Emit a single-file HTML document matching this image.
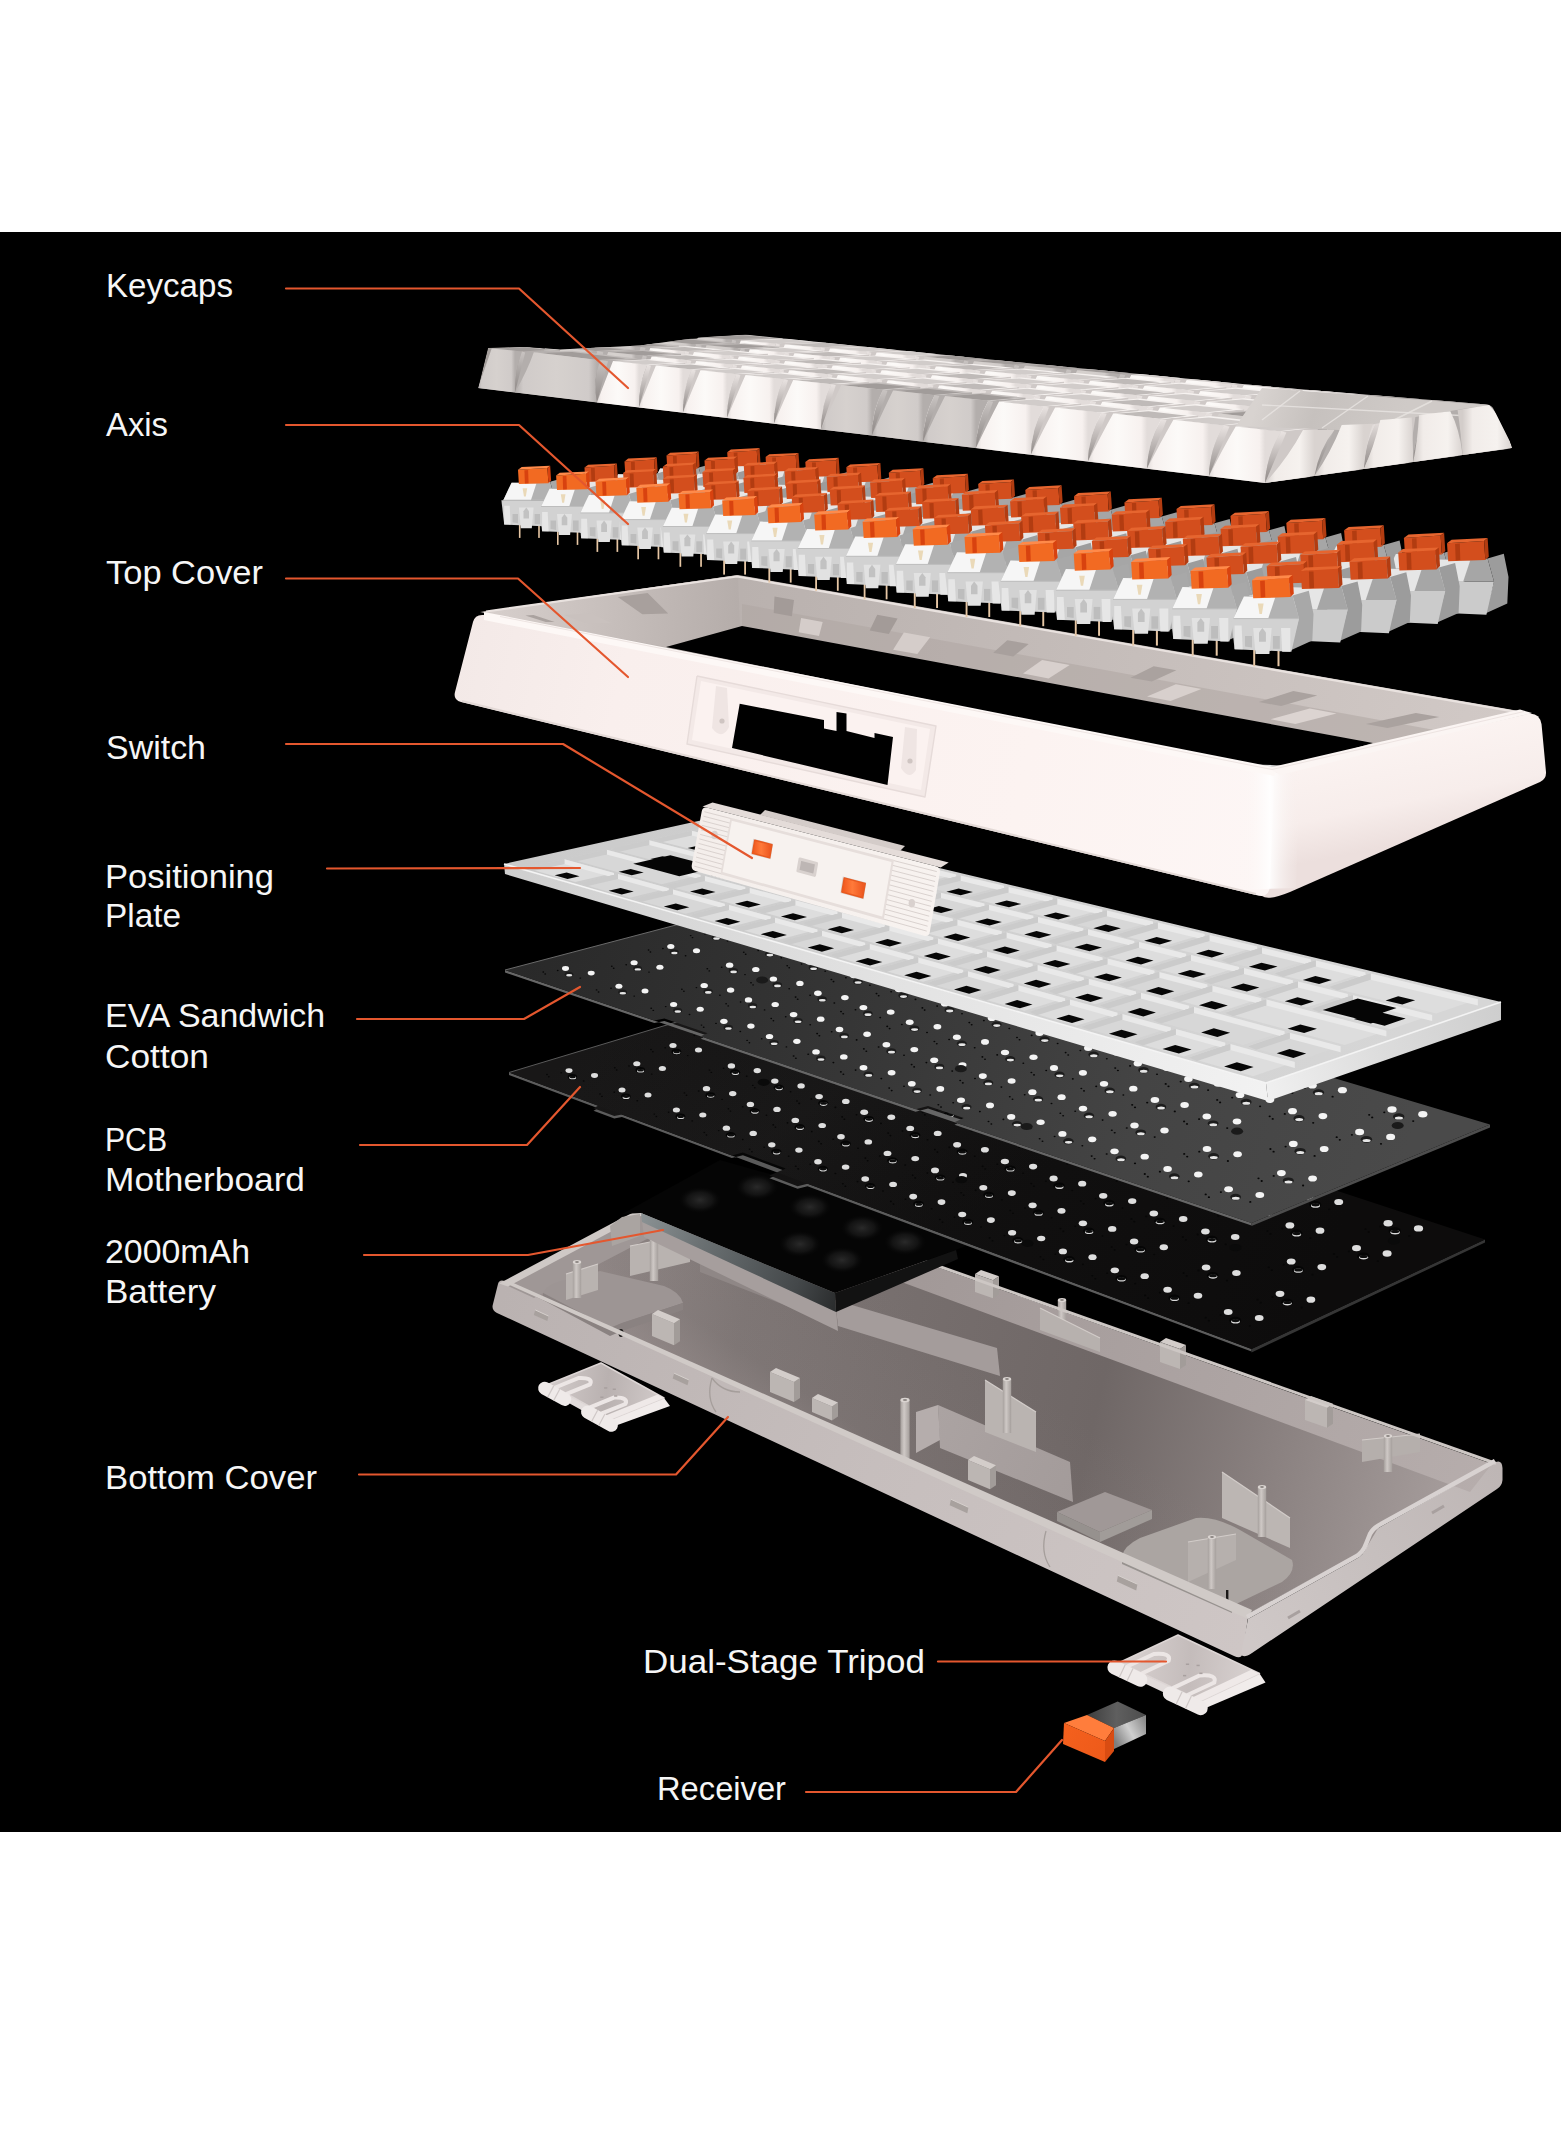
<!DOCTYPE html>
<html><head><meta charset="utf-8"><title>Keyboard exploded view</title>
<style>
html,body{margin:0;padding:0;background:#fff;}
body{width:1561px;height:2129px;overflow:hidden;font-family:"Liberation Sans",sans-serif;}
#stage{position:absolute;left:0;top:232px;width:1561px;height:1600px;background:#000;}
svg{position:absolute;left:0;top:0;display:block;}
</style></head><body>
<div id="stage"></div>
<svg width="1561" height="2129" viewBox="0 0 1561 2129">
<defs>
<linearGradient id="bcFront" gradientUnits="userSpaceOnUse" x1="500" y1="1300" x2="1245" y2="1640"><stop offset="0" stop-color="#bab2b1"/><stop offset="0.5" stop-color="#c6bebd"/><stop offset="1" stop-color="#cec6c5"/></linearGradient>
<linearGradient id="bcRight" gradientUnits="userSpaceOnUse" x1="1250" y1="1640" x2="1500" y2="1470"><stop offset="0" stop-color="#cfc8c7"/><stop offset="0.5" stop-color="#c6bfbe"/><stop offset="1" stop-color="#beb6b5"/></linearGradient>
<linearGradient id="bcFloor" gradientUnits="userSpaceOnUse" x1="560" y1="1300" x2="1450" y2="1500"><stop offset="0" stop-color="#908786"/><stop offset="0.2" stop-color="#7c7473"/><stop offset="0.6" stop-color="#6f6766"/><stop offset="0.8" stop-color="#8a8180"/><stop offset="1" stop-color="#a59c9b"/></linearGradient>
<linearGradient id="bcFloor2" gradientUnits="userSpaceOnUse" x1="1020" y1="1380" x2="900" y2="1560"><stop offset="0" stop-color="#988e8d" stop-opacity="0"/><stop offset="0.6" stop-color="#988e8d" stop-opacity="0.1"/><stop offset="1" stop-color="#9d9392" stop-opacity="0.8"/></linearGradient>
<linearGradient id="bcBack" gradientUnits="userSpaceOnUse" x1="700" y1="1184" x2="1491" y2="1465"><stop offset="0" stop-color="#9a9190"/><stop offset="1" stop-color="#b6adac"/></linearGradient>
<linearGradient id="pg1062_1300" gradientUnits="userSpaceOnUse" x1="1057.8" y1="0" x2="1066.2" y2="0"><stop offset="0" stop-color="#a59f9c"/><stop offset="0.4" stop-color="#cfc9c6"/><stop offset="1" stop-color="#a59f9c"/></linearGradient>
<linearGradient id="pg1388_1436" gradientUnits="userSpaceOnUse" x1="1383.8" y1="0" x2="1392.2" y2="0"><stop offset="0" stop-color="#a59f9c"/><stop offset="0.4" stop-color="#cfc9c6"/><stop offset="1" stop-color="#a59f9c"/></linearGradient>
<linearGradient id="bcMid" gradientUnits="userSpaceOnUse" x1="910" y1="1420" x2="1075" y2="1500"><stop offset="0" stop-color="#aca4a3"/><stop offset="1" stop-color="#a39b9a"/></linearGradient>
<linearGradient id="pg1007_1379" gradientUnits="userSpaceOnUse" x1="1002.8" y1="0" x2="1011.2" y2="0"><stop offset="0" stop-color="#a59f9c"/><stop offset="0.4" stop-color="#cfc9c6"/><stop offset="1" stop-color="#a59f9c"/></linearGradient>
<linearGradient id="pg905_1400" gradientUnits="userSpaceOnUse" x1="900.4" y1="0" x2="909.6" y2="0"><stop offset="0" stop-color="#a59f9c"/><stop offset="0.4" stop-color="#cfc9c6"/><stop offset="1" stop-color="#a59f9c"/></linearGradient>
<linearGradient id="pg577_1262" gradientUnits="userSpaceOnUse" x1="572.8" y1="0" x2="581.2" y2="0"><stop offset="0" stop-color="#a59f9c"/><stop offset="0.4" stop-color="#cfc9c6"/><stop offset="1" stop-color="#a59f9c"/></linearGradient>
<linearGradient id="pg654_1239" gradientUnits="userSpaceOnUse" x1="649.8" y1="0" x2="658.2" y2="0"><stop offset="0" stop-color="#a59f9c"/><stop offset="0.4" stop-color="#cfc9c6"/><stop offset="1" stop-color="#a59f9c"/></linearGradient>
<linearGradient id="pg1262_1487" gradientUnits="userSpaceOnUse" x1="1257.8" y1="0" x2="1266.2" y2="0"><stop offset="0" stop-color="#a59f9c"/><stop offset="0.4" stop-color="#cfc9c6"/><stop offset="1" stop-color="#a59f9c"/></linearGradient>
<linearGradient id="pg1212_1537" gradientUnits="userSpaceOnUse" x1="1207.8" y1="0" x2="1216.2" y2="0"><stop offset="0" stop-color="#a59f9c"/><stop offset="0.4" stop-color="#cfc9c6"/><stop offset="1" stop-color="#a59f9c"/></linearGradient>
<radialGradient id="bump"><stop offset="0" stop-color="#2a2a2a"/><stop offset="0.6" stop-color="#1a1a1a" stop-opacity="0.7"/><stop offset="1" stop-color="#0a0a0a" stop-opacity="0"/></radialGradient>
<linearGradient id="batF" gradientUnits="userSpaceOnUse" x1="641" y1="1220" x2="836" y2="1300"><stop offset="0" stop-color="#8a9193"/><stop offset="0.3" stop-color="#6b7173"/><stop offset="0.8" stop-color="#44484a"/><stop offset="1" stop-color="#2c2e2f"/></linearGradient>
<linearGradient id="pcbTop" gradientUnits="userSpaceOnUse" x1="600" y1="1040" x2="1300" y2="1330"><stop offset="0" stop-color="#181717"/><stop offset="0.5" stop-color="#111010"/><stop offset="1" stop-color="#0d0c0c"/></linearGradient>
<linearGradient id="pcbSheen" gradientUnits="userSpaceOnUse" x1="650" y1="1000" x2="850" y2="1300"><stop offset="0" stop-color="#3a3a3a" stop-opacity="0"/><stop offset="0.5" stop-color="#444" stop-opacity="0.1"/><stop offset="1" stop-color="#3a3a3a" stop-opacity="0"/></linearGradient>
<linearGradient id="evaTop" gradientUnits="userSpaceOnUse" x1="520" y1="960" x2="1400" y2="1180"><stop offset="0" stop-color="#292929"/><stop offset="0.3" stop-color="#333333"/><stop offset="0.7" stop-color="#444444"/><stop offset="1" stop-color="#4a4a4a"/></linearGradient>
<linearGradient id="plF" gradientUnits="userSpaceOnUse" x1="504" y1="870" x2="1266" y2="1095"><stop offset="0" stop-color="#cfcfcf"/><stop offset="0.5" stop-color="#e2e2e2"/><stop offset="1" stop-color="#f2f2f2"/></linearGradient>
<linearGradient id="plR" gradientUnits="userSpaceOnUse" x1="1266" y1="1090" x2="1501" y2="1010"><stop offset="0" stop-color="#f0f0f0"/><stop offset="0.5" stop-color="#dcdcdc"/><stop offset="1" stop-color="#cecece"/></linearGradient>
<linearGradient id="plT" gradientUnits="userSpaceOnUse" x1="520" y1="850" x2="1400" y2="1050"><stop offset="0" stop-color="#cbcbcb"/><stop offset="0.5" stop-color="#d0d0d0"/><stop offset="1" stop-color="#d6d6d6"/></linearGradient>
<linearGradient id="portF" gradientUnits="userSpaceOnUse" x1="700" y1="820" x2="935" y2="930"><stop offset="0" stop-color="#f4eeeb"/><stop offset="1" stop-color="#f8f3f0"/></linearGradient>
<linearGradient id="sw25" gradientUnits="userSpaceOnUse" x1="752.5" y1="0" x2="769.7" y2="0"><stop offset="0" stop-color="#f0551b"/><stop offset="0.5" stop-color="#ff7a3a"/><stop offset="1" stop-color="#ee5a22"/></linearGradient>
<linearGradient id="sw64" gradientUnits="userSpaceOnUse" x1="841.9" y1="0" x2="862.7" y2="0"><stop offset="0" stop-color="#f0551b"/><stop offset="0.5" stop-color="#ff7a3a"/><stop offset="1" stop-color="#ee5a22"/></linearGradient>
<linearGradient id="tcBack" gradientUnits="userSpaceOnUse" x1="738" y1="600" x2="1530" y2="740"><stop offset="0" stop-color="#b9b1ae"/><stop offset="0.5" stop-color="#c6bebb"/><stop offset="1" stop-color="#d2cac7"/></linearGradient>
<linearGradient id="tcLeft" gradientUnits="userSpaceOnUse" x1="480" y1="612" x2="738" y2="626"><stop offset="0" stop-color="#d8d0cd"/><stop offset="1" stop-color="#b5adaa"/></linearGradient>
<linearGradient id="tcRight" gradientUnits="userSpaceOnUse" x1="1400" y1="740" x2="1420" y2="840"><stop offset="0" stop-color="#fbf3f1"/><stop offset="0.6" stop-color="#f7edeb"/><stop offset="1" stop-color="#ecdfdd"/></linearGradient>
<linearGradient id="tcFront" gradientUnits="userSpaceOnUse" x1="455" y1="660" x2="1268" y2="830"><stop offset="0" stop-color="#f3e9e7"/><stop offset="0.2" stop-color="#f9efed"/><stop offset="0.7" stop-color="#fcf3f1"/><stop offset="1" stop-color="#fdf6f5"/></linearGradient>
<linearGradient id="tcCorner" gradientUnits="userSpaceOnUse" x1="1240" y1="0" x2="1300" y2="0"><stop offset="0" stop-color="#fbf4f2" stop-opacity="0"/><stop offset="0.5" stop-color="#ffffff" stop-opacity="0.9"/><stop offset="1" stop-color="#f6eeec" stop-opacity="0"/></linearGradient>
<clipPath id="kcClip"><path d="M478,389 L488,347.5 L520,346.5 L560,349.5 L640,345.5 L700,337.5 L745,334.5 L1000,360.5 L1268,386.5 L1487,404.5 Q1492,405 1494,410 L1512,446 Q1513,449 1509,449.5 L1265,484 Z"/></clipPath>
<linearGradient id="kc4_0" gradientUnits="userSpaceOnUse" x1="684.4" y1="0" x2="726.3" y2="0"><stop offset="0" stop-color="#b3aeac"/><stop offset="0.1" stop-color="#d0cbc9"/><stop offset="0.5" stop-color="#d6d1ce"/><stop offset="0.9" stop-color="#d0cbc9"/><stop offset="1" stop-color="#b3aeac"/></linearGradient>
<linearGradient id="kc4_0v" gradientUnits="userSpaceOnUse" x1="0" y1="378.7" x2="0" y2="339.7"><stop offset="0" stop-color="#8f8987"/><stop offset="0.5" stop-color="#a9a4a2"/><stop offset="1" stop-color="#c9c4c2"/></linearGradient>
<linearGradient id="kc4_1" gradientUnits="userSpaceOnUse" x1="726.3" y1="0" x2="769.5" y2="0"><stop offset="0" stop-color="#e2dcda"/><stop offset="0.1" stop-color="#f7f1ef"/><stop offset="0.5" stop-color="#fcfaf8"/><stop offset="0.9" stop-color="#f7f1ef"/><stop offset="1" stop-color="#e2dcda"/></linearGradient>
<linearGradient id="kc4_1v" gradientUnits="userSpaceOnUse" x1="0" y1="383.2" x2="0" y2="343.6"><stop offset="0" stop-color="#8f8987"/><stop offset="0.5" stop-color="#bdb7b5"/><stop offset="1" stop-color="#e9e3e1"/></linearGradient>
<linearGradient id="kc4_2" gradientUnits="userSpaceOnUse" x1="769.5" y1="0" x2="814" y2="0"><stop offset="0" stop-color="#e2dcda"/><stop offset="0.1" stop-color="#f7f1ef"/><stop offset="0.5" stop-color="#fcfaf8"/><stop offset="0.9" stop-color="#f7f1ef"/><stop offset="1" stop-color="#e2dcda"/></linearGradient>
<linearGradient id="kc4_2v" gradientUnits="userSpaceOnUse" x1="0" y1="387.8" x2="0" y2="347.6"><stop offset="0" stop-color="#8f8987"/><stop offset="0.5" stop-color="#bdb7b5"/><stop offset="1" stop-color="#e9e3e1"/></linearGradient>
<linearGradient id="kc4_3" gradientUnits="userSpaceOnUse" x1="814" y1="0" x2="859.8" y2="0"><stop offset="0" stop-color="#e2dcda"/><stop offset="0.1" stop-color="#f7f1ef"/><stop offset="0.5" stop-color="#fcfaf8"/><stop offset="0.9" stop-color="#f7f1ef"/><stop offset="1" stop-color="#e2dcda"/></linearGradient>
<linearGradient id="kc4_3v" gradientUnits="userSpaceOnUse" x1="0" y1="392.6" x2="0" y2="351.7"><stop offset="0" stop-color="#8f8987"/><stop offset="0.5" stop-color="#bdb7b5"/><stop offset="1" stop-color="#e9e3e1"/></linearGradient>
<linearGradient id="kc4_4" gradientUnits="userSpaceOnUse" x1="859.8" y1="0" x2="907" y2="0"><stop offset="0" stop-color="#e2dcda"/><stop offset="0.1" stop-color="#f7f1ef"/><stop offset="0.5" stop-color="#fcfaf8"/><stop offset="0.9" stop-color="#f7f1ef"/><stop offset="1" stop-color="#e2dcda"/></linearGradient>
<linearGradient id="kc4_4v" gradientUnits="userSpaceOnUse" x1="0" y1="397.5" x2="0" y2="356"><stop offset="0" stop-color="#8f8987"/><stop offset="0.5" stop-color="#bdb7b5"/><stop offset="1" stop-color="#e9e3e1"/></linearGradient>
<linearGradient id="kc4_5" gradientUnits="userSpaceOnUse" x1="907" y1="0" x2="955.5" y2="0"><stop offset="0" stop-color="#b3aeac"/><stop offset="0.1" stop-color="#d0cbc9"/><stop offset="0.5" stop-color="#d6d1ce"/><stop offset="0.9" stop-color="#d0cbc9"/><stop offset="1" stop-color="#b3aeac"/></linearGradient>
<linearGradient id="kc4_5v" gradientUnits="userSpaceOnUse" x1="0" y1="402.5" x2="0" y2="360.4"><stop offset="0" stop-color="#8f8987"/><stop offset="0.5" stop-color="#a9a4a2"/><stop offset="1" stop-color="#c9c4c2"/></linearGradient>
<linearGradient id="kc4_6" gradientUnits="userSpaceOnUse" x1="955.5" y1="0" x2="1005.5" y2="0"><stop offset="0" stop-color="#b3aeac"/><stop offset="0.1" stop-color="#d0cbc9"/><stop offset="0.5" stop-color="#d6d1ce"/><stop offset="0.9" stop-color="#d0cbc9"/><stop offset="1" stop-color="#b3aeac"/></linearGradient>
<linearGradient id="kc4_6v" gradientUnits="userSpaceOnUse" x1="0" y1="407.7" x2="0" y2="364.9"><stop offset="0" stop-color="#8f8987"/><stop offset="0.5" stop-color="#a9a4a2"/><stop offset="1" stop-color="#c9c4c2"/></linearGradient>
<linearGradient id="kc4_7" gradientUnits="userSpaceOnUse" x1="1005.5" y1="0" x2="1057" y2="0"><stop offset="0" stop-color="#b3aeac"/><stop offset="0.1" stop-color="#d0cbc9"/><stop offset="0.5" stop-color="#d6d1ce"/><stop offset="0.9" stop-color="#d0cbc9"/><stop offset="1" stop-color="#b3aeac"/></linearGradient>
<linearGradient id="kc4_7v" gradientUnits="userSpaceOnUse" x1="0" y1="413" x2="0" y2="369.5"><stop offset="0" stop-color="#8f8987"/><stop offset="0.5" stop-color="#a9a4a2"/><stop offset="1" stop-color="#c9c4c2"/></linearGradient>
<linearGradient id="kc4_8" gradientUnits="userSpaceOnUse" x1="1057" y1="0" x2="1110" y2="0"><stop offset="0" stop-color="#b3aeac"/><stop offset="0.1" stop-color="#d0cbc9"/><stop offset="0.5" stop-color="#d6d1ce"/><stop offset="0.9" stop-color="#d0cbc9"/><stop offset="1" stop-color="#b3aeac"/></linearGradient>
<linearGradient id="kc4_8v" gradientUnits="userSpaceOnUse" x1="0" y1="418.5" x2="0" y2="374.3"><stop offset="0" stop-color="#8f8987"/><stop offset="0.5" stop-color="#a9a4a2"/><stop offset="1" stop-color="#c9c4c2"/></linearGradient>
<linearGradient id="kc4_9" gradientUnits="userSpaceOnUse" x1="1110" y1="0" x2="1164.5" y2="0"><stop offset="0" stop-color="#e2dcda"/><stop offset="0.1" stop-color="#f7f1ef"/><stop offset="0.5" stop-color="#fcfaf8"/><stop offset="0.9" stop-color="#f7f1ef"/><stop offset="1" stop-color="#e2dcda"/></linearGradient>
<linearGradient id="kc4_9v" gradientUnits="userSpaceOnUse" x1="0" y1="424.1" x2="0" y2="379.2"><stop offset="0" stop-color="#8f8987"/><stop offset="0.5" stop-color="#bdb7b5"/><stop offset="1" stop-color="#e9e3e1"/></linearGradient>
<linearGradient id="kc4_10" gradientUnits="userSpaceOnUse" x1="1164.5" y1="0" x2="1220.7" y2="0"><stop offset="0" stop-color="#e2dcda"/><stop offset="0.1" stop-color="#f7f1ef"/><stop offset="0.5" stop-color="#fcfaf8"/><stop offset="0.9" stop-color="#f7f1ef"/><stop offset="1" stop-color="#e2dcda"/></linearGradient>
<linearGradient id="kc4_10v" gradientUnits="userSpaceOnUse" x1="0" y1="429.9" x2="0" y2="384.2"><stop offset="0" stop-color="#8f8987"/><stop offset="0.5" stop-color="#bdb7b5"/><stop offset="1" stop-color="#e9e3e1"/></linearGradient>
<linearGradient id="kc4_11" gradientUnits="userSpaceOnUse" x1="1220.7" y1="0" x2="1278.6" y2="0"><stop offset="0" stop-color="#e2dcda"/><stop offset="0.1" stop-color="#f7f1ef"/><stop offset="0.5" stop-color="#fcfaf8"/><stop offset="0.9" stop-color="#f7f1ef"/><stop offset="1" stop-color="#e2dcda"/></linearGradient>
<linearGradient id="kc4_11v" gradientUnits="userSpaceOnUse" x1="0" y1="435.9" x2="0" y2="389.5"><stop offset="0" stop-color="#8f8987"/><stop offset="0.5" stop-color="#bdb7b5"/><stop offset="1" stop-color="#e9e3e1"/></linearGradient>
<linearGradient id="kc4_12" gradientUnits="userSpaceOnUse" x1="1278.6" y1="0" x2="1338.1" y2="0"><stop offset="0" stop-color="#e2dcda"/><stop offset="0.1" stop-color="#f7f1ef"/><stop offset="0.5" stop-color="#fcfaf8"/><stop offset="0.9" stop-color="#f7f1ef"/><stop offset="1" stop-color="#e2dcda"/></linearGradient>
<linearGradient id="kc4_12v" gradientUnits="userSpaceOnUse" x1="0" y1="442.1" x2="0" y2="394.8"><stop offset="0" stop-color="#8f8987"/><stop offset="0.5" stop-color="#bdb7b5"/><stop offset="1" stop-color="#e9e3e1"/></linearGradient>
<linearGradient id="kc4_13" gradientUnits="userSpaceOnUse" x1="1338.1" y1="0" x2="1399.5" y2="0"><stop offset="0" stop-color="#b3aeac"/><stop offset="0.1" stop-color="#d0cbc9"/><stop offset="0.5" stop-color="#d6d1ce"/><stop offset="0.9" stop-color="#d0cbc9"/><stop offset="1" stop-color="#b3aeac"/></linearGradient>
<linearGradient id="kc4_13v" gradientUnits="userSpaceOnUse" x1="0" y1="448.5" x2="0" y2="400.4"><stop offset="0" stop-color="#8f8987"/><stop offset="0.5" stop-color="#a9a4a2"/><stop offset="1" stop-color="#c9c4c2"/></linearGradient>
<linearGradient id="kc4_14" gradientUnits="userSpaceOnUse" x1="1399.5" y1="0" x2="1462.6" y2="0"><stop offset="0" stop-color="#b3aeac"/><stop offset="0.1" stop-color="#d0cbc9"/><stop offset="0.5" stop-color="#d6d1ce"/><stop offset="0.9" stop-color="#d0cbc9"/><stop offset="1" stop-color="#b3aeac"/></linearGradient>
<linearGradient id="kc4_14v" gradientUnits="userSpaceOnUse" x1="0" y1="455" x2="0" y2="406"><stop offset="0" stop-color="#8f8987"/><stop offset="0.5" stop-color="#a9a4a2"/><stop offset="1" stop-color="#c9c4c2"/></linearGradient>
<linearGradient id="kc3_0" gradientUnits="userSpaceOnUse" x1="632.8" y1="0" x2="691.7" y2="0"><stop offset="0" stop-color="#b3aeac"/><stop offset="0.1" stop-color="#d0cbc9"/><stop offset="0.5" stop-color="#d6d1ce"/><stop offset="0.9" stop-color="#d0cbc9"/><stop offset="1" stop-color="#b3aeac"/></linearGradient>
<linearGradient id="kc3_0v" gradientUnits="userSpaceOnUse" x1="0" y1="384.2" x2="0" y2="344.4"><stop offset="0" stop-color="#8f8987"/><stop offset="0.5" stop-color="#a9a4a2"/><stop offset="1" stop-color="#c9c4c2"/></linearGradient>
<linearGradient id="kc3_1" gradientUnits="userSpaceOnUse" x1="691.7" y1="0" x2="734.3" y2="0"><stop offset="0" stop-color="#b3aeac"/><stop offset="0.1" stop-color="#d0cbc9"/><stop offset="0.5" stop-color="#d6d1ce"/><stop offset="0.9" stop-color="#d0cbc9"/><stop offset="1" stop-color="#b3aeac"/></linearGradient>
<linearGradient id="kc3_1v" gradientUnits="userSpaceOnUse" x1="0" y1="388.7" x2="0" y2="348.4"><stop offset="0" stop-color="#8f8987"/><stop offset="0.5" stop-color="#a9a4a2"/><stop offset="1" stop-color="#c9c4c2"/></linearGradient>
<linearGradient id="kc3_2" gradientUnits="userSpaceOnUse" x1="734.3" y1="0" x2="778.1" y2="0"><stop offset="0" stop-color="#e2dcda"/><stop offset="0.1" stop-color="#f7f1ef"/><stop offset="0.5" stop-color="#fcfaf8"/><stop offset="0.9" stop-color="#f7f1ef"/><stop offset="1" stop-color="#e2dcda"/></linearGradient>
<linearGradient id="kc3_2v" gradientUnits="userSpaceOnUse" x1="0" y1="393.5" x2="0" y2="352.5"><stop offset="0" stop-color="#8f8987"/><stop offset="0.5" stop-color="#bdb7b5"/><stop offset="1" stop-color="#e9e3e1"/></linearGradient>
<linearGradient id="kc3_3" gradientUnits="userSpaceOnUse" x1="778.1" y1="0" x2="823.1" y2="0"><stop offset="0" stop-color="#e2dcda"/><stop offset="0.1" stop-color="#f7f1ef"/><stop offset="0.5" stop-color="#fcfaf8"/><stop offset="0.9" stop-color="#f7f1ef"/><stop offset="1" stop-color="#e2dcda"/></linearGradient>
<linearGradient id="kc3_3v" gradientUnits="userSpaceOnUse" x1="0" y1="398.3" x2="0" y2="356.8"><stop offset="0" stop-color="#8f8987"/><stop offset="0.5" stop-color="#bdb7b5"/><stop offset="1" stop-color="#e9e3e1"/></linearGradient>
<linearGradient id="kc3_4" gradientUnits="userSpaceOnUse" x1="823.1" y1="0" x2="869.5" y2="0"><stop offset="0" stop-color="#e2dcda"/><stop offset="0.1" stop-color="#f7f1ef"/><stop offset="0.5" stop-color="#fcfaf8"/><stop offset="0.9" stop-color="#f7f1ef"/><stop offset="1" stop-color="#e2dcda"/></linearGradient>
<linearGradient id="kc3_4v" gradientUnits="userSpaceOnUse" x1="0" y1="403.3" x2="0" y2="361.2"><stop offset="0" stop-color="#8f8987"/><stop offset="0.5" stop-color="#bdb7b5"/><stop offset="1" stop-color="#e9e3e1"/></linearGradient>
<linearGradient id="kc3_5" gradientUnits="userSpaceOnUse" x1="869.5" y1="0" x2="917.2" y2="0"><stop offset="0" stop-color="#e2dcda"/><stop offset="0.1" stop-color="#f7f1ef"/><stop offset="0.5" stop-color="#fcfaf8"/><stop offset="0.9" stop-color="#f7f1ef"/><stop offset="1" stop-color="#e2dcda"/></linearGradient>
<linearGradient id="kc3_5v" gradientUnits="userSpaceOnUse" x1="0" y1="408.5" x2="0" y2="365.7"><stop offset="0" stop-color="#8f8987"/><stop offset="0.5" stop-color="#bdb7b5"/><stop offset="1" stop-color="#e9e3e1"/></linearGradient>
<linearGradient id="kc3_6" gradientUnits="userSpaceOnUse" x1="917.2" y1="0" x2="966.2" y2="0"><stop offset="0" stop-color="#e2dcda"/><stop offset="0.1" stop-color="#f7f1ef"/><stop offset="0.5" stop-color="#fcfaf8"/><stop offset="0.9" stop-color="#f7f1ef"/><stop offset="1" stop-color="#e2dcda"/></linearGradient>
<linearGradient id="kc3_6v" gradientUnits="userSpaceOnUse" x1="0" y1="413.8" x2="0" y2="370.3"><stop offset="0" stop-color="#8f8987"/><stop offset="0.5" stop-color="#bdb7b5"/><stop offset="1" stop-color="#e9e3e1"/></linearGradient>
<linearGradient id="kc3_7" gradientUnits="userSpaceOnUse" x1="966.2" y1="0" x2="1016.7" y2="0"><stop offset="0" stop-color="#e2dcda"/><stop offset="0.1" stop-color="#f7f1ef"/><stop offset="0.5" stop-color="#fcfaf8"/><stop offset="0.9" stop-color="#f7f1ef"/><stop offset="1" stop-color="#e2dcda"/></linearGradient>
<linearGradient id="kc3_7v" gradientUnits="userSpaceOnUse" x1="0" y1="419.2" x2="0" y2="375"><stop offset="0" stop-color="#8f8987"/><stop offset="0.5" stop-color="#bdb7b5"/><stop offset="1" stop-color="#e9e3e1"/></linearGradient>
<linearGradient id="kc3_8" gradientUnits="userSpaceOnUse" x1="1016.7" y1="0" x2="1068.6" y2="0"><stop offset="0" stop-color="#e2dcda"/><stop offset="0.1" stop-color="#f7f1ef"/><stop offset="0.5" stop-color="#fcfaf8"/><stop offset="0.9" stop-color="#f7f1ef"/><stop offset="1" stop-color="#e2dcda"/></linearGradient>
<linearGradient id="kc3_8v" gradientUnits="userSpaceOnUse" x1="0" y1="424.8" x2="0" y2="379.9"><stop offset="0" stop-color="#8f8987"/><stop offset="0.5" stop-color="#bdb7b5"/><stop offset="1" stop-color="#e9e3e1"/></linearGradient>
<linearGradient id="kc3_9" gradientUnits="userSpaceOnUse" x1="1068.6" y1="0" x2="1122.1" y2="0"><stop offset="0" stop-color="#e2dcda"/><stop offset="0.1" stop-color="#f7f1ef"/><stop offset="0.5" stop-color="#fcfaf8"/><stop offset="0.9" stop-color="#f7f1ef"/><stop offset="1" stop-color="#e2dcda"/></linearGradient>
<linearGradient id="kc3_9v" gradientUnits="userSpaceOnUse" x1="0" y1="430.6" x2="0" y2="385"><stop offset="0" stop-color="#8f8987"/><stop offset="0.5" stop-color="#bdb7b5"/><stop offset="1" stop-color="#e9e3e1"/></linearGradient>
<linearGradient id="kc3_10" gradientUnits="userSpaceOnUse" x1="1122.1" y1="0" x2="1177" y2="0"><stop offset="0" stop-color="#e2dcda"/><stop offset="0.1" stop-color="#f7f1ef"/><stop offset="0.5" stop-color="#fcfaf8"/><stop offset="0.9" stop-color="#f7f1ef"/><stop offset="1" stop-color="#e2dcda"/></linearGradient>
<linearGradient id="kc3_10v" gradientUnits="userSpaceOnUse" x1="0" y1="436.5" x2="0" y2="390.2"><stop offset="0" stop-color="#8f8987"/><stop offset="0.5" stop-color="#bdb7b5"/><stop offset="1" stop-color="#e9e3e1"/></linearGradient>
<linearGradient id="kc3_11" gradientUnits="userSpaceOnUse" x1="1177" y1="0" x2="1233.6" y2="0"><stop offset="0" stop-color="#e2dcda"/><stop offset="0.1" stop-color="#f7f1ef"/><stop offset="0.5" stop-color="#fcfaf8"/><stop offset="0.9" stop-color="#f7f1ef"/><stop offset="1" stop-color="#e2dcda"/></linearGradient>
<linearGradient id="kc3_11v" gradientUnits="userSpaceOnUse" x1="0" y1="442.6" x2="0" y2="395.5"><stop offset="0" stop-color="#8f8987"/><stop offset="0.5" stop-color="#bdb7b5"/><stop offset="1" stop-color="#e9e3e1"/></linearGradient>
<linearGradient id="kc3_12" gradientUnits="userSpaceOnUse" x1="1233.6" y1="0" x2="1291.8" y2="0"><stop offset="0" stop-color="#e2dcda"/><stop offset="0.1" stop-color="#f7f1ef"/><stop offset="0.5" stop-color="#fcfaf8"/><stop offset="0.9" stop-color="#f7f1ef"/><stop offset="1" stop-color="#e2dcda"/></linearGradient>
<linearGradient id="kc3_12v" gradientUnits="userSpaceOnUse" x1="0" y1="448.9" x2="0" y2="401"><stop offset="0" stop-color="#8f8987"/><stop offset="0.5" stop-color="#bdb7b5"/><stop offset="1" stop-color="#e9e3e1"/></linearGradient>
<linearGradient id="kc3_13" gradientUnits="userSpaceOnUse" x1="1291.8" y1="0" x2="1351.6" y2="0"><stop offset="0" stop-color="#b3aeac"/><stop offset="0.1" stop-color="#d0cbc9"/><stop offset="0.5" stop-color="#d6d1ce"/><stop offset="0.9" stop-color="#d0cbc9"/><stop offset="1" stop-color="#b3aeac"/></linearGradient>
<linearGradient id="kc3_13v" gradientUnits="userSpaceOnUse" x1="0" y1="455.4" x2="0" y2="406.6"><stop offset="0" stop-color="#8f8987"/><stop offset="0.5" stop-color="#a9a4a2"/><stop offset="1" stop-color="#c9c4c2"/></linearGradient>
<linearGradient id="kc3_14" gradientUnits="userSpaceOnUse" x1="1351.6" y1="0" x2="1413.2" y2="0"><stop offset="0" stop-color="#b3aeac"/><stop offset="0.1" stop-color="#d0cbc9"/><stop offset="0.5" stop-color="#d6d1ce"/><stop offset="0.9" stop-color="#d0cbc9"/><stop offset="1" stop-color="#b3aeac"/></linearGradient>
<linearGradient id="kc3_14v" gradientUnits="userSpaceOnUse" x1="0" y1="462" x2="0" y2="412.4"><stop offset="0" stop-color="#8f8987"/><stop offset="0.5" stop-color="#a9a4a2"/><stop offset="1" stop-color="#c9c4c2"/></linearGradient>
<linearGradient id="kc2_0" gradientUnits="userSpaceOnUse" x1="581.2" y1="0" x2="635.4" y2="0"><stop offset="0" stop-color="#b3aeac"/><stop offset="0.1" stop-color="#d0cbc9"/><stop offset="0.5" stop-color="#d6d1ce"/><stop offset="0.9" stop-color="#d0cbc9"/><stop offset="1" stop-color="#b3aeac"/></linearGradient>
<linearGradient id="kc2_0v" gradientUnits="userSpaceOnUse" x1="0" y1="387.3" x2="0" y2="347.1"><stop offset="0" stop-color="#8f8987"/><stop offset="0.5" stop-color="#a9a4a2"/><stop offset="1" stop-color="#c9c4c2"/></linearGradient>
<linearGradient id="kc2_1" gradientUnits="userSpaceOnUse" x1="635.4" y1="0" x2="678.3" y2="0"><stop offset="0" stop-color="#e2dcda"/><stop offset="0.1" stop-color="#f7f1ef"/><stop offset="0.5" stop-color="#fcfaf8"/><stop offset="0.9" stop-color="#f7f1ef"/><stop offset="1" stop-color="#e2dcda"/></linearGradient>
<linearGradient id="kc2_1v" gradientUnits="userSpaceOnUse" x1="0" y1="392.1" x2="0" y2="351.3"><stop offset="0" stop-color="#8f8987"/><stop offset="0.5" stop-color="#bdb7b5"/><stop offset="1" stop-color="#e9e3e1"/></linearGradient>
<linearGradient id="kc2_2" gradientUnits="userSpaceOnUse" x1="678.3" y1="0" x2="722.5" y2="0"><stop offset="0" stop-color="#e2dcda"/><stop offset="0.1" stop-color="#f7f1ef"/><stop offset="0.5" stop-color="#fcfaf8"/><stop offset="0.9" stop-color="#f7f1ef"/><stop offset="1" stop-color="#e2dcda"/></linearGradient>
<linearGradient id="kc2_2v" gradientUnits="userSpaceOnUse" x1="0" y1="397.1" x2="0" y2="355.7"><stop offset="0" stop-color="#8f8987"/><stop offset="0.5" stop-color="#bdb7b5"/><stop offset="1" stop-color="#e9e3e1"/></linearGradient>
<linearGradient id="kc2_3" gradientUnits="userSpaceOnUse" x1="722.5" y1="0" x2="767.9" y2="0"><stop offset="0" stop-color="#e2dcda"/><stop offset="0.1" stop-color="#f7f1ef"/><stop offset="0.5" stop-color="#fcfaf8"/><stop offset="0.9" stop-color="#f7f1ef"/><stop offset="1" stop-color="#e2dcda"/></linearGradient>
<linearGradient id="kc2_3v" gradientUnits="userSpaceOnUse" x1="0" y1="402.1" x2="0" y2="360.1"><stop offset="0" stop-color="#8f8987"/><stop offset="0.5" stop-color="#bdb7b5"/><stop offset="1" stop-color="#e9e3e1"/></linearGradient>
<linearGradient id="kc2_4" gradientUnits="userSpaceOnUse" x1="767.9" y1="0" x2="814.7" y2="0"><stop offset="0" stop-color="#e2dcda"/><stop offset="0.1" stop-color="#f7f1ef"/><stop offset="0.5" stop-color="#fcfaf8"/><stop offset="0.9" stop-color="#f7f1ef"/><stop offset="1" stop-color="#e2dcda"/></linearGradient>
<linearGradient id="kc2_4v" gradientUnits="userSpaceOnUse" x1="0" y1="407.4" x2="0" y2="364.7"><stop offset="0" stop-color="#8f8987"/><stop offset="0.5" stop-color="#bdb7b5"/><stop offset="1" stop-color="#e9e3e1"/></linearGradient>
<linearGradient id="kc2_5" gradientUnits="userSpaceOnUse" x1="814.7" y1="0" x2="862.8" y2="0"><stop offset="0" stop-color="#e2dcda"/><stop offset="0.1" stop-color="#f7f1ef"/><stop offset="0.5" stop-color="#fcfaf8"/><stop offset="0.9" stop-color="#f7f1ef"/><stop offset="1" stop-color="#e2dcda"/></linearGradient>
<linearGradient id="kc2_5v" gradientUnits="userSpaceOnUse" x1="0" y1="412.8" x2="0" y2="369.5"><stop offset="0" stop-color="#8f8987"/><stop offset="0.5" stop-color="#bdb7b5"/><stop offset="1" stop-color="#e9e3e1"/></linearGradient>
<linearGradient id="kc2_6" gradientUnits="userSpaceOnUse" x1="862.8" y1="0" x2="912.3" y2="0"><stop offset="0" stop-color="#e2dcda"/><stop offset="0.1" stop-color="#f7f1ef"/><stop offset="0.5" stop-color="#fcfaf8"/><stop offset="0.9" stop-color="#f7f1ef"/><stop offset="1" stop-color="#e2dcda"/></linearGradient>
<linearGradient id="kc2_6v" gradientUnits="userSpaceOnUse" x1="0" y1="418.3" x2="0" y2="374.4"><stop offset="0" stop-color="#8f8987"/><stop offset="0.5" stop-color="#bdb7b5"/><stop offset="1" stop-color="#e9e3e1"/></linearGradient>
<linearGradient id="kc2_7" gradientUnits="userSpaceOnUse" x1="912.3" y1="0" x2="963.2" y2="0"><stop offset="0" stop-color="#e2dcda"/><stop offset="0.1" stop-color="#f7f1ef"/><stop offset="0.5" stop-color="#fcfaf8"/><stop offset="0.9" stop-color="#f7f1ef"/><stop offset="1" stop-color="#e2dcda"/></linearGradient>
<linearGradient id="kc2_7v" gradientUnits="userSpaceOnUse" x1="0" y1="424.1" x2="0" y2="379.4"><stop offset="0" stop-color="#8f8987"/><stop offset="0.5" stop-color="#bdb7b5"/><stop offset="1" stop-color="#e9e3e1"/></linearGradient>
<linearGradient id="kc2_8" gradientUnits="userSpaceOnUse" x1="963.2" y1="0" x2="1015.7" y2="0"><stop offset="0" stop-color="#e2dcda"/><stop offset="0.1" stop-color="#f7f1ef"/><stop offset="0.5" stop-color="#fcfaf8"/><stop offset="0.9" stop-color="#f7f1ef"/><stop offset="1" stop-color="#e2dcda"/></linearGradient>
<linearGradient id="kc2_8v" gradientUnits="userSpaceOnUse" x1="0" y1="429.9" x2="0" y2="384.5"><stop offset="0" stop-color="#8f8987"/><stop offset="0.5" stop-color="#bdb7b5"/><stop offset="1" stop-color="#e9e3e1"/></linearGradient>
<linearGradient id="kc2_9" gradientUnits="userSpaceOnUse" x1="1015.7" y1="0" x2="1069.6" y2="0"><stop offset="0" stop-color="#e2dcda"/><stop offset="0.1" stop-color="#f7f1ef"/><stop offset="0.5" stop-color="#fcfaf8"/><stop offset="0.9" stop-color="#f7f1ef"/><stop offset="1" stop-color="#e2dcda"/></linearGradient>
<linearGradient id="kc2_9v" gradientUnits="userSpaceOnUse" x1="0" y1="436" x2="0" y2="389.9"><stop offset="0" stop-color="#8f8987"/><stop offset="0.5" stop-color="#bdb7b5"/><stop offset="1" stop-color="#e9e3e1"/></linearGradient>
<linearGradient id="kc2_10" gradientUnits="userSpaceOnUse" x1="1069.6" y1="0" x2="1125.1" y2="0"><stop offset="0" stop-color="#e2dcda"/><stop offset="0.1" stop-color="#f7f1ef"/><stop offset="0.5" stop-color="#fcfaf8"/><stop offset="0.9" stop-color="#f7f1ef"/><stop offset="1" stop-color="#e2dcda"/></linearGradient>
<linearGradient id="kc2_10v" gradientUnits="userSpaceOnUse" x1="0" y1="442.2" x2="0" y2="395.3"><stop offset="0" stop-color="#8f8987"/><stop offset="0.5" stop-color="#bdb7b5"/><stop offset="1" stop-color="#e9e3e1"/></linearGradient>
<linearGradient id="kc2_11" gradientUnits="userSpaceOnUse" x1="1125.1" y1="0" x2="1182.3" y2="0"><stop offset="0" stop-color="#e2dcda"/><stop offset="0.1" stop-color="#f7f1ef"/><stop offset="0.5" stop-color="#fcfaf8"/><stop offset="0.9" stop-color="#f7f1ef"/><stop offset="1" stop-color="#e2dcda"/></linearGradient>
<linearGradient id="kc2_11v" gradientUnits="userSpaceOnUse" x1="0" y1="448.6" x2="0" y2="400.9"><stop offset="0" stop-color="#8f8987"/><stop offset="0.5" stop-color="#bdb7b5"/><stop offset="1" stop-color="#e9e3e1"/></linearGradient>
<linearGradient id="kc2_12" gradientUnits="userSpaceOnUse" x1="1182.3" y1="0" x2="1241" y2="0"><stop offset="0" stop-color="#e2dcda"/><stop offset="0.1" stop-color="#f7f1ef"/><stop offset="0.5" stop-color="#fcfaf8"/><stop offset="0.9" stop-color="#f7f1ef"/><stop offset="1" stop-color="#e2dcda"/></linearGradient>
<linearGradient id="kc2_12v" gradientUnits="userSpaceOnUse" x1="0" y1="455.2" x2="0" y2="406.7"><stop offset="0" stop-color="#8f8987"/><stop offset="0.5" stop-color="#bdb7b5"/><stop offset="1" stop-color="#e9e3e1"/></linearGradient>
<linearGradient id="kc2_13" gradientUnits="userSpaceOnUse" x1="1241" y1="0" x2="1301.5" y2="0"><stop offset="0" stop-color="#e2dcda"/><stop offset="0.1" stop-color="#f7f1ef"/><stop offset="0.5" stop-color="#fcfaf8"/><stop offset="0.9" stop-color="#f7f1ef"/><stop offset="1" stop-color="#e2dcda"/></linearGradient>
<linearGradient id="kc2_13v" gradientUnits="userSpaceOnUse" x1="0" y1="462" x2="0" y2="412.7"><stop offset="0" stop-color="#8f8987"/><stop offset="0.5" stop-color="#bdb7b5"/><stop offset="1" stop-color="#e9e3e1"/></linearGradient>
<linearGradient id="kc2_14" gradientUnits="userSpaceOnUse" x1="1301.5" y1="0" x2="1363.8" y2="0"><stop offset="0" stop-color="#e2dcda"/><stop offset="0.1" stop-color="#f7f1ef"/><stop offset="0.5" stop-color="#fcfaf8"/><stop offset="0.9" stop-color="#f7f1ef"/><stop offset="1" stop-color="#e2dcda"/></linearGradient>
<linearGradient id="kc2_14v" gradientUnits="userSpaceOnUse" x1="0" y1="469" x2="0" y2="418.8"><stop offset="0" stop-color="#8f8987"/><stop offset="0.5" stop-color="#bdb7b5"/><stop offset="1" stop-color="#e9e3e1"/></linearGradient>
<linearGradient id="kc1_0" gradientUnits="userSpaceOnUse" x1="529.6" y1="0" x2="593.1" y2="0"><stop offset="0" stop-color="#b3aeac"/><stop offset="0.1" stop-color="#d0cbc9"/><stop offset="0.5" stop-color="#d6d1ce"/><stop offset="0.9" stop-color="#d0cbc9"/><stop offset="1" stop-color="#b3aeac"/></linearGradient>
<linearGradient id="kc1_0v" gradientUnits="userSpaceOnUse" x1="0" y1="392" x2="0" y2="351.2"><stop offset="0" stop-color="#8f8987"/><stop offset="0.5" stop-color="#a9a4a2"/><stop offset="1" stop-color="#c9c4c2"/></linearGradient>
<linearGradient id="kc1_1" gradientUnits="userSpaceOnUse" x1="593.1" y1="0" x2="635.7" y2="0"><stop offset="0" stop-color="#b3aeac"/><stop offset="0.1" stop-color="#d0cbc9"/><stop offset="0.5" stop-color="#d6d1ce"/><stop offset="0.9" stop-color="#d0cbc9"/><stop offset="1" stop-color="#b3aeac"/></linearGradient>
<linearGradient id="kc1_1v" gradientUnits="userSpaceOnUse" x1="0" y1="397" x2="0" y2="355.6"><stop offset="0" stop-color="#8f8987"/><stop offset="0.5" stop-color="#a9a4a2"/><stop offset="1" stop-color="#c9c4c2"/></linearGradient>
<linearGradient id="kc1_2" gradientUnits="userSpaceOnUse" x1="635.7" y1="0" x2="679.5" y2="0"><stop offset="0" stop-color="#e2dcda"/><stop offset="0.1" stop-color="#f7f1ef"/><stop offset="0.5" stop-color="#fcfaf8"/><stop offset="0.9" stop-color="#f7f1ef"/><stop offset="1" stop-color="#e2dcda"/></linearGradient>
<linearGradient id="kc1_2v" gradientUnits="userSpaceOnUse" x1="0" y1="402.1" x2="0" y2="360.1"><stop offset="0" stop-color="#8f8987"/><stop offset="0.5" stop-color="#bdb7b5"/><stop offset="1" stop-color="#e9e3e1"/></linearGradient>
<linearGradient id="kc1_3" gradientUnits="userSpaceOnUse" x1="679.5" y1="0" x2="724.6" y2="0"><stop offset="0" stop-color="#e2dcda"/><stop offset="0.1" stop-color="#f7f1ef"/><stop offset="0.5" stop-color="#fcfaf8"/><stop offset="0.9" stop-color="#f7f1ef"/><stop offset="1" stop-color="#e2dcda"/></linearGradient>
<linearGradient id="kc1_3v" gradientUnits="userSpaceOnUse" x1="0" y1="407.3" x2="0" y2="364.7"><stop offset="0" stop-color="#8f8987"/><stop offset="0.5" stop-color="#bdb7b5"/><stop offset="1" stop-color="#e9e3e1"/></linearGradient>
<linearGradient id="kc1_4" gradientUnits="userSpaceOnUse" x1="724.6" y1="0" x2="771" y2="0"><stop offset="0" stop-color="#e2dcda"/><stop offset="0.1" stop-color="#f7f1ef"/><stop offset="0.5" stop-color="#fcfaf8"/><stop offset="0.9" stop-color="#f7f1ef"/><stop offset="1" stop-color="#e2dcda"/></linearGradient>
<linearGradient id="kc1_4v" gradientUnits="userSpaceOnUse" x1="0" y1="412.7" x2="0" y2="369.5"><stop offset="0" stop-color="#8f8987"/><stop offset="0.5" stop-color="#bdb7b5"/><stop offset="1" stop-color="#e9e3e1"/></linearGradient>
<linearGradient id="kc1_5" gradientUnits="userSpaceOnUse" x1="771" y1="0" x2="818.7" y2="0"><stop offset="0" stop-color="#e2dcda"/><stop offset="0.1" stop-color="#f7f1ef"/><stop offset="0.5" stop-color="#fcfaf8"/><stop offset="0.9" stop-color="#f7f1ef"/><stop offset="1" stop-color="#e2dcda"/></linearGradient>
<linearGradient id="kc1_5v" gradientUnits="userSpaceOnUse" x1="0" y1="418.3" x2="0" y2="374.3"><stop offset="0" stop-color="#8f8987"/><stop offset="0.5" stop-color="#bdb7b5"/><stop offset="1" stop-color="#e9e3e1"/></linearGradient>
<linearGradient id="kc1_6" gradientUnits="userSpaceOnUse" x1="818.7" y1="0" x2="867.8" y2="0"><stop offset="0" stop-color="#e2dcda"/><stop offset="0.1" stop-color="#f7f1ef"/><stop offset="0.5" stop-color="#fcfaf8"/><stop offset="0.9" stop-color="#f7f1ef"/><stop offset="1" stop-color="#e2dcda"/></linearGradient>
<linearGradient id="kc1_6v" gradientUnits="userSpaceOnUse" x1="0" y1="424" x2="0" y2="379.4"><stop offset="0" stop-color="#8f8987"/><stop offset="0.5" stop-color="#bdb7b5"/><stop offset="1" stop-color="#e9e3e1"/></linearGradient>
<linearGradient id="kc1_7" gradientUnits="userSpaceOnUse" x1="867.8" y1="0" x2="918.3" y2="0"><stop offset="0" stop-color="#e2dcda"/><stop offset="0.1" stop-color="#f7f1ef"/><stop offset="0.5" stop-color="#fcfaf8"/><stop offset="0.9" stop-color="#f7f1ef"/><stop offset="1" stop-color="#e2dcda"/></linearGradient>
<linearGradient id="kc1_7v" gradientUnits="userSpaceOnUse" x1="0" y1="429.9" x2="0" y2="384.6"><stop offset="0" stop-color="#8f8987"/><stop offset="0.5" stop-color="#bdb7b5"/><stop offset="1" stop-color="#e9e3e1"/></linearGradient>
<linearGradient id="kc1_8" gradientUnits="userSpaceOnUse" x1="918.3" y1="0" x2="970.2" y2="0"><stop offset="0" stop-color="#e2dcda"/><stop offset="0.1" stop-color="#f7f1ef"/><stop offset="0.5" stop-color="#fcfaf8"/><stop offset="0.9" stop-color="#f7f1ef"/><stop offset="1" stop-color="#e2dcda"/></linearGradient>
<linearGradient id="kc1_8v" gradientUnits="userSpaceOnUse" x1="0" y1="435.9" x2="0" y2="389.9"><stop offset="0" stop-color="#8f8987"/><stop offset="0.5" stop-color="#bdb7b5"/><stop offset="1" stop-color="#e9e3e1"/></linearGradient>
<linearGradient id="kc1_9" gradientUnits="userSpaceOnUse" x1="970.2" y1="0" x2="1023.6" y2="0"><stop offset="0" stop-color="#e2dcda"/><stop offset="0.1" stop-color="#f7f1ef"/><stop offset="0.5" stop-color="#fcfaf8"/><stop offset="0.9" stop-color="#f7f1ef"/><stop offset="1" stop-color="#e2dcda"/></linearGradient>
<linearGradient id="kc1_9v" gradientUnits="userSpaceOnUse" x1="0" y1="442.1" x2="0" y2="395.4"><stop offset="0" stop-color="#8f8987"/><stop offset="0.5" stop-color="#bdb7b5"/><stop offset="1" stop-color="#e9e3e1"/></linearGradient>
<linearGradient id="kc1_10" gradientUnits="userSpaceOnUse" x1="1023.6" y1="0" x2="1078.5" y2="0"><stop offset="0" stop-color="#e2dcda"/><stop offset="0.1" stop-color="#f7f1ef"/><stop offset="0.5" stop-color="#fcfaf8"/><stop offset="0.9" stop-color="#f7f1ef"/><stop offset="1" stop-color="#e2dcda"/></linearGradient>
<linearGradient id="kc1_10v" gradientUnits="userSpaceOnUse" x1="0" y1="448.5" x2="0" y2="401"><stop offset="0" stop-color="#8f8987"/><stop offset="0.5" stop-color="#bdb7b5"/><stop offset="1" stop-color="#e9e3e1"/></linearGradient>
<linearGradient id="kc1_11" gradientUnits="userSpaceOnUse" x1="1078.5" y1="0" x2="1135" y2="0"><stop offset="0" stop-color="#e2dcda"/><stop offset="0.1" stop-color="#f7f1ef"/><stop offset="0.5" stop-color="#fcfaf8"/><stop offset="0.9" stop-color="#f7f1ef"/><stop offset="1" stop-color="#e2dcda"/></linearGradient>
<linearGradient id="kc1_11v" gradientUnits="userSpaceOnUse" x1="0" y1="455.1" x2="0" y2="406.8"><stop offset="0" stop-color="#8f8987"/><stop offset="0.5" stop-color="#bdb7b5"/><stop offset="1" stop-color="#e9e3e1"/></linearGradient>
<linearGradient id="kc1_12" gradientUnits="userSpaceOnUse" x1="1135" y1="0" x2="1193.1" y2="0"><stop offset="0" stop-color="#e2dcda"/><stop offset="0.1" stop-color="#f7f1ef"/><stop offset="0.5" stop-color="#fcfaf8"/><stop offset="0.9" stop-color="#f7f1ef"/><stop offset="1" stop-color="#e2dcda"/></linearGradient>
<linearGradient id="kc1_12v" gradientUnits="userSpaceOnUse" x1="0" y1="461.9" x2="0" y2="412.8"><stop offset="0" stop-color="#8f8987"/><stop offset="0.5" stop-color="#bdb7b5"/><stop offset="1" stop-color="#e9e3e1"/></linearGradient>
<linearGradient id="kc1_13" gradientUnits="userSpaceOnUse" x1="1193.1" y1="0" x2="1252.9" y2="0"><stop offset="0" stop-color="#b3aeac"/><stop offset="0.1" stop-color="#d0cbc9"/><stop offset="0.5" stop-color="#d6d1ce"/><stop offset="0.9" stop-color="#d0cbc9"/><stop offset="1" stop-color="#b3aeac"/></linearGradient>
<linearGradient id="kc1_13v" gradientUnits="userSpaceOnUse" x1="0" y1="468.8" x2="0" y2="418.9"><stop offset="0" stop-color="#8f8987"/><stop offset="0.5" stop-color="#a9a4a2"/><stop offset="1" stop-color="#c9c4c2"/></linearGradient>
<linearGradient id="kc1_14" gradientUnits="userSpaceOnUse" x1="1252.9" y1="0" x2="1314.4" y2="0"><stop offset="0" stop-color="#b3aeac"/><stop offset="0.1" stop-color="#d0cbc9"/><stop offset="0.5" stop-color="#d6d1ce"/><stop offset="0.9" stop-color="#d0cbc9"/><stop offset="1" stop-color="#b3aeac"/></linearGradient>
<linearGradient id="kc1_14v" gradientUnits="userSpaceOnUse" x1="0" y1="476" x2="0" y2="425.2"><stop offset="0" stop-color="#8f8987"/><stop offset="0.5" stop-color="#a9a4a2"/><stop offset="1" stop-color="#c9c4c2"/></linearGradient>
<linearGradient id="kc0_0" gradientUnits="userSpaceOnUse" x1="478" y1="0" x2="515" y2="0"><stop offset="0" stop-color="#b3aeac"/><stop offset="0.1" stop-color="#d0cbc9"/><stop offset="0.5" stop-color="#d6d1ce"/><stop offset="0.9" stop-color="#d0cbc9"/><stop offset="1" stop-color="#b3aeac"/></linearGradient>
<linearGradient id="kc0_0v" gradientUnits="userSpaceOnUse" x1="0" y1="392.5" x2="0" y2="351.5"><stop offset="0" stop-color="#8f8987"/><stop offset="0.5" stop-color="#a9a4a2"/><stop offset="1" stop-color="#c9c4c2"/></linearGradient>
<linearGradient id="kc0_1" gradientUnits="userSpaceOnUse" x1="515" y1="0" x2="597" y2="0"><stop offset="0" stop-color="#b3aeac"/><stop offset="0.1" stop-color="#d0cbc9"/><stop offset="0.5" stop-color="#d6d1ce"/><stop offset="0.9" stop-color="#d0cbc9"/><stop offset="1" stop-color="#b3aeac"/></linearGradient>
<linearGradient id="kc0_1v" gradientUnits="userSpaceOnUse" x1="0" y1="402.4" x2="0" y2="360.3"><stop offset="0" stop-color="#8f8987"/><stop offset="0.5" stop-color="#a9a4a2"/><stop offset="1" stop-color="#c9c4c2"/></linearGradient>
<linearGradient id="kc0_2" gradientUnits="userSpaceOnUse" x1="597" y1="0" x2="639" y2="0"><stop offset="0" stop-color="#e2dcda"/><stop offset="0.1" stop-color="#f7f1ef"/><stop offset="0.5" stop-color="#fcfaf8"/><stop offset="0.9" stop-color="#f7f1ef"/><stop offset="1" stop-color="#e2dcda"/></linearGradient>
<linearGradient id="kc0_2v" gradientUnits="userSpaceOnUse" x1="0" y1="407.4" x2="0" y2="364.8"><stop offset="0" stop-color="#8f8987"/><stop offset="0.5" stop-color="#bdb7b5"/><stop offset="1" stop-color="#e9e3e1"/></linearGradient>
<linearGradient id="kc0_3" gradientUnits="userSpaceOnUse" x1="639" y1="0" x2="683" y2="0"><stop offset="0" stop-color="#e2dcda"/><stop offset="0.1" stop-color="#f7f1ef"/><stop offset="0.5" stop-color="#fcfaf8"/><stop offset="0.9" stop-color="#f7f1ef"/><stop offset="1" stop-color="#e2dcda"/></linearGradient>
<linearGradient id="kc0_3v" gradientUnits="userSpaceOnUse" x1="0" y1="412.7" x2="0" y2="369.5"><stop offset="0" stop-color="#8f8987"/><stop offset="0.5" stop-color="#bdb7b5"/><stop offset="1" stop-color="#e9e3e1"/></linearGradient>
<linearGradient id="kc0_4" gradientUnits="userSpaceOnUse" x1="683" y1="0" x2="727" y2="0"><stop offset="0" stop-color="#e2dcda"/><stop offset="0.1" stop-color="#f7f1ef"/><stop offset="0.5" stop-color="#fcfaf8"/><stop offset="0.9" stop-color="#f7f1ef"/><stop offset="1" stop-color="#e2dcda"/></linearGradient>
<linearGradient id="kc0_4v" gradientUnits="userSpaceOnUse" x1="0" y1="418.1" x2="0" y2="374.2"><stop offset="0" stop-color="#8f8987"/><stop offset="0.5" stop-color="#bdb7b5"/><stop offset="1" stop-color="#e9e3e1"/></linearGradient>
<linearGradient id="kc0_5" gradientUnits="userSpaceOnUse" x1="727" y1="0" x2="774" y2="0"><stop offset="0" stop-color="#e2dcda"/><stop offset="0.1" stop-color="#f7f1ef"/><stop offset="0.5" stop-color="#fcfaf8"/><stop offset="0.9" stop-color="#f7f1ef"/><stop offset="1" stop-color="#e2dcda"/></linearGradient>
<linearGradient id="kc0_5v" gradientUnits="userSpaceOnUse" x1="0" y1="423.7" x2="0" y2="379.2"><stop offset="0" stop-color="#8f8987"/><stop offset="0.5" stop-color="#bdb7b5"/><stop offset="1" stop-color="#e9e3e1"/></linearGradient>
<linearGradient id="kc0_6" gradientUnits="userSpaceOnUse" x1="774" y1="0" x2="821" y2="0"><stop offset="0" stop-color="#e2dcda"/><stop offset="0.1" stop-color="#f7f1ef"/><stop offset="0.5" stop-color="#fcfaf8"/><stop offset="0.9" stop-color="#f7f1ef"/><stop offset="1" stop-color="#e2dcda"/></linearGradient>
<linearGradient id="kc0_6v" gradientUnits="userSpaceOnUse" x1="0" y1="429.4" x2="0" y2="384.2"><stop offset="0" stop-color="#8f8987"/><stop offset="0.5" stop-color="#bdb7b5"/><stop offset="1" stop-color="#e9e3e1"/></linearGradient>
<linearGradient id="kc0_7" gradientUnits="userSpaceOnUse" x1="821" y1="0" x2="872" y2="0"><stop offset="0" stop-color="#b3aeac"/><stop offset="0.1" stop-color="#d0cbc9"/><stop offset="0.5" stop-color="#d6d1ce"/><stop offset="0.9" stop-color="#d0cbc9"/><stop offset="1" stop-color="#b3aeac"/></linearGradient>
<linearGradient id="kc0_7v" gradientUnits="userSpaceOnUse" x1="0" y1="435.6" x2="0" y2="389.7"><stop offset="0" stop-color="#8f8987"/><stop offset="0.5" stop-color="#a9a4a2"/><stop offset="1" stop-color="#c9c4c2"/></linearGradient>
<linearGradient id="kc0_8" gradientUnits="userSpaceOnUse" x1="872" y1="0" x2="923" y2="0"><stop offset="0" stop-color="#b3aeac"/><stop offset="0.1" stop-color="#d0cbc9"/><stop offset="0.5" stop-color="#d6d1ce"/><stop offset="0.9" stop-color="#d0cbc9"/><stop offset="1" stop-color="#b3aeac"/></linearGradient>
<linearGradient id="kc0_8v" gradientUnits="userSpaceOnUse" x1="0" y1="441.7" x2="0" y2="395.1"><stop offset="0" stop-color="#8f8987"/><stop offset="0.5" stop-color="#a9a4a2"/><stop offset="1" stop-color="#c9c4c2"/></linearGradient>
<linearGradient id="kc0_9" gradientUnits="userSpaceOnUse" x1="923" y1="0" x2="976" y2="0"><stop offset="0" stop-color="#b3aeac"/><stop offset="0.1" stop-color="#d0cbc9"/><stop offset="0.5" stop-color="#d6d1ce"/><stop offset="0.9" stop-color="#d0cbc9"/><stop offset="1" stop-color="#b3aeac"/></linearGradient>
<linearGradient id="kc0_9v" gradientUnits="userSpaceOnUse" x1="0" y1="448.1" x2="0" y2="400.8"><stop offset="0" stop-color="#8f8987"/><stop offset="0.5" stop-color="#a9a4a2"/><stop offset="1" stop-color="#c9c4c2"/></linearGradient>
<linearGradient id="kc0_10" gradientUnits="userSpaceOnUse" x1="976" y1="0" x2="1031" y2="0"><stop offset="0" stop-color="#e2dcda"/><stop offset="0.1" stop-color="#f7f1ef"/><stop offset="0.5" stop-color="#fcfaf8"/><stop offset="0.9" stop-color="#f7f1ef"/><stop offset="1" stop-color="#e2dcda"/></linearGradient>
<linearGradient id="kc0_10v" gradientUnits="userSpaceOnUse" x1="0" y1="454.8" x2="0" y2="406.6"><stop offset="0" stop-color="#8f8987"/><stop offset="0.5" stop-color="#bdb7b5"/><stop offset="1" stop-color="#e9e3e1"/></linearGradient>
<linearGradient id="kc0_11" gradientUnits="userSpaceOnUse" x1="1031" y1="0" x2="1088" y2="0"><stop offset="0" stop-color="#e2dcda"/><stop offset="0.1" stop-color="#f7f1ef"/><stop offset="0.5" stop-color="#fcfaf8"/><stop offset="0.9" stop-color="#f7f1ef"/><stop offset="1" stop-color="#e2dcda"/></linearGradient>
<linearGradient id="kc0_11v" gradientUnits="userSpaceOnUse" x1="0" y1="461.6" x2="0" y2="412.7"><stop offset="0" stop-color="#8f8987"/><stop offset="0.5" stop-color="#bdb7b5"/><stop offset="1" stop-color="#e9e3e1"/></linearGradient>
<linearGradient id="kc0_12" gradientUnits="userSpaceOnUse" x1="1088" y1="0" x2="1147" y2="0"><stop offset="0" stop-color="#e2dcda"/><stop offset="0.1" stop-color="#f7f1ef"/><stop offset="0.5" stop-color="#fcfaf8"/><stop offset="0.9" stop-color="#f7f1ef"/><stop offset="1" stop-color="#e2dcda"/></linearGradient>
<linearGradient id="kc0_12v" gradientUnits="userSpaceOnUse" x1="0" y1="468.8" x2="0" y2="419"><stop offset="0" stop-color="#8f8987"/><stop offset="0.5" stop-color="#bdb7b5"/><stop offset="1" stop-color="#e9e3e1"/></linearGradient>
<linearGradient id="kc0_13" gradientUnits="userSpaceOnUse" x1="1147" y1="0" x2="1209" y2="0"><stop offset="0" stop-color="#e2dcda"/><stop offset="0.1" stop-color="#f7f1ef"/><stop offset="0.5" stop-color="#fcfaf8"/><stop offset="0.9" stop-color="#f7f1ef"/><stop offset="1" stop-color="#e2dcda"/></linearGradient>
<linearGradient id="kc0_13v" gradientUnits="userSpaceOnUse" x1="0" y1="476.2" x2="0" y2="425.6"><stop offset="0" stop-color="#8f8987"/><stop offset="0.5" stop-color="#bdb7b5"/><stop offset="1" stop-color="#e9e3e1"/></linearGradient>
<linearGradient id="kc0_14" gradientUnits="userSpaceOnUse" x1="1209" y1="0" x2="1265" y2="0"><stop offset="0" stop-color="#e2dcda"/><stop offset="0.1" stop-color="#f7f1ef"/><stop offset="0.5" stop-color="#fcfaf8"/><stop offset="0.9" stop-color="#f7f1ef"/><stop offset="1" stop-color="#e2dcda"/></linearGradient>
<linearGradient id="kc0_14v" gradientUnits="userSpaceOnUse" x1="0" y1="483" x2="0" y2="431.6"><stop offset="0" stop-color="#8f8987"/><stop offset="0.5" stop-color="#bdb7b5"/><stop offset="1" stop-color="#e9e3e1"/></linearGradient>
<linearGradient id="kcTopR" gradientUnits="userSpaceOnUse" x1="1260" y1="390" x2="1400" y2="430"><stop offset="0" stop-color="#d8d3d0"/><stop offset="0.4" stop-color="#c6c1be"/><stop offset="1" stop-color="#cfcac7"/></linearGradient>
<linearGradient id="kcs4" gradientUnits="userSpaceOnUse" x1="1462.6" y1="0" x2="1512" y2="0"><stop offset="0" stop-color="#d3cdca"/><stop offset="0.2" stop-color="#f1ece9"/><stop offset="0.7" stop-color="#f6f2ef"/><stop offset="1" stop-color="#d9d3d0"/></linearGradient>
<linearGradient id="kcs3" gradientUnits="userSpaceOnUse" x1="1413.2" y1="0" x2="1462.6" y2="0"><stop offset="0" stop-color="#d3cdca"/><stop offset="0.2" stop-color="#f1ece9"/><stop offset="0.7" stop-color="#f6f2ef"/><stop offset="1" stop-color="#d9d3d0"/></linearGradient>
<linearGradient id="kcs2" gradientUnits="userSpaceOnUse" x1="1363.8" y1="0" x2="1413.2" y2="0"><stop offset="0" stop-color="#d3cdca"/><stop offset="0.2" stop-color="#f1ece9"/><stop offset="0.7" stop-color="#f6f2ef"/><stop offset="1" stop-color="#d9d3d0"/></linearGradient>
<linearGradient id="kcs1" gradientUnits="userSpaceOnUse" x1="1314.4" y1="0" x2="1363.8" y2="0"><stop offset="0" stop-color="#d3cdca"/><stop offset="0.2" stop-color="#f1ece9"/><stop offset="0.7" stop-color="#f6f2ef"/><stop offset="1" stop-color="#d9d3d0"/></linearGradient>
<linearGradient id="kcs0" gradientUnits="userSpaceOnUse" x1="1265" y1="0" x2="1314.4" y2="0"><stop offset="0" stop-color="#d3cdca"/><stop offset="0.2" stop-color="#f1ece9"/><stop offset="0.7" stop-color="#f6f2ef"/><stop offset="1" stop-color="#d9d3d0"/></linearGradient>
<linearGradient id="tpa" gradientUnits="userSpaceOnUse" x1="549" y1="1384" x2="664" y2="1398"><stop offset="0" stop-color="#d2cbca"/><stop offset="0.5" stop-color="#b9b1b0"/><stop offset="1" stop-color="#d2cbca"/></linearGradient>
<linearGradient id="tpb" gradientUnits="userSpaceOnUse" x1="1119.5" y1="1662.5" x2="1259.5" y2="1673.5"><stop offset="0" stop-color="#dad3d2"/><stop offset="0.5" stop-color="#c4bcbb"/><stop offset="1" stop-color="#dad3d2"/></linearGradient>
<linearGradient id="rcT" gradientUnits="userSpaceOnUse" x1="1087" y1="1715" x2="1146" y2="1715"><stop offset="0" stop-color="#3d3d3d"/><stop offset="0.5" stop-color="#5f5f5f"/><stop offset="1" stop-color="#4c4c4c"/></linearGradient>
<linearGradient id="rcS" gradientUnits="userSpaceOnUse" x1="1114" y1="1740" x2="1146" y2="1722"><stop offset="0" stop-color="#7e7e7e"/><stop offset="0.5" stop-color="#cfcfcf"/><stop offset="1" stop-color="#8c8c8c"/></linearGradient>
<linearGradient id="rcO" gradientUnits="userSpaceOnUse" x1="1064" y1="1730" x2="1105" y2="1755"><stop offset="0" stop-color="#f4601d"/><stop offset="1" stop-color="#ee5a1a"/></linearGradient>
</defs>
<!-- p_bottom -->
<path d="M498,1284 Q499,1279 505,1281 L1248,1617 L1243,1652 Q1242,1660 1234,1656 L497,1313 Q491,1310 493,1304 Z" fill="url(#bcFront)" />
<path d="M1248,1619 L1356,1559 Q1364,1555 1367,1546 L1371,1536 Q1374,1530 1382,1526 L1496,1462 Q1502,1460 1502.5,1468 L1502.5,1480 Q1502,1486 1497,1489 L1252,1653 Q1243,1659 1241,1654 Z" fill="url(#bcRight)" />
<polygon points="509,1285 700,1184 1491,1464 1380,1525 1368,1545 1354,1556 1250,1613" fill="url(#bcFloor)" />
<polygon points="509,1285 700,1184 1491,1464 1380,1525 1368,1545 1354,1556 1250,1613" fill="url(#bcFloor2)" />
<polygon points="700,1183 1492,1464 1470,1492 712,1212" fill="url(#bcBack)" />
<polygon points="506,1285 700,1182 710,1206 534,1298" fill="#9f9796" />
<polygon points="499,1283.5 623,1217.5 700,1180 703,1184 631,1221 508,1286.5" fill="#cfc9c6" />
<polygon points="610,1226 622,1217 640,1214 640,1236 612,1246" fill="#aaa4a1" />
<polygon points="835,1300 997,1348 1000,1376 838,1326" fill="#a49c9b" />
<polygon points="700,1250 835,1300 838,1326 700,1272" fill="#8f8786" />
<polygon points="975,1292 993,1298.3 993,1280.3 975,1274" fill="#bcb6b3" />
<polygon points="993,1298.3 999,1294.3 999,1276.3 993,1280.3" fill="#a29c99" />
<polygon points="975,1274 993,1280.3 999,1276.3 981,1270" fill="#d3cdca" />
<rect x="1057.8" y="1300" width="8.4" height="36" fill="url(#pg1062_1300)"/>
<ellipse cx="1062" cy="1300" rx="4.2" ry="2.1" fill="#dad4d1"/>
<ellipse cx="1062" cy="1300" rx="1.9" ry="0.9" fill="#8c8683"/>
<polygon points="1040,1330 1100,1352 1100,1338 1040,1308" fill="#b7b1ae" />
<polyline points="1040,1308 1100,1338" fill="none" stroke="#d2ccc9" stroke-width="1.2" />
<polygon points="1160,1362 1180,1369 1180,1349 1160,1342" fill="#bcb6b3" />
<polygon points="1180,1369 1186,1365 1186,1345 1180,1349" fill="#a29c99" />
<polygon points="1160,1342 1180,1349 1186,1345 1166,1338" fill="#d3cdca" />
<polygon points="1305,1420 1327,1427.7 1327,1407.7 1305,1400" fill="#bcb6b3" />
<polygon points="1327,1427.7 1333,1423.7 1333,1403.7 1327,1407.7" fill="#a29c99" />
<polygon points="1305,1400 1327,1407.7 1333,1403.7 1311,1396" fill="#d3cdca" />
<polygon points="1362,1462 1420,1452 1420,1434 1362,1440" fill="#b5afac" />
<polyline points="1362,1440 1420,1434" fill="none" stroke="#d2ccc9" stroke-width="1.2" />
<rect x="1383.8" y="1436" width="8.4" height="36" fill="url(#pg1388_1436)"/>
<ellipse cx="1388" cy="1436" rx="4.2" ry="2.1" fill="#dad4d1"/>
<ellipse cx="1388" cy="1436" rx="1.9" ry="0.9" fill="#8c8683"/>
<polygon points="938,1405 1070,1462 1073,1502 940,1448" fill="url(#bcMid)" />
<polygon points="916,1412 938,1405 940,1440 916,1453" fill="#b5adac" />
<polygon points="985,1432 1036,1452 1036,1412 985,1380" fill="#bab4b1" />
<polyline points="985,1380 1036,1412" fill="none" stroke="#d2ccc9" stroke-width="1.2" />
<rect x="1002.8" y="1379" width="8.4" height="54" fill="url(#pg1007_1379)"/>
<ellipse cx="1007" cy="1379" rx="4.2" ry="2.1" fill="#dad4d1"/>
<ellipse cx="1007" cy="1379" rx="1.9" ry="0.9" fill="#8c8683"/>
<rect x="900.4" y="1400" width="9.2" height="58" fill="url(#pg905_1400)"/>
<ellipse cx="905" cy="1400" rx="4.6" ry="2.3" fill="#dad4d1"/>
<ellipse cx="905" cy="1400" rx="2.1" ry="1" fill="#8c8683"/>
<path d="M543,1293 Q548,1283 566,1280 L600,1271 L664,1286 Q680,1292 683,1303 L622,1323 L610,1328 Z" fill="#9d9594" />
<path d="M543,1293 L610,1328 L622,1323 L683,1303 L683,1310 L622,1331 L610,1336 L543,1300 Z" fill="#8a8281" />
<polygon points="566,1300 598,1290 598,1264 566,1274" fill="#b9b3b0" />
<polyline points="566,1274 598,1264" fill="none" stroke="#d2ccc9" stroke-width="1.2" />
<rect x="572.8" y="1262" width="8.4" height="36" fill="url(#pg577_1262)"/>
<ellipse cx="577" cy="1262" rx="4.2" ry="2.1" fill="#dad4d1"/>
<ellipse cx="577" cy="1262" rx="1.9" ry="0.9" fill="#8c8683"/>
<polygon points="630,1276 690,1262 690,1234 630,1246" fill="#b9b3b0" />
<polyline points="630,1246 690,1234" fill="none" stroke="#d2ccc9" stroke-width="1.2" />
<rect x="649.8" y="1239" width="8.4" height="42" fill="url(#pg654_1239)"/>
<ellipse cx="654" cy="1239" rx="4.2" ry="2.1" fill="#dad4d1"/>
<ellipse cx="654" cy="1239" rx="1.9" ry="0.9" fill="#8c8683"/>
<ellipse cx="621" cy="1333" rx="2.5" ry="4" fill="#1a1817"/>
<polygon points="652,1336 674,1345.2 674,1323.2 652,1314" fill="#bcb6b3" />
<polygon points="674,1345.2 680,1341.2 680,1319.2 674,1323.2" fill="#a29c99" />
<polygon points="652,1314 674,1323.2 680,1319.2 658,1310" fill="#d3cdca" />
<polygon points="770,1392 794,1402.1 794,1382.1 770,1372" fill="#bcb6b3" />
<polygon points="794,1402.1 800,1398.1 800,1378.1 794,1382.1" fill="#a29c99" />
<polygon points="770,1372 794,1382.1 800,1378.1 776,1368" fill="#d3cdca" />
<polygon points="812,1412 832,1420.4 832,1406.4 812,1398" fill="#bcb6b3" />
<polygon points="832,1420.4 838,1416.4 838,1402.4 832,1406.4" fill="#a29c99" />
<polygon points="812,1398 832,1406.4 838,1402.4 818,1394" fill="#d3cdca" />
<polygon points="968,1480 990,1489.2 990,1469.2 968,1460" fill="#bcb6b3" />
<polygon points="990,1489.2 996,1485.2 996,1465.2 990,1469.2" fill="#a29c99" />
<polygon points="968,1460 990,1469.2 996,1465.2 974,1456" fill="#d3cdca" />
<polygon points="1057,1512 1105,1492 1152,1510 1100,1532" fill="#a09897" />
<polygon points="1057,1512 1100,1532 1100,1542 1057,1521" fill="#96918e" />
<polygon points="1100,1532 1152,1510 1152,1519 1100,1542" fill="#a19c99" />
<path d="M1122,1556 Q1124,1546 1140,1538 L1196,1518 Q1215,1516 1240,1530 L1292,1560 Q1296,1572 1282,1582 L1232,1606 Z" fill="#aba5a2" />
<path d="M1122,1556 L1232,1606 L1232,1613 L1122,1564 Z" fill="#97928f" />
<polygon points="1222,1518 1290,1548 1290,1518 1222,1472" fill="#bcb6b3" />
<polyline points="1222,1472 1290,1518" fill="none" stroke="#d2ccc9" stroke-width="1.2" />
<rect x="1257.8" y="1487" width="8.4" height="50" fill="url(#pg1262_1487)"/>
<ellipse cx="1262" cy="1487" rx="4.2" ry="2.1" fill="#dad4d1"/>
<ellipse cx="1262" cy="1487" rx="1.9" ry="0.9" fill="#8c8683"/>
<polygon points="1188,1582 1236,1560 1236,1534 1188,1542" fill="#b6b0ad" />
<polyline points="1188,1542 1236,1534" fill="none" stroke="#d2ccc9" stroke-width="1.2" />
<rect x="1207.8" y="1537" width="8.4" height="52" fill="url(#pg1212_1537)"/>
<ellipse cx="1212" cy="1537" rx="4.2" ry="2.1" fill="#dad4d1"/>
<ellipse cx="1212" cy="1537" rx="1.9" ry="0.9" fill="#8c8683"/>
<rect x="1226" y="1590" width="2.4" height="16" fill="#1a1817"/>
<polyline points="698,1181 1496,1463.5" fill="none" stroke="#cdc7c4" stroke-width="3" stroke-linejoin="round"/>
<polygon points="501,1281 509,1281 1252,1610 1248,1619" fill="#d0cac7" />
<path d="M1247,1617 L1355,1557 Q1363,1553 1366,1544 L1370,1534 Q1373,1528 1381,1524 L1495,1461" fill="none" stroke="#d8d2d1" stroke-width="4.5" stroke-linejoin="round"/>
<polygon points="533.8,1314.9 547.3,1321.1 548.6,1316.1 535.2,1309.9" fill="#a8a19e" />
<polyline points="535.2,1309.9 548.6,1316.1" fill="none" stroke="#d6d0cd" stroke-width="1" />
<polygon points="672.7,1378.5 687.5,1385.2 688.8,1379.9 674.1,1373.2" fill="#a8a19e" />
<polyline points="674.1,1373.2 688.8,1379.9" fill="none" stroke="#d6d0cd" stroke-width="1" />
<polygon points="949.7,1505.2 967.3,1513.2 968.5,1507.3 951,1499.3" fill="#a8a19e" />
<polyline points="951,1499.3 968.5,1507.3" fill="none" stroke="#d6d0cd" stroke-width="1" />
<polygon points="1116.8,1581.6 1136.2,1590.5 1137.4,1584.2 1118,1575.4" fill="#a8a19e" />
<polyline points="1118,1575.4 1137.4,1584.2" fill="none" stroke="#d6d0cd" stroke-width="1" />
<path d="M712,1378 Q706,1398 716,1412" fill="none" stroke="#a59e9b" stroke-width="1.3"/>
<path d="M712,1378 Q722,1392 740,1392" fill="none" stroke="#a59e9b" stroke-width="1.3"/>
<path d="M1046,1531 Q1040,1552 1050,1567" fill="none" stroke="#a59e9b" stroke-width="1.3"/>
<polyline points="1288,1618 1300,1611" fill="none" stroke="#a8a09f" stroke-width="3" />
<polyline points="1432,1513 1444,1506" fill="none" stroke="#a8a09f" stroke-width="3" />
<!-- p_battery -->
<polygon points="642,1221 836,1311 838,1331 644,1237" fill="#a69e9d" />
<polygon points="641,1213 622,1214 720,1160 990,1236 956,1250 835,1293" fill="#050505" />
<ellipse cx="757" cy="1187" rx="21" ry="13" fill="url(#bump)"/>
<ellipse cx="810" cy="1207" rx="21" ry="13" fill="url(#bump)"/>
<ellipse cx="862" cy="1228" rx="21" ry="13" fill="url(#bump)"/>
<ellipse cx="800" cy="1244" rx="21" ry="13" fill="url(#bump)"/>
<ellipse cx="842" cy="1260" rx="21" ry="13" fill="url(#bump)"/>
<ellipse cx="905" cy="1242" rx="21" ry="13" fill="url(#bump)"/>
<ellipse cx="700" cy="1200" rx="21" ry="13" fill="url(#bump)"/>
<polygon points="641,1213 835,1293 836,1312 642,1222" fill="url(#batF)" />
<polygon points="835,1293 956,1250 958,1259 836,1312" fill="#121212" />
<!-- p_pcb -->
<polygon points="509,1075.1 598.1,1108.3 593.5,1110.8 614.3,1118.5 621.9,1117.1 731.8,1158 742.9,1155.2 785.9,1171.2 769.4,1178.2 797.6,1188.8 807.5,1186.3 1251.5,1351.6 1251.5,1349 509,1072.5" fill="#5c5c5c" />
<polygon points="1251.5,1349 1485,1239.5 1485,1242.5 1251.5,1352.5" fill="#353535" />
<polygon points="509,1072.5 598.1,1105.7 593.5,1108.2 614.3,1115.9 621.9,1114.5 731.8,1155.5 742.9,1152.6 785.9,1168.6 769.4,1175.6 797.6,1186.2 807.5,1183.7 1251.5,1349 1485,1239.5 753,999" fill="url(#pcbTop)" />
<polygon points="509,1072.5 1251.5,1349 1485,1239.5 753,999" fill="url(#pcbSheen)" />
<polyline points="509,1072.5 753,999" fill="none" stroke="#5a5a5a" stroke-width="1" />
<ellipse cx="572.4" cy="1076.9" rx="4.7" ry="2.9" fill="#050505" />
<ellipse cx="572.7" cy="1077.7" rx="3.5" ry="1.6" fill="#d9d9d9" />
<ellipse cx="572.7" cy="1077" rx="3.1" ry="1.3" fill="#0c0c0c" />
<ellipse cx="569" cy="1070.6" rx="3.5" ry="2.4" fill="#dedede" />
<ellipse cx="594.5" cy="1075.5" rx="3.5" ry="2.4" fill="#dedede" />
<ellipse cx="561.2" cy="1072.7" rx="0.9" ry="0.7" fill="#070707" />
<ellipse cx="583.7" cy="1081" rx="0.9" ry="0.7" fill="#070707" />
<ellipse cx="547" cy="1074.5" rx="0.9" ry="0.7" fill="#070707" />
<ellipse cx="548.8" cy="1076.7" rx="0.9" ry="0.7" fill="#070707" />
<ellipse cx="625.8" cy="1096.5" rx="4.8" ry="2.9" fill="#050505" />
<ellipse cx="626.1" cy="1097.4" rx="3.5" ry="1.7" fill="#d9d9d9" />
<ellipse cx="626.1" cy="1096.6" rx="3.2" ry="1.3" fill="#0c0c0c" />
<ellipse cx="622" cy="1090" rx="3.5" ry="2.5" fill="#dedede" />
<ellipse cx="648" cy="1095" rx="3.5" ry="2.5" fill="#dedede" />
<ellipse cx="614.3" cy="1092.2" rx="0.9" ry="0.7" fill="#070707" />
<ellipse cx="637.3" cy="1100.7" rx="0.9" ry="0.7" fill="#070707" />
<ellipse cx="600" cy="1094" rx="0.9" ry="0.7" fill="#070707" />
<ellipse cx="602" cy="1096.4" rx="0.9" ry="0.7" fill="#070707" />
<ellipse cx="680.4" cy="1116.5" rx="4.9" ry="3" fill="#050505" />
<ellipse cx="680.7" cy="1117.4" rx="3.6" ry="1.7" fill="#d9d9d9" />
<ellipse cx="680.7" cy="1116.7" rx="3.3" ry="1.4" fill="#0c0c0c" />
<ellipse cx="676.4" cy="1109.9" rx="3.6" ry="2.5" fill="#dedede" />
<ellipse cx="702.8" cy="1115" rx="3.6" ry="2.5" fill="#dedede" />
<ellipse cx="668.6" cy="1112.2" rx="0.9" ry="0.7" fill="#070707" />
<ellipse cx="692.2" cy="1120.9" rx="0.9" ry="0.7" fill="#070707" />
<ellipse cx="654.3" cy="1114.1" rx="0.9" ry="0.7" fill="#070707" />
<ellipse cx="656.4" cy="1116.5" rx="0.9" ry="0.7" fill="#070707" />
<ellipse cx="730.7" cy="1135" rx="5" ry="3" fill="#050505" />
<ellipse cx="731" cy="1135.9" rx="3.7" ry="1.7" fill="#d9d9d9" />
<ellipse cx="731" cy="1135.2" rx="3.3" ry="1.4" fill="#0c0c0c" />
<ellipse cx="726.4" cy="1128.2" rx="3.7" ry="2.6" fill="#dedede" />
<ellipse cx="753.2" cy="1133.4" rx="3.7" ry="2.6" fill="#dedede" />
<ellipse cx="718.7" cy="1130.6" rx="0.9" ry="0.7" fill="#070707" />
<ellipse cx="742.8" cy="1139.5" rx="0.9" ry="0.7" fill="#070707" />
<ellipse cx="704.3" cy="1132.5" rx="0.9" ry="0.7" fill="#070707" />
<ellipse cx="706.5" cy="1135" rx="0.9" ry="0.7" fill="#070707" />
<ellipse cx="776.3" cy="1151.8" rx="5.1" ry="3.1" fill="#050505" />
<ellipse cx="776.6" cy="1152.7" rx="3.7" ry="1.8" fill="#d9d9d9" />
<ellipse cx="776.6" cy="1152" rx="3.4" ry="1.4" fill="#0c0c0c" />
<ellipse cx="771.8" cy="1144.8" rx="3.7" ry="2.6" fill="#dedede" />
<ellipse cx="798.9" cy="1150.1" rx="3.7" ry="2.6" fill="#dedede" />
<ellipse cx="764.1" cy="1147.3" rx="0.9" ry="0.7" fill="#070707" />
<ellipse cx="788.7" cy="1156.3" rx="0.9" ry="0.7" fill="#070707" />
<ellipse cx="749.6" cy="1149.3" rx="0.9" ry="0.7" fill="#070707" />
<ellipse cx="751.9" cy="1151.8" rx="0.9" ry="0.7" fill="#070707" />
<ellipse cx="822.8" cy="1168.9" rx="5.1" ry="3.1" fill="#050505" />
<ellipse cx="823.1" cy="1169.8" rx="3.8" ry="1.8" fill="#d9d9d9" />
<ellipse cx="823.1" cy="1169.1" rx="3.4" ry="1.4" fill="#0c0c0c" />
<ellipse cx="818" cy="1161.7" rx="3.8" ry="2.7" fill="#dedede" />
<ellipse cx="845.6" cy="1167.1" rx="3.8" ry="2.7" fill="#dedede" />
<ellipse cx="810.3" cy="1164.3" rx="1" ry="0.8" fill="#070707" />
<ellipse cx="835.4" cy="1173.5" rx="1" ry="0.8" fill="#070707" />
<ellipse cx="795.8" cy="1166.3" rx="1" ry="0.8" fill="#070707" />
<ellipse cx="798.2" cy="1168.9" rx="1" ry="0.8" fill="#070707" />
<ellipse cx="870.2" cy="1186.3" rx="5.2" ry="3.2" fill="#050505" />
<ellipse cx="870.5" cy="1187.2" rx="3.9" ry="1.8" fill="#d9d9d9" />
<ellipse cx="870.5" cy="1186.5" rx="3.5" ry="1.5" fill="#0c0c0c" />
<ellipse cx="865.2" cy="1179" rx="3.9" ry="2.7" fill="#dedede" />
<ellipse cx="893.1" cy="1184.4" rx="3.9" ry="2.7" fill="#dedede" />
<ellipse cx="857.5" cy="1181.6" rx="1" ry="0.8" fill="#070707" />
<ellipse cx="883" cy="1191" rx="1" ry="0.8" fill="#070707" />
<ellipse cx="842.9" cy="1183.7" rx="1" ry="0.8" fill="#070707" />
<ellipse cx="845.4" cy="1186.3" rx="1" ry="0.8" fill="#070707" />
<ellipse cx="918.5" cy="1204" rx="5.3" ry="3.2" fill="#050505" />
<ellipse cx="918.8" cy="1205" rx="3.9" ry="1.9" fill="#d9d9d9" />
<ellipse cx="918.8" cy="1204.2" rx="3.5" ry="1.5" fill="#0c0c0c" />
<ellipse cx="913.2" cy="1196.6" rx="3.9" ry="2.8" fill="#dedede" />
<ellipse cx="941.5" cy="1202.1" rx="3.9" ry="2.8" fill="#dedede" />
<ellipse cx="905.5" cy="1199.2" rx="1" ry="0.8" fill="#070707" />
<ellipse cx="931.6" cy="1208.8" rx="1" ry="0.8" fill="#070707" />
<ellipse cx="890.9" cy="1201.4" rx="1" ry="0.8" fill="#070707" />
<ellipse cx="893.5" cy="1204.1" rx="1" ry="0.8" fill="#070707" />
<ellipse cx="967.7" cy="1222.1" rx="5.4" ry="3.3" fill="#050505" />
<ellipse cx="968" cy="1223.1" rx="4" ry="1.9" fill="#d9d9d9" />
<ellipse cx="968" cy="1222.3" rx="3.6" ry="1.5" fill="#0c0c0c" />
<ellipse cx="962.2" cy="1214.5" rx="4" ry="2.8" fill="#dedede" />
<ellipse cx="990.9" cy="1220.1" rx="4" ry="2.8" fill="#dedede" />
<ellipse cx="954.5" cy="1217.2" rx="1" ry="0.8" fill="#070707" />
<ellipse cx="981" cy="1227" rx="1" ry="0.8" fill="#070707" />
<ellipse cx="939.8" cy="1219.5" rx="1" ry="0.8" fill="#070707" />
<ellipse cx="942.5" cy="1222.2" rx="1" ry="0.8" fill="#070707" />
<ellipse cx="1017.9" cy="1240.5" rx="5.5" ry="3.4" fill="#050505" />
<ellipse cx="1018.2" cy="1241.5" rx="4.1" ry="1.9" fill="#d9d9d9" />
<ellipse cx="1018.2" cy="1240.7" rx="3.7" ry="1.5" fill="#0c0c0c" />
<ellipse cx="1012.1" cy="1232.8" rx="4.1" ry="2.8" fill="#dedede" />
<ellipse cx="1041.2" cy="1238.5" rx="4.1" ry="2.8" fill="#dedede" />
<ellipse cx="1004.4" cy="1235.6" rx="1" ry="0.8" fill="#070707" />
<ellipse cx="1031.5" cy="1245.5" rx="1" ry="0.8" fill="#070707" />
<ellipse cx="989.7" cy="1237.9" rx="1" ry="0.8" fill="#070707" />
<ellipse cx="992.5" cy="1240.7" rx="1" ry="0.8" fill="#070707" />
<ellipse cx="1069" cy="1259.3" rx="5.6" ry="3.4" fill="#050505" />
<ellipse cx="1069.3" cy="1260.4" rx="4.1" ry="2" fill="#d9d9d9" />
<ellipse cx="1069.3" cy="1259.5" rx="3.7" ry="1.5" fill="#0c0c0c" />
<ellipse cx="1062.9" cy="1251.4" rx="4.1" ry="2.9" fill="#dedede" />
<ellipse cx="1092.5" cy="1257.2" rx="4.1" ry="2.9" fill="#dedede" />
<ellipse cx="1055.3" cy="1254.3" rx="1" ry="0.8" fill="#070707" />
<ellipse cx="1082.9" cy="1264.4" rx="1" ry="0.8" fill="#070707" />
<ellipse cx="1040.5" cy="1256.7" rx="1" ry="0.8" fill="#070707" />
<ellipse cx="1043.4" cy="1259.5" rx="1" ry="0.8" fill="#070707" />
<ellipse cx="1121.2" cy="1278.5" rx="5.7" ry="3.5" fill="#050505" />
<ellipse cx="1121.5" cy="1279.5" rx="4.2" ry="2" fill="#d9d9d9" />
<ellipse cx="1121.5" cy="1278.7" rx="3.8" ry="1.6" fill="#0c0c0c" />
<ellipse cx="1114.8" cy="1270.3" rx="4.2" ry="2.9" fill="#dedede" />
<ellipse cx="1144.7" cy="1276.2" rx="4.2" ry="2.9" fill="#dedede" />
<ellipse cx="1107.1" cy="1273.3" rx="1.1" ry="0.8" fill="#070707" />
<ellipse cx="1135.2" cy="1283.6" rx="1.1" ry="0.8" fill="#070707" />
<ellipse cx="1092.3" cy="1275.8" rx="1.1" ry="0.8" fill="#070707" />
<ellipse cx="1095.3" cy="1278.7" rx="1.1" ry="0.8" fill="#070707" />
<ellipse cx="1174.3" cy="1298" rx="5.8" ry="3.5" fill="#050505" />
<ellipse cx="1174.6" cy="1299" rx="4.3" ry="2" fill="#d9d9d9" />
<ellipse cx="1174.6" cy="1298.2" rx="3.8" ry="1.6" fill="#0c0c0c" />
<ellipse cx="1167.6" cy="1289.7" rx="4.3" ry="3" fill="#dedede" />
<ellipse cx="1198" cy="1295.7" rx="4.3" ry="3" fill="#dedede" />
<ellipse cx="1160" cy="1292.7" rx="1.1" ry="0.9" fill="#070707" />
<ellipse cx="1188.6" cy="1303.2" rx="1.1" ry="0.9" fill="#070707" />
<ellipse cx="1145.1" cy="1295.3" rx="1.1" ry="0.9" fill="#070707" />
<ellipse cx="1148.2" cy="1298.2" rx="1.1" ry="0.9" fill="#070707" />
<ellipse cx="1235.2" cy="1320.4" rx="5.9" ry="3.6" fill="#050505" />
<ellipse cx="1235.5" cy="1321.5" rx="4.4" ry="2.1" fill="#d9d9d9" />
<ellipse cx="1235.5" cy="1320.6" rx="3.9" ry="1.6" fill="#0c0c0c" />
<ellipse cx="1228.2" cy="1311.9" rx="4.4" ry="3" fill="#dedede" />
<ellipse cx="1259.2" cy="1318" rx="4.4" ry="3" fill="#dedede" />
<ellipse cx="1220.7" cy="1315" rx="1.1" ry="0.9" fill="#070707" />
<ellipse cx="1249.9" cy="1325.8" rx="1.1" ry="0.9" fill="#070707" />
<ellipse cx="1205.7" cy="1317.7" rx="1.1" ry="0.9" fill="#070707" />
<ellipse cx="1208.9" cy="1320.7" rx="1.1" ry="0.9" fill="#070707" />
<ellipse cx="640.3" cy="1070" rx="4.8" ry="2.9" fill="#050505" />
<ellipse cx="640.6" cy="1070.9" rx="3.6" ry="1.7" fill="#d9d9d9" />
<ellipse cx="640.6" cy="1070.2" rx="3.2" ry="1.3" fill="#0c0c0c" />
<ellipse cx="636.8" cy="1063.7" rx="3.6" ry="2.5" fill="#dedede" />
<ellipse cx="662.4" cy="1068.5" rx="3.6" ry="2.5" fill="#dedede" />
<ellipse cx="629" cy="1066" rx="0.9" ry="0.7" fill="#070707" />
<ellipse cx="651.7" cy="1074.1" rx="0.9" ry="0.7" fill="#070707" />
<ellipse cx="614.8" cy="1067.7" rx="0.9" ry="0.7" fill="#070707" />
<ellipse cx="616.7" cy="1070" rx="0.9" ry="0.7" fill="#070707" />
<ellipse cx="710.4" cy="1095.2" rx="4.9" ry="3" fill="#050505" />
<ellipse cx="710.7" cy="1096.1" rx="3.7" ry="1.7" fill="#d9d9d9" />
<ellipse cx="710.7" cy="1095.4" rx="3.3" ry="1.4" fill="#0c0c0c" />
<ellipse cx="706.5" cy="1088.7" rx="3.7" ry="2.6" fill="#dedede" />
<ellipse cx="732.7" cy="1093.6" rx="3.7" ry="2.6" fill="#dedede" />
<ellipse cx="698.7" cy="1091" rx="0.9" ry="0.7" fill="#070707" />
<ellipse cx="722.1" cy="1099.4" rx="0.9" ry="0.7" fill="#070707" />
<ellipse cx="684.4" cy="1092.9" rx="0.9" ry="0.7" fill="#070707" />
<ellipse cx="686.5" cy="1095.2" rx="0.9" ry="0.7" fill="#070707" />
<ellipse cx="754.6" cy="1111.1" rx="5" ry="3.1" fill="#050505" />
<ellipse cx="754.9" cy="1112" rx="3.7" ry="1.8" fill="#d9d9d9" />
<ellipse cx="754.9" cy="1111.2" rx="3.3" ry="1.4" fill="#0c0c0c" />
<ellipse cx="750.4" cy="1104.4" rx="3.7" ry="2.6" fill="#dedede" />
<ellipse cx="777" cy="1109.4" rx="3.7" ry="2.6" fill="#dedede" />
<ellipse cx="742.7" cy="1106.8" rx="0.9" ry="0.7" fill="#070707" />
<ellipse cx="766.5" cy="1115.3" rx="0.9" ry="0.7" fill="#070707" />
<ellipse cx="728.4" cy="1108.7" rx="0.9" ry="0.7" fill="#070707" />
<ellipse cx="730.5" cy="1111.1" rx="0.9" ry="0.7" fill="#070707" />
<ellipse cx="799.7" cy="1127.2" rx="5.1" ry="3.1" fill="#050505" />
<ellipse cx="800" cy="1128.2" rx="3.8" ry="1.8" fill="#d9d9d9" />
<ellipse cx="800" cy="1127.4" rx="3.4" ry="1.4" fill="#0c0c0c" />
<ellipse cx="795.3" cy="1120.4" rx="3.8" ry="2.6" fill="#dedede" />
<ellipse cx="822.2" cy="1125.5" rx="3.8" ry="2.6" fill="#dedede" />
<ellipse cx="787.5" cy="1122.9" rx="0.9" ry="0.8" fill="#070707" />
<ellipse cx="811.8" cy="1131.6" rx="0.9" ry="0.8" fill="#070707" />
<ellipse cx="773.2" cy="1124.9" rx="0.9" ry="0.8" fill="#070707" />
<ellipse cx="775.4" cy="1127.3" rx="0.9" ry="0.8" fill="#070707" />
<ellipse cx="845.6" cy="1143.7" rx="5.2" ry="3.2" fill="#050505" />
<ellipse cx="845.9" cy="1144.7" rx="3.8" ry="1.8" fill="#d9d9d9" />
<ellipse cx="845.9" cy="1143.9" rx="3.5" ry="1.4" fill="#0c0c0c" />
<ellipse cx="841" cy="1136.8" rx="3.8" ry="2.7" fill="#dedede" />
<ellipse cx="868.3" cy="1141.9" rx="3.8" ry="2.7" fill="#dedede" />
<ellipse cx="833.2" cy="1139.3" rx="1" ry="0.8" fill="#070707" />
<ellipse cx="858" cy="1148.2" rx="1" ry="0.8" fill="#070707" />
<ellipse cx="818.8" cy="1141.4" rx="1" ry="0.8" fill="#070707" />
<ellipse cx="821.1" cy="1143.8" rx="1" ry="0.8" fill="#070707" />
<ellipse cx="892.4" cy="1160.5" rx="5.3" ry="3.2" fill="#050505" />
<ellipse cx="892.7" cy="1161.5" rx="3.9" ry="1.9" fill="#d9d9d9" />
<ellipse cx="892.7" cy="1160.7" rx="3.5" ry="1.5" fill="#0c0c0c" />
<ellipse cx="887.5" cy="1153.4" rx="3.9" ry="2.7" fill="#dedede" />
<ellipse cx="915.2" cy="1158.6" rx="3.9" ry="2.7" fill="#dedede" />
<ellipse cx="879.8" cy="1156" rx="1" ry="0.8" fill="#070707" />
<ellipse cx="905.1" cy="1165.1" rx="1" ry="0.8" fill="#070707" />
<ellipse cx="865.3" cy="1158.1" rx="1" ry="0.8" fill="#070707" />
<ellipse cx="867.7" cy="1160.7" rx="1" ry="0.8" fill="#070707" />
<ellipse cx="940.1" cy="1177.7" rx="5.3" ry="3.3" fill="#050505" />
<ellipse cx="940.4" cy="1178.7" rx="4" ry="1.9" fill="#d9d9d9" />
<ellipse cx="940.4" cy="1177.9" rx="3.6" ry="1.5" fill="#0c0c0c" />
<ellipse cx="935" cy="1170.4" rx="4" ry="2.8" fill="#dedede" />
<ellipse cx="963" cy="1175.7" rx="4" ry="2.8" fill="#dedede" />
<ellipse cx="927.3" cy="1173.1" rx="1" ry="0.8" fill="#070707" />
<ellipse cx="953" cy="1182.3" rx="1" ry="0.8" fill="#070707" />
<ellipse cx="912.7" cy="1175.3" rx="1" ry="0.8" fill="#070707" />
<ellipse cx="915.2" cy="1177.9" rx="1" ry="0.8" fill="#070707" />
<ellipse cx="988.7" cy="1195.1" rx="5.4" ry="3.3" fill="#050505" />
<ellipse cx="989" cy="1196.1" rx="4" ry="1.9" fill="#d9d9d9" />
<ellipse cx="989" cy="1195.3" rx="3.6" ry="1.5" fill="#0c0c0c" />
<ellipse cx="983.3" cy="1187.7" rx="4" ry="2.8" fill="#dedede" />
<ellipse cx="1011.8" cy="1193.1" rx="4" ry="2.8" fill="#dedede" />
<ellipse cx="975.7" cy="1190.4" rx="1" ry="0.8" fill="#070707" />
<ellipse cx="1001.9" cy="1199.8" rx="1" ry="0.8" fill="#070707" />
<ellipse cx="961.1" cy="1192.7" rx="1" ry="0.8" fill="#070707" />
<ellipse cx="963.7" cy="1195.3" rx="1" ry="0.8" fill="#070707" />
<ellipse cx="1038.3" cy="1212.9" rx="5.5" ry="3.4" fill="#050505" />
<ellipse cx="1038.6" cy="1213.9" rx="4.1" ry="1.9" fill="#d9d9d9" />
<ellipse cx="1038.6" cy="1213.1" rx="3.7" ry="1.5" fill="#0c0c0c" />
<ellipse cx="1032.6" cy="1205.3" rx="4.1" ry="2.9" fill="#dedede" />
<ellipse cx="1061.5" cy="1210.8" rx="4.1" ry="2.9" fill="#dedede" />
<ellipse cx="1025" cy="1208.1" rx="1" ry="0.8" fill="#070707" />
<ellipse cx="1051.7" cy="1217.7" rx="1" ry="0.8" fill="#070707" />
<ellipse cx="1010.3" cy="1210.5" rx="1" ry="0.8" fill="#070707" />
<ellipse cx="1013" cy="1213.2" rx="1" ry="0.8" fill="#070707" />
<ellipse cx="1088.8" cy="1231" rx="5.6" ry="3.4" fill="#050505" />
<ellipse cx="1089.1" cy="1232.1" rx="4.2" ry="2" fill="#d9d9d9" />
<ellipse cx="1089.1" cy="1231.3" rx="3.7" ry="1.6" fill="#0c0c0c" />
<ellipse cx="1082.9" cy="1223.3" rx="4.2" ry="2.9" fill="#dedede" />
<ellipse cx="1112.2" cy="1228.9" rx="4.2" ry="2.9" fill="#dedede" />
<ellipse cx="1075.2" cy="1226.2" rx="1" ry="0.8" fill="#070707" />
<ellipse cx="1102.5" cy="1236" rx="1" ry="0.8" fill="#070707" />
<ellipse cx="1060.5" cy="1228.6" rx="1" ry="0.8" fill="#070707" />
<ellipse cx="1063.3" cy="1231.4" rx="1" ry="0.8" fill="#070707" />
<ellipse cx="1140.3" cy="1249.5" rx="5.7" ry="3.5" fill="#050505" />
<ellipse cx="1140.6" cy="1250.6" rx="4.2" ry="2" fill="#d9d9d9" />
<ellipse cx="1140.6" cy="1249.7" rx="3.8" ry="1.6" fill="#0c0c0c" />
<ellipse cx="1134.1" cy="1241.6" rx="4.2" ry="3" fill="#dedede" />
<ellipse cx="1163.8" cy="1247.3" rx="4.2" ry="3" fill="#dedede" />
<ellipse cx="1126.5" cy="1244.6" rx="1.1" ry="0.8" fill="#070707" />
<ellipse cx="1154.2" cy="1254.5" rx="1.1" ry="0.8" fill="#070707" />
<ellipse cx="1111.7" cy="1247" rx="1.1" ry="0.8" fill="#070707" />
<ellipse cx="1114.6" cy="1249.9" rx="1.1" ry="0.8" fill="#070707" />
<ellipse cx="1212.7" cy="1275.5" rx="5.8" ry="3.6" fill="#050505" />
<ellipse cx="1213" cy="1276.6" rx="4.3" ry="2.1" fill="#d9d9d9" />
<ellipse cx="1213" cy="1275.7" rx="3.9" ry="1.6" fill="#0c0c0c" />
<ellipse cx="1206.1" cy="1267.4" rx="4.3" ry="3" fill="#dedede" />
<ellipse cx="1236.4" cy="1273.1" rx="4.3" ry="3" fill="#dedede" />
<ellipse cx="1198.5" cy="1270.4" rx="1.1" ry="0.9" fill="#070707" />
<ellipse cx="1227" cy="1280.7" rx="1.1" ry="0.9" fill="#070707" />
<ellipse cx="1183.6" cy="1273" rx="1.1" ry="0.9" fill="#070707" />
<ellipse cx="1186.7" cy="1275.9" rx="1.1" ry="0.9" fill="#070707" />
<ellipse cx="1287" cy="1302.2" rx="6" ry="3.6" fill="#050505" />
<ellipse cx="1287.3" cy="1303.3" rx="4.4" ry="2.1" fill="#d9d9d9" />
<ellipse cx="1287.3" cy="1302.4" rx="4" ry="1.7" fill="#0c0c0c" />
<ellipse cx="1280" cy="1293.8" rx="4.4" ry="3.1" fill="#dedede" />
<ellipse cx="1310.9" cy="1299.7" rx="4.4" ry="3.1" fill="#dedede" />
<ellipse cx="1272.5" cy="1297" rx="1.1" ry="0.9" fill="#070707" />
<ellipse cx="1301.7" cy="1307.5" rx="1.1" ry="0.9" fill="#070707" />
<ellipse cx="1257.5" cy="1299.7" rx="1.1" ry="0.9" fill="#070707" />
<ellipse cx="1260.7" cy="1302.7" rx="1.1" ry="0.9" fill="#070707" />
<ellipse cx="676.4" cy="1051.7" rx="4.9" ry="3" fill="#050505" />
<ellipse cx="676.7" cy="1052.6" rx="3.6" ry="1.7" fill="#d9d9d9" />
<ellipse cx="676.7" cy="1051.9" rx="3.2" ry="1.4" fill="#0c0c0c" />
<ellipse cx="673" cy="1045.5" rx="3.6" ry="2.5" fill="#dedede" />
<ellipse cx="698.5" cy="1050.1" rx="3.6" ry="2.5" fill="#dedede" />
<ellipse cx="665.2" cy="1047.7" rx="0.9" ry="0.7" fill="#070707" />
<ellipse cx="687.7" cy="1055.6" rx="0.9" ry="0.7" fill="#070707" />
<ellipse cx="651" cy="1049.5" rx="0.9" ry="0.7" fill="#070707" />
<ellipse cx="652.9" cy="1051.7" rx="0.9" ry="0.7" fill="#070707" />
<ellipse cx="735.1" cy="1072.3" rx="5" ry="3" fill="#050505" />
<ellipse cx="735.4" cy="1073.2" rx="3.7" ry="1.8" fill="#d9d9d9" />
<ellipse cx="735.4" cy="1072.5" rx="3.3" ry="1.4" fill="#0c0c0c" />
<ellipse cx="731.4" cy="1065.9" rx="3.7" ry="2.6" fill="#dedede" />
<ellipse cx="757.3" cy="1070.6" rx="3.7" ry="2.6" fill="#dedede" />
<ellipse cx="723.6" cy="1068.2" rx="0.9" ry="0.7" fill="#070707" />
<ellipse cx="746.7" cy="1076.3" rx="0.9" ry="0.7" fill="#070707" />
<ellipse cx="709.4" cy="1070.1" rx="0.9" ry="0.7" fill="#070707" />
<ellipse cx="711.3" cy="1072.4" rx="0.9" ry="0.7" fill="#070707" />
<ellipse cx="778.8" cy="1087.6" rx="5.1" ry="3.1" fill="#050505" />
<ellipse cx="779.1" cy="1088.5" rx="3.7" ry="1.8" fill="#d9d9d9" />
<ellipse cx="779.1" cy="1087.8" rx="3.4" ry="1.4" fill="#0c0c0c" />
<ellipse cx="774.8" cy="1081.1" rx="3.7" ry="2.6" fill="#dedede" />
<ellipse cx="801.1" cy="1085.9" rx="3.7" ry="2.6" fill="#dedede" />
<ellipse cx="767.1" cy="1083.5" rx="0.9" ry="0.7" fill="#070707" />
<ellipse cx="790.6" cy="1091.7" rx="0.9" ry="0.7" fill="#070707" />
<ellipse cx="752.8" cy="1085.4" rx="0.9" ry="0.7" fill="#070707" />
<ellipse cx="754.8" cy="1087.7" rx="0.9" ry="0.7" fill="#070707" />
<ellipse cx="823.3" cy="1103.2" rx="5.1" ry="3.1" fill="#050505" />
<ellipse cx="823.6" cy="1104.1" rx="3.8" ry="1.8" fill="#d9d9d9" />
<ellipse cx="823.6" cy="1103.4" rx="3.4" ry="1.4" fill="#0c0c0c" />
<ellipse cx="819.1" cy="1096.6" rx="3.8" ry="2.7" fill="#dedede" />
<ellipse cx="845.8" cy="1101.4" rx="3.8" ry="2.7" fill="#dedede" />
<ellipse cx="811.4" cy="1099" rx="1" ry="0.8" fill="#070707" />
<ellipse cx="835.4" cy="1107.4" rx="1" ry="0.8" fill="#070707" />
<ellipse cx="797" cy="1101" rx="1" ry="0.8" fill="#070707" />
<ellipse cx="799.2" cy="1103.4" rx="1" ry="0.8" fill="#070707" />
<ellipse cx="868.7" cy="1119.1" rx="5.2" ry="3.2" fill="#050505" />
<ellipse cx="869" cy="1120.1" rx="3.9" ry="1.8" fill="#d9d9d9" />
<ellipse cx="869" cy="1119.3" rx="3.5" ry="1.4" fill="#0c0c0c" />
<ellipse cx="864.2" cy="1112.3" rx="3.9" ry="2.7" fill="#dedede" />
<ellipse cx="891.3" cy="1117.2" rx="3.9" ry="2.7" fill="#dedede" />
<ellipse cx="856.5" cy="1114.8" rx="1" ry="0.8" fill="#070707" />
<ellipse cx="881" cy="1123.4" rx="1" ry="0.8" fill="#070707" />
<ellipse cx="842.1" cy="1116.9" rx="1" ry="0.8" fill="#070707" />
<ellipse cx="844.4" cy="1119.3" rx="1" ry="0.8" fill="#070707" />
<ellipse cx="915" cy="1135.3" rx="5.3" ry="3.2" fill="#050505" />
<ellipse cx="915.3" cy="1136.3" rx="3.9" ry="1.9" fill="#d9d9d9" />
<ellipse cx="915.3" cy="1135.5" rx="3.5" ry="1.5" fill="#0c0c0c" />
<ellipse cx="910.2" cy="1128.4" rx="3.9" ry="2.7" fill="#dedede" />
<ellipse cx="937.7" cy="1133.4" rx="3.9" ry="2.7" fill="#dedede" />
<ellipse cx="902.5" cy="1131" rx="1" ry="0.8" fill="#070707" />
<ellipse cx="927.5" cy="1139.7" rx="1" ry="0.8" fill="#070707" />
<ellipse cx="888.1" cy="1133.1" rx="1" ry="0.8" fill="#070707" />
<ellipse cx="890.4" cy="1135.6" rx="1" ry="0.8" fill="#070707" />
<ellipse cx="962.1" cy="1151.8" rx="5.4" ry="3.3" fill="#050505" />
<ellipse cx="962.4" cy="1152.8" rx="4" ry="1.9" fill="#d9d9d9" />
<ellipse cx="962.4" cy="1152" rx="3.6" ry="1.5" fill="#0c0c0c" />
<ellipse cx="957.1" cy="1144.8" rx="4" ry="2.8" fill="#dedede" />
<ellipse cx="984.9" cy="1149.8" rx="4" ry="2.8" fill="#dedede" />
<ellipse cx="949.4" cy="1147.4" rx="1" ry="0.8" fill="#070707" />
<ellipse cx="974.8" cy="1156.3" rx="1" ry="0.8" fill="#070707" />
<ellipse cx="934.9" cy="1149.6" rx="1" ry="0.8" fill="#070707" />
<ellipse cx="937.3" cy="1152.1" rx="1" ry="0.8" fill="#070707" />
<ellipse cx="1010.1" cy="1168.7" rx="5.5" ry="3.3" fill="#050505" />
<ellipse cx="1010.4" cy="1169.7" rx="4.1" ry="1.9" fill="#d9d9d9" />
<ellipse cx="1010.4" cy="1168.9" rx="3.6" ry="1.5" fill="#0c0c0c" />
<ellipse cx="1004.9" cy="1161.5" rx="4.1" ry="2.8" fill="#dedede" />
<ellipse cx="1033.1" cy="1166.6" rx="4.1" ry="2.8" fill="#dedede" />
<ellipse cx="997.2" cy="1164.2" rx="1" ry="0.8" fill="#070707" />
<ellipse cx="1023.1" cy="1173.2" rx="1" ry="0.8" fill="#070707" />
<ellipse cx="982.6" cy="1166.4" rx="1" ry="0.8" fill="#070707" />
<ellipse cx="985.2" cy="1169" rx="1" ry="0.8" fill="#070707" />
<ellipse cx="1059.1" cy="1185.9" rx="5.6" ry="3.4" fill="#050505" />
<ellipse cx="1059.4" cy="1186.9" rx="4.1" ry="2" fill="#d9d9d9" />
<ellipse cx="1059.4" cy="1186.1" rx="3.7" ry="1.5" fill="#0c0c0c" />
<ellipse cx="1053.6" cy="1178.5" rx="4.1" ry="2.9" fill="#dedede" />
<ellipse cx="1082.2" cy="1183.7" rx="4.1" ry="2.9" fill="#dedede" />
<ellipse cx="1045.9" cy="1181.2" rx="1" ry="0.8" fill="#070707" />
<ellipse cx="1072.3" cy="1190.5" rx="1" ry="0.8" fill="#070707" />
<ellipse cx="1031.3" cy="1183.6" rx="1" ry="0.8" fill="#070707" />
<ellipse cx="1033.9" cy="1186.2" rx="1" ry="0.8" fill="#070707" />
<ellipse cx="1109" cy="1203.3" rx="5.7" ry="3.5" fill="#050505" />
<ellipse cx="1109.3" cy="1204.4" rx="4.2" ry="2" fill="#d9d9d9" />
<ellipse cx="1109.3" cy="1203.6" rx="3.8" ry="1.6" fill="#0c0c0c" />
<ellipse cx="1103.2" cy="1195.8" rx="4.2" ry="2.9" fill="#dedede" />
<ellipse cx="1132.2" cy="1201.1" rx="4.2" ry="2.9" fill="#dedede" />
<ellipse cx="1095.6" cy="1198.6" rx="1" ry="0.8" fill="#070707" />
<ellipse cx="1122.5" cy="1208.1" rx="1" ry="0.8" fill="#070707" />
<ellipse cx="1080.9" cy="1201.1" rx="1" ry="0.8" fill="#070707" />
<ellipse cx="1083.6" cy="1203.8" rx="1" ry="0.8" fill="#070707" />
<ellipse cx="1159.8" cy="1221.2" rx="5.7" ry="3.5" fill="#050505" />
<ellipse cx="1160.1" cy="1222.2" rx="4.3" ry="2" fill="#d9d9d9" />
<ellipse cx="1160.1" cy="1221.4" rx="3.8" ry="1.6" fill="#0c0c0c" />
<ellipse cx="1153.8" cy="1213.5" rx="4.3" ry="3" fill="#dedede" />
<ellipse cx="1183.2" cy="1218.9" rx="4.3" ry="3" fill="#dedede" />
<ellipse cx="1146.2" cy="1216.4" rx="1.1" ry="0.9" fill="#070707" />
<ellipse cx="1173.6" cy="1226" rx="1.1" ry="0.9" fill="#070707" />
<ellipse cx="1131.4" cy="1218.9" rx="1.1" ry="0.9" fill="#070707" />
<ellipse cx="1134.3" cy="1221.6" rx="1.1" ry="0.9" fill="#070707" />
<ellipse cx="1211.7" cy="1239.4" rx="5.8" ry="3.6" fill="#050505" />
<ellipse cx="1212" cy="1240.4" rx="4.3" ry="2.1" fill="#d9d9d9" />
<ellipse cx="1212" cy="1239.6" rx="3.9" ry="1.6" fill="#0c0c0c" />
<ellipse cx="1205.4" cy="1231.5" rx="4.3" ry="3" fill="#dedede" />
<ellipse cx="1235.2" cy="1236.9" rx="4.3" ry="3" fill="#dedede" />
<ellipse cx="1197.7" cy="1234.5" rx="1.1" ry="0.9" fill="#070707" />
<ellipse cx="1225.7" cy="1244.3" rx="1.1" ry="0.9" fill="#070707" />
<ellipse cx="1182.9" cy="1237" rx="1.1" ry="0.9" fill="#070707" />
<ellipse cx="1185.9" cy="1239.8" rx="1.1" ry="0.9" fill="#070707" />
<ellipse cx="1298" cy="1269.6" rx="6" ry="3.7" fill="#050505" />
<ellipse cx="1298.3" cy="1270.7" rx="4.4" ry="2.1" fill="#d9d9d9" />
<ellipse cx="1298.3" cy="1269.9" rx="4" ry="1.7" fill="#0c0c0c" />
<ellipse cx="1291.2" cy="1261.5" rx="4.4" ry="3.1" fill="#dedede" />
<ellipse cx="1321.8" cy="1267.1" rx="4.4" ry="3.1" fill="#dedede" />
<ellipse cx="1283.7" cy="1264.6" rx="1.1" ry="0.9" fill="#070707" />
<ellipse cx="1312.5" cy="1274.7" rx="1.1" ry="0.9" fill="#070707" />
<ellipse cx="1268.8" cy="1267.3" rx="1.1" ry="0.9" fill="#070707" />
<ellipse cx="1271.9" cy="1270.2" rx="1.1" ry="0.9" fill="#070707" />
<ellipse cx="717.9" cy="1035.3" rx="4.9" ry="3" fill="#050505" />
<ellipse cx="718.2" cy="1036.3" rx="3.7" ry="1.7" fill="#d9d9d9" />
<ellipse cx="718.2" cy="1035.5" rx="3.3" ry="1.4" fill="#0c0c0c" />
<ellipse cx="714.5" cy="1029.3" rx="3.7" ry="2.6" fill="#dedede" />
<ellipse cx="739.9" cy="1033.7" rx="3.7" ry="2.6" fill="#dedede" />
<ellipse cx="706.7" cy="1031.5" rx="0.9" ry="0.7" fill="#070707" />
<ellipse cx="729.1" cy="1039.2" rx="0.9" ry="0.7" fill="#070707" />
<ellipse cx="692.6" cy="1033.4" rx="0.9" ry="0.7" fill="#070707" />
<ellipse cx="694.4" cy="1035.5" rx="0.9" ry="0.7" fill="#070707" />
<ellipse cx="770.9" cy="1053.5" rx="5" ry="3.1" fill="#050505" />
<ellipse cx="771.2" cy="1054.4" rx="3.7" ry="1.8" fill="#d9d9d9" />
<ellipse cx="771.2" cy="1053.7" rx="3.4" ry="1.4" fill="#0c0c0c" />
<ellipse cx="767.3" cy="1047.3" rx="3.7" ry="2.6" fill="#dedede" />
<ellipse cx="793.1" cy="1051.8" rx="3.7" ry="2.6" fill="#dedede" />
<ellipse cx="759.5" cy="1049.6" rx="0.9" ry="0.7" fill="#070707" />
<ellipse cx="782.4" cy="1057.4" rx="0.9" ry="0.7" fill="#070707" />
<ellipse cx="745.3" cy="1051.5" rx="0.9" ry="0.7" fill="#070707" />
<ellipse cx="747.2" cy="1053.7" rx="0.9" ry="0.7" fill="#070707" />
<ellipse cx="814.3" cy="1068.3" rx="5.1" ry="3.1" fill="#050505" />
<ellipse cx="814.6" cy="1069.3" rx="3.8" ry="1.8" fill="#d9d9d9" />
<ellipse cx="814.6" cy="1068.5" rx="3.4" ry="1.4" fill="#0c0c0c" />
<ellipse cx="810.4" cy="1062" rx="3.8" ry="2.7" fill="#dedede" />
<ellipse cx="836.6" cy="1066.5" rx="3.8" ry="2.7" fill="#dedede" />
<ellipse cx="802.6" cy="1064.3" rx="0.9" ry="0.8" fill="#070707" />
<ellipse cx="826" cy="1072.3" rx="0.9" ry="0.8" fill="#070707" />
<ellipse cx="788.4" cy="1066.3" rx="0.9" ry="0.8" fill="#070707" />
<ellipse cx="790.4" cy="1068.6" rx="0.9" ry="0.8" fill="#070707" />
<ellipse cx="858.5" cy="1083.5" rx="5.2" ry="3.2" fill="#050505" />
<ellipse cx="858.8" cy="1084.4" rx="3.9" ry="1.8" fill="#d9d9d9" />
<ellipse cx="858.8" cy="1083.6" rx="3.5" ry="1.4" fill="#0c0c0c" />
<ellipse cx="854.3" cy="1077" rx="3.9" ry="2.7" fill="#dedede" />
<ellipse cx="880.9" cy="1081.6" rx="3.9" ry="2.7" fill="#dedede" />
<ellipse cx="846.6" cy="1079.4" rx="1" ry="0.8" fill="#070707" />
<ellipse cx="870.4" cy="1087.5" rx="1" ry="0.8" fill="#070707" />
<ellipse cx="832.3" cy="1081.4" rx="1" ry="0.8" fill="#070707" />
<ellipse cx="834.4" cy="1083.7" rx="1" ry="0.8" fill="#070707" />
<ellipse cx="903.5" cy="1098.9" rx="5.3" ry="3.2" fill="#050505" />
<ellipse cx="903.8" cy="1099.8" rx="3.9" ry="1.9" fill="#d9d9d9" />
<ellipse cx="903.8" cy="1099.1" rx="3.5" ry="1.5" fill="#0c0c0c" />
<ellipse cx="899.1" cy="1092.2" rx="3.9" ry="2.7" fill="#dedede" />
<ellipse cx="926" cy="1096.9" rx="3.9" ry="2.7" fill="#dedede" />
<ellipse cx="891.4" cy="1094.7" rx="1" ry="0.8" fill="#070707" />
<ellipse cx="915.7" cy="1103" rx="1" ry="0.8" fill="#070707" />
<ellipse cx="877" cy="1096.8" rx="1" ry="0.8" fill="#070707" />
<ellipse cx="879.2" cy="1099.2" rx="1" ry="0.8" fill="#070707" />
<ellipse cx="949.4" cy="1114.6" rx="5.4" ry="3.3" fill="#050505" />
<ellipse cx="949.7" cy="1115.6" rx="4" ry="1.9" fill="#d9d9d9" />
<ellipse cx="949.7" cy="1114.8" rx="3.6" ry="1.5" fill="#0c0c0c" />
<ellipse cx="944.8" cy="1107.8" rx="4" ry="2.8" fill="#dedede" />
<ellipse cx="972.1" cy="1112.6" rx="4" ry="2.8" fill="#dedede" />
<ellipse cx="937.1" cy="1110.3" rx="1" ry="0.8" fill="#070707" />
<ellipse cx="961.8" cy="1118.8" rx="1" ry="0.8" fill="#070707" />
<ellipse cx="922.6" cy="1112.5" rx="1" ry="0.8" fill="#070707" />
<ellipse cx="924.9" cy="1114.9" rx="1" ry="0.8" fill="#070707" />
<ellipse cx="996.2" cy="1130.6" rx="5.4" ry="3.3" fill="#050505" />
<ellipse cx="996.5" cy="1131.6" rx="4" ry="1.9" fill="#d9d9d9" />
<ellipse cx="996.5" cy="1130.8" rx="3.6" ry="1.5" fill="#0c0c0c" />
<ellipse cx="991.3" cy="1123.7" rx="4" ry="2.8" fill="#dedede" />
<ellipse cx="1019" cy="1128.5" rx="4" ry="2.8" fill="#dedede" />
<ellipse cx="983.6" cy="1126.3" rx="1" ry="0.8" fill="#070707" />
<ellipse cx="1008.8" cy="1134.9" rx="1" ry="0.8" fill="#070707" />
<ellipse cx="969.1" cy="1128.5" rx="1" ry="0.8" fill="#070707" />
<ellipse cx="971.5" cy="1131" rx="1" ry="0.8" fill="#070707" />
<ellipse cx="1043.9" cy="1146.9" rx="5.5" ry="3.4" fill="#050505" />
<ellipse cx="1044.2" cy="1147.9" rx="4.1" ry="1.9" fill="#d9d9d9" />
<ellipse cx="1044.2" cy="1147.1" rx="3.7" ry="1.5" fill="#0c0c0c" />
<ellipse cx="1038.7" cy="1139.8" rx="4.1" ry="2.9" fill="#dedede" />
<ellipse cx="1066.8" cy="1144.7" rx="4.1" ry="2.9" fill="#dedede" />
<ellipse cx="1031.1" cy="1142.5" rx="1" ry="0.8" fill="#070707" />
<ellipse cx="1056.8" cy="1151.3" rx="1" ry="0.8" fill="#070707" />
<ellipse cx="1016.5" cy="1144.8" rx="1" ry="0.8" fill="#070707" />
<ellipse cx="1019" cy="1147.3" rx="1" ry="0.8" fill="#070707" />
<ellipse cx="1092.5" cy="1163.5" rx="5.6" ry="3.4" fill="#050505" />
<ellipse cx="1092.8" cy="1164.6" rx="4.2" ry="2" fill="#d9d9d9" />
<ellipse cx="1092.8" cy="1163.7" rx="3.7" ry="1.6" fill="#0c0c0c" />
<ellipse cx="1087.1" cy="1156.3" rx="4.2" ry="2.9" fill="#dedede" />
<ellipse cx="1115.5" cy="1161.3" rx="4.2" ry="2.9" fill="#dedede" />
<ellipse cx="1079.4" cy="1159" rx="1" ry="0.8" fill="#070707" />
<ellipse cx="1105.6" cy="1168" rx="1" ry="0.8" fill="#070707" />
<ellipse cx="1064.8" cy="1161.4" rx="1" ry="0.8" fill="#070707" />
<ellipse cx="1067.4" cy="1164" rx="1" ry="0.8" fill="#070707" />
<ellipse cx="1142" cy="1180.5" rx="5.7" ry="3.5" fill="#050505" />
<ellipse cx="1142.3" cy="1181.5" rx="4.2" ry="2" fill="#d9d9d9" />
<ellipse cx="1142.3" cy="1180.7" rx="3.8" ry="1.6" fill="#0c0c0c" />
<ellipse cx="1136.3" cy="1173.1" rx="4.2" ry="3" fill="#dedede" />
<ellipse cx="1165.2" cy="1178.2" rx="4.2" ry="3" fill="#dedede" />
<ellipse cx="1128.7" cy="1175.9" rx="1.1" ry="0.8" fill="#070707" />
<ellipse cx="1155.4" cy="1185" rx="1.1" ry="0.8" fill="#070707" />
<ellipse cx="1114" cy="1178.4" rx="1.1" ry="0.8" fill="#070707" />
<ellipse cx="1116.7" cy="1181" rx="1.1" ry="0.8" fill="#070707" />
<ellipse cx="1192.5" cy="1197.7" rx="5.8" ry="3.5" fill="#050505" />
<ellipse cx="1192.8" cy="1198.8" rx="4.3" ry="2" fill="#d9d9d9" />
<ellipse cx="1192.8" cy="1198" rx="3.9" ry="1.6" fill="#0c0c0c" />
<ellipse cx="1186.5" cy="1190.2" rx="4.3" ry="3" fill="#dedede" />
<ellipse cx="1215.8" cy="1195.3" rx="4.3" ry="3" fill="#dedede" />
<ellipse cx="1178.9" cy="1193.1" rx="1.1" ry="0.9" fill="#070707" />
<ellipse cx="1206.1" cy="1202.4" rx="1.1" ry="0.9" fill="#070707" />
<ellipse cx="1164.2" cy="1195.6" rx="1.1" ry="0.9" fill="#070707" />
<ellipse cx="1167" cy="1198.3" rx="1.1" ry="0.9" fill="#070707" />
<ellipse cx="1243.9" cy="1215.3" rx="5.9" ry="3.6" fill="#050505" />
<ellipse cx="1244.2" cy="1216.4" rx="4.4" ry="2.1" fill="#d9d9d9" />
<ellipse cx="1244.2" cy="1215.6" rx="3.9" ry="1.6" fill="#0c0c0c" />
<ellipse cx="1237.7" cy="1207.6" rx="4.4" ry="3.1" fill="#dedede" />
<ellipse cx="1267.4" cy="1212.9" rx="4.4" ry="3.1" fill="#dedede" />
<ellipse cx="1230.1" cy="1210.6" rx="1.1" ry="0.9" fill="#070707" />
<ellipse cx="1257.8" cy="1220.1" rx="1.1" ry="0.9" fill="#070707" />
<ellipse cx="1215.3" cy="1213.2" rx="1.1" ry="0.9" fill="#070707" />
<ellipse cx="1218.2" cy="1215.9" rx="1.1" ry="0.9" fill="#070707" />
<ellipse cx="1296.4" cy="1233.3" rx="6" ry="3.7" fill="#050505" />
<ellipse cx="1296.7" cy="1234.4" rx="4.4" ry="2.1" fill="#d9d9d9" />
<ellipse cx="1296.7" cy="1233.5" rx="4" ry="1.7" fill="#0c0c0c" />
<ellipse cx="1289.9" cy="1225.4" rx="4.4" ry="3.1" fill="#dedede" />
<ellipse cx="1320" cy="1230.7" rx="4.4" ry="3.1" fill="#dedede" />
<ellipse cx="1282.3" cy="1228.5" rx="1.1" ry="0.9" fill="#070707" />
<ellipse cx="1310.5" cy="1238.1" rx="1.1" ry="0.9" fill="#070707" />
<ellipse cx="1267.4" cy="1231.1" rx="1.1" ry="0.9" fill="#070707" />
<ellipse cx="1270.4" cy="1233.9" rx="1.1" ry="0.9" fill="#070707" />
<ellipse cx="1363.3" cy="1256.2" rx="6.1" ry="3.7" fill="#050505" />
<ellipse cx="1363.6" cy="1257.3" rx="4.5" ry="2.1" fill="#d9d9d9" />
<ellipse cx="1363.6" cy="1256.4" rx="4.1" ry="1.7" fill="#0c0c0c" />
<ellipse cx="1356.5" cy="1248.1" rx="4.5" ry="3.2" fill="#dedede" />
<ellipse cx="1387.1" cy="1253.5" rx="4.5" ry="3.2" fill="#dedede" />
<ellipse cx="1348.9" cy="1251.3" rx="1.1" ry="0.9" fill="#070707" />
<ellipse cx="1377.8" cy="1261.2" rx="1.1" ry="0.9" fill="#070707" />
<ellipse cx="1334" cy="1254" rx="1.1" ry="0.9" fill="#070707" />
<ellipse cx="1337.1" cy="1256.9" rx="1.1" ry="0.9" fill="#070707" />
<ellipse cx="754.2" cy="1017.4" rx="5" ry="3.1" fill="#050505" />
<ellipse cx="754.5" cy="1018.3" rx="3.7" ry="1.8" fill="#d9d9d9" />
<ellipse cx="754.5" cy="1017.6" rx="3.3" ry="1.4" fill="#0c0c0c" />
<ellipse cx="750.9" cy="1011.5" rx="3.7" ry="2.6" fill="#dedede" />
<ellipse cx="776.2" cy="1015.7" rx="3.7" ry="2.6" fill="#dedede" />
<ellipse cx="743.1" cy="1013.7" rx="0.9" ry="0.7" fill="#070707" />
<ellipse cx="765.3" cy="1021.1" rx="0.9" ry="0.7" fill="#070707" />
<ellipse cx="729" cy="1015.5" rx="0.9" ry="0.7" fill="#070707" />
<ellipse cx="730.8" cy="1017.6" rx="0.9" ry="0.7" fill="#070707" />
<ellipse cx="796.2" cy="1031.4" rx="5.1" ry="3.1" fill="#050505" />
<ellipse cx="796.5" cy="1032.3" rx="3.8" ry="1.8" fill="#d9d9d9" />
<ellipse cx="796.5" cy="1031.6" rx="3.4" ry="1.4" fill="#0c0c0c" />
<ellipse cx="792.7" cy="1025.4" rx="3.8" ry="2.6" fill="#dedede" />
<ellipse cx="818.3" cy="1029.6" rx="3.8" ry="2.6" fill="#dedede" />
<ellipse cx="784.9" cy="1027.6" rx="0.9" ry="0.8" fill="#070707" />
<ellipse cx="807.6" cy="1035.2" rx="0.9" ry="0.8" fill="#070707" />
<ellipse cx="770.7" cy="1029.5" rx="0.9" ry="0.8" fill="#070707" />
<ellipse cx="772.6" cy="1031.7" rx="0.9" ry="0.8" fill="#070707" />
<ellipse cx="839.1" cy="1045.7" rx="5.2" ry="3.2" fill="#050505" />
<ellipse cx="839.4" cy="1046.6" rx="3.8" ry="1.8" fill="#d9d9d9" />
<ellipse cx="839.4" cy="1045.9" rx="3.4" ry="1.4" fill="#0c0c0c" />
<ellipse cx="835.3" cy="1039.5" rx="3.8" ry="2.7" fill="#dedede" />
<ellipse cx="861.2" cy="1043.9" rx="3.8" ry="2.7" fill="#dedede" />
<ellipse cx="827.5" cy="1041.8" rx="1" ry="0.8" fill="#070707" />
<ellipse cx="850.6" cy="1049.5" rx="1" ry="0.8" fill="#070707" />
<ellipse cx="813.3" cy="1043.8" rx="1" ry="0.8" fill="#070707" />
<ellipse cx="815.3" cy="1046" rx="1" ry="0.8" fill="#070707" />
<ellipse cx="882.7" cy="1060.3" rx="5.2" ry="3.2" fill="#050505" />
<ellipse cx="883" cy="1061.2" rx="3.9" ry="1.8" fill="#d9d9d9" />
<ellipse cx="883" cy="1060.4" rx="3.5" ry="1.5" fill="#0c0c0c" />
<ellipse cx="878.7" cy="1054" rx="3.9" ry="2.7" fill="#dedede" />
<ellipse cx="905" cy="1058.3" rx="3.9" ry="2.7" fill="#dedede" />
<ellipse cx="871" cy="1056.3" rx="1" ry="0.8" fill="#070707" />
<ellipse cx="894.5" cy="1064.2" rx="1" ry="0.8" fill="#070707" />
<ellipse cx="856.7" cy="1058.4" rx="1" ry="0.8" fill="#070707" />
<ellipse cx="858.7" cy="1060.6" rx="1" ry="0.8" fill="#070707" />
<ellipse cx="927.2" cy="1075.1" rx="5.3" ry="3.3" fill="#050505" />
<ellipse cx="927.5" cy="1076.1" rx="3.9" ry="1.9" fill="#d9d9d9" />
<ellipse cx="927.5" cy="1075.3" rx="3.5" ry="1.5" fill="#0c0c0c" />
<ellipse cx="923" cy="1068.7" rx="3.9" ry="2.8" fill="#dedede" />
<ellipse cx="949.6" cy="1073.1" rx="3.9" ry="2.8" fill="#dedede" />
<ellipse cx="915.2" cy="1071.1" rx="1" ry="0.8" fill="#070707" />
<ellipse cx="939.2" cy="1079.1" rx="1" ry="0.8" fill="#070707" />
<ellipse cx="900.9" cy="1073.2" rx="1" ry="0.8" fill="#070707" />
<ellipse cx="903" cy="1075.5" rx="1" ry="0.8" fill="#070707" />
<ellipse cx="972.5" cy="1090.2" rx="5.4" ry="3.3" fill="#050505" />
<ellipse cx="972.8" cy="1091.2" rx="4" ry="1.9" fill="#d9d9d9" />
<ellipse cx="972.8" cy="1090.4" rx="3.6" ry="1.5" fill="#0c0c0c" />
<ellipse cx="968.1" cy="1083.7" rx="4" ry="2.8" fill="#dedede" />
<ellipse cx="995.1" cy="1088.2" rx="4" ry="2.8" fill="#dedede" />
<ellipse cx="960.3" cy="1086.2" rx="1" ry="0.8" fill="#070707" />
<ellipse cx="984.8" cy="1094.3" rx="1" ry="0.8" fill="#070707" />
<ellipse cx="945.9" cy="1088.3" rx="1" ry="0.8" fill="#070707" />
<ellipse cx="948.2" cy="1090.7" rx="1" ry="0.8" fill="#070707" />
<ellipse cx="1018.7" cy="1105.6" rx="5.5" ry="3.4" fill="#050505" />
<ellipse cx="1019" cy="1106.7" rx="4.1" ry="1.9" fill="#d9d9d9" />
<ellipse cx="1019" cy="1105.9" rx="3.7" ry="1.5" fill="#0c0c0c" />
<ellipse cx="1014" cy="1098.9" rx="4.1" ry="2.8" fill="#dedede" />
<ellipse cx="1041.4" cy="1103.5" rx="4.1" ry="2.8" fill="#dedede" />
<ellipse cx="1006.3" cy="1101.5" rx="1" ry="0.8" fill="#070707" />
<ellipse cx="1031.2" cy="1109.8" rx="1" ry="0.8" fill="#070707" />
<ellipse cx="991.9" cy="1103.7" rx="1" ry="0.8" fill="#070707" />
<ellipse cx="994.2" cy="1106.1" rx="1" ry="0.8" fill="#070707" />
<ellipse cx="1065.8" cy="1121.4" rx="5.6" ry="3.4" fill="#050505" />
<ellipse cx="1066.1" cy="1122.4" rx="4.1" ry="2" fill="#d9d9d9" />
<ellipse cx="1066.1" cy="1121.6" rx="3.7" ry="1.5" fill="#0c0c0c" />
<ellipse cx="1060.9" cy="1114.5" rx="4.1" ry="2.9" fill="#dedede" />
<ellipse cx="1088.7" cy="1119.2" rx="4.1" ry="2.9" fill="#dedede" />
<ellipse cx="1053.2" cy="1117.1" rx="1" ry="0.8" fill="#070707" />
<ellipse cx="1078.6" cy="1125.6" rx="1" ry="0.8" fill="#070707" />
<ellipse cx="1038.7" cy="1119.5" rx="1" ry="0.8" fill="#070707" />
<ellipse cx="1041.1" cy="1121.9" rx="1" ry="0.8" fill="#070707" />
<ellipse cx="1113.8" cy="1137.4" rx="5.7" ry="3.5" fill="#050505" />
<ellipse cx="1114.1" cy="1138.4" rx="4.2" ry="2" fill="#d9d9d9" />
<ellipse cx="1114.1" cy="1137.6" rx="3.8" ry="1.6" fill="#0c0c0c" />
<ellipse cx="1108.6" cy="1130.4" rx="4.2" ry="2.9" fill="#dedede" />
<ellipse cx="1136.8" cy="1135.1" rx="4.2" ry="2.9" fill="#dedede" />
<ellipse cx="1100.9" cy="1133.1" rx="1" ry="0.8" fill="#070707" />
<ellipse cx="1126.8" cy="1141.7" rx="1" ry="0.8" fill="#070707" />
<ellipse cx="1086.4" cy="1135.5" rx="1" ry="0.8" fill="#070707" />
<ellipse cx="1088.9" cy="1138" rx="1" ry="0.8" fill="#070707" />
<ellipse cx="1162.8" cy="1153.7" rx="5.7" ry="3.5" fill="#050505" />
<ellipse cx="1163.1" cy="1154.8" rx="4.3" ry="2" fill="#d9d9d9" />
<ellipse cx="1163.1" cy="1153.9" rx="3.8" ry="1.6" fill="#0c0c0c" />
<ellipse cx="1157.3" cy="1146.5" rx="4.3" ry="3" fill="#dedede" />
<ellipse cx="1185.8" cy="1151.3" rx="4.3" ry="3" fill="#dedede" />
<ellipse cx="1149.6" cy="1149.3" rx="1.1" ry="0.9" fill="#070707" />
<ellipse cx="1176" cy="1158.1" rx="1.1" ry="0.9" fill="#070707" />
<ellipse cx="1135" cy="1151.8" rx="1.1" ry="0.9" fill="#070707" />
<ellipse cx="1137.6" cy="1154.3" rx="1.1" ry="0.9" fill="#070707" />
<ellipse cx="1212.6" cy="1170.3" rx="5.8" ry="3.6" fill="#050505" />
<ellipse cx="1212.9" cy="1171.4" rx="4.3" ry="2.1" fill="#d9d9d9" />
<ellipse cx="1212.9" cy="1170.6" rx="3.9" ry="1.6" fill="#0c0c0c" />
<ellipse cx="1206.9" cy="1163" rx="4.3" ry="3" fill="#dedede" />
<ellipse cx="1235.9" cy="1167.9" rx="4.3" ry="3" fill="#dedede" />
<ellipse cx="1199.2" cy="1165.9" rx="1.1" ry="0.9" fill="#070707" />
<ellipse cx="1226.1" cy="1174.8" rx="1.1" ry="0.9" fill="#070707" />
<ellipse cx="1184.5" cy="1168.4" rx="1.1" ry="0.9" fill="#070707" />
<ellipse cx="1187.3" cy="1171" rx="1.1" ry="0.9" fill="#070707" />
<ellipse cx="1263.4" cy="1187.3" rx="5.9" ry="3.6" fill="#050505" />
<ellipse cx="1263.7" cy="1188.4" rx="4.4" ry="2.1" fill="#d9d9d9" />
<ellipse cx="1263.7" cy="1187.5" rx="4" ry="1.6" fill="#0c0c0c" />
<ellipse cx="1257.4" cy="1179.8" rx="4.4" ry="3.1" fill="#dedede" />
<ellipse cx="1286.8" cy="1184.8" rx="4.4" ry="3.1" fill="#dedede" />
<ellipse cx="1249.8" cy="1182.7" rx="1.1" ry="0.9" fill="#070707" />
<ellipse cx="1277.2" cy="1191.9" rx="1.1" ry="0.9" fill="#070707" />
<ellipse cx="1235" cy="1185.3" rx="1.1" ry="0.9" fill="#070707" />
<ellipse cx="1237.9" cy="1188" rx="1.1" ry="0.9" fill="#070707" />
<ellipse cx="1315.2" cy="1204.6" rx="6" ry="3.7" fill="#050505" />
<ellipse cx="1315.5" cy="1205.7" rx="4.5" ry="2.1" fill="#d9d9d9" />
<ellipse cx="1315.5" cy="1204.8" rx="4" ry="1.7" fill="#0c0c0c" />
<ellipse cx="1308.9" cy="1196.9" rx="4.5" ry="3.1" fill="#dedede" />
<ellipse cx="1338.7" cy="1202" rx="4.5" ry="3.1" fill="#dedede" />
<ellipse cx="1301.3" cy="1199.9" rx="1.1" ry="0.9" fill="#070707" />
<ellipse cx="1329.2" cy="1209.3" rx="1.1" ry="0.9" fill="#070707" />
<ellipse cx="1286.5" cy="1202.6" rx="1.1" ry="0.9" fill="#070707" />
<ellipse cx="1289.5" cy="1205.3" rx="1.1" ry="0.9" fill="#070707" />
<ellipse cx="1394.8" cy="1231.1" rx="6.2" ry="3.8" fill="#050505" />
<ellipse cx="1395.1" cy="1232.3" rx="4.6" ry="2.2" fill="#d9d9d9" />
<ellipse cx="1395.1" cy="1231.4" rx="4.1" ry="1.7" fill="#0c0c0c" />
<ellipse cx="1388.1" cy="1223.2" rx="4.6" ry="3.2" fill="#dedede" />
<ellipse cx="1418.5" cy="1228.4" rx="4.6" ry="3.2" fill="#dedede" />
<ellipse cx="1380.5" cy="1226.4" rx="1.1" ry="0.9" fill="#070707" />
<ellipse cx="1409.2" cy="1235.9" rx="1.1" ry="0.9" fill="#070707" />
<ellipse cx="1365.6" cy="1229.2" rx="1.1" ry="0.9" fill="#070707" />
<ellipse cx="1368.7" cy="1232" rx="1.1" ry="0.9" fill="#070707" />
<ellipse cx="763.7" cy="1082.3" rx="6" ry="3.6" fill="#0a0a0a" />
<ellipse cx="961.4" cy="1179.6" rx="6" ry="3.6" fill="#0a0a0a" />
<ellipse cx="1235.5" cy="1247.7" rx="6" ry="3.6" fill="#0a0a0a" />
<ellipse cx="1393.9" cy="1240.9" rx="6" ry="3.6" fill="#0a0a0a" />
<ellipse cx="1027.5" cy="1243.3" rx="6" ry="3.6" fill="#0a0a0a" />
<ellipse cx="961.1" cy="1100.4" rx="6" ry="3.6" fill="#0a0a0a" />
<!-- p_eva -->
<polygon points="505,972.5 654.3,1023.1 664.4,1021.1 707.7,1035.7 700.6,1038.8 915.6,1111.7 928,1108.4 963.8,1120.5 954.4,1124.8 1251.5,1225.5 1251.5,1223 505,970" fill="#666666" />
<polygon points="1251.5,1223 1490,1124.5 1490,1127.5 1251.5,1226" fill="#4d4d4d" />
<polygon points="505,970 654.3,1020.6 664.4,1018.6 707.7,1033.2 700.6,1036.3 915.6,1109.2 928,1105.9 963.8,1118 954.4,1122.3 1251.5,1223 1490,1124.5 752,905" fill="url(#evaTop)" />
<polyline points="505,970 752,905" fill="none" stroke="#6a6a6a" stroke-width="1" />
<ellipse cx="569" cy="974.3" rx="4.3" ry="2.6" fill="#1c1c1c" />
<ellipse cx="569.2" cy="975.2" rx="3.1" ry="1.2" fill="#e6e6e6" />
<ellipse cx="565.5" cy="968.5" rx="3.5" ry="2.4" fill="#f4f4f4" />
<ellipse cx="591.2" cy="973.1" rx="3.5" ry="2.4" fill="#f4f4f4" />
<ellipse cx="557.7" cy="970.5" rx="0.9" ry="0.7" fill="#070707" />
<ellipse cx="580.3" cy="978.1" rx="0.9" ry="0.7" fill="#070707" />
<ellipse cx="543.3" cy="972" rx="0.9" ry="0.7" fill="#070707" />
<ellipse cx="545.2" cy="974" rx="0.9" ry="0.7" fill="#070707" />
<ellipse cx="622.6" cy="992.2" rx="4.4" ry="2.7" fill="#1c1c1c" />
<ellipse cx="622.8" cy="993.2" rx="3.2" ry="1.2" fill="#e6e6e6" />
<ellipse cx="618.9" cy="986.3" rx="3.5" ry="2.5" fill="#f4f4f4" />
<ellipse cx="645" cy="991" rx="3.5" ry="2.5" fill="#f4f4f4" />
<ellipse cx="611" cy="988.3" rx="0.9" ry="0.7" fill="#070707" />
<ellipse cx="634.2" cy="996.1" rx="0.9" ry="0.7" fill="#070707" />
<ellipse cx="596.6" cy="989.9" rx="0.9" ry="0.7" fill="#070707" />
<ellipse cx="598.6" cy="992" rx="0.9" ry="0.7" fill="#070707" />
<ellipse cx="677.6" cy="1010.5" rx="4.5" ry="2.7" fill="#1c1c1c" />
<ellipse cx="677.8" cy="1011.5" rx="3.2" ry="1.3" fill="#e6e6e6" />
<ellipse cx="673.6" cy="1004.5" rx="3.6" ry="2.5" fill="#f4f4f4" />
<ellipse cx="700.2" cy="1009.2" rx="3.6" ry="2.5" fill="#f4f4f4" />
<ellipse cx="665.7" cy="1006.6" rx="0.9" ry="0.7" fill="#070707" />
<ellipse cx="689.5" cy="1014.5" rx="0.9" ry="0.7" fill="#070707" />
<ellipse cx="651.2" cy="1008.2" rx="0.9" ry="0.7" fill="#070707" />
<ellipse cx="653.3" cy="1010.4" rx="0.9" ry="0.7" fill="#070707" />
<ellipse cx="728.2" cy="1027.5" rx="4.6" ry="2.8" fill="#1c1c1c" />
<ellipse cx="728.4" cy="1028.5" rx="3.3" ry="1.3" fill="#e6e6e6" />
<ellipse cx="723.9" cy="1021.3" rx="3.7" ry="2.6" fill="#f4f4f4" />
<ellipse cx="750.9" cy="1026.1" rx="3.7" ry="2.6" fill="#f4f4f4" />
<ellipse cx="716" cy="1023.4" rx="0.9" ry="0.7" fill="#070707" />
<ellipse cx="740.3" cy="1031.5" rx="0.9" ry="0.7" fill="#070707" />
<ellipse cx="701.5" cy="1025.1" rx="0.9" ry="0.7" fill="#070707" />
<ellipse cx="703.7" cy="1027.3" rx="0.9" ry="0.7" fill="#070707" />
<ellipse cx="774" cy="1042.8" rx="4.7" ry="2.8" fill="#1c1c1c" />
<ellipse cx="774.2" cy="1043.8" rx="3.4" ry="1.3" fill="#e6e6e6" />
<ellipse cx="769.5" cy="1036.5" rx="3.7" ry="2.6" fill="#f4f4f4" />
<ellipse cx="796.9" cy="1041.3" rx="3.7" ry="2.6" fill="#f4f4f4" />
<ellipse cx="761.7" cy="1038.7" rx="0.9" ry="0.7" fill="#070707" />
<ellipse cx="786.4" cy="1046.9" rx="0.9" ry="0.7" fill="#070707" />
<ellipse cx="747.1" cy="1040.4" rx="0.9" ry="0.7" fill="#070707" />
<ellipse cx="749.4" cy="1042.7" rx="0.9" ry="0.7" fill="#070707" />
<ellipse cx="820.8" cy="1058.4" rx="4.8" ry="2.9" fill="#1c1c1c" />
<ellipse cx="821" cy="1059.5" rx="3.4" ry="1.3" fill="#e6e6e6" />
<ellipse cx="816" cy="1051.9" rx="3.8" ry="2.7" fill="#f4f4f4" />
<ellipse cx="843.8" cy="1056.9" rx="3.8" ry="2.7" fill="#f4f4f4" />
<ellipse cx="808.2" cy="1054.2" rx="1" ry="0.8" fill="#070707" />
<ellipse cx="833.4" cy="1062.6" rx="1" ry="0.8" fill="#070707" />
<ellipse cx="793.6" cy="1056" rx="1" ry="0.8" fill="#070707" />
<ellipse cx="795.9" cy="1058.3" rx="1" ry="0.8" fill="#070707" />
<ellipse cx="868.5" cy="1074.3" rx="4.8" ry="2.9" fill="#1c1c1c" />
<ellipse cx="868.7" cy="1075.4" rx="3.5" ry="1.4" fill="#e6e6e6" />
<ellipse cx="863.5" cy="1067.7" rx="3.9" ry="2.7" fill="#f4f4f4" />
<ellipse cx="891.6" cy="1072.8" rx="3.9" ry="2.7" fill="#f4f4f4" />
<ellipse cx="855.6" cy="1070.1" rx="1" ry="0.8" fill="#070707" />
<ellipse cx="881.3" cy="1078.6" rx="1" ry="0.8" fill="#070707" />
<ellipse cx="840.9" cy="1071.9" rx="1" ry="0.8" fill="#070707" />
<ellipse cx="843.4" cy="1074.3" rx="1" ry="0.8" fill="#070707" />
<ellipse cx="917" cy="1090.6" rx="4.9" ry="2.9" fill="#1c1c1c" />
<ellipse cx="917.2" cy="1091.6" rx="3.5" ry="1.4" fill="#e6e6e6" />
<ellipse cx="911.8" cy="1083.8" rx="3.9" ry="2.8" fill="#f4f4f4" />
<ellipse cx="940.3" cy="1088.9" rx="3.9" ry="2.8" fill="#f4f4f4" />
<ellipse cx="904" cy="1086.2" rx="1" ry="0.8" fill="#070707" />
<ellipse cx="930.2" cy="1095" rx="1" ry="0.8" fill="#070707" />
<ellipse cx="889.2" cy="1088.1" rx="1" ry="0.8" fill="#070707" />
<ellipse cx="891.7" cy="1090.6" rx="1" ry="0.8" fill="#070707" />
<ellipse cx="966.5" cy="1107.1" rx="5" ry="3" fill="#1c1c1c" />
<ellipse cx="966.7" cy="1108.2" rx="3.6" ry="1.4" fill="#e6e6e6" />
<ellipse cx="961" cy="1100.2" rx="4" ry="2.8" fill="#f4f4f4" />
<ellipse cx="990" cy="1105.4" rx="4" ry="2.8" fill="#f4f4f4" />
<ellipse cx="953.2" cy="1102.7" rx="1" ry="0.8" fill="#070707" />
<ellipse cx="979.9" cy="1111.6" rx="1" ry="0.8" fill="#070707" />
<ellipse cx="938.4" cy="1104.7" rx="1" ry="0.8" fill="#070707" />
<ellipse cx="941" cy="1107.1" rx="1" ry="0.8" fill="#070707" />
<ellipse cx="1017" cy="1124" rx="5.1" ry="3" fill="#1c1c1c" />
<ellipse cx="1017.2" cy="1125.1" rx="3.7" ry="1.4" fill="#e6e6e6" />
<ellipse cx="1011.2" cy="1116.9" rx="4.1" ry="2.8" fill="#f4f4f4" />
<ellipse cx="1040.6" cy="1122.2" rx="4.1" ry="2.8" fill="#f4f4f4" />
<ellipse cx="1003.4" cy="1119.4" rx="1" ry="0.8" fill="#070707" />
<ellipse cx="1030.6" cy="1128.5" rx="1" ry="0.8" fill="#070707" />
<ellipse cx="988.5" cy="1121.5" rx="1" ry="0.8" fill="#070707" />
<ellipse cx="991.3" cy="1124" rx="1" ry="0.8" fill="#070707" />
<ellipse cx="1068.4" cy="1141.2" rx="5.2" ry="3.1" fill="#1c1c1c" />
<ellipse cx="1068.6" cy="1142.3" rx="3.7" ry="1.4" fill="#e6e6e6" />
<ellipse cx="1062.4" cy="1133.9" rx="4.1" ry="2.9" fill="#f4f4f4" />
<ellipse cx="1092.2" cy="1139.3" rx="4.1" ry="2.9" fill="#f4f4f4" />
<ellipse cx="1054.6" cy="1136.5" rx="1" ry="0.8" fill="#070707" />
<ellipse cx="1082.3" cy="1145.8" rx="1" ry="0.8" fill="#070707" />
<ellipse cx="1039.6" cy="1138.7" rx="1" ry="0.8" fill="#070707" />
<ellipse cx="1042.5" cy="1141.2" rx="1" ry="0.8" fill="#070707" />
<ellipse cx="1120.8" cy="1158.7" rx="5.3" ry="3.2" fill="#1c1c1c" />
<ellipse cx="1121" cy="1159.8" rx="3.8" ry="1.5" fill="#e6e6e6" />
<ellipse cx="1114.5" cy="1151.3" rx="4.2" ry="2.9" fill="#f4f4f4" />
<ellipse cx="1144.7" cy="1156.7" rx="4.2" ry="2.9" fill="#f4f4f4" />
<ellipse cx="1106.7" cy="1154" rx="1.1" ry="0.8" fill="#070707" />
<ellipse cx="1135" cy="1163.4" rx="1.1" ry="0.8" fill="#070707" />
<ellipse cx="1091.7" cy="1156.1" rx="1.1" ry="0.8" fill="#070707" />
<ellipse cx="1094.6" cy="1158.8" rx="1.1" ry="0.8" fill="#070707" />
<ellipse cx="1174.3" cy="1176.5" rx="5.3" ry="3.2" fill="#1c1c1c" />
<ellipse cx="1174.5" cy="1177.7" rx="3.8" ry="1.5" fill="#e6e6e6" />
<ellipse cx="1167.6" cy="1169" rx="4.3" ry="3" fill="#f4f4f4" />
<ellipse cx="1198.3" cy="1174.5" rx="4.3" ry="3" fill="#f4f4f4" />
<ellipse cx="1159.9" cy="1171.7" rx="1.1" ry="0.9" fill="#070707" />
<ellipse cx="1188.7" cy="1181.3" rx="1.1" ry="0.9" fill="#070707" />
<ellipse cx="1144.8" cy="1174" rx="1.1" ry="0.9" fill="#070707" />
<ellipse cx="1147.8" cy="1176.7" rx="1.1" ry="0.9" fill="#070707" />
<ellipse cx="1235.6" cy="1197" rx="5.4" ry="3.3" fill="#1c1c1c" />
<ellipse cx="1235.8" cy="1198.2" rx="3.9" ry="1.5" fill="#e6e6e6" />
<ellipse cx="1228.6" cy="1189.3" rx="4.4" ry="3" fill="#f4f4f4" />
<ellipse cx="1259.8" cy="1194.9" rx="4.4" ry="3" fill="#f4f4f4" />
<ellipse cx="1220.9" cy="1192.1" rx="1.1" ry="0.9" fill="#070707" />
<ellipse cx="1250.3" cy="1201.9" rx="1.1" ry="0.9" fill="#070707" />
<ellipse cx="1205.7" cy="1194.4" rx="1.1" ry="0.9" fill="#070707" />
<ellipse cx="1208.9" cy="1197.2" rx="1.1" ry="0.9" fill="#070707" />
<ellipse cx="637.6" cy="968.4" rx="4.4" ry="2.7" fill="#1c1c1c" />
<ellipse cx="637.8" cy="969.4" rx="3.2" ry="1.2" fill="#e6e6e6" />
<ellipse cx="634.1" cy="962.7" rx="3.6" ry="2.5" fill="#f4f4f4" />
<ellipse cx="659.9" cy="967.2" rx="3.6" ry="2.5" fill="#f4f4f4" />
<ellipse cx="626.2" cy="964.7" rx="0.9" ry="0.7" fill="#070707" />
<ellipse cx="649" cy="972.1" rx="0.9" ry="0.7" fill="#070707" />
<ellipse cx="611.8" cy="966.2" rx="0.9" ry="0.7" fill="#070707" />
<ellipse cx="613.7" cy="968.3" rx="0.9" ry="0.7" fill="#070707" />
<ellipse cx="708.1" cy="991.4" rx="4.6" ry="2.7" fill="#1c1c1c" />
<ellipse cx="708.3" cy="992.4" rx="3.3" ry="1.3" fill="#e6e6e6" />
<ellipse cx="704.2" cy="985.5" rx="3.7" ry="2.6" fill="#f4f4f4" />
<ellipse cx="730.6" cy="990.1" rx="3.7" ry="2.6" fill="#f4f4f4" />
<ellipse cx="696.4" cy="987.6" rx="0.9" ry="0.7" fill="#070707" />
<ellipse cx="719.9" cy="995.3" rx="0.9" ry="0.7" fill="#070707" />
<ellipse cx="681.9" cy="989.2" rx="0.9" ry="0.7" fill="#070707" />
<ellipse cx="683.9" cy="991.3" rx="0.9" ry="0.7" fill="#070707" />
<ellipse cx="752.6" cy="1005.9" rx="4.6" ry="2.8" fill="#1c1c1c" />
<ellipse cx="752.8" cy="1007" rx="3.3" ry="1.3" fill="#e6e6e6" />
<ellipse cx="748.5" cy="999.9" rx="3.7" ry="2.6" fill="#f4f4f4" />
<ellipse cx="775.2" cy="1004.5" rx="3.7" ry="2.6" fill="#f4f4f4" />
<ellipse cx="740.6" cy="1002" rx="0.9" ry="0.7" fill="#070707" />
<ellipse cx="764.6" cy="1009.9" rx="0.9" ry="0.7" fill="#070707" />
<ellipse cx="726.1" cy="1003.7" rx="0.9" ry="0.7" fill="#070707" />
<ellipse cx="728.2" cy="1005.9" rx="0.9" ry="0.7" fill="#070707" />
<ellipse cx="797.9" cy="1020.7" rx="4.7" ry="2.8" fill="#1c1c1c" />
<ellipse cx="798.1" cy="1021.8" rx="3.4" ry="1.3" fill="#e6e6e6" />
<ellipse cx="793.6" cy="1014.6" rx="3.8" ry="2.6" fill="#f4f4f4" />
<ellipse cx="820.7" cy="1019.2" rx="3.8" ry="2.6" fill="#f4f4f4" />
<ellipse cx="785.7" cy="1016.7" rx="0.9" ry="0.8" fill="#070707" />
<ellipse cx="810.2" cy="1024.7" rx="0.9" ry="0.8" fill="#070707" />
<ellipse cx="771.2" cy="1018.5" rx="0.9" ry="0.8" fill="#070707" />
<ellipse cx="773.4" cy="1020.7" rx="0.9" ry="0.8" fill="#070707" />
<ellipse cx="844.2" cy="1035.8" rx="4.8" ry="2.9" fill="#1c1c1c" />
<ellipse cx="844.4" cy="1036.9" rx="3.4" ry="1.3" fill="#e6e6e6" />
<ellipse cx="839.5" cy="1029.5" rx="3.8" ry="2.7" fill="#f4f4f4" />
<ellipse cx="867.1" cy="1034.3" rx="3.8" ry="2.7" fill="#f4f4f4" />
<ellipse cx="831.7" cy="1031.8" rx="1" ry="0.8" fill="#070707" />
<ellipse cx="856.6" cy="1039.9" rx="1" ry="0.8" fill="#070707" />
<ellipse cx="817.1" cy="1033.6" rx="1" ry="0.8" fill="#070707" />
<ellipse cx="819.4" cy="1035.8" rx="1" ry="0.8" fill="#070707" />
<ellipse cx="891.3" cy="1051.2" rx="4.9" ry="2.9" fill="#1c1c1c" />
<ellipse cx="891.5" cy="1052.2" rx="3.5" ry="1.4" fill="#e6e6e6" />
<ellipse cx="886.4" cy="1044.7" rx="3.9" ry="2.7" fill="#f4f4f4" />
<ellipse cx="914.3" cy="1049.6" rx="3.9" ry="2.7" fill="#f4f4f4" />
<ellipse cx="878.6" cy="1047" rx="1" ry="0.8" fill="#070707" />
<ellipse cx="904" cy="1055.3" rx="1" ry="0.8" fill="#070707" />
<ellipse cx="863.9" cy="1048.9" rx="1" ry="0.8" fill="#070707" />
<ellipse cx="866.3" cy="1051.2" rx="1" ry="0.8" fill="#070707" />
<ellipse cx="939.3" cy="1066.8" rx="4.9" ry="3" fill="#1c1c1c" />
<ellipse cx="939.5" cy="1067.9" rx="3.6" ry="1.4" fill="#e6e6e6" />
<ellipse cx="934.2" cy="1060.3" rx="4" ry="2.8" fill="#f4f4f4" />
<ellipse cx="962.5" cy="1065.1" rx="4" ry="2.8" fill="#f4f4f4" />
<ellipse cx="926.4" cy="1062.6" rx="1" ry="0.8" fill="#070707" />
<ellipse cx="952.2" cy="1071.1" rx="1" ry="0.8" fill="#070707" />
<ellipse cx="911.6" cy="1064.6" rx="1" ry="0.8" fill="#070707" />
<ellipse cx="914.1" cy="1066.9" rx="1" ry="0.8" fill="#070707" />
<ellipse cx="988.2" cy="1082.8" rx="5" ry="3" fill="#1c1c1c" />
<ellipse cx="988.4" cy="1083.9" rx="3.6" ry="1.4" fill="#e6e6e6" />
<ellipse cx="982.8" cy="1076.1" rx="4" ry="2.8" fill="#f4f4f4" />
<ellipse cx="1011.6" cy="1081" rx="4" ry="2.8" fill="#f4f4f4" />
<ellipse cx="975" cy="1078.5" rx="1" ry="0.8" fill="#070707" />
<ellipse cx="1001.4" cy="1087.1" rx="1" ry="0.8" fill="#070707" />
<ellipse cx="960.2" cy="1080.5" rx="1" ry="0.8" fill="#070707" />
<ellipse cx="962.8" cy="1082.9" rx="1" ry="0.8" fill="#070707" />
<ellipse cx="1038.1" cy="1099.1" rx="5.1" ry="3.1" fill="#1c1c1c" />
<ellipse cx="1038.3" cy="1100.2" rx="3.7" ry="1.4" fill="#e6e6e6" />
<ellipse cx="1032.4" cy="1092.2" rx="4.1" ry="2.9" fill="#f4f4f4" />
<ellipse cx="1061.6" cy="1097.2" rx="4.1" ry="2.9" fill="#f4f4f4" />
<ellipse cx="1024.7" cy="1094.7" rx="1" ry="0.8" fill="#070707" />
<ellipse cx="1051.5" cy="1103.5" rx="1" ry="0.8" fill="#070707" />
<ellipse cx="1009.8" cy="1096.8" rx="1" ry="0.8" fill="#070707" />
<ellipse cx="1012.5" cy="1099.2" rx="1" ry="0.8" fill="#070707" />
<ellipse cx="1088.9" cy="1115.7" rx="5.2" ry="3.1" fill="#1c1c1c" />
<ellipse cx="1089.1" cy="1116.8" rx="3.7" ry="1.5" fill="#e6e6e6" />
<ellipse cx="1083" cy="1108.6" rx="4.2" ry="2.9" fill="#f4f4f4" />
<ellipse cx="1112.6" cy="1113.8" rx="4.2" ry="2.9" fill="#f4f4f4" />
<ellipse cx="1075.2" cy="1111.2" rx="1" ry="0.8" fill="#070707" />
<ellipse cx="1102.6" cy="1120.1" rx="1" ry="0.8" fill="#070707" />
<ellipse cx="1060.3" cy="1113.3" rx="1" ry="0.8" fill="#070707" />
<ellipse cx="1063.1" cy="1115.8" rx="1" ry="0.8" fill="#070707" />
<ellipse cx="1140.7" cy="1132.6" rx="5.3" ry="3.2" fill="#1c1c1c" />
<ellipse cx="1140.9" cy="1133.7" rx="3.8" ry="1.5" fill="#e6e6e6" />
<ellipse cx="1134.5" cy="1125.4" rx="4.2" ry="3" fill="#f4f4f4" />
<ellipse cx="1164.5" cy="1130.6" rx="4.2" ry="3" fill="#f4f4f4" />
<ellipse cx="1126.8" cy="1128" rx="1.1" ry="0.8" fill="#070707" />
<ellipse cx="1154.7" cy="1137.1" rx="1.1" ry="0.8" fill="#070707" />
<ellipse cx="1111.8" cy="1130.2" rx="1.1" ry="0.8" fill="#070707" />
<ellipse cx="1114.7" cy="1132.8" rx="1.1" ry="0.8" fill="#070707" />
<ellipse cx="1213.6" cy="1156.3" rx="5.4" ry="3.2" fill="#1c1c1c" />
<ellipse cx="1213.8" cy="1157.5" rx="3.9" ry="1.5" fill="#e6e6e6" />
<ellipse cx="1207" cy="1148.9" rx="4.3" ry="3" fill="#f4f4f4" />
<ellipse cx="1237.6" cy="1154.2" rx="4.3" ry="3" fill="#f4f4f4" />
<ellipse cx="1199.3" cy="1151.7" rx="1.1" ry="0.9" fill="#070707" />
<ellipse cx="1227.9" cy="1161" rx="1.1" ry="0.9" fill="#070707" />
<ellipse cx="1184.2" cy="1153.9" rx="1.1" ry="0.9" fill="#070707" />
<ellipse cx="1187.2" cy="1156.6" rx="1.1" ry="0.9" fill="#070707" />
<ellipse cx="1288.3" cy="1180.7" rx="5.5" ry="3.3" fill="#1c1c1c" />
<ellipse cx="1288.5" cy="1181.9" rx="4" ry="1.5" fill="#e6e6e6" />
<ellipse cx="1281.4" cy="1173.1" rx="4.4" ry="3.1" fill="#f4f4f4" />
<ellipse cx="1312.6" cy="1178.5" rx="4.4" ry="3.1" fill="#f4f4f4" />
<ellipse cx="1273.7" cy="1175.9" rx="1.1" ry="0.9" fill="#070707" />
<ellipse cx="1303.1" cy="1185.5" rx="1.1" ry="0.9" fill="#070707" />
<ellipse cx="1258.5" cy="1178.3" rx="1.1" ry="0.9" fill="#070707" />
<ellipse cx="1261.7" cy="1181" rx="1.1" ry="0.9" fill="#070707" />
<ellipse cx="674.2" cy="952.1" rx="4.5" ry="2.7" fill="#1c1c1c" />
<ellipse cx="674.4" cy="953" rx="3.2" ry="1.3" fill="#e6e6e6" />
<ellipse cx="670.8" cy="946.5" rx="3.6" ry="2.5" fill="#f4f4f4" />
<ellipse cx="696.5" cy="950.7" rx="3.6" ry="2.5" fill="#f4f4f4" />
<ellipse cx="662.9" cy="948.5" rx="0.9" ry="0.7" fill="#070707" />
<ellipse cx="685.6" cy="955.7" rx="0.9" ry="0.7" fill="#070707" />
<ellipse cx="648.6" cy="950" rx="0.9" ry="0.7" fill="#070707" />
<ellipse cx="650.4" cy="952" rx="0.9" ry="0.7" fill="#070707" />
<ellipse cx="733.4" cy="970.9" rx="4.6" ry="2.8" fill="#1c1c1c" />
<ellipse cx="733.6" cy="971.9" rx="3.3" ry="1.3" fill="#e6e6e6" />
<ellipse cx="729.6" cy="965.2" rx="3.7" ry="2.6" fill="#f4f4f4" />
<ellipse cx="755.8" cy="969.5" rx="3.7" ry="2.6" fill="#f4f4f4" />
<ellipse cx="721.7" cy="967.2" rx="0.9" ry="0.7" fill="#070707" />
<ellipse cx="745" cy="974.6" rx="0.9" ry="0.7" fill="#070707" />
<ellipse cx="707.3" cy="968.8" rx="0.9" ry="0.7" fill="#070707" />
<ellipse cx="709.3" cy="970.9" rx="0.9" ry="0.7" fill="#070707" />
<ellipse cx="777.3" cy="984.9" rx="4.7" ry="2.8" fill="#1c1c1c" />
<ellipse cx="777.5" cy="985.9" rx="3.4" ry="1.3" fill="#e6e6e6" />
<ellipse cx="773.4" cy="979" rx="3.7" ry="2.6" fill="#f4f4f4" />
<ellipse cx="799.9" cy="983.4" rx="3.7" ry="2.6" fill="#f4f4f4" />
<ellipse cx="765.5" cy="981.1" rx="0.9" ry="0.7" fill="#070707" />
<ellipse cx="789.2" cy="988.7" rx="0.9" ry="0.7" fill="#070707" />
<ellipse cx="751" cy="982.8" rx="0.9" ry="0.7" fill="#070707" />
<ellipse cx="753.1" cy="984.9" rx="0.9" ry="0.7" fill="#070707" />
<ellipse cx="822.1" cy="999.1" rx="4.8" ry="2.9" fill="#1c1c1c" />
<ellipse cx="822.3" cy="1000.2" rx="3.4" ry="1.3" fill="#e6e6e6" />
<ellipse cx="817.9" cy="993.2" rx="3.8" ry="2.7" fill="#f4f4f4" />
<ellipse cx="844.9" cy="997.6" rx="3.8" ry="2.7" fill="#f4f4f4" />
<ellipse cx="810.1" cy="995.3" rx="1" ry="0.8" fill="#070707" />
<ellipse cx="834.3" cy="1003" rx="1" ry="0.8" fill="#070707" />
<ellipse cx="795.6" cy="997.1" rx="1" ry="0.8" fill="#070707" />
<ellipse cx="797.7" cy="999.2" rx="1" ry="0.8" fill="#070707" />
<ellipse cx="867.8" cy="1013.7" rx="4.8" ry="2.9" fill="#1c1c1c" />
<ellipse cx="868" cy="1014.7" rx="3.5" ry="1.4" fill="#e6e6e6" />
<ellipse cx="863.4" cy="1007.6" rx="3.9" ry="2.7" fill="#f4f4f4" />
<ellipse cx="890.7" cy="1012.1" rx="3.9" ry="2.7" fill="#f4f4f4" />
<ellipse cx="855.5" cy="1009.8" rx="1" ry="0.8" fill="#070707" />
<ellipse cx="880.2" cy="1017.6" rx="1" ry="0.8" fill="#070707" />
<ellipse cx="841" cy="1011.6" rx="1" ry="0.8" fill="#070707" />
<ellipse cx="843.2" cy="1013.8" rx="1" ry="0.8" fill="#070707" />
<ellipse cx="914.4" cy="1028.5" rx="4.9" ry="2.9" fill="#1c1c1c" />
<ellipse cx="914.6" cy="1029.6" rx="3.5" ry="1.4" fill="#e6e6e6" />
<ellipse cx="909.7" cy="1022.2" rx="3.9" ry="2.7" fill="#f4f4f4" />
<ellipse cx="937.4" cy="1026.8" rx="3.9" ry="2.7" fill="#f4f4f4" />
<ellipse cx="901.9" cy="1024.5" rx="1" ry="0.8" fill="#070707" />
<ellipse cx="927" cy="1032.5" rx="1" ry="0.8" fill="#070707" />
<ellipse cx="887.2" cy="1026.4" rx="1" ry="0.8" fill="#070707" />
<ellipse cx="889.6" cy="1028.6" rx="1" ry="0.8" fill="#070707" />
<ellipse cx="961.8" cy="1043.6" rx="5" ry="3" fill="#1c1c1c" />
<ellipse cx="962" cy="1044.7" rx="3.6" ry="1.4" fill="#e6e6e6" />
<ellipse cx="956.9" cy="1037.2" rx="4" ry="2.8" fill="#f4f4f4" />
<ellipse cx="985" cy="1041.9" rx="4" ry="2.8" fill="#f4f4f4" />
<ellipse cx="949.1" cy="1039.5" rx="1" ry="0.8" fill="#070707" />
<ellipse cx="974.7" cy="1047.7" rx="1" ry="0.8" fill="#070707" />
<ellipse cx="934.4" cy="1041.5" rx="1" ry="0.8" fill="#070707" />
<ellipse cx="936.8" cy="1043.8" rx="1" ry="0.8" fill="#070707" />
<ellipse cx="1010.2" cy="1059" rx="5.1" ry="3" fill="#1c1c1c" />
<ellipse cx="1010.4" cy="1060.1" rx="3.6" ry="1.4" fill="#e6e6e6" />
<ellipse cx="1005" cy="1052.5" rx="4.1" ry="2.8" fill="#f4f4f4" />
<ellipse cx="1033.5" cy="1057.2" rx="4.1" ry="2.8" fill="#f4f4f4" />
<ellipse cx="997.2" cy="1054.9" rx="1" ry="0.8" fill="#070707" />
<ellipse cx="1023.3" cy="1063.2" rx="1" ry="0.8" fill="#070707" />
<ellipse cx="982.4" cy="1056.9" rx="1" ry="0.8" fill="#070707" />
<ellipse cx="985" cy="1059.2" rx="1" ry="0.8" fill="#070707" />
<ellipse cx="1059.5" cy="1074.7" rx="5.1" ry="3.1" fill="#1c1c1c" />
<ellipse cx="1059.7" cy="1075.8" rx="3.7" ry="1.4" fill="#e6e6e6" />
<ellipse cx="1054" cy="1068" rx="4.1" ry="2.9" fill="#f4f4f4" />
<ellipse cx="1082.9" cy="1072.8" rx="4.1" ry="2.9" fill="#f4f4f4" />
<ellipse cx="1046.2" cy="1070.5" rx="1" ry="0.8" fill="#070707" />
<ellipse cx="1072.8" cy="1078.9" rx="1" ry="0.8" fill="#070707" />
<ellipse cx="1031.4" cy="1072.5" rx="1" ry="0.8" fill="#070707" />
<ellipse cx="1034" cy="1074.9" rx="1" ry="0.8" fill="#070707" />
<ellipse cx="1109.7" cy="1090.7" rx="5.2" ry="3.1" fill="#1c1c1c" />
<ellipse cx="1109.9" cy="1091.8" rx="3.8" ry="1.5" fill="#e6e6e6" />
<ellipse cx="1104" cy="1083.8" rx="4.2" ry="2.9" fill="#f4f4f4" />
<ellipse cx="1133.3" cy="1088.7" rx="4.2" ry="2.9" fill="#f4f4f4" />
<ellipse cx="1096.2" cy="1086.4" rx="1" ry="0.8" fill="#070707" />
<ellipse cx="1123.3" cy="1095" rx="1" ry="0.8" fill="#070707" />
<ellipse cx="1081.3" cy="1088.5" rx="1" ry="0.8" fill="#070707" />
<ellipse cx="1084" cy="1090.9" rx="1" ry="0.8" fill="#070707" />
<ellipse cx="1160.9" cy="1107" rx="5.3" ry="3.2" fill="#1c1c1c" />
<ellipse cx="1161.1" cy="1108.1" rx="3.8" ry="1.5" fill="#e6e6e6" />
<ellipse cx="1154.9" cy="1100" rx="4.3" ry="3" fill="#f4f4f4" />
<ellipse cx="1184.6" cy="1104.9" rx="4.3" ry="3" fill="#f4f4f4" />
<ellipse cx="1147.2" cy="1102.6" rx="1.1" ry="0.9" fill="#070707" />
<ellipse cx="1174.8" cy="1111.4" rx="1.1" ry="0.9" fill="#070707" />
<ellipse cx="1132.2" cy="1104.8" rx="1.1" ry="0.9" fill="#070707" />
<ellipse cx="1135" cy="1107.3" rx="1.1" ry="0.9" fill="#070707" />
<ellipse cx="1213.1" cy="1123.6" rx="5.4" ry="3.2" fill="#1c1c1c" />
<ellipse cx="1213.3" cy="1124.8" rx="3.9" ry="1.5" fill="#e6e6e6" />
<ellipse cx="1206.8" cy="1116.4" rx="4.3" ry="3" fill="#f4f4f4" />
<ellipse cx="1237" cy="1121.5" rx="4.3" ry="3" fill="#f4f4f4" />
<ellipse cx="1199.1" cy="1119.1" rx="1.1" ry="0.9" fill="#070707" />
<ellipse cx="1227.2" cy="1128.1" rx="1.1" ry="0.9" fill="#070707" />
<ellipse cx="1184.1" cy="1121.4" rx="1.1" ry="0.9" fill="#070707" />
<ellipse cx="1187" cy="1123.9" rx="1.1" ry="0.9" fill="#070707" />
<ellipse cx="1300.1" cy="1151.2" rx="5.6" ry="3.3" fill="#1c1c1c" />
<ellipse cx="1300.3" cy="1152.5" rx="4" ry="1.6" fill="#e6e6e6" />
<ellipse cx="1293.3" cy="1143.9" rx="4.4" ry="3.1" fill="#f4f4f4" />
<ellipse cx="1324.2" cy="1149" rx="4.4" ry="3.1" fill="#f4f4f4" />
<ellipse cx="1285.6" cy="1146.6" rx="1.1" ry="0.9" fill="#070707" />
<ellipse cx="1314.6" cy="1155.9" rx="1.1" ry="0.9" fill="#070707" />
<ellipse cx="1270.4" cy="1149" rx="1.1" ry="0.9" fill="#070707" />
<ellipse cx="1273.6" cy="1151.7" rx="1.1" ry="0.9" fill="#070707" />
<ellipse cx="716.3" cy="937.5" rx="4.6" ry="2.7" fill="#1c1c1c" />
<ellipse cx="716.5" cy="938.5" rx="3.3" ry="1.3" fill="#e6e6e6" />
<ellipse cx="712.9" cy="932.1" rx="3.7" ry="2.6" fill="#f4f4f4" />
<ellipse cx="738.5" cy="936.2" rx="3.7" ry="2.6" fill="#f4f4f4" />
<ellipse cx="705" cy="934" rx="0.9" ry="0.7" fill="#070707" />
<ellipse cx="727.6" cy="941" rx="0.9" ry="0.7" fill="#070707" />
<ellipse cx="690.7" cy="935.6" rx="0.9" ry="0.7" fill="#070707" />
<ellipse cx="692.5" cy="937.6" rx="0.9" ry="0.7" fill="#070707" />
<ellipse cx="769.7" cy="954.1" rx="4.7" ry="2.8" fill="#1c1c1c" />
<ellipse cx="769.9" cy="955.1" rx="3.4" ry="1.3" fill="#e6e6e6" />
<ellipse cx="766" cy="948.5" rx="3.7" ry="2.6" fill="#f4f4f4" />
<ellipse cx="792.1" cy="952.7" rx="3.7" ry="2.6" fill="#f4f4f4" />
<ellipse cx="758.2" cy="950.5" rx="0.9" ry="0.7" fill="#070707" />
<ellipse cx="781.3" cy="957.7" rx="0.9" ry="0.7" fill="#070707" />
<ellipse cx="743.8" cy="952.2" rx="0.9" ry="0.7" fill="#070707" />
<ellipse cx="745.7" cy="954.2" rx="0.9" ry="0.7" fill="#070707" />
<ellipse cx="813.4" cy="967.7" rx="4.7" ry="2.8" fill="#1c1c1c" />
<ellipse cx="813.6" cy="968.7" rx="3.4" ry="1.3" fill="#e6e6e6" />
<ellipse cx="809.5" cy="962" rx="3.8" ry="2.7" fill="#f4f4f4" />
<ellipse cx="835.9" cy="966.2" rx="3.8" ry="2.7" fill="#f4f4f4" />
<ellipse cx="801.6" cy="964" rx="0.9" ry="0.8" fill="#070707" />
<ellipse cx="825.2" cy="971.3" rx="0.9" ry="0.8" fill="#070707" />
<ellipse cx="787.2" cy="965.7" rx="0.9" ry="0.8" fill="#070707" />
<ellipse cx="789.2" cy="967.8" rx="0.9" ry="0.8" fill="#070707" />
<ellipse cx="857.9" cy="981.5" rx="4.8" ry="2.9" fill="#1c1c1c" />
<ellipse cx="858.1" cy="982.5" rx="3.5" ry="1.3" fill="#e6e6e6" />
<ellipse cx="853.8" cy="975.6" rx="3.9" ry="2.7" fill="#f4f4f4" />
<ellipse cx="880.5" cy="979.9" rx="3.9" ry="2.7" fill="#f4f4f4" />
<ellipse cx="845.9" cy="977.8" rx="1" ry="0.8" fill="#070707" />
<ellipse cx="869.9" cy="985.2" rx="1" ry="0.8" fill="#070707" />
<ellipse cx="831.4" cy="979.5" rx="1" ry="0.8" fill="#070707" />
<ellipse cx="833.5" cy="981.6" rx="1" ry="0.8" fill="#070707" />
<ellipse cx="903.3" cy="995.6" rx="4.9" ry="2.9" fill="#1c1c1c" />
<ellipse cx="903.5" cy="996.6" rx="3.5" ry="1.4" fill="#e6e6e6" />
<ellipse cx="898.9" cy="989.6" rx="3.9" ry="2.7" fill="#f4f4f4" />
<ellipse cx="926" cy="993.9" rx="3.9" ry="2.7" fill="#f4f4f4" />
<ellipse cx="891.1" cy="991.8" rx="1" ry="0.8" fill="#070707" />
<ellipse cx="915.5" cy="999.4" rx="1" ry="0.8" fill="#070707" />
<ellipse cx="876.5" cy="993.6" rx="1" ry="0.8" fill="#070707" />
<ellipse cx="878.7" cy="995.7" rx="1" ry="0.8" fill="#070707" />
<ellipse cx="949.5" cy="1009.9" rx="5" ry="3" fill="#1c1c1c" />
<ellipse cx="949.7" cy="1011" rx="3.6" ry="1.4" fill="#e6e6e6" />
<ellipse cx="944.9" cy="1003.8" rx="4" ry="2.8" fill="#f4f4f4" />
<ellipse cx="972.4" cy="1008.2" rx="4" ry="2.8" fill="#f4f4f4" />
<ellipse cx="937.1" cy="1006.1" rx="1" ry="0.8" fill="#070707" />
<ellipse cx="962" cy="1013.8" rx="1" ry="0.8" fill="#070707" />
<ellipse cx="922.4" cy="1007.9" rx="1" ry="0.8" fill="#070707" />
<ellipse cx="924.7" cy="1010.1" rx="1" ry="0.8" fill="#070707" />
<ellipse cx="996.6" cy="1024.5" rx="5" ry="3" fill="#1c1c1c" />
<ellipse cx="996.8" cy="1025.6" rx="3.6" ry="1.4" fill="#e6e6e6" />
<ellipse cx="991.8" cy="1018.3" rx="4" ry="2.8" fill="#f4f4f4" />
<ellipse cx="1019.7" cy="1022.7" rx="4" ry="2.8" fill="#f4f4f4" />
<ellipse cx="983.9" cy="1020.6" rx="1" ry="0.8" fill="#070707" />
<ellipse cx="1009.3" cy="1028.5" rx="1" ry="0.8" fill="#070707" />
<ellipse cx="969.3" cy="1022.6" rx="1" ry="0.8" fill="#070707" />
<ellipse cx="971.7" cy="1024.8" rx="1" ry="0.8" fill="#070707" />
<ellipse cx="1044.6" cy="1039.4" rx="5.1" ry="3.1" fill="#1c1c1c" />
<ellipse cx="1044.8" cy="1040.6" rx="3.7" ry="1.4" fill="#e6e6e6" />
<ellipse cx="1039.5" cy="1033" rx="4.1" ry="2.9" fill="#f4f4f4" />
<ellipse cx="1067.8" cy="1037.6" rx="4.1" ry="2.9" fill="#f4f4f4" />
<ellipse cx="1031.7" cy="1035.4" rx="1" ry="0.8" fill="#070707" />
<ellipse cx="1057.6" cy="1043.5" rx="1" ry="0.8" fill="#070707" />
<ellipse cx="1017" cy="1037.5" rx="1" ry="0.8" fill="#070707" />
<ellipse cx="1019.5" cy="1039.7" rx="1" ry="0.8" fill="#070707" />
<ellipse cx="1093.6" cy="1054.6" rx="5.2" ry="3.1" fill="#1c1c1c" />
<ellipse cx="1093.8" cy="1055.8" rx="3.7" ry="1.5" fill="#e6e6e6" />
<ellipse cx="1088.2" cy="1048.1" rx="4.2" ry="2.9" fill="#f4f4f4" />
<ellipse cx="1116.9" cy="1052.7" rx="4.2" ry="2.9" fill="#f4f4f4" />
<ellipse cx="1080.4" cy="1050.5" rx="1" ry="0.8" fill="#070707" />
<ellipse cx="1106.8" cy="1058.7" rx="1" ry="0.8" fill="#070707" />
<ellipse cx="1065.6" cy="1052.6" rx="1" ry="0.8" fill="#070707" />
<ellipse cx="1068.2" cy="1055" rx="1" ry="0.8" fill="#070707" />
<ellipse cx="1143.5" cy="1070.1" rx="5.3" ry="3.2" fill="#1c1c1c" />
<ellipse cx="1143.7" cy="1071.3" rx="3.8" ry="1.5" fill="#e6e6e6" />
<ellipse cx="1137.8" cy="1063.4" rx="4.2" ry="3" fill="#f4f4f4" />
<ellipse cx="1167" cy="1068.1" rx="4.2" ry="3" fill="#f4f4f4" />
<ellipse cx="1130.1" cy="1065.9" rx="1.1" ry="0.8" fill="#070707" />
<ellipse cx="1157" cy="1074.3" rx="1.1" ry="0.8" fill="#070707" />
<ellipse cx="1115.2" cy="1068.1" rx="1.1" ry="0.8" fill="#070707" />
<ellipse cx="1117.9" cy="1070.5" rx="1.1" ry="0.8" fill="#070707" />
<ellipse cx="1194.3" cy="1085.9" rx="5.4" ry="3.2" fill="#1c1c1c" />
<ellipse cx="1194.5" cy="1087.1" rx="3.9" ry="1.5" fill="#e6e6e6" />
<ellipse cx="1188.4" cy="1079.1" rx="4.3" ry="3" fill="#f4f4f4" />
<ellipse cx="1218" cy="1083.8" rx="4.3" ry="3" fill="#f4f4f4" />
<ellipse cx="1180.7" cy="1081.6" rx="1.1" ry="0.9" fill="#070707" />
<ellipse cx="1208.1" cy="1090.1" rx="1.1" ry="0.9" fill="#070707" />
<ellipse cx="1165.7" cy="1083.9" rx="1.1" ry="0.9" fill="#070707" />
<ellipse cx="1168.5" cy="1086.3" rx="1.1" ry="0.9" fill="#070707" />
<ellipse cx="1246.1" cy="1102" rx="5.5" ry="3.3" fill="#1c1c1c" />
<ellipse cx="1246.3" cy="1103.2" rx="3.9" ry="1.5" fill="#e6e6e6" />
<ellipse cx="1240" cy="1095" rx="4.4" ry="3.1" fill="#f4f4f4" />
<ellipse cx="1269.9" cy="1099.8" rx="4.4" ry="3.1" fill="#f4f4f4" />
<ellipse cx="1232.2" cy="1097.6" rx="1.1" ry="0.9" fill="#070707" />
<ellipse cx="1260.1" cy="1106.3" rx="1.1" ry="0.9" fill="#070707" />
<ellipse cx="1217.2" cy="1099.9" rx="1.1" ry="0.9" fill="#070707" />
<ellipse cx="1220.1" cy="1102.4" rx="1.1" ry="0.9" fill="#070707" />
<ellipse cx="1299" cy="1118.4" rx="5.5" ry="3.3" fill="#1c1c1c" />
<ellipse cx="1299.2" cy="1119.6" rx="4" ry="1.6" fill="#e6e6e6" />
<ellipse cx="1292.5" cy="1111.2" rx="4.4" ry="3.1" fill="#f4f4f4" />
<ellipse cx="1322.9" cy="1116.1" rx="4.4" ry="3.1" fill="#f4f4f4" />
<ellipse cx="1284.8" cy="1113.9" rx="1.1" ry="0.9" fill="#070707" />
<ellipse cx="1313.2" cy="1122.8" rx="1.1" ry="0.9" fill="#070707" />
<ellipse cx="1269.7" cy="1116.3" rx="1.1" ry="0.9" fill="#070707" />
<ellipse cx="1272.7" cy="1118.9" rx="1.1" ry="0.9" fill="#070707" />
<ellipse cx="1366.4" cy="1139.3" rx="5.7" ry="3.4" fill="#1c1c1c" />
<ellipse cx="1366.6" cy="1140.5" rx="4.1" ry="1.6" fill="#e6e6e6" />
<ellipse cx="1359.6" cy="1132" rx="4.5" ry="3.2" fill="#f4f4f4" />
<ellipse cx="1390.6" cy="1136.9" rx="4.5" ry="3.2" fill="#f4f4f4" />
<ellipse cx="1351.9" cy="1134.8" rx="1.1" ry="0.9" fill="#070707" />
<ellipse cx="1381" cy="1143.8" rx="1.1" ry="0.9" fill="#070707" />
<ellipse cx="1336.7" cy="1137.2" rx="1.1" ry="0.9" fill="#070707" />
<ellipse cx="1339.8" cy="1139.8" rx="1.1" ry="0.9" fill="#070707" />
<ellipse cx="753.1" cy="921.5" rx="4.6" ry="2.8" fill="#1c1c1c" />
<ellipse cx="753.3" cy="922.6" rx="3.3" ry="1.3" fill="#e6e6e6" />
<ellipse cx="749.8" cy="916.2" rx="3.7" ry="2.6" fill="#f4f4f4" />
<ellipse cx="775.3" cy="920.1" rx="3.7" ry="2.6" fill="#f4f4f4" />
<ellipse cx="741.9" cy="918.2" rx="0.9" ry="0.7" fill="#070707" />
<ellipse cx="764.3" cy="924.9" rx="0.9" ry="0.7" fill="#070707" />
<ellipse cx="727.6" cy="919.8" rx="0.9" ry="0.7" fill="#070707" />
<ellipse cx="729.4" cy="921.7" rx="0.9" ry="0.7" fill="#070707" />
<ellipse cx="795.4" cy="934.3" rx="4.7" ry="2.8" fill="#1c1c1c" />
<ellipse cx="795.6" cy="935.4" rx="3.4" ry="1.3" fill="#e6e6e6" />
<ellipse cx="791.9" cy="928.9" rx="3.8" ry="2.6" fill="#f4f4f4" />
<ellipse cx="817.8" cy="932.8" rx="3.8" ry="2.6" fill="#f4f4f4" />
<ellipse cx="784.1" cy="930.9" rx="0.9" ry="0.8" fill="#070707" />
<ellipse cx="806.9" cy="937.8" rx="0.9" ry="0.8" fill="#070707" />
<ellipse cx="769.7" cy="932.6" rx="0.9" ry="0.8" fill="#070707" />
<ellipse cx="771.6" cy="934.5" rx="0.9" ry="0.8" fill="#070707" />
<ellipse cx="838.6" cy="947.4" rx="4.8" ry="2.9" fill="#1c1c1c" />
<ellipse cx="838.8" cy="948.4" rx="3.4" ry="1.3" fill="#e6e6e6" />
<ellipse cx="834.9" cy="941.8" rx="3.8" ry="2.7" fill="#f4f4f4" />
<ellipse cx="861" cy="945.8" rx="3.8" ry="2.7" fill="#f4f4f4" />
<ellipse cx="827" cy="943.9" rx="1" ry="0.8" fill="#070707" />
<ellipse cx="850.3" cy="950.9" rx="1" ry="0.8" fill="#070707" />
<ellipse cx="812.6" cy="945.6" rx="1" ry="0.8" fill="#070707" />
<ellipse cx="814.6" cy="947.6" rx="1" ry="0.8" fill="#070707" />
<ellipse cx="882.6" cy="960.7" rx="4.9" ry="2.9" fill="#1c1c1c" />
<ellipse cx="882.8" cy="961.7" rx="3.5" ry="1.4" fill="#e6e6e6" />
<ellipse cx="878.6" cy="955" rx="3.9" ry="2.7" fill="#f4f4f4" />
<ellipse cx="905.2" cy="959.1" rx="3.9" ry="2.7" fill="#f4f4f4" />
<ellipse cx="870.8" cy="957.1" rx="1" ry="0.8" fill="#070707" />
<ellipse cx="894.5" cy="964.3" rx="1" ry="0.8" fill="#070707" />
<ellipse cx="856.3" cy="958.9" rx="1" ry="0.8" fill="#070707" />
<ellipse cx="858.4" cy="960.9" rx="1" ry="0.8" fill="#070707" />
<ellipse cx="927.4" cy="974.2" rx="4.9" ry="3" fill="#1c1c1c" />
<ellipse cx="927.6" cy="975.3" rx="3.5" ry="1.4" fill="#e6e6e6" />
<ellipse cx="923.2" cy="968.4" rx="3.9" ry="2.8" fill="#f4f4f4" />
<ellipse cx="950.1" cy="972.5" rx="3.9" ry="2.8" fill="#f4f4f4" />
<ellipse cx="915.4" cy="970.6" rx="1" ry="0.8" fill="#070707" />
<ellipse cx="939.6" cy="977.9" rx="1" ry="0.8" fill="#070707" />
<ellipse cx="900.9" cy="972.4" rx="1" ry="0.8" fill="#070707" />
<ellipse cx="903" cy="974.5" rx="1" ry="0.8" fill="#070707" />
<ellipse cx="973.1" cy="988" rx="5" ry="3" fill="#1c1c1c" />
<ellipse cx="973.3" cy="989.1" rx="3.6" ry="1.4" fill="#e6e6e6" />
<ellipse cx="968.7" cy="982.1" rx="4" ry="2.8" fill="#f4f4f4" />
<ellipse cx="996" cy="986.3" rx="4" ry="2.8" fill="#f4f4f4" />
<ellipse cx="960.8" cy="984.3" rx="1" ry="0.8" fill="#070707" />
<ellipse cx="985.5" cy="991.8" rx="1" ry="0.8" fill="#070707" />
<ellipse cx="946.3" cy="986.2" rx="1" ry="0.8" fill="#070707" />
<ellipse cx="948.5" cy="988.4" rx="1" ry="0.8" fill="#070707" />
<ellipse cx="1019.7" cy="1002.1" rx="5.1" ry="3" fill="#1c1c1c" />
<ellipse cx="1019.9" cy="1003.2" rx="3.7" ry="1.4" fill="#e6e6e6" />
<ellipse cx="1015" cy="996" rx="4.1" ry="2.8" fill="#f4f4f4" />
<ellipse cx="1042.7" cy="1000.3" rx="4.1" ry="2.8" fill="#f4f4f4" />
<ellipse cx="1007.2" cy="998.3" rx="1" ry="0.8" fill="#070707" />
<ellipse cx="1032.3" cy="1005.9" rx="1" ry="0.8" fill="#070707" />
<ellipse cx="992.5" cy="1000.3" rx="1" ry="0.8" fill="#070707" />
<ellipse cx="994.9" cy="1002.5" rx="1" ry="0.8" fill="#070707" />
<ellipse cx="1067.2" cy="1016.5" rx="5.2" ry="3.1" fill="#1c1c1c" />
<ellipse cx="1067.4" cy="1017.6" rx="3.7" ry="1.4" fill="#e6e6e6" />
<ellipse cx="1062.2" cy="1010.3" rx="4.1" ry="2.9" fill="#f4f4f4" />
<ellipse cx="1090.3" cy="1014.6" rx="4.1" ry="2.9" fill="#f4f4f4" />
<ellipse cx="1054.4" cy="1012.6" rx="1" ry="0.8" fill="#070707" />
<ellipse cx="1080" cy="1020.4" rx="1" ry="0.8" fill="#070707" />
<ellipse cx="1039.7" cy="1014.6" rx="1" ry="0.8" fill="#070707" />
<ellipse cx="1042.1" cy="1016.9" rx="1" ry="0.8" fill="#070707" />
<ellipse cx="1115.6" cy="1031.1" rx="5.2" ry="3.1" fill="#1c1c1c" />
<ellipse cx="1115.8" cy="1032.3" rx="3.8" ry="1.5" fill="#e6e6e6" />
<ellipse cx="1110.3" cy="1024.7" rx="4.2" ry="2.9" fill="#f4f4f4" />
<ellipse cx="1138.8" cy="1029.1" rx="4.2" ry="2.9" fill="#f4f4f4" />
<ellipse cx="1102.5" cy="1027.2" rx="1" ry="0.8" fill="#070707" />
<ellipse cx="1128.6" cy="1035.1" rx="1" ry="0.8" fill="#070707" />
<ellipse cx="1087.8" cy="1029.3" rx="1" ry="0.8" fill="#070707" />
<ellipse cx="1090.3" cy="1031.5" rx="1" ry="0.8" fill="#070707" />
<ellipse cx="1164.9" cy="1046" rx="5.3" ry="3.2" fill="#1c1c1c" />
<ellipse cx="1165.1" cy="1047.2" rx="3.8" ry="1.5" fill="#e6e6e6" />
<ellipse cx="1159.4" cy="1039.5" rx="4.3" ry="3" fill="#f4f4f4" />
<ellipse cx="1188.3" cy="1043.9" rx="4.3" ry="3" fill="#f4f4f4" />
<ellipse cx="1151.6" cy="1042" rx="1.1" ry="0.9" fill="#070707" />
<ellipse cx="1178.2" cy="1050" rx="1.1" ry="0.9" fill="#070707" />
<ellipse cx="1136.8" cy="1044.2" rx="1.1" ry="0.9" fill="#070707" />
<ellipse cx="1139.4" cy="1046.5" rx="1.1" ry="0.9" fill="#070707" />
<ellipse cx="1215.1" cy="1061.2" rx="5.4" ry="3.2" fill="#1c1c1c" />
<ellipse cx="1215.3" cy="1062.4" rx="3.9" ry="1.5" fill="#e6e6e6" />
<ellipse cx="1209.4" cy="1054.6" rx="4.3" ry="3" fill="#f4f4f4" />
<ellipse cx="1238.7" cy="1059.1" rx="4.3" ry="3" fill="#f4f4f4" />
<ellipse cx="1201.6" cy="1057.1" rx="1.1" ry="0.9" fill="#070707" />
<ellipse cx="1228.7" cy="1065.3" rx="1.1" ry="0.9" fill="#070707" />
<ellipse cx="1186.7" cy="1059.3" rx="1.1" ry="0.9" fill="#070707" />
<ellipse cx="1189.4" cy="1061.7" rx="1.1" ry="0.9" fill="#070707" />
<ellipse cx="1266.3" cy="1076.7" rx="5.5" ry="3.3" fill="#1c1c1c" />
<ellipse cx="1266.5" cy="1077.9" rx="4" ry="1.5" fill="#e6e6e6" />
<ellipse cx="1260.3" cy="1069.9" rx="4.4" ry="3.1" fill="#f4f4f4" />
<ellipse cx="1290" cy="1074.5" rx="4.4" ry="3.1" fill="#f4f4f4" />
<ellipse cx="1252.6" cy="1072.5" rx="1.1" ry="0.9" fill="#070707" />
<ellipse cx="1280.2" cy="1080.9" rx="1.1" ry="0.9" fill="#070707" />
<ellipse cx="1237.6" cy="1074.8" rx="1.1" ry="0.9" fill="#070707" />
<ellipse cx="1240.4" cy="1077.2" rx="1.1" ry="0.9" fill="#070707" />
<ellipse cx="1318.5" cy="1092.5" rx="5.6" ry="3.3" fill="#1c1c1c" />
<ellipse cx="1318.7" cy="1093.7" rx="4" ry="1.6" fill="#e6e6e6" />
<ellipse cx="1312.3" cy="1085.5" rx="4.5" ry="3.1" fill="#f4f4f4" />
<ellipse cx="1342.4" cy="1090.2" rx="4.5" ry="3.1" fill="#f4f4f4" />
<ellipse cx="1304.5" cy="1088.2" rx="1.1" ry="0.9" fill="#070707" />
<ellipse cx="1332.6" cy="1096.7" rx="1.1" ry="0.9" fill="#070707" />
<ellipse cx="1289.5" cy="1090.6" rx="1.1" ry="0.9" fill="#070707" />
<ellipse cx="1292.4" cy="1093.1" rx="1.1" ry="0.9" fill="#070707" />
<ellipse cx="1398.7" cy="1116.7" rx="5.7" ry="3.4" fill="#1c1c1c" />
<ellipse cx="1398.9" cy="1118" rx="4.1" ry="1.6" fill="#e6e6e6" />
<ellipse cx="1392" cy="1109.5" rx="4.6" ry="3.2" fill="#f4f4f4" />
<ellipse cx="1422.8" cy="1114.3" rx="4.6" ry="3.2" fill="#f4f4f4" />
<ellipse cx="1384.3" cy="1112.3" rx="1.1" ry="0.9" fill="#070707" />
<ellipse cx="1413.2" cy="1121.1" rx="1.1" ry="0.9" fill="#070707" />
<ellipse cx="1369.2" cy="1114.8" rx="1.1" ry="0.9" fill="#070707" />
<ellipse cx="1372.2" cy="1117.4" rx="1.1" ry="0.9" fill="#070707" />
<ellipse cx="762.1" cy="980" rx="6" ry="3.6" fill="#1a1a1a" />
<ellipse cx="960.8" cy="1068.7" rx="6" ry="3.6" fill="#1a1a1a" />
<ellipse cx="1237.1" cy="1131.2" rx="6" ry="3.6" fill="#1a1a1a" />
<ellipse cx="1397.7" cy="1125.5" rx="6" ry="3.6" fill="#1a1a1a" />
<ellipse cx="1026.7" cy="1126.5" rx="6" ry="3.6" fill="#1a1a1a" />
<ellipse cx="961.5" cy="997.2" rx="6" ry="3.6" fill="#1a1a1a" />
<!-- p_plate -->
<polygon points="504,864 1266,1083 1268,1101 505,874" fill="url(#plF)" />
<polygon points="1266,1083 1501,1002 1501,1020 1268,1101" fill="url(#plR)" />
<polygon points="504,864 1266,1083 1501,1002 721,816" fill="url(#plT)" />
<polyline points="504,864 1266,1083 1501,1002" fill="none" stroke="#f4f4f4" stroke-width="1.6" stroke-linejoin="round"/>
<polygon points="525.7,867.9 575.2,882.1 614,873 564.3,859.3" fill="#dddddd" />
<polygon points="564.3,859.3 614,873 614,877.7 564.3,863.9" fill="#e9e9e9" />
<polygon points="564.3,859.3 564.3,863.9 525.7,867.9 525.7,867.9" fill="#c9c9c9" />
<polygon points="564.3,859.3 564.3,863.9 533.4,870.9 525.7,867.9" fill="#cbcbcb" />
<polygon points="554.7,875.3 567.5,879 579.5,876.3 566.6,872.6" fill="#060606" />
<polygon points="579,883.2 629.7,897.7 668.8,888.3 617.9,874.1" fill="#d7d7d7" />
<polygon points="617.9,874.1 668.8,888.3 668.8,893 617.9,878.9" fill="#e9e9e9" />
<polygon points="617.9,874.1 617.9,878.9 579,883.2 579,883.2" fill="#c9c9c9" />
<polygon points="617.9,874.1 617.9,878.9 586.8,886.2 579,883.2" fill="#cbcbcb" />
<polygon points="608.6,890.7 621.7,894.5 633.7,891.6 620.6,887.9" fill="#060606" />
<polygon points="633.7,898.9 685.6,913.7 724.9,903.8 672.8,889.4" fill="#d7d7d7" />
<polygon points="672.8,889.4 724.9,903.8 724.9,908.7 672.8,894.2" fill="#e9e9e9" />
<polygon points="672.8,889.4 672.8,894.2 633.7,898.9 633.7,898.9" fill="#c9c9c9" />
<polygon points="672.8,889.4 672.8,894.2 641.5,901.8 633.7,898.9" fill="#cbcbcb" />
<polygon points="663.8,906.5 677.2,910.3 689.3,907.3 675.8,903.5" fill="#060606" />
<polygon points="689.7,914.9 731.3,926.8 770.8,916.6 729,905" fill="#dddddd" />
<polygon points="729,905 770.8,916.6 770.8,921.5 729,910" fill="#e9e9e9" />
<polygon points="729,905 729,910 689.7,914.9 689.7,914.9" fill="#c9c9c9" />
<polygon points="729,905 729,910 697.5,917.9 689.7,914.9" fill="#cbcbcb" />
<polygon points="714.6,921 728.3,924.9 740.4,921.8 726.7,917.9" fill="#060606" />
<polygon points="735.4,928 777.8,940.1 817.5,929.5 774.9,917.7" fill="#dddddd" />
<polygon points="774.9,917.7 817.5,929.5 817.5,934.6 774.9,922.8" fill="#e9e9e9" />
<polygon points="774.9,917.7 774.9,922.8 735.4,928 735.4,928" fill="#c9c9c9" />
<polygon points="774.9,917.7 774.9,922.8 743.3,931 735.4,928" fill="#cbcbcb" />
<polygon points="760.7,934.2 774.6,938.2 786.8,934.9 772.8,931" fill="#060606" />
<polygon points="782.1,941.3 825.3,953.7 865.2,942.8 821.8,930.7" fill="#d7d7d7" />
<polygon points="821.8,930.7 865.2,942.8 865.2,947.9 821.8,935.9" fill="#e9e9e9" />
<polygon points="821.8,930.7 821.8,935.9 782.1,941.3 782.1,941.3" fill="#c9c9c9" />
<polygon points="821.8,930.7 821.8,935.9 790,944.4 782.1,941.3" fill="#cbcbcb" />
<polygon points="807.6,947.6 821.9,951.7 834.1,948.3 819.8,944.3" fill="#060606" />
<polygon points="829.6,954.9 873.6,967.6 913.7,956.2 869.5,944" fill="#dddddd" />
<polygon points="869.5,944 913.7,956.2 913.7,961.5 869.5,949.2" fill="#e9e9e9" />
<polygon points="869.5,944 869.5,949.2 829.6,954.9 829.6,954.9" fill="#c9c9c9" />
<polygon points="869.5,944 869.5,949.2 837.6,958 829.6,954.9" fill="#cbcbcb" />
<polygon points="855.5,961.3 870,965.4 882.3,962 867.8,957.9" fill="#060606" />
<polygon points="878,968.8 922.9,981.7 963.2,970 918.1,957.5" fill="#dddddd" />
<polygon points="918.1,957.5 963.2,970 963.2,975.3 918.1,962.8" fill="#e9e9e9" />
<polygon points="918.1,957.5 918.1,962.8 878,968.8 878,968.8" fill="#c9c9c9" />
<polygon points="918.1,957.5 918.1,962.8 886.1,971.9 878,968.8" fill="#cbcbcb" />
<polygon points="904.2,975.2 919.1,979.4 931.4,975.9 916.6,971.7" fill="#060606" />
<polygon points="927.4,983 973.2,996.1 1013.6,984 967.7,971.2" fill="#d7d7d7" />
<polygon points="967.7,971.2 1013.6,984 1013.6,989.4 967.7,976.6" fill="#e9e9e9" />
<polygon points="967.7,971.2 967.7,976.6 927.4,983 927.4,983" fill="#c9c9c9" />
<polygon points="967.7,971.2 967.7,976.6 935.5,986 927.4,983" fill="#cbcbcb" />
<polygon points="954,989.4 969.1,993.7 981.5,990 966.4,985.8" fill="#060606" />
<polygon points="977.7,997.4 1024.3,1010.7 1065.1,998.2 1018.2,985.2" fill="#dddddd" />
<polygon points="1018.2,985.2 1065.1,998.2 1065.1,1003.7 1018.2,990.7" fill="#e9e9e9" />
<polygon points="1018.2,985.2 1018.2,990.7 977.7,997.4 977.7,997.4" fill="#c9c9c9" />
<polygon points="1018.2,985.2 1018.2,990.7 985.8,1000.5 977.7,997.4" fill="#cbcbcb" />
<polygon points="1004.6,1003.9 1020,1008.3 1032.5,1004.5 1017.1,1000.1" fill="#060606" />
<polygon points="1029,1012.1 1076.5,1025.7 1117.5,1012.8 1069.7,999.5" fill="#dddddd" />
<polygon points="1069.7,999.5 1117.5,1012.8 1117.5,1018.4 1069.7,1005.1" fill="#e9e9e9" />
<polygon points="1069.7,999.5 1069.7,1005.1 1029,1012.1 1029,1012.1" fill="#c9c9c9" />
<polygon points="1069.7,999.5 1069.7,1005.1 1037.1,1015.2 1029,1012.1" fill="#cbcbcb" />
<polygon points="1056.3,1018.6 1072,1023.1 1084.5,1019.2 1068.8,1014.8" fill="#060606" />
<polygon points="1081.3,1027 1129.7,1040.9 1170.9,1027.6 1122.2,1014.1" fill="#d7d7d7" />
<polygon points="1122.2,1014.1 1170.9,1027.6 1170.9,1033.3 1122.2,1019.8" fill="#e9e9e9" />
<polygon points="1122.2,1014.1 1122.2,1019.8 1081.3,1027 1081.3,1027" fill="#c9c9c9" />
<polygon points="1122.2,1014.1 1122.2,1019.8 1089.5,1030.1 1081.3,1027" fill="#cbcbcb" />
<polygon points="1108.9,1033.7 1124.9,1038.2 1137.5,1034.2 1121.5,1029.7" fill="#060606" />
<polygon points="1134.5,1042.3 1183.9,1056.4 1225.3,1042.7 1175.7,1028.9" fill="#dddddd" />
<polygon points="1175.7,1028.9 1225.3,1042.7 1225.3,1048.5 1175.7,1034.7" fill="#e9e9e9" />
<polygon points="1175.7,1028.9 1175.7,1034.7 1134.5,1042.3 1134.5,1042.3" fill="#c9c9c9" />
<polygon points="1175.7,1028.9 1175.7,1034.7 1142.8,1045.4 1134.5,1042.3" fill="#cbcbcb" />
<polygon points="1162.5,1049 1178.8,1053.6 1191.5,1049.5 1175.2,1044.9" fill="#060606" />
<polygon points="1188.8,1057.8 1253.1,1076.2 1294.8,1062 1230.2,1044.1" fill="#dddddd" />
<polygon points="1230.2,1044.1 1294.8,1062 1294.8,1067.9 1230.2,1050" fill="#e9e9e9" />
<polygon points="1230.2,1044.1 1230.2,1050 1188.8,1057.8 1188.8,1057.8" fill="#c9c9c9" />
<polygon points="1230.2,1044.1 1230.2,1050 1197.1,1061 1188.8,1057.8" fill="#cbcbcb" />
<polygon points="1224.1,1066.6 1240.8,1071.3 1253.6,1067 1236.9,1062.3" fill="#060606" />
<polygon points="568.1,858.4 661.6,884.3 700.6,874.9 606.7,849.7" fill="#d7d7d7" />
<polygon points="606.7,849.7 700.6,874.9 700.6,879.6 606.7,854.5" fill="#e9e9e9" />
<polygon points="606.7,849.7 606.7,854.5 568.1,858.4 568.1,858.4" fill="#c9c9c9" />
<polygon points="606.7,849.7 606.7,854.5 575.8,861.4 568.1,858.4" fill="#cbcbcb" />
<polygon points="618.7,871.7 631.7,875.2 643.7,872.4 630.7,868.9" fill="#060606" />
<polygon points="665.6,885.4 706.2,896.6 745.4,886.9 704.6,876" fill="#d7d7d7" />
<polygon points="704.6,876 745.4,886.9 745.4,891.8 704.6,880.9" fill="#e9e9e9" />
<polygon points="704.6,876 704.6,880.9 665.6,885.4 665.6,885.4" fill="#c9c9c9" />
<polygon points="704.6,876 704.6,880.9 673.4,888.4 665.6,885.4" fill="#cbcbcb" />
<polygon points="690,891.4 703.4,895.1 715.5,892.1 702.1,888.5" fill="#060606" />
<polygon points="710.2,897.7 751.6,909.2 791,899.1 749.4,888" fill="#dddddd" />
<polygon points="749.4,888 791,899.1 791,904.1 749.4,893" fill="#e9e9e9" />
<polygon points="749.4,888 749.4,893 710.2,897.7 710.2,897.7" fill="#c9c9c9" />
<polygon points="749.4,888 749.4,893 718.1,900.8 710.2,897.7" fill="#cbcbcb" />
<polygon points="735,903.8 748.7,907.5 760.8,904.5 747.1,900.8" fill="#060606" />
<polygon points="755.8,910.3 797.9,922 837.5,911.6 795.2,900.2" fill="#dddddd" />
<polygon points="795.2,900.2 837.5,911.6 837.5,916.7 795.2,905.3" fill="#e9e9e9" />
<polygon points="795.2,900.2 795.2,905.3 755.8,910.3 755.8,910.3" fill="#c9c9c9" />
<polygon points="795.2,900.2 795.2,905.3 763.6,913.4 755.8,910.3" fill="#cbcbcb" />
<polygon points="780.9,916.4 794.8,920.3 807,917.1 793,913.3" fill="#060606" />
<polygon points="802.2,923.1 845.2,935 884.9,924.3 841.8,912.7" fill="#d7d7d7" />
<polygon points="841.8,912.7 884.9,924.3 884.9,929.5 841.8,917.9" fill="#e9e9e9" />
<polygon points="841.8,912.7 841.8,917.9 802.2,923.1 802.2,923.1" fill="#c9c9c9" />
<polygon points="841.8,912.7 841.8,917.9 810.1,926.3 802.2,923.1" fill="#cbcbcb" />
<polygon points="827.6,929.3 841.8,933.2 854,930 839.8,926.1" fill="#060606" />
<polygon points="849.5,936.2 893.3,948.4 933.3,937.2 889.2,925.4" fill="#dddddd" />
<polygon points="889.2,925.4 933.3,937.2 933.3,942.5 889.2,930.7" fill="#e9e9e9" />
<polygon points="889.2,925.4 889.2,930.7 849.5,936.2 849.5,936.2" fill="#c9c9c9" />
<polygon points="889.2,925.4 889.2,930.7 857.4,939.3 849.5,936.2" fill="#cbcbcb" />
<polygon points="875.2,942.5 889.7,946.5 902,943.1 887.5,939.1" fill="#060606" />
<polygon points="897.7,949.6 942.3,961.9 982.5,950.4 937.6,938.4" fill="#dddddd" />
<polygon points="937.6,938.4 982.5,950.4 982.5,955.8 937.6,943.8" fill="#e9e9e9" />
<polygon points="937.6,938.4 937.6,943.8 897.7,949.6 897.7,949.6" fill="#c9c9c9" />
<polygon points="937.6,938.4 937.6,943.8 905.7,952.7 897.7,949.6" fill="#cbcbcb" />
<polygon points="923.8,955.9 938.5,959.9 950.8,956.4 936.1,952.4" fill="#060606" />
<polygon points="946.8,963.2 992.3,975.7 1032.7,963.8 987,951.6" fill="#d7d7d7" />
<polygon points="987,951.6 1032.7,963.8 1032.7,969.3 987,957.1" fill="#e9e9e9" />
<polygon points="987,951.6 987,957.1 946.8,963.2 946.8,963.2" fill="#c9c9c9" />
<polygon points="987,951.6 987,957.1 954.8,966.3 946.8,963.2" fill="#cbcbcb" />
<polygon points="973.2,969.5 988.3,973.7 1000.7,970 985.6,965.9" fill="#060606" />
<polygon points="996.8,977 1043.2,989.8 1083.8,977.5 1037.3,965.1" fill="#dddddd" />
<polygon points="1037.3,965.1 1083.8,977.5 1083.8,983.1 1037.3,970.6" fill="#e9e9e9" />
<polygon points="1037.3,965.1 1037.3,970.6 996.8,977 996.8,977" fill="#c9c9c9" />
<polygon points="1037.3,965.1 1037.3,970.6 1004.9,980.2 996.8,977" fill="#cbcbcb" />
<polygon points="1023.7,983.5 1039,987.7 1051.4,983.9 1036.1,979.7" fill="#060606" />
<polygon points="1047.9,991.1 1095.2,1004.2 1136,991.5 1088.5,978.8" fill="#dddddd" />
<polygon points="1088.5,978.8 1136,991.5 1136,997.2 1088.5,984.4" fill="#e9e9e9" />
<polygon points="1088.5,978.8 1088.5,984.4 1047.9,991.1 1047.9,991.1" fill="#c9c9c9" />
<polygon points="1088.5,978.8 1088.5,984.4 1056,994.3 1047.9,991.1" fill="#cbcbcb" />
<polygon points="1075,997.6 1090.6,1001.9 1103.2,998 1087.6,993.8" fill="#060606" />
<polygon points="1099.9,1005.5 1148.1,1018.8 1189.1,1005.7 1140.7,992.8" fill="#d7d7d7" />
<polygon points="1140.7,992.8 1189.1,1005.7 1189.1,1011.5 1140.7,998.5" fill="#e9e9e9" />
<polygon points="1140.7,992.8 1140.7,998.5 1099.9,1005.5 1099.9,1005.5" fill="#c9c9c9" />
<polygon points="1140.7,992.8 1140.7,998.5 1108.1,1008.7 1099.9,1005.5" fill="#cbcbcb" />
<polygon points="1127.4,1012.1 1143.3,1016.5 1155.9,1012.5 1140,1008.1" fill="#060606" />
<polygon points="1152.9,1020.2 1243.1,1045.1 1284.6,1031.3 1194,1007" fill="#d7d7d7" />
<polygon points="1194,1007 1284.6,1031.3 1284.6,1037.2 1194,1012.9" fill="#e9e9e9" />
<polygon points="1194,1007 1194,1012.9 1152.9,1020.2 1152.9,1020.2" fill="#c9c9c9" />
<polygon points="1194,1007 1194,1012.9 1161.1,1023.4 1152.9,1020.2" fill="#cbcbcb" />
<polygon points="1201.1,1032.4 1217.4,1036.9 1230.1,1032.7 1213.8,1028.3" fill="#060606" />
<polygon points="1248.1,1046.5 1298.9,1060.6 1340.6,1046.3 1289.6,1032.7" fill="#d7d7d7" />
<polygon points="1289.6,1032.7 1340.6,1046.3 1340.6,1052.3 1289.6,1038.7" fill="#e9e9e9" />
<polygon points="1289.6,1032.7 1289.6,1038.7 1248.1,1046.5 1248.1,1046.5" fill="#c9c9c9" />
<polygon points="1289.6,1032.7 1289.6,1038.7 1256.4,1049.8 1248.1,1046.5" fill="#cbcbcb" />
<polygon points="1276.7,1053.3 1293.4,1057.9 1306.2,1053.5 1289.5,1049" fill="#060606" />
<polygon points="610.5,848.9 682.4,868.1 721.3,858.9 649.1,840.2" fill="#d7d7d7" />
<polygon points="649.1,840.2 721.3,858.9 721.3,863.7 649.1,845.1" fill="#e9e9e9" />
<polygon points="649.1,840.2 649.1,845.1 610.5,848.9 610.5,848.9" fill="#c9c9c9" />
<polygon points="649.1,840.2 649.1,845.1 618.3,852 610.5,848.9" fill="#cbcbcb" />
<polygon points="650.5,859 663.5,862.5 675.5,859.7 662.5,856.3" fill="#060606" />
<polygon points="686.3,869.1 726.7,879.9 765.8,870.4 725.2,859.9" fill="#d7d7d7" />
<polygon points="725.2,859.9 765.8,870.4 765.8,875.3 725.2,864.9" fill="#e9e9e9" />
<polygon points="725.2,859.9 725.2,864.9 686.3,869.1 686.3,869.1" fill="#c9c9c9" />
<polygon points="725.2,859.9 725.2,864.9 694.1,872.3 686.3,869.1" fill="#cbcbcb" />
<polygon points="710.7,875.1 724.1,878.6 736.1,875.7 722.7,872.2" fill="#060606" />
<polygon points="730.8,881 772,892 811.3,882.1 769.9,871.4" fill="#dddddd" />
<polygon points="769.9,871.4 811.3,882.1 811.3,887.2 769.9,876.5" fill="#e9e9e9" />
<polygon points="769.9,871.4 769.9,876.5 730.8,881 730.8,881" fill="#c9c9c9" />
<polygon points="769.9,871.4 769.9,876.5 738.6,884.1 730.8,881" fill="#cbcbcb" />
<polygon points="755.5,887 769.1,890.6 781.1,887.6 767.5,884" fill="#060606" />
<polygon points="776.1,893.1 818.1,904.3 857.5,894.1 815.4,883.2" fill="#dddddd" />
<polygon points="815.4,883.2 857.5,894.1 857.5,899.2 815.4,888.3" fill="#e9e9e9" />
<polygon points="815.4,883.2 815.4,888.3 776.1,893.1 776.1,893.1" fill="#c9c9c9" />
<polygon points="815.4,883.2 815.4,888.3 783.9,896.2 776.1,893.1" fill="#cbcbcb" />
<polygon points="801.1,899.2 815,902.8 827.1,899.7 813.2,896.1" fill="#060606" />
<polygon points="822.2,905.4 865,916.8 904.7,906.2 861.7,895.1" fill="#d7d7d7" />
<polygon points="861.7,895.1 904.7,906.2 904.7,911.5 861.7,900.4" fill="#e9e9e9" />
<polygon points="861.7,895.1 861.7,900.4 822.2,905.4 822.2,905.4" fill="#c9c9c9" />
<polygon points="861.7,895.1 861.7,900.4 830.1,908.6 822.2,905.4" fill="#cbcbcb" />
<polygon points="847.6,911.5 861.7,915.3 873.9,912 859.8,908.3" fill="#060606" />
<polygon points="869.3,918 912.9,929.6 952.8,918.7 909,907.3" fill="#dddddd" />
<polygon points="909,907.3 952.8,918.7 952.8,924 909,912.7" fill="#e9e9e9" />
<polygon points="909,907.3 909,912.7 869.3,918 869.3,918" fill="#c9c9c9" />
<polygon points="909,907.3 909,912.7 877.2,921.2 869.3,918" fill="#cbcbcb" />
<polygon points="895,924.2 909.4,928 921.6,924.6 907.2,920.9" fill="#060606" />
<polygon points="917.3,930.8 961.7,942.7 1001.8,931.3 957.2,919.8" fill="#dddddd" />
<polygon points="957.2,919.8 1001.8,931.3 1001.8,936.7 957.2,925.2" fill="#e9e9e9" />
<polygon points="957.2,919.8 957.2,925.2 917.3,930.8 917.3,930.8" fill="#c9c9c9" />
<polygon points="957.2,919.8 957.2,925.2 925.3,934 917.3,930.8" fill="#cbcbcb" />
<polygon points="943.3,937 958,940.9 970.3,937.5 955.6,933.6" fill="#060606" />
<polygon points="966.2,943.8 1011.5,955.9 1051.7,944.2 1006.3,932.5" fill="#d7d7d7" />
<polygon points="1006.3,932.5 1051.7,944.2 1051.7,949.7 1006.3,938" fill="#e9e9e9" />
<polygon points="1006.3,932.5 1006.3,938 966.2,943.8 966.2,943.8" fill="#c9c9c9" />
<polygon points="1006.3,932.5 1006.3,938 974.2,947.1 966.2,943.8" fill="#cbcbcb" />
<polygon points="992.5,950.1 1007.5,954.1 1019.8,950.5 1004.9,946.6" fill="#060606" />
<polygon points="1016,957.1 1062.2,969.5 1102.6,957.4 1056.3,945.4" fill="#dddddd" />
<polygon points="1056.3,945.4 1102.6,957.4 1102.6,963 1056.3,951" fill="#e9e9e9" />
<polygon points="1056.3,945.4 1056.3,951 1016,957.1 1016,957.1" fill="#c9c9c9" />
<polygon points="1056.3,945.4 1056.3,951 1024,960.4 1016,957.1" fill="#cbcbcb" />
<polygon points="1042.7,963.5 1057.9,967.5 1070.4,963.9 1055.1,959.9" fill="#060606" />
<polygon points="1066.8,970.7 1113.8,983.3 1154.5,970.8 1107.3,958.6" fill="#dddddd" />
<polygon points="1107.3,958.6 1154.5,970.8 1154.5,976.4 1107.3,964.2" fill="#e9e9e9" />
<polygon points="1107.3,958.6 1107.3,964.2 1066.8,970.7 1066.8,970.7" fill="#c9c9c9" />
<polygon points="1107.3,958.6 1107.3,964.2 1074.9,973.9 1066.8,970.7" fill="#cbcbcb" />
<polygon points="1093.8,977.1 1109.3,981.2 1121.9,977.4 1106.3,973.4" fill="#060606" />
<polygon points="1118.5,984.5 1166.5,997.3 1207.4,984.4 1159.2,972" fill="#d7d7d7" />
<polygon points="1159.2,972 1207.4,984.4 1207.4,990.2 1159.2,977.8" fill="#e9e9e9" />
<polygon points="1159.2,972 1159.2,977.8 1118.5,984.5 1118.5,984.5" fill="#c9c9c9" />
<polygon points="1159.2,972 1159.2,977.8 1126.7,987.8 1118.5,984.5" fill="#cbcbcb" />
<polygon points="1145.9,991 1161.8,995.2 1174.3,991.3 1158.5,987.1" fill="#060606" />
<polygon points="1171.3,998.6 1220.1,1011.7 1261.3,998.3 1212.2,985.7" fill="#dddddd" />
<polygon points="1212.2,985.7 1261.3,998.3 1261.3,1004.2 1212.2,991.5" fill="#e9e9e9" />
<polygon points="1212.2,985.7 1212.2,991.5 1171.3,998.6 1171.3,998.6" fill="#c9c9c9" />
<polygon points="1212.2,985.7 1212.2,991.5 1179.5,1001.9 1171.3,998.6" fill="#cbcbcb" />
<polygon points="1199,1005.2 1215.2,1009.4 1227.8,1005.4 1211.7,1001.1" fill="#060606" />
<polygon points="1225,1013 1344.7,1044.9 1386.4,1030.7 1266.2,999.6" fill="#dddddd" />
<polygon points="1266.2,999.6 1386.4,1030.7 1386.4,1036.6 1266.2,1005.6" fill="#e9e9e9" />
<polygon points="1266.2,999.6 1266.2,1005.6 1225,1013 1225,1013" fill="#c9c9c9" />
<polygon points="1266.2,999.6 1266.2,1005.6 1233.3,1016.3 1225,1013" fill="#cbcbcb" />
<polygon points="1287.5,1028.7 1304.2,1033.1 1316.9,1028.8 1300.3,1024.4" fill="#060606" />
<polygon points="653,839.4 714.1,855.1 753,846 691.6,830.7" fill="#dddddd" />
<polygon points="691.6,830.7 753,846 753,850.9 691.6,835.6" fill="#e9e9e9" />
<polygon points="691.6,830.7 691.6,835.6 653,839.4 653,839.4" fill="#c9c9c9" />
<polygon points="691.6,830.7 691.6,835.6 660.7,842.6 653,839.4" fill="#cbcbcb" />
<polygon points="687.7,848 700.7,851.3 712.6,848.5 699.6,845.2" fill="#060606" />
<polygon points="718.1,856.1 758.5,866.5 797.5,857.1 757,847" fill="#dddddd" />
<polygon points="757,847 797.5,857.1 797.5,862.1 757,852" fill="#e9e9e9" />
<polygon points="757,847 757,852 718.1,856.1 718.1,856.1" fill="#c9c9c9" />
<polygon points="757,847 757,852 725.8,859.3 718.1,856.1" fill="#cbcbcb" />
<polygon points="742.4,862 755.8,865.4 767.8,862.6 754.4,859.2" fill="#060606" />
<polygon points="762.5,867.6 803.7,878.2 842.9,868.4 801.6,858.1" fill="#d7d7d7" />
<polygon points="801.6,858.1 842.9,868.4 842.9,873.5 801.6,863.2" fill="#e9e9e9" />
<polygon points="801.6,858.1 801.6,863.2 762.5,867.6 762.5,867.6" fill="#c9c9c9" />
<polygon points="801.6,858.1 801.6,863.2 770.3,870.8 762.5,867.6" fill="#cbcbcb" />
<polygon points="787.2,873.5 800.8,877 812.9,874 799.2,870.6" fill="#060606" />
<polygon points="807.8,879.2 849.8,890 889.2,879.9 847.1,869.4" fill="#dddddd" />
<polygon points="847.1,869.4 889.2,879.9 889.2,885.1 847.1,874.6" fill="#e9e9e9" />
<polygon points="847.1,869.4 847.1,874.6 807.8,879.2 807.8,879.2" fill="#c9c9c9" />
<polygon points="847.1,869.4 847.1,874.6 815.7,882.5 807.8,879.2" fill="#cbcbcb" />
<polygon points="832.8,885.3 846.7,888.8 858.8,885.7 844.9,882.2" fill="#060606" />
<polygon points="854,891.1 896.8,902.1 936.4,891.6 893.4,880.9" fill="#dddddd" />
<polygon points="893.4,880.9 936.4,891.6 936.4,896.9 893.4,886.2" fill="#e9e9e9" />
<polygon points="893.4,880.9 893.4,886.2 854,891.1 854,891.1" fill="#c9c9c9" />
<polygon points="893.4,880.9 893.4,886.2 861.9,894.4 854,891.1" fill="#cbcbcb" />
<polygon points="879.3,897.2 893.4,900.8 905.6,897.6 891.5,894" fill="#060606" />
<polygon points="901,903.2 944.6,914.5 984.5,903.6 940.7,892.7" fill="#d7d7d7" />
<polygon points="940.7,892.7 984.5,903.6 984.5,909 940.7,898.1" fill="#e9e9e9" />
<polygon points="940.7,892.7 940.7,898.1 901,903.2 901,903.2" fill="#c9c9c9" />
<polygon points="940.7,892.7 940.7,898.1 909,906.5 901,903.2" fill="#cbcbcb" />
<polygon points="926.7,909.4 941.1,913 953.3,909.7 938.9,906.1" fill="#060606" />
<polygon points="949,915.6 993.4,927 1033.4,915.8 988.8,904.7" fill="#dddddd" />
<polygon points="988.8,904.7 1033.4,915.8 1033.4,921.2 988.8,910.1" fill="#e9e9e9" />
<polygon points="988.8,904.7 988.8,910.1 949,915.6 949,915.6" fill="#c9c9c9" />
<polygon points="988.8,904.7 988.8,910.1 956.9,918.9 949,915.6" fill="#cbcbcb" />
<polygon points="975,921.8 989.6,925.5 1001.9,922.1 987.2,918.4" fill="#060606" />
<polygon points="997.9,928.2 1043.1,939.8 1083.4,928.2 1037.9,916.9" fill="#dddddd" />
<polygon points="1037.9,916.9 1083.4,928.2 1083.4,933.8 1037.9,922.4" fill="#e9e9e9" />
<polygon points="1037.9,916.9 1037.9,922.4 997.9,928.2 997.9,928.2" fill="#c9c9c9" />
<polygon points="1037.9,916.9 1037.9,922.4 1005.9,931.5 997.9,928.2" fill="#cbcbcb" />
<polygon points="1024.2,934.4 1039.1,938.2 1051.5,934.7 1036.5,930.9" fill="#060606" />
<polygon points="1047.7,941 1093.8,952.9 1134.3,940.9 1087.9,929.3" fill="#d7d7d7" />
<polygon points="1087.9,929.3 1134.3,940.9 1134.3,946.5 1087.9,935" fill="#e9e9e9" />
<polygon points="1087.9,929.3 1087.9,935 1047.7,941 1047.7,941" fill="#c9c9c9" />
<polygon points="1087.9,929.3 1087.9,935 1055.7,944.3 1047.7,941" fill="#cbcbcb" />
<polygon points="1074.3,947.3 1089.6,951.2 1102,947.5 1086.8,943.7" fill="#060606" />
<polygon points="1098.4,954.1 1145.5,966.2 1186.1,953.8 1138.9,942" fill="#dddddd" />
<polygon points="1138.9,942 1186.1,953.8 1186.1,959.5 1138.9,947.8" fill="#e9e9e9" />
<polygon points="1138.9,942 1138.9,947.8 1098.4,954.1 1098.4,954.1" fill="#c9c9c9" />
<polygon points="1138.9,942 1138.9,947.8 1106.5,957.4 1098.4,954.1" fill="#cbcbcb" />
<polygon points="1125.5,960.4 1141,964.4 1153.5,960.6 1137.9,956.7" fill="#060606" />
<polygon points="1150.2,967.4 1198.1,979.7 1239,966.9 1190.9,954.9" fill="#dddddd" />
<polygon points="1190.9,954.9 1239,966.9 1239,972.8 1190.9,960.8" fill="#e9e9e9" />
<polygon points="1190.9,954.9 1190.9,960.8 1150.2,967.4 1150.2,967.4" fill="#c9c9c9" />
<polygon points="1190.9,954.9 1190.9,960.8 1158.3,970.7 1150.2,967.4" fill="#cbcbcb" />
<polygon points="1177.6,973.8 1193.4,977.8 1206,973.9 1190.1,969.9" fill="#060606" />
<polygon points="1202.9,981 1251.8,993.5 1292.9,980.3 1243.8,968.1" fill="#d7d7d7" />
<polygon points="1243.8,968.1 1292.9,980.3 1292.9,986.3 1243.8,974.1" fill="#e9e9e9" />
<polygon points="1243.8,968.1 1243.8,974.1 1202.9,981 1202.9,981" fill="#c9c9c9" />
<polygon points="1243.8,968.1 1243.8,974.1 1211.1,984.3 1202.9,981" fill="#cbcbcb" />
<polygon points="1230.7,987.4 1246.8,991.6 1259.4,987.5 1243.3,983.5" fill="#060606" />
<polygon points="1256.7,994.8 1306.5,1007.6 1347.8,994 1297.8,981.6" fill="#dddddd" />
<polygon points="1297.8,981.6 1347.8,994 1347.8,1000 1297.8,987.6" fill="#e9e9e9" />
<polygon points="1297.8,981.6 1297.8,987.6 1256.7,994.8 1256.7,994.8" fill="#c9c9c9" />
<polygon points="1297.8,981.6 1297.8,987.6 1264.9,998.2 1256.7,994.8" fill="#cbcbcb" />
<polygon points="1284.8,1001.3 1301.2,1005.5 1313.9,1001.4 1297.5,997.2" fill="#060606" />
<polygon points="1311.5,1008.9 1390.5,1029.2 1432.2,1015 1352.8,995.2" fill="#dddddd" />
<polygon points="1352.8,995.2 1432.2,1015 1432.2,1021.1 1352.8,1001.4" fill="#e9e9e9" />
<polygon points="1352.8,995.2 1352.8,1001.4 1311.5,1008.9 1311.5,1008.9" fill="#c9c9c9" />
<polygon points="1352.8,995.2 1352.8,1001.4 1319.7,1012.3 1311.5,1008.9" fill="#cbcbcb" />
<polygon points="1353.9,1019.1 1370.8,1023.4 1383.5,1019.1 1366.7,1014.8" fill="#060606" />
<polygon points="695.4,829.9 734.9,839.6 773.6,830.7 734,821.2" fill="#dddddd" />
<polygon points="734,821.2 773.6,830.7 773.6,835.7 734,826.2" fill="#e9e9e9" />
<polygon points="734,821.2 734,826.2 695.4,829.9 695.4,829.9" fill="#c9c9c9" />
<polygon points="734,821.2 734,826.2 703.1,833.1 695.4,829.9" fill="#cbcbcb" />
<polygon points="719.4,835.7 732.4,838.9 744.3,836.1 731.3,833" fill="#060606" />
<polygon points="738.8,840.6 779,850.6 818,841.3 777.6,831.6" fill="#dddddd" />
<polygon points="777.6,831.6 818,841.3 818,846.4 777.6,836.7" fill="#e9e9e9" />
<polygon points="777.6,831.6 777.6,836.7 738.8,840.6 738.8,840.6" fill="#c9c9c9" />
<polygon points="777.6,831.6 777.6,836.7 746.6,843.9 738.8,840.6" fill="#cbcbcb" />
<polygon points="763.1,846.5 776.4,849.7 788.3,846.9 775,843.7" fill="#060606" />
<polygon points="783,851.6 824,861.7 863.1,852.1 822,842.3" fill="#d7d7d7" />
<polygon points="822,842.3 863.1,852.1 863.1,857.3 822,847.4" fill="#e9e9e9" />
<polygon points="822,842.3 822,847.4 783,851.6 783,851.6" fill="#c9c9c9" />
<polygon points="822,842.3 822,847.4 790.8,854.9 783,851.6" fill="#cbcbcb" />
<polygon points="807.6,857.5 821.1,860.8 833.2,857.9 819.6,854.6" fill="#060606" />
<polygon points="828.1,862.8 869.9,873.1 909.2,863.1 867.3,853.1" fill="#dddddd" />
<polygon points="867.3,853.1 909.2,863.1 909.2,868.4 867.3,858.3" fill="#e9e9e9" />
<polygon points="867.3,853.1 867.3,858.3 828.1,862.8 828.1,862.8" fill="#c9c9c9" />
<polygon points="867.3,853.1 867.3,858.3 835.9,866.1 828.1,862.8" fill="#cbcbcb" />
<polygon points="853,868.7 866.8,872.1 878.9,869.1 865.1,865.7" fill="#060606" />
<polygon points="874,874.2 916.6,884.7 956.1,874.4 913.4,864.1" fill="#dddddd" />
<polygon points="913.4,864.1 956.1,874.4 956.1,879.7 913.4,869.5" fill="#e9e9e9" />
<polygon points="913.4,864.1 913.4,869.5 874,874.2 874,874.2" fill="#c9c9c9" />
<polygon points="913.4,864.1 913.4,869.5 881.9,877.5 874,874.2" fill="#cbcbcb" />
<polygon points="899.3,880.2 913.3,883.6 925.5,880.5 911.4,877" fill="#060606" />
<polygon points="920.8,885.8 964.2,896.5 1004,885.8 960.4,875.4" fill="#d7d7d7" />
<polygon points="960.4,875.4 1004,885.8 1004,891.2 960.4,880.8" fill="#e9e9e9" />
<polygon points="960.4,875.4 960.4,880.8 920.8,885.8 920.8,885.8" fill="#c9c9c9" />
<polygon points="960.4,875.4 960.4,880.8 928.8,889.1 920.8,885.8" fill="#cbcbcb" />
<polygon points="946.4,891.8 960.7,895.3 972.9,892.1 958.6,888.6" fill="#060606" />
<polygon points="968.6,897.6 1012.8,908.6 1052.7,897.5 1008.3,886.9" fill="#dddddd" />
<polygon points="1008.3,886.9 1052.7,897.5 1052.7,903 1008.3,892.4" fill="#e9e9e9" />
<polygon points="1008.3,886.9 1008.3,892.4 968.6,897.6 968.6,897.6" fill="#c9c9c9" />
<polygon points="1008.3,886.9 1008.3,892.4 976.5,900.9 968.6,897.6" fill="#cbcbcb" />
<polygon points="994.5,903.7 1009,907.3 1021.3,903.9 1006.7,900.4" fill="#060606" />
<polygon points="1017.2,909.7 1062.3,920.8 1102.4,909.4 1057.1,898.6" fill="#dddddd" />
<polygon points="1057.1,898.6 1102.4,909.4 1102.4,915 1057.1,904.2" fill="#e9e9e9" />
<polygon points="1057.1,898.6 1057.1,904.2 1017.2,909.7 1017.2,909.7" fill="#c9c9c9" />
<polygon points="1057.1,898.6 1057.1,904.2 1025.2,913 1017.2,909.7" fill="#cbcbcb" />
<polygon points="1043.4,915.8 1058.3,919.5 1070.6,916 1055.7,912.4" fill="#060606" />
<polygon points="1066.8,921.9 1112.7,933.3 1153,921.5 1106.9,910.5" fill="#d7d7d7" />
<polygon points="1106.9,910.5 1153,921.5 1153,927.2 1106.9,916.2" fill="#e9e9e9" />
<polygon points="1106.9,910.5 1106.9,916.2 1066.8,921.9 1066.8,921.9" fill="#c9c9c9" />
<polygon points="1106.9,910.5 1106.9,916.2 1074.8,925.3 1066.8,921.9" fill="#cbcbcb" />
<polygon points="1093.3,928.2 1108.5,931.9 1120.9,928.3 1105.7,924.6" fill="#060606" />
<polygon points="1117.3,934.5 1164.1,946.1 1204.6,933.9 1157.6,922.6" fill="#dddddd" />
<polygon points="1157.6,922.6 1204.6,933.9 1204.6,939.7 1157.6,928.4" fill="#e9e9e9" />
<polygon points="1157.6,922.6 1157.6,928.4 1117.3,934.5 1117.3,934.5" fill="#c9c9c9" />
<polygon points="1157.6,922.6 1157.6,928.4 1125.4,937.9 1117.3,934.5" fill="#cbcbcb" />
<polygon points="1144.2,940.8 1159.7,944.6 1172.1,940.8 1156.6,937.1" fill="#060606" />
<polygon points="1168.8,947.2 1216.5,959.1 1257.2,946.5 1209.3,935" fill="#dddddd" />
<polygon points="1209.3,935 1257.2,946.5 1257.2,952.3 1209.3,940.9" fill="#e9e9e9" />
<polygon points="1209.3,935 1209.3,940.9 1168.8,947.2 1168.8,947.2" fill="#c9c9c9" />
<polygon points="1209.3,935 1209.3,940.9 1176.9,950.7 1168.8,947.2" fill="#cbcbcb" />
<polygon points="1196.1,953.6 1211.8,957.5 1224.3,953.6 1208.6,949.8" fill="#060606" />
<polygon points="1221.2,960.3 1269.9,972.3 1310.9,959.3 1262,947.6" fill="#d7d7d7" />
<polygon points="1262,947.6 1310.9,959.3 1310.9,965.3 1262,953.6" fill="#e9e9e9" />
<polygon points="1262,947.6 1262,953.6 1221.2,960.3 1221.2,960.3" fill="#c9c9c9" />
<polygon points="1262,947.6 1262,953.6 1229.4,963.7 1221.2,960.3" fill="#cbcbcb" />
<polygon points="1248.9,966.7 1264.9,970.6 1277.5,966.6 1261.5,962.7" fill="#060606" />
<polygon points="1274.7,973.5 1324.3,985.8 1365.5,972.4 1315.7,960.5" fill="#dddddd" />
<polygon points="1315.7,960.5 1365.5,972.4 1365.5,978.5 1315.7,966.5" fill="#e9e9e9" />
<polygon points="1315.7,960.5 1315.7,966.5 1274.7,973.5 1274.7,973.5" fill="#c9c9c9" />
<polygon points="1315.7,960.5 1315.7,966.5 1282.9,977 1274.7,973.5" fill="#cbcbcb" />
<polygon points="1302.8,980 1319.1,984 1331.8,979.9 1315.4,975.9" fill="#060606" />
<polygon points="1329.2,987 1436.3,1013.6 1477.9,999.3 1370.5,973.6" fill="#dddddd" />
<polygon points="1370.5,973.6 1477.9,999.3 1477.9,1005.5 1370.5,979.8" fill="#e9e9e9" />
<polygon points="1370.5,973.6 1370.5,979.8 1329.2,987 1329.2,987" fill="#c9c9c9" />
<polygon points="1370.5,973.6 1370.5,979.8 1337.5,990.5 1329.2,987" fill="#cbcbcb" />
<polygon points="1385.5,1000.4 1402.3,1004.5 1415.1,1000.3 1398.2,996.2" fill="#060606" />
<polygon points="633.2,863.8 679.3,876.3 716.6,867.3 670.3,855.2" fill="#050505" />
<polygon points="1322.8,1009.9 1384.6,1025.8 1405.7,1018.6 1382.5,1012.8 1396.5,1008 1357.7,998.4" fill="#050505" />
<!-- p_port -->
<polygon points="702.5,806.5 940.7,867.5 948.7,862.5 712.5,802.5" fill="#e4dcd9" />
<polygon points="760,815 900,851 905,846 765,810" fill="#d4ccc9" />
<path d="M707.5,807.7 L935.7,866.3 Q940.7,867.5 939.9,872.5 L929.8,932 Q929,937 924,935.8 L696,871.2 Q691,870 691.8,865 L701.7,811.5 Q702.5,806.5 707.5,807.7 Z" fill="url(#portF)" />
<polyline points="694.4,866.2 721.6,873.8" fill="none" stroke="#dad2cf" stroke-width="1" />
<polyline points="882.6,918.8 926.7,931.1" fill="none" stroke="#dad2cf" stroke-width="1" />
<polyline points="695.3,861.6 722.4,869.2" fill="none" stroke="#dad2cf" stroke-width="1" />
<polyline points="883.4,913.9 927.6,926.2" fill="none" stroke="#dad2cf" stroke-width="1" />
<polyline points="696.1,857.1 723.3,864.6" fill="none" stroke="#dad2cf" stroke-width="1" />
<polyline points="884.3,909 928.4,921.2" fill="none" stroke="#dad2cf" stroke-width="1" />
<polyline points="696.9,852.5 724.1,860" fill="none" stroke="#dad2cf" stroke-width="1" />
<polyline points="885.1,904.1 929.2,916.2" fill="none" stroke="#dad2cf" stroke-width="1" />
<polyline points="697.7,848 724.9,855.4" fill="none" stroke="#dad2cf" stroke-width="1" />
<polyline points="885.9,899.3 930.1,911.3" fill="none" stroke="#dad2cf" stroke-width="1" />
<polyline points="698.6,843.4 725.7,850.8" fill="none" stroke="#dad2cf" stroke-width="1" />
<polyline points="886.8,894.4 930.9,906.3" fill="none" stroke="#dad2cf" stroke-width="1" />
<polyline points="699.4,838.9 726.6,846.2" fill="none" stroke="#dad2cf" stroke-width="1" />
<polyline points="887.6,889.5 931.7,901.4" fill="none" stroke="#dad2cf" stroke-width="1" />
<polyline points="700.2,834.4 727.4,841.6" fill="none" stroke="#dad2cf" stroke-width="1" />
<polyline points="888.4,884.6 932.6,896.4" fill="none" stroke="#dad2cf" stroke-width="1" />
<polyline points="701,829.8 728.2,837" fill="none" stroke="#dad2cf" stroke-width="1" />
<polyline points="889.3,879.7 933.4,891.4" fill="none" stroke="#dad2cf" stroke-width="1" />
<polyline points="701.8,825.3 729,832.4" fill="none" stroke="#dad2cf" stroke-width="1" />
<polyline points="890.1,874.9 934.3,886.5" fill="none" stroke="#dad2cf" stroke-width="1" />
<polyline points="702.7,820.8 729.9,827.9" fill="none" stroke="#dad2cf" stroke-width="1" />
<polyline points="890.9,870 935.1,881.5" fill="none" stroke="#dad2cf" stroke-width="1" />
<polyline points="703.5,816.2 730.7,823.3" fill="none" stroke="#dad2cf" stroke-width="1" />
<polyline points="891.8,865.1 935.9,876.6" fill="none" stroke="#dad2cf" stroke-width="1" />
<polyline points="704.3,811.7 731.5,818.7" fill="none" stroke="#dad2cf" stroke-width="1" />
<polyline points="892.6,860.3 936.8,871.6" fill="none" stroke="#dad2cf" stroke-width="1" />
<polygon points="720.4,874.2 883.7,919.9 894,859.8 730.5,817.7" fill="#e6dedb" />
<polygon points="722.6,872.1 882.2,916.6 891.5,862 731.8,820.7" fill="#f7f2ef" />
<ellipse cx="714.6" cy="835" rx="3.2" ry="4.2" fill="#d9d1ce"/>
<ellipse cx="911.8" cy="903.2" rx="3.2" ry="4.2" fill="#d9d1ce"/>
<polygon points="751,854.2 770.7,859.3 773,843.7 753.3,838.7" fill="#d8d0cd" />
<path d="M752.5,853.2 L769.7,857.8 L772,844.7 L754.8,840.2 Z" fill="url(#sw25)" stroke="#e85a20" stroke-width="1.5" stroke-linejoin="round"/>
<polygon points="840.4,893 863.7,899.2 866.2,882.5 842.8,876.4" fill="#d8d0cd" />
<path d="M841.9,892 L862.7,897.7 L865.2,883.5 L844.3,877.9 Z" fill="url(#sw64)" stroke="#e85a20" stroke-width="1.5" stroke-linejoin="round"/>
<path d="M797.9,870.9 L814.5,875.4 L816.6,863.4 L800,859 Z" fill="#bdb6b4" stroke="#d9d2cf" stroke-width="3" stroke-linejoin="round"/>
<!-- p_topcover -->
<polygon points="480,612 738,575 1530,713 1536,717 1280,772 666,650" fill="url(#tcBack)" />
<polygon points="482,612 738,575 740,626 666,647 520,620" fill="url(#tcLeft)" />
<polyline points="486,611.5 737,576.5 1528,714" fill="none" stroke="#e9e2df" stroke-width="2.2" stroke-linejoin="round"/>
<polygon points="742,604 1440,731 1373,743 742,626" fill="#aea6a3" opacity="0.55"/>
<polygon points="773.7,613 791.9,616.3 794,600 774.5,596.6" fill="#a39b98" />
<polygon points="798.7,632.3 819,636 822.7,621.9 801.1,618" fill="#d5cdca" />
<polygon points="869.7,630.4 888.8,633.9 897.6,618.4 877.2,614.8" fill="#a39b98" />
<polygon points="893.1,649.7 917.3,654.1 930.2,637.3 903.9,632.5" fill="#d5cdca" />
<polygon points="993.2,652.8 1013.3,656.4 1028.7,644 1007.3,640.2" fill="#a8a09d" />
<polygon points="1023,673.6 1048.6,678.4 1069.7,665.1 1042.1,660.1" fill="#d8d0cd" />
<polygon points="1130.5,677.7 1151.8,681.5 1176.4,670.3 1153.7,666.3" fill="#aaa29f" />
<polygon points="1147,696.5 1170.6,700.9 1201.4,688.9 1175.9,684.3" fill="#d8d0cd" />
<polygon points="1258.9,702 1281.2,706.1 1317.3,695.4 1293.3,691.1" fill="#aaa29f" />
<polygon points="1270.6,719.3 1295.3,723.9 1336.6,713.4 1309.7,708.5" fill="#dcd4d1" />
<polygon points="1365.9,724.1 1387.5,728.1 1439.3,717.1 1415.8,712.9" fill="#aaa29f" />
<polygon points="545.8,622 554.7,622.1 533.5,615.1 525.3,615.6" fill="#aaa29f" />
<polygon points="584.8,623 611.7,623.3 591,613.6 563.8,614.9" fill="#c9c1be" />
<polygon points="642.3,614.2 668.2,613.4 647.6,593 617.8,596.9" fill="#a8a09d" />
<polygon points="666,647 742,626 1373,743 1278,770.5" fill="#000" />
<path d="M1270,774 L1528,714 Q1539,712 1541.5,724 L1546,772 Q1546.5,779 1540,782 L1290,892 Q1268,901 1262,896 Z" fill="url(#tcRight)" />
<path d="M473,622 Q475,614 484,615 L1262,768 Q1274,771 1274,782 L1270,886 Q1269,899 1256,895 L461,702 Q453,700 455,692 Z" fill="url(#tcFront)" />
<polygon points="1240,764 1300,766 1296,888 1236,890" fill="url(#tcCorner)" />
<polygon points="484,612 1268,766 1278,770 1274,776 484,620" fill="#fdf8f6" />
<polygon points="1268,768 1520,709.5 1532,713 1280,775" fill="#fbf5f3" />
<polyline points="500,616.5 1272,769.5 1524,711.5" fill="none" stroke="#e8dfdc" stroke-width="1" stroke-linejoin="round" opacity="0.8"/>
<polyline points="462,701 1256,894" fill="none" stroke="#e3d9d6" stroke-width="2" />
<polygon points="697,676 936,726 925,797 687,744" fill="#f3e9e7" />
<polyline points="697,676 936,726 925,797 687,744 697,676" fill="none" stroke="#e6dbd9" stroke-width="1.4" stroke-linejoin="round"/>
<polygon points="701,681 930,729 921,790 692,740" fill="#fbf2f0" />
<path d="M716,686 L727,688 L729,727 Q722,741 712,728 Z" fill="#efe5e3" />
<circle cx="722" cy="721" r="2.6" fill="#cfc5c2"/>
<path d="M905,727 L917,729 L916,770 Q909,781 901,768 Z" fill="#efe5e3" />
<circle cx="910" cy="761" r="2.6" fill="#cfc5c2"/>
<path d="M739.7,703.7 L824,720 L824,728.5 L836.5,731 L836.5,712 L846.5,713.5 L846.5,731 L874.5,738 L874.5,733 L893,737 L887.5,785 L732,748 Z" fill="#000" />
<!-- p_switches -->
<polygon points="759.6,464.3 772.6,460.6 776.3,479.1 775.3,500.4 757.8,508.2 764.7,482.8" fill="#9c9c9c" />
<polygon points="710.6,482.8 764.7,482.8 758.7,509.1 713.4,507.3" fill="#cbcbcb" />
<polygon points="720.8,465.2 759.6,464.3 764.7,482.8 712.5,482.8" fill="#a6a6a6" />
<polygon points="720.8,465.2 745.7,465.9 740.2,482.8 712.5,482.8" fill="#e6e6e6" />
<polygon points="727.2,452.3 756.8,450.4 757.8,465.7 728.2,466.6" fill="#d34e1d" />
<polygon points="727.2,452.3 756.8,450.4 759.6,448.1 730.9,449.5" fill="#e6652f" />
<polygon points="756.8,450.4 759.6,448.1 760.5,462.9 757.8,465.7" fill="#b23c11" />
<polygon points="733.7,452.7 737.4,452.5 737.9,465.7 734.2,465.9" fill="#b23c11" />
<polygon points="798.5,469.4 811.7,465.6 815.4,484.4 814.5,506 796.6,514 803.7,488.2" fill="#9c9c9c" />
<polygon points="748.7,488.2 803.7,488.2 797.6,515 751.5,513.1" fill="#cbcbcb" />
<polygon points="759,470.3 798.5,469.4 803.7,488.2 750.5,488.2" fill="#a6a6a6" />
<polygon points="759,470.3 784.4,471 778.8,488.2 750.5,488.2" fill="#e6e6e6" />
<polygon points="765.6,457.1 795.7,455.2 796.6,470.8 766.5,471.7" fill="#d34e1d" />
<polygon points="765.6,457.1 795.7,455.2 798.5,452.9 769.3,454.3" fill="#e6652f" />
<polygon points="795.7,455.2 798.5,452.9 799.5,467.9 796.6,470.8" fill="#b23c11" />
<polygon points="772.2,457.6 775.9,457.4 776.4,470.8 772.6,471" fill="#b23c11" />
<polygon points="838.7,474.6 852.1,470.8 856,489.9 855,511.9 836.8,520 844,493.7" fill="#9c9c9c" />
<polygon points="788,493.7 844,493.7 837.8,521 790.9,519.1" fill="#cbcbcb" />
<polygon points="798.6,475.5 838.7,474.6 844,493.7 789.9,493.7" fill="#a6a6a6" />
<polygon points="798.6,475.5 824.4,476.3 818.7,493.7 789.9,493.7" fill="#e6e6e6" />
<polygon points="805.3,462.1 835.9,460.2 836.8,476 806.2,477" fill="#d34e1d" />
<polygon points="805.3,462.1 835.9,460.2 838.7,457.8 809.1,459.3" fill="#e6652f" />
<polygon points="835.9,460.2 838.7,457.8 839.7,473.2 836.8,476" fill="#b23c11" />
<polygon points="812,462.6 815.8,462.4 816.3,476 812.4,476.3" fill="#b23c11" />
<polygon points="880.4,480 894,476.1 897.9,495.6 896.9,517.9 878.4,526.2 885.7,499.4" fill="#9c9c9c" />
<polygon points="828.8,499.4 885.7,499.4 879.4,527.2 831.7,525.2" fill="#cbcbcb" />
<polygon points="839.5,481 880.4,480 885.7,499.4 830.7,499.4" fill="#a6a6a6" />
<polygon points="839.5,481 865.8,481.7 859.9,499.4 830.7,499.4" fill="#e6e6e6" />
<polygon points="846.3,467.3 877.4,465.4 878.4,481.5 847.3,482.4" fill="#d34e1d" />
<polygon points="846.3,467.3 877.4,465.4 880.4,463 850.2,464.4" fill="#e6652f" />
<polygon points="877.4,465.4 880.4,463 881.3,478.5 878.4,481.5" fill="#b23c11" />
<polygon points="853.1,467.8 857,467.6 857.5,481.5 853.6,481.7" fill="#b23c11" />
<polygon points="923.4,485.6 937.2,481.6 941.2,501.4 940.2,524.1 921.4,532.5 928.8,505.4" fill="#9c9c9c" />
<polygon points="871,505.4 928.8,505.4 922.4,533.5 874,531.6" fill="#cbcbcb" />
<polygon points="881.9,486.6 923.4,485.6 928.8,505.4 873,505.4" fill="#a6a6a6" />
<polygon points="881.9,486.6 908.6,487.3 902.6,505.4 873,505.4" fill="#e6e6e6" />
<polygon points="888.8,472.7 920.4,470.7 921.4,487.1 889.8,488" fill="#d34e1d" />
<polygon points="888.8,472.7 920.4,470.7 923.4,468.3 892.7,469.8" fill="#e6652f" />
<polygon points="920.4,470.7 923.4,468.3 924.4,484.1 921.4,487.1" fill="#b23c11" />
<polygon points="895.7,473.2 899.7,473 900.2,487.1 896.2,487.3" fill="#b23c11" />
<polygon points="967.9,491.3 982,487.3 986,507.4 985,530.5 965.9,539.1 973.4,511.4" fill="#9c9c9c" />
<polygon points="914.7,511.4 973.4,511.4 966.9,540.1 917.7,538.1" fill="#cbcbcb" />
<polygon points="925.7,492.4 967.9,491.3 973.4,511.4 916.7,511.4" fill="#a6a6a6" />
<polygon points="925.7,492.4 952.8,493.1 946.8,511.4 916.7,511.4" fill="#e6e6e6" />
<polygon points="932.7,478.3 964.9,476.3 965.9,492.9 933.7,493.9" fill="#d34e1d" />
<polygon points="932.7,478.3 964.9,476.3 967.9,473.8 936.8,475.3" fill="#e6652f" />
<polygon points="964.9,476.3 967.9,473.8 968.9,489.8 965.9,492.9" fill="#b23c11" />
<polygon points="939.8,478.8 943.8,478.5 944.3,492.9 940.3,493.1" fill="#b23c11" />
<polygon points="1014,497.3 1028.2,493.2 1032.3,513.6 1031.3,537.1 1011.9,545.8 1019.6,517.7" fill="#9c9c9c" />
<polygon points="959.8,517.7 1019.6,517.7 1012.9,546.8 962.9,544.8" fill="#cbcbcb" />
<polygon points="971.1,498.3 1014,497.3 1019.6,517.7 961.9,517.7" fill="#a6a6a6" />
<polygon points="971.1,498.3 998.6,499.1 992.5,517.7 961.9,517.7" fill="#e6e6e6" />
<polygon points="978.2,484 1010.9,482 1011.9,498.8 979.2,499.9" fill="#d34e1d" />
<polygon points="978.2,484 1010.9,482 1014,479.4 982.3,481" fill="#e6652f" />
<polygon points="1010.9,482 1014,479.4 1015,495.8 1011.9,498.8" fill="#b23c11" />
<polygon points="985.4,484.6 989.5,484.3 990,498.8 985.9,499.1" fill="#b23c11" />
<polygon points="1061.6,503.5 1076.1,499.3 1080.2,520.1 1079.2,543.9 1059.5,552.7 1067.3,524.2" fill="#9c9c9c" />
<polygon points="1006.6,524.2 1067.3,524.2 1060.5,553.8 1009.7,551.7" fill="#cbcbcb" />
<polygon points="1018,504.5 1061.6,503.5 1067.3,524.2 1008.7,524.2" fill="#a6a6a6" />
<polygon points="1018,504.5 1046,505.3 1039.8,524.2 1008.7,524.2" fill="#e6e6e6" />
<polygon points="1025.3,490 1058.5,487.9 1059.5,505 1026.3,506.1" fill="#d34e1d" />
<polygon points="1025.3,490 1058.5,487.9 1061.6,485.3 1029.4,486.9" fill="#e6652f" />
<polygon points="1058.5,487.9 1061.6,485.3 1062.6,501.9 1059.5,505" fill="#b23c11" />
<polygon points="1032.5,490.5 1036.7,490.3 1037.2,505 1033.1,505.3" fill="#b23c11" />
<polygon points="1110.8,509.8 1125.6,505.6 1129.8,526.7 1128.7,550.9 1108.7,559.9 1116.6,530.9" fill="#9c9c9c" />
<polygon points="1055,530.9 1116.6,530.9 1109.8,560.9 1058.2,558.8" fill="#cbcbcb" />
<polygon points="1066.6,510.9 1110.8,509.8 1116.6,530.9 1057.1,530.9" fill="#a6a6a6" />
<polygon points="1066.6,510.9 1095,511.7 1088.7,530.9 1057.1,530.9" fill="#e6e6e6" />
<polygon points="1074,496.2 1107.7,494.1 1108.7,511.4 1075,512.5" fill="#d34e1d" />
<polygon points="1074,496.2 1107.7,494.1 1110.8,491.4 1078.2,493" fill="#e6652f" />
<polygon points="1107.7,494.1 1110.8,491.4 1111.9,508.3 1108.7,511.4" fill="#b23c11" />
<polygon points="1081.4,496.7 1085.6,496.4 1086.1,511.4 1081.9,511.7" fill="#b23c11" />
<polygon points="1161.8,516.4 1176.8,512.2 1181,533.5 1180,558.1 1159.7,567.2 1167.7,537.8" fill="#9c9c9c" />
<polygon points="1105.1,537.8 1167.7,537.8 1160.7,568.3 1108.4,566.1" fill="#cbcbcb" />
<polygon points="1116.9,517.5 1161.8,516.4 1167.7,537.8 1107.3,537.8" fill="#a6a6a6" />
<polygon points="1116.9,517.5 1145.8,518.3 1139.4,537.8 1107.3,537.8" fill="#e6e6e6" />
<polygon points="1124.4,502.5 1158.6,500.4 1159.7,518 1125.5,519.1" fill="#d34e1d" />
<polygon points="1124.4,502.5 1158.6,500.4 1161.8,497.7 1128.7,499.3" fill="#e6652f" />
<polygon points="1158.6,500.4 1161.8,497.7 1162.9,514.8 1159.7,518" fill="#b23c11" />
<polygon points="1131.9,503.1 1136.1,502.8 1136.7,518 1132.4,518.3" fill="#b23c11" />
<polygon points="1214.5,523.2 1229.7,518.9 1234,540.6 1232.9,565.5 1212.3,574.8 1220.5,544.9" fill="#9c9c9c" />
<polygon points="1157,544.9 1220.5,544.9 1213.4,575.8 1160.3,573.7" fill="#cbcbcb" />
<polygon points="1168.9,524.3 1214.5,523.2 1220.5,544.9 1159.2,544.9" fill="#a6a6a6" />
<polygon points="1168.9,524.3 1198.2,525.1 1191.7,544.9 1159.2,544.9" fill="#e6e6e6" />
<polygon points="1176.5,509.1 1211.3,507 1212.3,524.9 1177.6,525.9" fill="#d34e1d" />
<polygon points="1176.5,509.1 1211.3,507 1214.5,504.2 1180.9,505.9" fill="#e6652f" />
<polygon points="1211.3,507 1214.5,504.2 1215.6,521.6 1212.3,524.9" fill="#b23c11" />
<polygon points="1184.1,509.7 1188.5,509.4 1189,524.9 1184.7,525.1" fill="#b23c11" />
<polygon points="1269,530.3 1284.4,525.9 1288.8,547.9 1287.7,573.2 1266.8,582.6 1275.1,552.3" fill="#9c9c9c" />
<polygon points="1210.7,552.3 1275.1,552.3 1267.9,583.7 1214,581.5" fill="#cbcbcb" />
<polygon points="1222.8,531.4 1269,530.3 1275.1,552.3 1212.9,552.3" fill="#a6a6a6" />
<polygon points="1222.8,531.4 1252.5,532.2 1245.9,552.3 1212.9,552.3" fill="#e6e6e6" />
<polygon points="1230.5,516 1265.7,513.8 1266.8,531.9 1231.6,533" fill="#d34e1d" />
<polygon points="1230.5,516 1265.7,513.8 1269,511 1234.9,512.7" fill="#e6652f" />
<polygon points="1265.7,513.8 1269,511 1270.1,528.6 1266.8,531.9" fill="#b23c11" />
<polygon points="1238.2,516.5 1242.6,516.2 1243.2,531.9 1238.8,532.2" fill="#b23c11" />
<polygon points="1325.4,537.5 1341.1,533.1 1345.5,555.4 1344.4,581.1 1323.2,590.6 1331.6,559.9" fill="#9c9c9c" />
<polygon points="1266.2,559.9 1331.6,559.9 1324.3,591.7 1269.6,589.5" fill="#cbcbcb" />
<polygon points="1278.5,538.6 1325.4,537.5 1331.6,559.9 1268.5,559.9" fill="#a6a6a6" />
<polygon points="1278.5,538.6 1308.7,539.5 1302,559.9 1268.5,559.9" fill="#e6e6e6" />
<polygon points="1286.3,523 1322.1,520.8 1323.2,539.2 1287.5,540.3" fill="#d34e1d" />
<polygon points="1286.3,523 1322.1,520.8 1325.4,518 1290.8,519.7" fill="#e6652f" />
<polygon points="1322.1,520.8 1325.4,518 1326.5,535.9 1323.2,539.2" fill="#b23c11" />
<polygon points="1294.2,523.6 1298.6,523.3 1299.2,539.2 1294.7,539.5" fill="#b23c11" />
<polygon points="1383.8,545 1399.6,540.5 1404.2,563.2 1403,589.2 1381.5,598.9 1390,567.7" fill="#9c9c9c" />
<polygon points="1323.7,567.7 1390,567.7 1382.6,600 1327.1,597.7" fill="#cbcbcb" />
<polygon points="1336.2,546.2 1383.8,545 1390,567.7 1326,567.7" fill="#a6a6a6" />
<polygon points="1336.2,546.2 1366.8,547 1360,567.7 1326,567.7" fill="#e6e6e6" />
<polygon points="1344.1,530.3 1380.4,528.1 1381.5,546.7 1345.3,547.9" fill="#d34e1d" />
<polygon points="1344.1,530.3 1380.4,528.1 1383.8,525.2 1348.7,526.9" fill="#e6652f" />
<polygon points="1380.4,528.1 1383.8,525.2 1384.9,543.3 1381.5,546.7" fill="#b23c11" />
<polygon points="1352.1,530.9 1356.6,530.6 1357.1,546.7 1352.6,547" fill="#b23c11" />
<polygon points="1444.1,552.8 1460.2,548.2 1464.8,571.2 1463.7,597.6 1441.8,607.4 1450.4,575.8" fill="#9c9c9c" />
<polygon points="1383.2,575.8 1450.4,575.8 1443,608.5 1386.7,606.2" fill="#cbcbcb" />
<polygon points="1395.9,554 1444.1,552.8 1450.4,575.8 1385.5,575.8" fill="#a6a6a6" />
<polygon points="1395.9,554 1426.9,554.8 1420,575.8 1385.5,575.8" fill="#e6e6e6" />
<polygon points="1403.9,537.9 1440.7,535.6 1441.8,554.5 1405.1,555.7" fill="#d34e1d" />
<polygon points="1403.9,537.9 1440.7,535.6 1444.1,532.7 1408.5,534.4" fill="#e6652f" />
<polygon points="1440.7,535.6 1444.1,532.7 1445.3,551.1 1441.8,554.5" fill="#b23c11" />
<polygon points="1412,538.4 1416.5,538.2 1417.1,554.5 1412.5,554.8" fill="#b23c11" />
<polygon points="1487.6,558.4 1503.8,553.8 1508.5,577 1507.3,603.6 1485.3,613.5 1494,581.6" fill="#9c9c9c" />
<polygon points="1426.1,581.6 1494,581.6 1486.4,614.7 1429.6,612.3" fill="#cbcbcb" />
<polygon points="1438.9,559.6 1487.6,558.4 1494,581.6 1428.4,581.6" fill="#a6a6a6" />
<polygon points="1438.9,559.6 1470.2,560.4 1463.2,581.6 1428.4,581.6" fill="#e6e6e6" />
<polygon points="1447,543.3 1484.1,541 1485.3,560.1 1448.2,561.3" fill="#d34e1d" />
<polygon points="1447,543.3 1484.1,541 1487.6,538.1 1451.6,539.8" fill="#e6652f" />
<polygon points="1484.1,541 1487.6,538.1 1488.8,556.7 1485.3,560.1" fill="#b23c11" />
<polygon points="1455.1,543.9 1459.8,543.6 1460.3,560.1 1455.7,560.4" fill="#b23c11" />
<polygon points="698.7,467.6 711.6,463.9 715.3,482.3 714.3,503.4 696.9,511.2 703.8,485.9" fill="#9c9c9c" />
<polygon points="649.9,485.9 703.8,485.9 697.8,512.2 652.7,510.3" fill="#cbcbcb" />
<polygon points="660.1,468.5 698.7,467.6 703.8,485.9 651.8,485.9" fill="#a6a6a6" />
<polygon points="660.1,468.5 684.9,469.2 679.4,485.9 651.8,485.9" fill="#e6e6e6" />
<polygon points="666.5,455.6 695.9,453.8 696.9,468.9 667.4,469.9" fill="#d34e1d" />
<polygon points="666.5,455.6 695.9,453.8 698.7,451.4 670.2,452.8" fill="#e6652f" />
<polygon points="695.9,453.8 698.7,451.4 699.6,466.2 696.9,468.9" fill="#b23c11" />
<polygon points="672.9,456.1 676.6,455.8 677.1,468.9 673.4,469.2" fill="#b23c11" />
<polygon points="737.2,472.8 750.3,469.1 754.1,487.8 753.2,509.3 735.4,517.3 742.4,491.5" fill="#9c9c9c" />
<polygon points="687.6,491.5 742.4,491.5 736.3,518.2 690.4,516.3" fill="#cbcbcb" />
<polygon points="697.9,473.7 737.2,472.8 742.4,491.5 689.5,491.5" fill="#a6a6a6" />
<polygon points="697.9,473.7 723.2,474.4 717.6,491.5 689.5,491.5" fill="#e6e6e6" />
<polygon points="704.5,460.6 734.4,458.8 735.4,474.2 705.4,475.1" fill="#d34e1d" />
<polygon points="704.5,460.6 734.4,458.8 737.2,456.4 708.2,457.8" fill="#e6652f" />
<polygon points="734.4,458.8 737.2,456.4 738.2,471.4 735.4,474.2" fill="#b23c11" />
<polygon points="711,461.1 714.8,460.9 715.2,474.2 711.5,474.4" fill="#b23c11" />
<polygon points="777.1,478.2 790.4,474.4 794.2,493.5 793.3,515.4 775.2,523.4 782.3,497.3" fill="#9c9c9c" />
<polygon points="726.7,497.3 782.3,497.3 776.2,524.4 729.5,522.5" fill="#cbcbcb" />
<polygon points="737.1,479.2 777.1,478.2 782.3,497.3 728.6,497.3" fill="#a6a6a6" />
<polygon points="737.1,479.2 762.8,479.9 757.1,497.3 728.6,497.3" fill="#e6e6e6" />
<polygon points="743.8,465.8 774.3,463.9 775.2,479.7 744.7,480.6" fill="#d34e1d" />
<polygon points="743.8,465.8 774.3,463.9 777.1,461.6 747.6,463" fill="#e6652f" />
<polygon points="774.3,463.9 777.1,461.6 778.1,476.8 775.2,479.7" fill="#b23c11" />
<polygon points="750.5,466.3 754.3,466.1 754.7,479.7 750.9,479.9" fill="#b23c11" />
<polygon points="818.3,483.8 831.9,480 835.8,499.3 834.8,521.6 816.4,529.8 823.7,503.2" fill="#9c9c9c" />
<polygon points="767,503.2 823.7,503.2 817.4,530.8 769.9,528.8" fill="#cbcbcb" />
<polygon points="777.7,484.8 818.3,483.8 823.7,503.2 769,503.2" fill="#a6a6a6" />
<polygon points="777.7,484.8 803.8,485.5 798,503.2 769,503.2" fill="#e6e6e6" />
<polygon points="784.5,471.2 815.4,469.3 816.4,485.3 785.4,486.2" fill="#d34e1d" />
<polygon points="784.5,471.2 815.4,469.3 818.3,466.9 788.3,468.3" fill="#e6652f" />
<polygon points="815.4,469.3 818.3,466.9 819.3,482.4 816.4,485.3" fill="#b23c11" />
<polygon points="791.2,471.7 795.1,471.5 795.6,485.3 791.7,485.5" fill="#b23c11" />
<polygon points="861,489.6 874.8,485.7 878.7,505.4 877.7,528 859,536.4 866.4,509.3" fill="#9c9c9c" />
<polygon points="808.8,509.3 866.4,509.3 860,537.3 811.8,535.4" fill="#cbcbcb" />
<polygon points="819.7,490.6 861,489.6 866.4,509.3 810.8,509.3" fill="#a6a6a6" />
<polygon points="819.7,490.6 846.2,491.3 840.3,509.3 810.8,509.3" fill="#e6e6e6" />
<polygon points="826.6,476.8 858,474.9 859,491.1 827.5,492.1" fill="#d34e1d" />
<polygon points="826.6,476.8 858,474.9 861,472.4 830.5,473.9" fill="#e6652f" />
<polygon points="858,474.9 861,472.4 862,488.1 859,491.1" fill="#b23c11" />
<polygon points="833.4,477.3 837.4,477.1 837.9,491.1 833.9,491.3" fill="#b23c11" />
<polygon points="905.1,495.6 919.1,491.6 923.1,511.6 922.1,534.6 903.1,543.1 910.6,515.6" fill="#9c9c9c" />
<polygon points="852.1,515.6 910.6,515.6 904.1,544.1 855.1,542.1" fill="#cbcbcb" />
<polygon points="863.1,496.6 905.1,495.6 910.6,515.6 854.1,515.6" fill="#a6a6a6" />
<polygon points="863.1,496.6 890.1,497.4 884.1,515.6 854.1,515.6" fill="#e6e6e6" />
<polygon points="870.1,482.6 902.1,480.6 903.1,497.1 871.1,498.1" fill="#d34e1d" />
<polygon points="870.1,482.6 902.1,480.6 905.1,478.1 874.1,479.6" fill="#e6652f" />
<polygon points="902.1,480.6 905.1,478.1 906.1,494.1 903.1,497.1" fill="#b23c11" />
<polygon points="877.1,483.1 881.1,482.9 881.6,497.1 877.6,497.4" fill="#b23c11" />
<polygon points="950.7,501.8 965,497.7 969,518 968,541.4 948.7,550 956.3,522.1" fill="#9c9c9c" />
<polygon points="896.9,522.1 956.3,522.1 949.7,551.1 899.9,549" fill="#cbcbcb" />
<polygon points="908.1,502.8 950.7,501.8 956.3,522.1 898.9,522.1" fill="#a6a6a6" />
<polygon points="908.1,502.8 935.5,503.6 929.4,522.1 898.9,522.1" fill="#e6e6e6" />
<polygon points="915.2,488.6 947.7,486.5 948.7,503.3 916.2,504.3" fill="#d34e1d" />
<polygon points="915.2,488.6 947.7,486.5 950.7,484 919.2,485.5" fill="#e6652f" />
<polygon points="947.7,486.5 950.7,484 951.7,500.3 948.7,503.3" fill="#b23c11" />
<polygon points="922.3,489.1 926.3,488.8 926.9,503.3 922.8,503.6" fill="#b23c11" />
<polygon points="997.9,508.2 1012.4,504 1016.5,524.7 1015.5,548.4 995.9,557.2 1003.6,528.8" fill="#9c9c9c" />
<polygon points="943.2,528.8 1003.6,528.8 996.9,558.2 946.3,556.2" fill="#cbcbcb" />
<polygon points="954.6,509.2 997.9,508.2 1003.6,528.8 945.3,528.8" fill="#a6a6a6" />
<polygon points="954.6,509.2 982.4,510 976.2,528.8 945.3,528.8" fill="#e6e6e6" />
<polygon points="961.8,494.8 994.8,492.7 995.9,509.7 962.8,510.8" fill="#d34e1d" />
<polygon points="961.8,494.8 994.8,492.7 997.9,490.1 965.9,491.7" fill="#e6652f" />
<polygon points="994.8,492.7 997.9,490.1 999,506.6 995.9,509.7" fill="#b23c11" />
<polygon points="969,495.3 973.2,495 973.7,509.7 969.5,510" fill="#b23c11" />
<polygon points="1046.7,514.8 1061.4,510.6 1065.6,531.5 1064.6,555.6 1044.6,564.6 1052.5,535.7" fill="#9c9c9c" />
<polygon points="991.2,535.7 1052.5,535.7 1045.7,565.6 994.3,563.5" fill="#cbcbcb" />
<polygon points="1002.7,515.8 1046.7,514.8 1052.5,535.7 993.3,535.7" fill="#a6a6a6" />
<polygon points="1002.7,515.8 1031,516.6 1024.7,535.7 993.3,535.7" fill="#e6e6e6" />
<polygon points="1010.1,501.2 1043.6,499.1 1044.6,516.3 1011.1,517.4" fill="#d34e1d" />
<polygon points="1010.1,501.2 1043.6,499.1 1046.7,496.4 1014.2,498" fill="#e6652f" />
<polygon points="1043.6,499.1 1046.7,496.4 1047.8,513.2 1044.6,516.3" fill="#b23c11" />
<polygon points="1017.4,501.7 1021.6,501.4 1022.1,516.3 1017.9,516.6" fill="#b23c11" />
<polygon points="1097.2,521.6 1112.1,517.3 1116.4,538.6 1115.3,563.1 1095.1,572.1 1103.1,542.9" fill="#9c9c9c" />
<polygon points="1040.8,542.9 1103.1,542.9 1096.2,573.2 1044,571.1" fill="#cbcbcb" />
<polygon points="1052.5,522.7 1097.2,521.6 1103.1,542.9 1043,542.9" fill="#a6a6a6" />
<polygon points="1052.5,522.7 1081.3,523.5 1074.9,542.9 1043,542.9" fill="#e6e6e6" />
<polygon points="1060,507.8 1094,505.6 1095.1,523.2 1061.1,524.3" fill="#d34e1d" />
<polygon points="1060,507.8 1094,505.6 1097.2,503 1064.2,504.6" fill="#e6652f" />
<polygon points="1094,505.6 1097.2,503 1098.3,520 1095.1,523.2" fill="#b23c11" />
<polygon points="1067.4,508.3 1071.7,508 1072.2,523.2 1068,523.5" fill="#b23c11" />
<polygon points="1149.5,528.7 1164.6,524.3 1168.9,545.9 1167.8,570.8 1147.3,580 1155.4,550.3" fill="#9c9c9c" />
<polygon points="1092.2,550.3 1155.4,550.3 1148.4,581 1095.5,578.9" fill="#cbcbcb" />
<polygon points="1104.1,529.7 1149.5,528.7 1155.4,550.3 1094.4,550.3" fill="#a6a6a6" />
<polygon points="1104.1,529.7 1133.3,530.5 1126.8,550.3 1094.4,550.3" fill="#e6e6e6" />
<polygon points="1111.7,514.6 1146.2,512.5 1147.3,530.3 1112.7,531.4" fill="#d34e1d" />
<polygon points="1111.7,514.6 1146.2,512.5 1149.5,509.8 1116,511.4" fill="#e6652f" />
<polygon points="1146.2,512.5 1149.5,509.8 1150.5,527 1147.3,530.3" fill="#b23c11" />
<polygon points="1119.2,515.2 1123.5,514.9 1124.1,530.3 1119.8,530.5" fill="#b23c11" />
<polygon points="1203.5,535.9 1218.8,531.6 1223.2,553.5 1222.1,578.7 1201.3,588 1209.5,557.9" fill="#9c9c9c" />
<polygon points="1145.4,557.9 1209.5,557.9 1202.4,589.1 1148.7,586.9" fill="#cbcbcb" />
<polygon points="1157.5,537 1203.5,535.9 1209.5,557.9 1147.6,557.9" fill="#a6a6a6" />
<polygon points="1157.5,537 1187,537.9 1180.5,557.9 1147.6,557.9" fill="#e6e6e6" />
<polygon points="1165.1,521.7 1200.2,519.5 1201.3,537.6 1166.2,538.7" fill="#d34e1d" />
<polygon points="1165.1,521.7 1200.2,519.5 1203.5,516.8 1169.5,518.4" fill="#e6652f" />
<polygon points="1200.2,519.5 1203.5,516.8 1204.6,534.3 1201.3,537.6" fill="#b23c11" />
<polygon points="1172.8,522.2 1177.2,522 1177.7,537.6 1173.3,537.9" fill="#b23c11" />
<polygon points="1259.4,543.5 1274.9,539 1279.4,561.3 1278.3,586.9 1257.2,596.3 1265.5,565.7" fill="#9c9c9c" />
<polygon points="1200.4,565.7 1265.5,565.7 1258.3,597.4 1203.8,595.2" fill="#cbcbcb" />
<polygon points="1212.7,544.6 1259.4,543.5 1265.5,565.7 1202.7,565.7" fill="#a6a6a6" />
<polygon points="1212.7,544.6 1242.7,545.4 1236,565.7 1202.7,565.7" fill="#e6e6e6" />
<polygon points="1220.5,529 1256,526.8 1257.2,545.2 1221.6,546.3" fill="#d34e1d" />
<polygon points="1220.5,529 1256,526.8 1259.4,524 1224.9,525.7" fill="#e6652f" />
<polygon points="1256,526.8 1259.4,524 1260.5,541.8 1257.2,545.2" fill="#b23c11" />
<polygon points="1228.2,529.6 1232.7,529.3 1233.2,545.2 1228.8,545.4" fill="#b23c11" />
<polygon points="1317.2,551.3 1333,546.8 1337.5,569.3 1336.4,595.3 1314.9,604.9 1323.4,573.8" fill="#9c9c9c" />
<polygon points="1257.4,573.8 1323.4,573.8 1316.1,606 1260.8,603.7" fill="#cbcbcb" />
<polygon points="1269.8,552.4 1317.2,551.3 1323.4,573.8 1259.7,573.8" fill="#a6a6a6" />
<polygon points="1269.8,552.4 1300.3,553.2 1293.5,573.8 1259.7,573.8" fill="#e6e6e6" />
<polygon points="1277.7,536.6 1313.8,534.4 1314.9,553 1278.8,554.1" fill="#d34e1d" />
<polygon points="1277.7,536.6 1313.8,534.4 1317.2,531.5 1282.2,533.2" fill="#e6652f" />
<polygon points="1313.8,534.4 1317.2,531.5 1318.3,549.6 1314.9,553" fill="#b23c11" />
<polygon points="1285.6,537.2 1290.1,536.9 1290.7,553 1286.2,553.2" fill="#b23c11" />
<polygon points="1377,559.3 1393,554.7 1397.6,577.6 1396.4,603.9 1374.7,613.7 1383.3,582.2" fill="#9c9c9c" />
<polygon points="1316.4,582.2 1383.3,582.2 1375.8,614.8 1319.8,612.5" fill="#cbcbcb" />
<polygon points="1328.9,560.5 1377,559.3 1383.3,582.2 1318.6,582.2" fill="#a6a6a6" />
<polygon points="1328.9,560.5 1359.8,561.3 1353,582.2 1318.6,582.2" fill="#e6e6e6" />
<polygon points="1336.9,544.5 1373.6,542.2 1374.7,561 1338.1,562.2" fill="#d34e1d" />
<polygon points="1336.9,544.5 1373.6,542.2 1377,539.3 1341.5,541" fill="#e6652f" />
<polygon points="1373.6,542.2 1377,539.3 1378.1,557.6 1374.7,561" fill="#b23c11" />
<polygon points="1345,545 1349.5,544.7 1350.1,561 1345.5,561.3" fill="#b23c11" />
<polygon points="1438.8,567.6 1455.1,563 1459.7,586.2 1458.6,612.9 1436.5,622.8 1445.2,590.9" fill="#9c9c9c" />
<polygon points="1377.4,590.9 1445.2,590.9 1437.7,623.9 1380.8,621.6" fill="#cbcbcb" />
<polygon points="1390.1,568.8 1438.8,567.6 1445.2,590.9 1379.7,590.9" fill="#a6a6a6" />
<polygon points="1390.1,568.8 1421.5,569.7 1414.5,590.9 1379.7,590.9" fill="#e6e6e6" />
<polygon points="1398.2,552.6 1435.4,550.2 1436.5,569.4 1399.4,570.5" fill="#d34e1d" />
<polygon points="1398.2,552.6 1435.4,550.2 1438.8,547.4 1402.9,549.1" fill="#e6652f" />
<polygon points="1435.4,550.2 1438.8,547.4 1440,565.9 1436.5,569.4" fill="#b23c11" />
<polygon points="1406.4,553.1 1411,552.9 1411.6,569.4 1407,569.7" fill="#b23c11" />
<polygon points="656.8,473.4 669.7,469.7 673.4,488.2 672.5,509.4 655,517.2 661.9,491.8" fill="#9c9c9c" />
<polygon points="607.9,491.8 661.9,491.8 655.9,518.2 610.7,516.3" fill="#cbcbcb" />
<polygon points="618,474.3 656.8,473.4 661.9,491.8 609.7,491.8" fill="#a6a6a6" />
<polygon points="618,474.3 643,475 637.4,491.8 609.7,491.8" fill="#e6e6e6" />
<polygon points="624.5,461.4 654,459.5 655,474.8 625.4,475.7" fill="#d34e1d" />
<polygon points="624.5,461.4 654,459.5 656.8,457.2 628.2,458.6" fill="#e6652f" />
<polygon points="654,459.5 656.8,457.2 657.7,472 655,474.8" fill="#b23c11" />
<polygon points="631,461.8 634.7,461.6 635.1,474.8 631.4,475" fill="#b23c11" />
<polygon points="695.7,478.9 708.8,475.1 712.6,493.9 711.6,515.5 693.8,523.5 700.8,497.7" fill="#9c9c9c" />
<polygon points="645.9,497.7 700.8,497.7 694.7,524.5 648.7,522.6" fill="#cbcbcb" />
<polygon points="656.2,479.8 695.7,478.9 700.8,497.7 647.8,497.7" fill="#a6a6a6" />
<polygon points="656.2,479.8 681.6,480.5 675.9,497.7 647.8,497.7" fill="#e6e6e6" />
<polygon points="662.8,466.7 692.8,464.8 693.8,480.3 663.7,481.2" fill="#d34e1d" />
<polygon points="662.8,466.7 692.8,464.8 695.7,462.5 666.5,463.9" fill="#e6652f" />
<polygon points="692.8,464.8 695.7,462.5 696.6,477.5 693.8,480.3" fill="#b23c11" />
<polygon points="669.4,467.2 673.1,466.9 673.6,480.3 669.8,480.5" fill="#b23c11" />
<polygon points="735.8,484.6 749.2,480.8 753,499.9 752.1,521.9 733.9,530 741.1,503.7" fill="#9c9c9c" />
<polygon points="685.2,503.7 741.1,503.7 734.9,530.9 688.1,529" fill="#cbcbcb" />
<polygon points="695.7,485.6 735.8,484.6 741.1,503.7 687.1,503.7" fill="#a6a6a6" />
<polygon points="695.7,485.6 721.5,486.3 715.8,503.7 687.1,503.7" fill="#e6e6e6" />
<polygon points="702.4,472.2 733,470.3 733.9,486 703.4,487" fill="#d34e1d" />
<polygon points="702.4,472.2 733,470.3 735.8,467.9 706.2,469.3" fill="#e6652f" />
<polygon points="733,470.3 735.8,467.9 736.8,483.2 733.9,486" fill="#b23c11" />
<polygon points="709.1,472.7 712.9,472.4 713.4,486 709.6,486.3" fill="#b23c11" />
<polygon points="777.4,490.5 791,486.6 794.9,506 793.9,528.4 775.4,536.6 782.7,509.9" fill="#9c9c9c" />
<polygon points="725.9,509.9 782.7,509.9 776.4,537.6 728.8,535.7" fill="#cbcbcb" />
<polygon points="736.6,491.5 777.4,490.5 782.7,509.9 727.9,509.9" fill="#a6a6a6" />
<polygon points="736.6,491.5 762.8,492.2 757,509.9 727.9,509.9" fill="#e6e6e6" />
<polygon points="743.4,477.9 774.5,475.9 775.4,492 744.4,492.9" fill="#d34e1d" />
<polygon points="743.4,477.9 774.5,475.9 777.4,473.5 747.3,475" fill="#e6652f" />
<polygon points="774.5,475.9 777.4,473.5 778.4,489 775.4,492" fill="#b23c11" />
<polygon points="750.2,478.4 754.1,478.1 754.6,492 750.7,492.2" fill="#b23c11" />
<polygon points="820.4,496.6 834.2,492.6 838.1,512.4 837.1,535.1 818.4,543.5 825.8,516.3" fill="#9c9c9c" />
<polygon points="768,516.3 825.8,516.3 819.4,544.5 771,542.5" fill="#cbcbcb" />
<polygon points="778.9,497.6 820.4,496.6 825.8,516.3 770,516.3" fill="#a6a6a6" />
<polygon points="778.9,497.6 805.6,498.3 799.6,516.3 770,516.3" fill="#e6e6e6" />
<polygon points="785.8,483.8 817.4,481.8 818.4,498.1 786.8,499.1" fill="#d34e1d" />
<polygon points="785.8,483.8 817.4,481.8 820.4,479.3 789.8,480.8" fill="#e6652f" />
<polygon points="817.4,481.8 820.4,479.3 821.4,495.1 818.4,498.1" fill="#b23c11" />
<polygon points="792.7,484.2 796.7,484 797.2,498.1 793.2,498.3" fill="#b23c11" />
<polygon points="864.8,502.9 878.9,498.9 882.9,518.9 881.9,542 862.8,550.5 870.3,522.9" fill="#9c9c9c" />
<polygon points="811.7,522.9 870.3,522.9 863.8,551.5 814.7,549.5" fill="#cbcbcb" />
<polygon points="822.7,503.9 864.8,502.9 870.3,522.9 813.7,522.9" fill="#a6a6a6" />
<polygon points="822.7,503.9 849.8,504.6 843.8,522.9 813.7,522.9" fill="#e6e6e6" />
<polygon points="829.7,489.8 861.8,487.8 862.8,504.4 830.7,505.4" fill="#d34e1d" />
<polygon points="829.7,489.8 861.8,487.8 864.8,485.3 833.7,486.8" fill="#e6652f" />
<polygon points="861.8,487.8 864.8,485.3 865.8,501.4 862.8,504.4" fill="#b23c11" />
<polygon points="836.7,490.3 840.7,490.1 841.2,504.4 837.2,504.6" fill="#b23c11" />
<polygon points="910.8,509.4 925.1,505.3 929.1,525.7 928.1,549.1 908.8,557.8 916.4,529.8" fill="#9c9c9c" />
<polygon points="856.8,529.8 916.4,529.8 909.8,558.8 859.8,556.8" fill="#cbcbcb" />
<polygon points="868,510.4 910.8,509.4 916.4,529.8 858.8,529.8" fill="#a6a6a6" />
<polygon points="868,510.4 895.5,511.2 889.4,529.8 858.8,529.8" fill="#e6e6e6" />
<polygon points="875.1,496.1 907.7,494.1 908.8,510.9 876.2,511.9" fill="#d34e1d" />
<polygon points="875.1,496.1 907.7,494.1 910.8,491.5 879.2,493.1" fill="#e6652f" />
<polygon points="907.7,494.1 910.8,491.5 911.8,507.9 908.8,510.9" fill="#b23c11" />
<polygon points="882.3,496.6 886.3,496.4 886.9,510.9 882.8,511.2" fill="#b23c11" />
<polygon points="958.4,516.1 972.9,512 977,532.7 976,556.5 956.3,565.3 964.1,536.8" fill="#9c9c9c" />
<polygon points="903.5,536.8 964.1,536.8 957.3,566.3 906.6,564.2" fill="#cbcbcb" />
<polygon points="914.9,517.1 958.4,516.1 964.1,536.8 905.6,536.8" fill="#a6a6a6" />
<polygon points="914.9,517.1 942.8,517.9 936.6,536.8 905.6,536.8" fill="#e6e6e6" />
<polygon points="922.1,502.6 955.3,500.6 956.3,517.7 923.2,518.7" fill="#d34e1d" />
<polygon points="922.1,502.6 955.3,500.6 958.4,498 926.3,499.5" fill="#e6652f" />
<polygon points="955.3,500.6 958.4,498 959.4,514.5 956.3,517.7" fill="#b23c11" />
<polygon points="929.4,503.2 933.5,502.9 934,517.7 929.9,517.9" fill="#b23c11" />
<polygon points="1007.6,523 1022.3,518.8 1026.5,539.9 1025.4,564 1005.5,573 1013.3,544.1" fill="#9c9c9c" />
<polygon points="951.8,544.1 1013.3,544.1 1006.5,574 955,571.9" fill="#cbcbcb" />
<polygon points="963.4,524.1 1007.6,523 1013.3,544.1 954,544.1" fill="#a6a6a6" />
<polygon points="963.4,524.1 991.8,524.9 985.5,544.1 954,544.1" fill="#e6e6e6" />
<polygon points="970.8,509.4 1004.4,507.3 1005.5,524.6 971.8,525.7" fill="#d34e1d" />
<polygon points="970.8,509.4 1004.4,507.3 1007.6,504.7 975,506.2" fill="#e6652f" />
<polygon points="1004.4,507.3 1007.6,504.7 1008.6,521.5 1005.5,524.6" fill="#b23c11" />
<polygon points="978.1,509.9 982.3,509.6 982.9,524.6 978.7,524.9" fill="#b23c11" />
<polygon points="1058.4,530.2 1073.4,526 1077.7,547.3 1076.6,571.8 1056.3,580.9 1064.3,551.6" fill="#9c9c9c" />
<polygon points="1001.9,551.6 1064.3,551.6 1057.4,582 1005.1,579.9" fill="#cbcbcb" />
<polygon points="1013.6,531.3 1058.4,530.2 1064.3,551.6 1004,551.6" fill="#a6a6a6" />
<polygon points="1013.6,531.3 1042.4,532.1 1036,551.6 1004,551.6" fill="#e6e6e6" />
<polygon points="1021.1,516.4 1055.2,514.2 1056.3,531.8 1022.2,532.9" fill="#d34e1d" />
<polygon points="1021.1,516.4 1055.2,514.2 1058.4,511.6 1025.4,513.2" fill="#e6652f" />
<polygon points="1055.2,514.2 1058.4,511.6 1059.5,528.6 1056.3,531.8" fill="#b23c11" />
<polygon points="1028.6,516.9 1032.8,516.6 1033.4,531.8 1029.1,532.1" fill="#b23c11" />
<polygon points="1111.1,537.6 1126.3,533.3 1130.6,555 1129.5,579.9 1108.9,589.1 1117,559.3" fill="#9c9c9c" />
<polygon points="1053.7,559.3 1117,559.3 1110,590.2 1056.9,588" fill="#cbcbcb" />
<polygon points="1065.6,538.7 1111.1,537.6 1117,559.3 1055.8,559.3" fill="#a6a6a6" />
<polygon points="1065.6,538.7 1094.8,539.5 1088.3,559.3 1055.8,559.3" fill="#e6e6e6" />
<polygon points="1073.2,523.6 1107.8,521.4 1108.9,539.3 1074.3,540.4" fill="#d34e1d" />
<polygon points="1073.2,523.6 1107.8,521.4 1111.1,518.7 1077.5,520.3" fill="#e6652f" />
<polygon points="1107.8,521.4 1111.1,518.7 1112.2,536 1108.9,539.3" fill="#b23c11" />
<polygon points="1080.8,524.1 1085.1,523.8 1085.6,539.3 1081.3,539.5" fill="#b23c11" />
<polygon points="1165.5,545.3 1180.9,540.9 1185.3,562.9 1184.2,588.2 1163.3,597.5 1171.6,567.3" fill="#9c9c9c" />
<polygon points="1107.3,567.3 1171.6,567.3 1164.4,598.6 1110.6,596.4" fill="#cbcbcb" />
<polygon points="1119.4,546.4 1165.5,545.3 1171.6,567.3 1109.5,567.3" fill="#a6a6a6" />
<polygon points="1119.4,546.4 1149,547.2 1142.5,567.3 1109.5,567.3" fill="#e6e6e6" />
<polygon points="1127.1,531 1162.2,528.8 1163.3,547 1128.2,548.1" fill="#d34e1d" />
<polygon points="1127.1,531 1162.2,528.8 1165.5,526.1 1131.5,527.7" fill="#e6652f" />
<polygon points="1162.2,528.8 1165.5,526.1 1166.6,543.7 1163.3,547" fill="#b23c11" />
<polygon points="1134.8,531.6 1139.2,531.3 1139.7,547 1135.3,547.2" fill="#b23c11" />
<polygon points="1221.9,553.2 1237.5,548.8 1241.9,571.1 1240.8,596.7 1219.6,606.2 1228,575.6" fill="#9c9c9c" />
<polygon points="1162.8,575.6 1228,575.6 1220.7,607.3 1166.1,605.1" fill="#cbcbcb" />
<polygon points="1175,554.4 1221.9,553.2 1228,575.6 1165,575.6" fill="#a6a6a6" />
<polygon points="1175,554.4 1205.1,555.2 1198.4,575.6 1165,575.6" fill="#e6e6e6" />
<polygon points="1182.8,538.7 1218.5,536.5 1219.6,554.9 1183.9,556" fill="#d34e1d" />
<polygon points="1182.8,538.7 1218.5,536.5 1221.9,533.7 1187.3,535.4" fill="#e6652f" />
<polygon points="1218.5,536.5 1221.9,533.7 1223,551.6 1219.6,554.9" fill="#b23c11" />
<polygon points="1190.6,539.3 1195.1,539 1195.7,554.9 1191.2,555.2" fill="#b23c11" />
<polygon points="1280.1,561.4 1296,556.9 1300.5,579.5 1299.4,605.6 1277.9,615.2 1286.3,584.1" fill="#9c9c9c" />
<polygon points="1220.2,584.1 1286.3,584.1 1279,616.3 1223.6,614" fill="#cbcbcb" />
<polygon points="1232.6,562.6 1280.1,561.4 1286.3,584.1 1222.4,584.1" fill="#a6a6a6" />
<polygon points="1232.6,562.6 1263.2,563.4 1256.4,584.1 1222.4,584.1" fill="#e6e6e6" />
<polygon points="1240.5,546.7 1276.7,544.5 1277.9,563.1 1241.7,564.3" fill="#d34e1d" />
<polygon points="1240.5,546.7 1276.7,544.5 1280.1,541.6 1245.1,543.3" fill="#e6652f" />
<polygon points="1276.7,544.5 1280.1,541.6 1281.3,559.7 1277.9,563.1" fill="#b23c11" />
<polygon points="1248.4,547.3 1253,547 1253.5,563.1 1249,563.4" fill="#b23c11" />
<polygon points="1340.4,569.9 1356.5,565.3 1361,588.3 1359.9,614.7 1338.1,624.4 1346.7,592.9" fill="#9c9c9c" />
<polygon points="1279.6,592.9 1346.7,592.9 1339.2,625.6 1283,623.3" fill="#cbcbcb" />
<polygon points="1292.2,571.1 1340.4,569.9 1346.7,592.9 1281.9,592.9" fill="#a6a6a6" />
<polygon points="1292.2,571.1 1323.2,571.9 1316.3,592.9 1281.9,592.9" fill="#e6e6e6" />
<polygon points="1300.2,555 1337,552.7 1338.1,571.6 1301.4,572.8" fill="#d34e1d" />
<polygon points="1300.2,555 1337,552.7 1340.4,549.8 1304.8,551.6" fill="#e6652f" />
<polygon points="1337,552.7 1340.4,549.8 1341.5,568.2 1338.1,571.6" fill="#b23c11" />
<polygon points="1308.3,555.6 1312.9,555.3 1313.4,571.6 1308.8,571.9" fill="#b23c11" />
<polygon points="1390.1,576.9 1406.3,572.3 1411,595.5 1409.8,622.1 1387.8,632 1396.5,600.1" fill="#9c9c9c" />
<polygon points="1328.6,600.1 1396.5,600.1 1388.9,633.2 1332.1,630.8" fill="#cbcbcb" />
<polygon points="1341.4,578.1 1390.1,576.9 1396.5,600.1 1330.9,600.1" fill="#a6a6a6" />
<polygon points="1341.4,578.1 1372.7,578.9 1365.7,600.1 1330.9,600.1" fill="#e6e6e6" />
<polygon points="1349.5,561.8 1386.6,559.5 1387.8,578.6 1350.7,579.8" fill="#d34e1d" />
<polygon points="1349.5,561.8 1386.6,559.5 1390.1,556.6 1354.1,558.3" fill="#e6652f" />
<polygon points="1386.6,559.5 1390.1,556.6 1391.3,575.2 1387.8,578.6" fill="#b23c11" />
<polygon points="1357.6,562.4 1362.3,562.1 1362.8,578.6 1358.2,578.9" fill="#b23c11" />
<polygon points="616.9,479.6 629.9,475.9 633.6,494.4 632.7,515.8 615.1,523.6 622,498.1" fill="#9c9c9c" />
<polygon points="567.8,498.1 622,498.1 616,524.6 570.6,522.7" fill="#cbcbcb" />
<polygon points="578,480.5 616.9,479.6 622,498.1 569.6,498.1" fill="#a6a6a6" />
<polygon points="578,480.5 603,481.2 597.4,498.1 569.6,498.1" fill="#e6e6e6" />
<polygon points="584.5,467.5 614.1,465.7 615.1,481 585.4,481.9" fill="#d34e1d" />
<polygon points="584.5,467.5 614.1,465.7 616.9,463.4 588.2,464.8" fill="#e6652f" />
<polygon points="614.1,465.7 616.9,463.4 617.8,478.2 615.1,481" fill="#b23c11" />
<polygon points="591,468 594.7,467.8 595.1,481 591.4,481.2" fill="#b23c11" />
<polygon points="656.1,485.4 669.3,481.6 673.1,500.5 672.2,522.2 654.2,530.2 661.3,504.3" fill="#9c9c9c" />
<polygon points="606.1,504.3 661.3,504.3 655.2,531.1 609,529.3" fill="#cbcbcb" />
<polygon points="616.5,486.3 656.1,485.4 661.3,504.3 608,504.3" fill="#a6a6a6" />
<polygon points="616.5,486.3 642,487.1 636.3,504.3 608,504.3" fill="#e6e6e6" />
<polygon points="623.1,473.1 653.3,471.3 654.2,486.8 624.1,487.8" fill="#d34e1d" />
<polygon points="623.1,473.1 653.3,471.3 656.1,468.9 626.9,470.3" fill="#e6652f" />
<polygon points="653.3,471.3 656.1,468.9 657.1,484 654.2,486.8" fill="#b23c11" />
<polygon points="629.7,473.6 633.5,473.4 634,486.8 630.2,487.1" fill="#b23c11" />
<polygon points="696.7,491.4 710.1,487.6 714,506.7 713,528.8 694.8,537 702,510.6" fill="#9c9c9c" />
<polygon points="645.9,510.6 702,510.6 695.7,537.9 648.7,536" fill="#cbcbcb" />
<polygon points="656.4,492.4 696.7,491.4 702,510.6 647.8,510.6" fill="#a6a6a6" />
<polygon points="656.4,492.4 682.3,493.1 676.5,510.6 647.8,510.6" fill="#e6e6e6" />
<polygon points="663.1,478.9 693.8,477 694.8,492.8 664.1,493.8" fill="#d34e1d" />
<polygon points="663.1,478.9 693.8,477 696.7,474.6 667,476" fill="#e6652f" />
<polygon points="693.8,477 696.7,474.6 697.6,490 694.8,492.8" fill="#b23c11" />
<polygon points="669.8,479.4 673.7,479.2 674.1,492.8 670.3,493.1" fill="#b23c11" />
<polygon points="738.6,497.6 752.3,493.7 756.2,513.2 755.2,535.6 736.7,543.9 744,517.1" fill="#9c9c9c" />
<polygon points="687,517.1 744,517.1 737.7,544.9 689.9,542.9" fill="#cbcbcb" />
<polygon points="697.7,498.6 738.6,497.6 744,517.1 688.9,517.1" fill="#a6a6a6" />
<polygon points="697.7,498.6 724,499.3 718.2,517.1 688.9,517.1" fill="#e6e6e6" />
<polygon points="704.5,484.9 735.7,483 736.7,499.1 705.5,500" fill="#d34e1d" />
<polygon points="704.5,484.9 735.7,483 738.6,480.5 708.4,482" fill="#e6652f" />
<polygon points="735.7,483 738.6,480.5 739.6,496.1 736.7,499.1" fill="#b23c11" />
<polygon points="711.3,485.4 715.2,485.2 715.7,499.1 711.8,499.3" fill="#b23c11" />
<polygon points="782,504 795.9,500 799.9,519.9 798.9,542.6 780,551.1 787.5,523.8" fill="#9c9c9c" />
<polygon points="729.5,523.8 787.5,523.8 781,552.1 732.5,550.1" fill="#cbcbcb" />
<polygon points="740.4,505 782,504 787.5,523.8 731.5,523.8" fill="#a6a6a6" />
<polygon points="740.4,505 767.2,505.7 761.2,523.8 731.5,523.8" fill="#e6e6e6" />
<polygon points="747.3,491.1 779.1,489.1 780,505.5 748.3,506.5" fill="#d34e1d" />
<polygon points="747.3,491.1 779.1,489.1 782,486.6 751.3,488.1" fill="#e6652f" />
<polygon points="779.1,489.1 782,486.6 783,502.5 780,505.5" fill="#b23c11" />
<polygon points="754.3,491.6 758.2,491.4 758.7,505.5 754.8,505.7" fill="#b23c11" />
<polygon points="826.9,510.6 841,506.6 845,526.7 844,549.9 824.9,558.5 832.4,530.8" fill="#9c9c9c" />
<polygon points="773.5,530.8 832.4,530.8 825.9,559.5 776.5,557.4" fill="#cbcbcb" />
<polygon points="784.6,511.6 826.9,510.6 832.4,530.8 775.5,530.8" fill="#a6a6a6" />
<polygon points="784.6,511.6 811.8,512.4 805.8,530.8 775.5,530.8" fill="#e6e6e6" />
<polygon points="791.7,497.5 823.9,495.5 824.9,512.1 792.7,513.1" fill="#d34e1d" />
<polygon points="791.7,497.5 823.9,495.5 826.9,493 795.7,494.5" fill="#e6652f" />
<polygon points="823.9,495.5 826.9,493 827.9,509.1 824.9,512.1" fill="#b23c11" />
<polygon points="798.7,498 802.7,497.8 803.2,512.1 799.2,512.4" fill="#b23c11" />
<polygon points="873.3,517.4 887.6,513.4 891.7,533.8 890.7,557.4 871.3,566 878.9,537.9" fill="#9c9c9c" />
<polygon points="819.1,537.9 878.9,537.9 872.3,567.1 822.2,565" fill="#cbcbcb" />
<polygon points="830.3,518.5 873.3,517.4 878.9,537.9 821.1,537.9" fill="#a6a6a6" />
<polygon points="830.3,518.5 858,519.2 851.8,537.9 821.1,537.9" fill="#e6e6e6" />
<polygon points="837.5,504.1 870.3,502.1 871.3,519 838.5,520" fill="#d34e1d" />
<polygon points="837.5,504.1 870.3,502.1 873.3,499.5 841.6,501.1" fill="#e6652f" />
<polygon points="870.3,502.1 873.3,499.5 874.3,515.9 871.3,519" fill="#b23c11" />
<polygon points="844.7,504.7 848.8,504.4 849.3,519 845.2,519.2" fill="#b23c11" />
<polygon points="921.3,524.5 935.9,520.4 940,541.1 939,565 919.3,573.9 927,545.3" fill="#9c9c9c" />
<polygon points="866.3,545.3 927,545.3 920.3,574.9 869.4,572.8" fill="#cbcbcb" />
<polygon points="877.7,525.6 921.3,524.5 927,545.3 868.3,545.3" fill="#a6a6a6" />
<polygon points="877.7,525.6 905.7,526.3 899.5,545.3 868.3,545.3" fill="#e6e6e6" />
<polygon points="885,511 918.2,508.9 919.3,526.1 886,527.1" fill="#d34e1d" />
<polygon points="885,511 918.2,508.9 921.3,506.3 889.1,507.9" fill="#e6652f" />
<polygon points="918.2,508.9 921.3,506.3 922.4,523 919.3,526.1" fill="#b23c11" />
<polygon points="892.2,511.5 896.4,511.3 896.9,526.1 892.8,526.3" fill="#b23c11" />
<polygon points="971,531.8 985.8,527.6 990,548.7 988.9,573 968.9,581.9 976.8,552.9" fill="#9c9c9c" />
<polygon points="915.1,552.9 976.8,552.9 969.9,583 918.2,580.9" fill="#cbcbcb" />
<polygon points="926.7,532.9 971,531.8 976.8,552.9 917.2,552.9" fill="#a6a6a6" />
<polygon points="926.7,532.9 955.2,533.7 948.8,552.9 917.2,552.9" fill="#e6e6e6" />
<polygon points="934.1,518.1 967.8,516 968.9,533.4 935.1,534.5" fill="#d34e1d" />
<polygon points="934.1,518.1 967.8,516 971,513.4 938.3,514.9" fill="#e6652f" />
<polygon points="967.8,516 971,513.4 972.1,530.2 968.9,533.4" fill="#b23c11" />
<polygon points="941.5,518.6 945.7,518.4 946.2,533.4 942,533.7" fill="#b23c11" />
<polygon points="1022.4,539.4 1037.4,535.1 1041.7,556.5 1040.6,581.1 1020.2,590.3 1028.3,560.8" fill="#9c9c9c" />
<polygon points="965.6,560.8 1028.3,560.8 1021.3,591.3 968.8,589.2" fill="#cbcbcb" />
<polygon points="977.4,540.4 1022.4,539.4 1028.3,560.8 967.7,560.8" fill="#a6a6a6" />
<polygon points="977.4,540.4 1006.3,541.2 999.9,560.8 967.7,560.8" fill="#e6e6e6" />
<polygon points="984.9,525.4 1019.2,523.3 1020.2,541 985.9,542" fill="#d34e1d" />
<polygon points="984.9,525.4 1019.2,523.3 1022.4,520.6 989.2,522.2" fill="#e6652f" />
<polygon points="1019.2,523.3 1022.4,520.6 1023.4,537.8 1020.2,541" fill="#b23c11" />
<polygon points="992.4,526 996.7,525.7 997.2,541 992.9,541.2" fill="#b23c11" />
<polygon points="1075.5,547.2 1090.7,542.8 1095.1,564.6 1094,589.6 1073.3,598.8 1081.5,568.9" fill="#9c9c9c" />
<polygon points="1017.9,568.9 1081.5,568.9 1074.4,599.9 1021.1,597.7" fill="#cbcbcb" />
<polygon points="1029.8,548.3 1075.5,547.2 1081.5,568.9 1020.1,568.9" fill="#a6a6a6" />
<polygon points="1029.8,548.3 1059.2,549.1 1052.7,568.9 1020.1,568.9" fill="#e6e6e6" />
<polygon points="1037.5,533 1072.2,530.9 1073.3,548.8 1038.5,549.9" fill="#d34e1d" />
<polygon points="1037.5,533 1072.2,530.9 1075.5,528.1 1041.8,529.8" fill="#e6652f" />
<polygon points="1072.2,530.9 1075.5,528.1 1076.6,545.5 1073.3,548.8" fill="#b23c11" />
<polygon points="1045.1,533.6 1049.4,533.3 1050,548.8 1045.6,549.1" fill="#b23c11" />
<polygon points="1130.5,555.2 1145.9,550.8 1150.3,572.9 1149.2,598.3 1128.3,607.6 1136.5,577.3" fill="#9c9c9c" />
<polygon points="1072,577.3 1136.5,577.3 1129.4,608.7 1075.3,606.5" fill="#cbcbcb" />
<polygon points="1084.1,556.3 1130.5,555.2 1136.5,577.3 1074.2,577.3" fill="#a6a6a6" />
<polygon points="1084.1,556.3 1113.9,557.2 1107.3,577.3 1074.2,577.3" fill="#e6e6e6" />
<polygon points="1091.9,540.9 1127.2,538.7 1128.3,556.9 1093,558" fill="#d34e1d" />
<polygon points="1091.9,540.9 1127.2,538.7 1130.5,535.9 1096.3,537.6" fill="#e6652f" />
<polygon points="1127.2,538.7 1130.5,535.9 1131.6,553.6 1128.3,556.9" fill="#b23c11" />
<polygon points="1099.6,541.5 1104,541.2 1104.6,556.9 1100.1,557.2" fill="#b23c11" />
<polygon points="1187.3,563.6 1203,559.1 1207.5,581.5 1206.4,607.2 1185.1,616.7 1193.5,586" fill="#9c9c9c" />
<polygon points="1128,586 1193.5,586 1186.2,617.9 1131.4,615.6" fill="#cbcbcb" />
<polygon points="1140.3,564.7 1187.3,563.6 1193.5,586 1130.3,586" fill="#a6a6a6" />
<polygon points="1140.3,564.7 1170.5,565.5 1163.8,586 1130.3,586" fill="#e6e6e6" />
<polygon points="1148.2,549 1184,546.8 1185.1,565.3 1149.3,566.4" fill="#d34e1d" />
<polygon points="1148.2,549 1184,546.8 1187.3,544 1152.6,545.7" fill="#e6652f" />
<polygon points="1184,546.8 1187.3,544 1188.5,561.9 1185.1,565.3" fill="#b23c11" />
<polygon points="1156,549.6 1160.5,549.3 1161,565.3 1156.6,565.5" fill="#b23c11" />
<polygon points="1246.2,572.2 1262,567.7 1266.6,590.4 1265.5,616.5 1243.9,626.1 1252.4,594.9" fill="#9c9c9c" />
<polygon points="1186,594.9 1252.4,594.9 1245,627.3 1189.4,625" fill="#cbcbcb" />
<polygon points="1198.5,573.3 1246.2,572.2 1252.4,594.9 1188.3,594.9" fill="#a6a6a6" />
<polygon points="1198.5,573.3 1229.1,574.2 1222.3,594.9 1188.3,594.9" fill="#e6e6e6" />
<polygon points="1206.4,557.4 1242.7,555.2 1243.9,573.9 1207.6,575" fill="#d34e1d" />
<polygon points="1206.4,557.4 1242.7,555.2 1246.2,552.3 1211,554" fill="#e6652f" />
<polygon points="1242.7,555.2 1246.2,552.3 1247.3,570.5 1243.9,573.9" fill="#b23c11" />
<polygon points="1214.4,558 1218.9,557.7 1219.5,573.9 1214.9,574.2" fill="#b23c11" />
<polygon points="1307,581.1 1323.1,576.5 1327.7,599.5 1326.6,626 1304.7,635.8 1313.3,604.1" fill="#9c9c9c" />
<polygon points="1246,604.1 1313.3,604.1 1305.8,637 1249.4,634.7" fill="#cbcbcb" />
<polygon points="1258.6,582.3 1307,581.1 1313.3,604.1 1248.3,604.1" fill="#a6a6a6" />
<polygon points="1258.6,582.3 1289.7,583.1 1282.8,604.1 1248.3,604.1" fill="#e6e6e6" />
<polygon points="1266.7,566.2 1303.5,563.9 1304.7,582.8 1267.9,584" fill="#d34e1d" />
<polygon points="1266.7,566.2 1303.5,563.9 1307,561 1271.3,562.7" fill="#e6652f" />
<polygon points="1303.5,563.9 1307,561 1308.1,579.4 1304.7,582.8" fill="#b23c11" />
<polygon points="1274.8,566.7 1279.4,566.4 1279.9,582.8 1275.3,583.1" fill="#b23c11" />
<polygon points="1341.3,586.1 1357.6,581.5 1362.2,604.7 1361.1,631.4 1339,641.2 1347.7,609.4" fill="#9c9c9c" />
<polygon points="1279.9,609.4 1347.7,609.4 1340.2,642.4 1283.3,640.1" fill="#cbcbcb" />
<polygon points="1292.6,587.3 1341.3,586.1 1347.7,609.4 1282.2,609.4" fill="#a6a6a6" />
<polygon points="1292.6,587.3 1324,588.2 1317,609.4 1282.2,609.4" fill="#e6e6e6" />
<polygon points="1300.8,571.1 1337.9,568.8 1339,587.9 1301.9,589" fill="#d34e1d" />
<polygon points="1300.8,571.1 1337.9,568.8 1341.3,565.9 1305.4,567.6" fill="#e6652f" />
<polygon points="1337.9,568.8 1341.3,565.9 1342.5,584.4 1339,587.9" fill="#b23c11" />
<polygon points="1308.9,571.6 1313.5,571.4 1314.1,587.9 1309.5,588.2" fill="#b23c11" />
<rect x="518.9" y="523.2" width="1.6" height="14.7" fill="#e6c6a4"/>
<rect x="538.2" y="523.2" width="1.6" height="14.7" fill="#e6c6a4"/>
<polygon points="550.2,481.8 563.1,478.1 566.8,496.5 565.8,517.7 548.4,525.5 555.3,500.2" fill="#a8a8a8" />
<polygon points="501.4,500.2 555.3,500.2 549.3,526.4 504.2,524.6" fill="#d2d2d2" />
<polygon points="504.2,505.7 509.7,505.7 510.6,524.6 504.2,524.6" fill="#e6e6e6" />
<polygon points="541,507.6 548.4,507.6 548.4,526.4 541.9,526.4" fill="#e6e6e6" />
<polygon points="518.9,507.6 533.6,507.6 531.8,528.3 520.8,528.3" fill="#e2e2e2" />
<polygon points="512.5,514 518,514 518,523.2 512.5,522.3" fill="#bdbdbd" />
<polygon points="534.6,514 540.1,514 540.1,524.1 534.6,524.1" fill="#bdbdbd" />
<polygon points="523.5,511.2 526.3,507.6 529,511.2 529,518.6 523.5,518.6" fill="#c2c2c2" />
<polygon points="511.6,482.7 550.2,481.8 555.3,500.2 503.3,500.2" fill="#b2b2b2" />
<polygon points="511.6,482.7 536.4,483.4 530.9,500.2 503.3,500.2" fill="#f6f6f6" />
<polygon points="522.6,488.2 527.2,488.2 525.8,496.5 524,496.5" fill="#ead9b8" />
<polyline points="503.3,500.2 555.3,500.2" fill="none" stroke="#bdbdbd" stroke-width="1" />
<polygon points="518,469.8 547.4,468 548.4,483.2 518.9,484.1" fill="#f26a22" />
<polygon points="518,469.8 547.4,468 550.2,465.7 521.7,467.1" fill="#ff8a4a" />
<polygon points="547.4,468 550.2,465.7 551.1,480.4 548.4,483.2" fill="#d8420f" />
<polygon points="524.4,470.3 528.1,470.1 528.6,483.2 524.9,483.4" fill="#d8420f" />
<rect x="557" y="529.9" width="1.6" height="15" fill="#e6c6a4"/>
<rect x="576.7" y="529.9" width="1.6" height="15" fill="#e6c6a4"/>
<polygon points="588.9,487.8 602,484 605.7,502.7 604.8,524.3 587,532.2 594,506.5" fill="#a8a8a8" />
<polygon points="539.3,506.5 594,506.5 587.9,533.1 542.1,531.3" fill="#d2d2d2" />
<polygon points="542.1,512.1 547.7,512.1 548.6,531.3 542.1,531.3" fill="#e6e6e6" />
<polygon points="579.5,514 587,514 587,533.1 580.4,533.1" fill="#e6e6e6" />
<polygon points="557,514 572,514 570.1,535 558.9,535" fill="#e2e2e2" />
<polygon points="550.5,520.5 556.1,520.5 556.1,529.9 550.5,528.9" fill="#bdbdbd" />
<polygon points="572.9,520.5 578.6,520.5 578.6,530.8 572.9,530.8" fill="#bdbdbd" />
<polygon points="561.7,517.7 564.5,514 567.3,517.7 567.3,525.2 561.7,525.2" fill="#c2c2c2" />
<polygon points="549.5,488.7 588.9,487.8 594,506.5 541.1,506.5" fill="#b2b2b2" />
<polygon points="549.5,488.7 574.8,489.4 569.2,506.5 541.1,506.5" fill="#f6f6f6" />
<polygon points="560.8,494.3 565.5,494.3 564.1,502.7 562.2,502.7" fill="#ead9b8" />
<polyline points="541.1,506.5 594,506.5" fill="none" stroke="#bdbdbd" stroke-width="1" />
<polygon points="556.1,475.6 586.1,473.7 587,489.2 557,490.1" fill="#f26a22" />
<polygon points="556.1,475.6 586.1,473.7 588.9,471.4 559.8,472.8" fill="#ff8a4a" />
<polygon points="586.1,473.7 588.9,471.4 589.8,486.3 587,489.2" fill="#d8420f" />
<polygon points="562.7,476.1 566.4,475.8 566.9,489.2 563.1,489.4" fill="#d8420f" />
<rect x="596.5" y="536.7" width="1.7" height="15.2" fill="#e6c6a4"/>
<rect x="616.5" y="536.7" width="1.7" height="15.2" fill="#e6c6a4"/>
<polygon points="628.8,493.9 642.2,490.1 646,509.1 645,531 626.9,539.1 634.1,512.9" fill="#a8a8a8" />
<polygon points="578.4,512.9 634.1,512.9 627.9,540.1 581.2,538.2" fill="#d2d2d2" />
<polygon points="581.2,518.7 587,518.7 587.9,538.2 581.2,538.2" fill="#e6e6e6" />
<polygon points="619.3,520.6 626.9,520.6 626.9,540.1 620.3,540.1" fill="#e6e6e6" />
<polygon points="596.5,520.6 611.7,520.6 609.8,542 598.4,542" fill="#e2e2e2" />
<polygon points="589.8,527.2 595.5,527.2 595.5,536.7 589.8,535.8" fill="#bdbdbd" />
<polygon points="612.7,527.2 618.4,527.2 618.4,537.7 612.7,537.7" fill="#bdbdbd" />
<polygon points="601.2,524.4 604.1,520.6 607,524.4 607,532 601.2,532" fill="#c2c2c2" />
<polygon points="588.9,494.9 628.8,493.9 634.1,512.9 580.3,512.9" fill="#b2b2b2" />
<polygon points="588.9,494.9 614.6,495.6 608.9,512.9 580.3,512.9" fill="#f6f6f6" />
<polygon points="600.3,500.6 605,500.6 603.6,509.1 601.7,509.1" fill="#ead9b8" />
<polyline points="580.3,512.9 634.1,512.9" fill="none" stroke="#bdbdbd" stroke-width="1" />
<polygon points="595.5,481.5 626,479.6 626.9,495.3 596.5,496.3" fill="#f26a22" />
<polygon points="595.5,481.5 626,479.6 628.8,477.2 599.3,478.7" fill="#ff8a4a" />
<polygon points="626,479.6 628.8,477.2 629.8,492.5 626.9,495.3" fill="#d8420f" />
<polygon points="602.2,482 606,481.8 606.5,495.3 602.7,495.6" fill="#d8420f" />
<rect x="637.3" y="543.8" width="1.7" height="15.5" fill="#e6c6a4"/>
<rect x="657.6" y="543.8" width="1.7" height="15.5" fill="#e6c6a4"/>
<polygon points="670.2,500.3 683.8,496.4 687.6,515.7 686.7,538 668.3,546.2 675.5,519.6" fill="#a8a8a8" />
<polygon points="618.9,519.6 675.5,519.6 669.2,547.2 621.8,545.3" fill="#d2d2d2" />
<polygon points="621.8,525.4 627.6,525.4 628.6,545.3 621.8,545.3" fill="#e6e6e6" />
<polygon points="660.5,527.4 668.3,527.4 668.3,547.2 661.5,547.2" fill="#e6e6e6" />
<polygon points="637.3,527.4 652.8,527.4 650.8,549.1 639.2,549.1" fill="#e2e2e2" />
<polygon points="630.5,534.1 636.3,534.1 636.3,543.8 630.5,542.8" fill="#bdbdbd" />
<polygon points="653.8,534.1 659.6,534.1 659.6,544.8 653.8,544.8" fill="#bdbdbd" />
<polygon points="642.1,531.2 645,527.4 647.9,531.2 647.9,539 642.1,539" fill="#c2c2c2" />
<polygon points="629.6,501.2 670.2,500.3 675.5,519.6 620.8,519.6" fill="#b2b2b2" />
<polygon points="629.6,501.2 655.7,501.9 649.9,519.6 620.8,519.6" fill="#f6f6f6" />
<polygon points="641.2,507 646,507 644.6,515.7 642.6,515.7" fill="#ead9b8" />
<polyline points="620.8,519.6 675.5,519.6" fill="none" stroke="#bdbdbd" stroke-width="1" />
<polygon points="636.3,487.7 667.3,485.7 668.3,501.7 637.3,502.7" fill="#f26a22" />
<polygon points="636.3,487.7 667.3,485.7 670.2,483.3 640.2,484.8" fill="#ff8a4a" />
<polygon points="667.3,485.7 670.2,483.3 671.2,498.8 668.3,501.7" fill="#d8420f" />
<polygon points="643.1,488.2 647,487.9 647.5,501.7 643.6,501.9" fill="#d8420f" />
<rect x="679.5" y="551.1" width="1.7" height="15.7" fill="#e6c6a4"/>
<rect x="700.2" y="551.1" width="1.7" height="15.7" fill="#e6c6a4"/>
<polygon points="713,506.8 726.8,502.9 730.7,522.6 729.7,545.2 711,553.6 718.4,526.5" fill="#a8a8a8" />
<polygon points="660.8,526.5 718.4,526.5 712,554.5 663.8,552.6" fill="#d2d2d2" />
<polygon points="663.8,532.4 669.7,532.4 670.7,552.6 663.8,552.6" fill="#e6e6e6" />
<polygon points="703.1,534.4 711,534.4 711,554.5 704.1,554.5" fill="#e6e6e6" />
<polygon points="679.5,534.4 695.3,534.4 693.3,556.5 681.5,556.5" fill="#e2e2e2" />
<polygon points="672.6,541.3 678.5,541.3 678.5,551.1 672.6,550.1" fill="#bdbdbd" />
<polygon points="696.3,541.3 702.2,541.3 702.2,552.1 696.3,552.1" fill="#bdbdbd" />
<polygon points="684.4,538.3 687.4,534.4 690.4,538.3 690.4,546.2 684.4,546.2" fill="#c2c2c2" />
<polygon points="671.7,507.8 713,506.8 718.4,526.5 662.8,526.5" fill="#b2b2b2" />
<polygon points="671.7,507.8 698.2,508.5 692.3,526.5 662.8,526.5" fill="#f6f6f6" />
<polygon points="683.5,513.7 688.4,513.7 686.9,522.6 684.9,522.6" fill="#ead9b8" />
<polyline points="662.8,526.5 718.4,526.5" fill="none" stroke="#bdbdbd" stroke-width="1" />
<polygon points="678.5,494 710,492.1 711,508.3 679.5,509.3" fill="#f26a22" />
<polygon points="678.5,494 710,492.1 713,489.6 682.5,491.1" fill="#ff8a4a" />
<polygon points="710,492.1 713,489.6 714,505.3 711,508.3" fill="#d8420f" />
<polygon points="685.4,494.5 689.4,494.3 689.9,508.3 685.9,508.5" fill="#d8420f" />
<rect x="723.2" y="558.6" width="1.8" height="16" fill="#e6c6a4"/>
<rect x="744.2" y="558.6" width="1.8" height="16" fill="#e6c6a4"/>
<polygon points="757.2,513.6 771.2,509.6 775.2,529.6 774.2,552.6 755.2,561.1 762.7,533.6" fill="#a8a8a8" />
<polygon points="704.2,533.6 762.7,533.6 756.2,562.1 707.2,560.1" fill="#d2d2d2" />
<polygon points="707.2,539.6 713.2,539.6 714.2,560.1 707.2,560.1" fill="#e6e6e6" />
<polygon points="747.2,541.6 755.2,541.6 755.2,562.1 748.2,562.1" fill="#e6e6e6" />
<polygon points="723.2,541.6 739.2,541.6 737.2,564.1 725.2,564.1" fill="#e2e2e2" />
<polygon points="716.2,548.6 722.2,548.6 722.2,558.6 716.2,557.6" fill="#bdbdbd" />
<polygon points="740.2,548.6 746.2,548.6 746.2,559.6 740.2,559.6" fill="#bdbdbd" />
<polygon points="728.2,545.6 731.2,541.6 734.2,545.6 734.2,553.6 728.2,553.6" fill="#c2c2c2" />
<polygon points="715.2,514.6 757.2,513.6 762.7,533.6 706.2,533.6" fill="#b2b2b2" />
<polygon points="715.2,514.6 742.2,515.4 736.2,533.6 706.2,533.6" fill="#f6f6f6" />
<polygon points="727.2,520.6 732.2,520.6 730.7,529.6 728.7,529.6" fill="#ead9b8" />
<polyline points="706.2,533.6 762.7,533.6" fill="none" stroke="#bdbdbd" stroke-width="1" />
<polygon points="722.2,500.6 754.2,498.6 755.2,515.1 723.2,516.1" fill="#f26a22" />
<polygon points="722.2,500.6 754.2,498.6 757.2,496.1 726.2,497.6" fill="#ff8a4a" />
<polygon points="754.2,498.6 757.2,496.1 758.2,512.1 755.2,515.1" fill="#d8420f" />
<polygon points="729.2,501.1 733.2,500.9 733.7,515.1 729.7,515.4" fill="#d8420f" />
<rect x="768.4" y="566.3" width="1.8" height="16.3" fill="#e6c6a4"/>
<rect x="789.8" y="566.3" width="1.8" height="16.3" fill="#e6c6a4"/>
<polygon points="803,520.6 817.2,516.6 821.3,536.9 820.3,560.2 801,568.9 808.6,540.9" fill="#a8a8a8" />
<polygon points="749.1,540.9 808.6,540.9 802,569.9 752.2,567.9" fill="#d2d2d2" />
<polygon points="752.2,547 758.3,547 759.3,567.9 752.2,567.9" fill="#e6e6e6" />
<polygon points="792.8,549.1 801,549.1 801,569.9 793.8,569.9" fill="#e6e6e6" />
<polygon points="768.4,549.1 784.7,549.1 782.7,571.9 770.5,571.9" fill="#e2e2e2" />
<polygon points="761.3,556.2 767.4,556.2 767.4,566.3 761.3,565.3" fill="#bdbdbd" />
<polygon points="785.7,556.2 791.8,556.2 791.8,567.4 785.7,567.4" fill="#bdbdbd" />
<polygon points="773.5,553.1 776.6,549.1 779.6,553.1 779.6,561.3 773.5,561.3" fill="#c2c2c2" />
<polygon points="760.3,521.6 803,520.6 808.6,540.9 751.2,540.9" fill="#b2b2b2" />
<polygon points="760.3,521.6 787.8,522.4 781.7,540.9 751.2,540.9" fill="#f6f6f6" />
<polygon points="772.5,527.7 777.6,527.7 776.1,536.9 774,536.9" fill="#ead9b8" />
<polyline points="751.2,540.9 808.6,540.9" fill="none" stroke="#bdbdbd" stroke-width="1" />
<polygon points="767.4,507.4 799.9,505.4 801,522.1 768.4,523.2" fill="#f26a22" />
<polygon points="767.4,507.4 799.9,505.4 803,502.8 771.5,504.4" fill="#ff8a4a" />
<polygon points="799.9,505.4 803,502.8 804,519.1 801,522.1" fill="#d8420f" />
<polygon points="774.5,507.9 778.6,507.7 779.1,522.1 775.1,522.4" fill="#d8420f" />
<rect x="815.2" y="574.3" width="1.8" height="16.5" fill="#e6c6a4"/>
<rect x="836.9" y="574.3" width="1.8" height="16.5" fill="#e6c6a4"/>
<polygon points="850.3,527.9 864.8,523.7 868.9,544.4 867.9,568.1 848.3,576.9 856,548.5" fill="#a8a8a8" />
<polygon points="795.6,548.5 856,548.5 849.3,577.9 798.7,575.9" fill="#d2d2d2" />
<polygon points="798.7,554.7 804.9,554.7 806,575.9 798.7,575.9" fill="#e6e6e6" />
<polygon points="840,556.8 848.3,556.8 848.3,577.9 841,577.9" fill="#e6e6e6" />
<polygon points="815.2,556.8 831.8,556.8 829.7,580 817.3,580" fill="#e2e2e2" />
<polygon points="808,564 814.2,564 814.2,574.3 808,573.3" fill="#bdbdbd" />
<polygon points="832.8,564 839,564 839,575.3 832.8,575.3" fill="#bdbdbd" />
<polygon points="820.4,560.9 823.5,556.8 826.6,560.9 826.6,569.2 820.4,569.2" fill="#c2c2c2" />
<polygon points="807,528.9 850.3,527.9 856,548.5 797.7,548.5" fill="#b2b2b2" />
<polygon points="807,528.9 834.8,529.7 828.7,548.5 797.7,548.5" fill="#f6f6f6" />
<polygon points="819.4,535.1 824.5,535.1 823,544.4 820.9,544.4" fill="#ead9b8" />
<polyline points="797.7,548.5 856,548.5" fill="none" stroke="#bdbdbd" stroke-width="1" />
<polygon points="814.2,514.5 847.2,512.4 848.3,529.4 815.2,530.5" fill="#f26a22" />
<polygon points="814.2,514.5 847.2,512.4 850.3,509.8 818.3,511.4" fill="#ff8a4a" />
<polygon points="847.2,512.4 850.3,509.8 851.4,526.3 848.3,529.4" fill="#d8420f" />
<polygon points="821.4,515 825.6,514.7 826.1,529.4 821.9,529.7" fill="#d8420f" />
<rect x="863.7" y="582.5" width="1.8" height="16.8" fill="#e6c6a4"/>
<rect x="885.7" y="582.5" width="1.8" height="16.8" fill="#e6c6a4"/>
<polygon points="899.3,535.4 914,531.2 918.2,552.1 917.1,576.2 897.2,585.1 905.1,556.3" fill="#a8a8a8" />
<polygon points="843.7,556.3 905.1,556.3 898.2,586.2 846.9,584.1" fill="#d2d2d2" />
<polygon points="846.9,562.6 853.2,562.6 854.2,584.1 846.9,584.1" fill="#e6e6e6" />
<polygon points="888.8,564.7 897.2,564.7 897.2,586.2 889.9,586.2" fill="#e6e6e6" />
<polygon points="863.7,564.7 880.4,564.7 878.3,588.3 865.8,588.3" fill="#e2e2e2" />
<polygon points="856.3,572 862.6,572 862.6,582.5 856.3,581.5" fill="#bdbdbd" />
<polygon points="881.5,572 887.8,572 887.8,583.6 881.5,583.6" fill="#bdbdbd" />
<polygon points="868.9,568.9 872,564.7 875.2,568.9 875.2,577.3 868.9,577.3" fill="#c2c2c2" />
<polygon points="855.3,536.4 899.3,535.4 905.1,556.3 845.8,556.3" fill="#b2b2b2" />
<polygon points="855.3,536.4 883.6,537.2 877.3,556.3 845.8,556.3" fill="#f6f6f6" />
<polygon points="867.9,542.7 873.1,542.7 871.5,552.1 869.4,552.1" fill="#ead9b8" />
<polyline points="845.8,556.3 905.1,556.3" fill="none" stroke="#bdbdbd" stroke-width="1" />
<polygon points="862.6,521.7 896.1,519.6 897.2,536.9 863.7,538" fill="#f26a22" />
<polygon points="862.6,521.7 896.1,519.6 899.3,517 866.8,518.6" fill="#ff8a4a" />
<polygon points="896.1,519.6 899.3,517 900.3,533.8 897.2,536.9" fill="#d8420f" />
<polygon points="869.9,522.3 874.1,522 874.7,536.9 870.5,537.2" fill="#d8420f" />
<rect x="913.8" y="591" width="1.9" height="17" fill="#e6c6a4"/>
<rect x="936.1" y="591" width="1.9" height="17" fill="#e6c6a4"/>
<polygon points="949.9,543.1 964.8,538.9 969.1,560.1 968,584.6 947.8,593.7 955.8,564.4" fill="#a8a8a8" />
<polygon points="893.5,564.4 955.8,564.4 948.9,594.7 896.7,592.6" fill="#d2d2d2" />
<polygon points="896.7,570.8 903.1,570.8 904.2,592.6 896.7,592.6" fill="#e6e6e6" />
<polygon points="939.3,572.9 947.8,572.9 947.8,594.7 940.4,594.7" fill="#e6e6e6" />
<polygon points="913.8,572.9 930.8,572.9 928.7,596.8 915.9,596.8" fill="#e2e2e2" />
<polygon points="906.3,580.4 912.7,580.4 912.7,591 906.3,589.9" fill="#bdbdbd" />
<polygon points="931.9,580.4 938.2,580.4 938.2,592.1 931.9,592.1" fill="#bdbdbd" />
<polygon points="919.1,577.2 922.3,572.9 925.5,577.2 925.5,585.7 919.1,585.7" fill="#c2c2c2" />
<polygon points="905.3,544.2 949.9,543.1 955.8,564.4 895.7,564.4" fill="#b2b2b2" />
<polygon points="905.3,544.2 934,545 927.6,564.4 895.7,564.4" fill="#f6f6f6" />
<polygon points="918,550.6 923.3,550.6 921.7,560.1 919.6,560.1" fill="#ead9b8" />
<polyline points="895.7,564.4 955.8,564.4" fill="none" stroke="#bdbdbd" stroke-width="1" />
<polygon points="912.7,529.3 946.7,527.2 947.8,544.7 913.8,545.8" fill="#f26a22" />
<polygon points="912.7,529.3 946.7,527.2 949.9,524.5 917,526.1" fill="#ff8a4a" />
<polygon points="946.7,527.2 949.9,524.5 951,541.5 947.8,544.7" fill="#d8420f" />
<polygon points="920.1,529.8 924.4,529.5 924.9,544.7 920.7,545" fill="#d8420f" />
<rect x="965.6" y="599.7" width="1.9" height="17.3" fill="#e6c6a4"/>
<rect x="988.3" y="599.7" width="1.9" height="17.3" fill="#e6c6a4"/>
<polygon points="1002.3,551.1 1017.4,546.8 1021.8,568.4 1020.7,593.2 1000.2,602.4 1008.3,572.7" fill="#a8a8a8" />
<polygon points="945.1,572.7 1008.3,572.7 1001.2,603.5 948.3,601.3" fill="#d2d2d2" />
<polygon points="948.3,579.2 954.8,579.2 955.9,601.3 948.3,601.3" fill="#e6e6e6" />
<polygon points="991.5,581.4 1000.2,581.4 1000.2,603.5 992.6,603.5" fill="#e6e6e6" />
<polygon points="965.6,581.4 982.9,581.4 980.7,605.7 967.8,605.7" fill="#e2e2e2" />
<polygon points="958,588.9 964.5,588.9 964.5,599.7 958,598.6" fill="#bdbdbd" />
<polygon points="984,588.9 990.4,588.9 990.4,600.8 984,600.8" fill="#bdbdbd" />
<polygon points="971,585.7 974.2,581.4 977.5,585.7 977.5,594.3 971,594.3" fill="#c2c2c2" />
<polygon points="957,552.2 1002.3,551.1 1008.3,572.7 947.2,572.7" fill="#b2b2b2" />
<polygon points="957,552.2 986.1,553 979.6,572.7 947.2,572.7" fill="#f6f6f6" />
<polygon points="969.9,558.7 975.3,558.7 973.7,568.4 971.5,568.4" fill="#ead9b8" />
<polyline points="947.2,572.7 1008.3,572.7" fill="none" stroke="#bdbdbd" stroke-width="1" />
<polygon points="964.5,537.1 999.1,534.9 1000.2,552.7 965.6,553.8" fill="#f26a22" />
<polygon points="964.5,537.1 999.1,534.9 1002.3,532.2 968.8,533.8" fill="#ff8a4a" />
<polygon points="999.1,534.9 1002.3,532.2 1003.4,549.5 1000.2,552.7" fill="#d8420f" />
<polygon points="972.1,537.6 976.4,537.3 976.9,552.7 972.6,553" fill="#d8420f" />
<rect x="1019.3" y="608.7" width="1.9" height="17.5" fill="#e6c6a4"/>
<rect x="1042.3" y="608.7" width="1.9" height="17.5" fill="#e6c6a4"/>
<polygon points="1056.5,559.4 1071.9,555 1076.2,576.9 1075.2,602.1 1054.3,611.5 1062.5,581.3" fill="#a8a8a8" />
<polygon points="998.4,581.3 1062.5,581.3 1055.4,612.6 1001.7,610.4" fill="#d2d2d2" />
<polygon points="1001.7,587.9 1008.3,587.9 1009.4,610.4 1001.7,610.4" fill="#e6e6e6" />
<polygon points="1045.6,590.1 1054.3,590.1 1054.3,612.6 1046.7,612.6" fill="#e6e6e6" />
<polygon points="1019.3,590.1 1036.8,590.1 1034.6,614.7 1021.4,614.7" fill="#e2e2e2" />
<polygon points="1011.6,597.8 1018.2,597.8 1018.2,608.7 1011.6,607.6" fill="#bdbdbd" />
<polygon points="1037.9,597.8 1044.5,597.8 1044.5,609.8 1037.9,609.8" fill="#bdbdbd" />
<polygon points="1024.7,594.5 1028,590.1 1031.3,594.5 1031.3,603.2 1024.7,603.2" fill="#c2c2c2" />
<polygon points="1010.5,560.5 1056.5,559.4 1062.5,581.3 1000.6,581.3" fill="#b2b2b2" />
<polygon points="1010.5,560.5 1040.1,561.3 1033.5,581.3 1000.6,581.3" fill="#f6f6f6" />
<polygon points="1023.6,567.1 1029.1,567.1 1027.5,576.9 1025.3,576.9" fill="#ead9b8" />
<polyline points="1000.6,581.3 1062.5,581.3" fill="none" stroke="#bdbdbd" stroke-width="1" />
<polygon points="1018.2,545.1 1053.2,543 1054.3,561 1019.3,562.1" fill="#f26a22" />
<polygon points="1018.2,545.1 1053.2,543 1056.5,540.2 1022.5,541.9" fill="#ff8a4a" />
<polygon points="1053.2,543 1056.5,540.2 1057.6,557.8 1054.3,561" fill="#d8420f" />
<polygon points="1025.8,545.7 1030.2,545.4 1030.8,561 1026.4,561.3" fill="#d8420f" />
<rect x="1074.8" y="618" width="1.9" height="17.8" fill="#e6c6a4"/>
<rect x="1098.1" y="618" width="1.9" height="17.8" fill="#e6c6a4"/>
<polygon points="1112.6,568 1128.1,563.5 1132.6,585.7 1131.5,611.3 1110.4,620.8 1118.7,590.2" fill="#a8a8a8" />
<polygon points="1053.6,590.2 1118.7,590.2 1111.5,621.9 1057,619.7" fill="#d2d2d2" />
<polygon points="1057,596.9 1063.6,596.9 1064.8,619.7 1057,619.7" fill="#e6e6e6" />
<polygon points="1101.5,599.1 1110.4,599.1 1110.4,621.9 1102.6,621.9" fill="#e6e6e6" />
<polygon points="1074.8,599.1 1092.6,599.1 1090.3,624.1 1077,624.1" fill="#e2e2e2" />
<polygon points="1067,606.9 1073.7,606.9 1073.7,618 1067,616.9" fill="#bdbdbd" />
<polygon points="1093.7,606.9 1100.3,606.9 1100.3,619.1 1093.7,619.1" fill="#bdbdbd" />
<polygon points="1080.3,603.5 1083.7,599.1 1087,603.5 1087,612.4 1080.3,612.4" fill="#c2c2c2" />
<polygon points="1065.9,569.1 1112.6,568 1118.7,590.2 1055.9,590.2" fill="#b2b2b2" />
<polygon points="1065.9,569.1 1095.9,569.9 1089.2,590.2 1055.9,590.2" fill="#f6f6f6" />
<polygon points="1079.2,575.7 1084.8,575.7 1083.1,585.7 1080.9,585.7" fill="#ead9b8" />
<polyline points="1055.9,590.2 1118.7,590.2" fill="none" stroke="#bdbdbd" stroke-width="1" />
<polygon points="1073.7,553.5 1109.2,551.3 1110.4,569.6 1074.8,570.7" fill="#f26a22" />
<polygon points="1073.7,553.5 1109.2,551.3 1112.6,548.5 1078.1,550.2" fill="#ff8a4a" />
<polygon points="1109.2,551.3 1112.6,548.5 1113.7,566.3 1110.4,569.6" fill="#d8420f" />
<polygon points="1081.4,554.1 1085.9,553.8 1086.4,569.6 1082,569.9" fill="#d8420f" />
<rect x="1132.2" y="627.6" width="2" height="18" fill="#e6c6a4"/>
<rect x="1155.9" y="627.6" width="2" height="18" fill="#e6c6a4"/>
<polygon points="1170.6,576.8 1186.4,572.3 1190.9,594.8 1189.7,620.8 1168.3,630.4 1176.8,599.4" fill="#a8a8a8" />
<polygon points="1110.8,599.4 1176.8,599.4 1169.4,631.5 1114.2,629.3" fill="#d2d2d2" />
<polygon points="1114.2,606.1 1120.9,606.1 1122.1,629.3 1114.2,629.3" fill="#e6e6e6" />
<polygon points="1159.3,608.4 1168.3,608.4 1168.3,631.5 1160.4,631.5" fill="#e6e6e6" />
<polygon points="1132.2,608.4 1150.3,608.4 1148,633.8 1134.5,633.8" fill="#e2e2e2" />
<polygon points="1124.3,616.3 1131.1,616.3 1131.1,627.6 1124.3,626.4" fill="#bdbdbd" />
<polygon points="1151.4,616.3 1158.2,616.3 1158.2,628.7 1151.4,628.7" fill="#bdbdbd" />
<polygon points="1137.9,612.9 1141.2,608.4 1144.6,612.9 1144.6,621.9 1137.9,621.9" fill="#c2c2c2" />
<polygon points="1123.2,577.9 1170.6,576.8 1176.8,599.4 1113,599.4" fill="#b2b2b2" />
<polygon points="1123.2,577.9 1153.6,578.8 1146.9,599.4 1113,599.4" fill="#f6f6f6" />
<polygon points="1136.7,584.7 1142.4,584.7 1140.7,594.8 1138.4,594.8" fill="#ead9b8" />
<polyline points="1113,599.4 1176.8,599.4" fill="none" stroke="#bdbdbd" stroke-width="1" />
<polygon points="1131.1,562.1 1167.2,559.9 1168.3,578.5 1132.2,579.6" fill="#f26a22" />
<polygon points="1131.1,562.1 1167.2,559.9 1170.6,557.1 1135.6,558.8" fill="#ff8a4a" />
<polygon points="1167.2,559.9 1170.6,557.1 1171.7,575.1 1168.3,578.5" fill="#d8420f" />
<polygon points="1139,562.7 1143.5,562.4 1144.1,578.5 1139.5,578.8" fill="#d8420f" />
<rect x="1191.7" y="637.4" width="2" height="18.3" fill="#e6c6a4"/>
<rect x="1215.7" y="637.4" width="2" height="18.3" fill="#e6c6a4"/>
<polygon points="1230.5,585.9 1246.6,581.4 1251.1,604.2 1250,630.6 1228.3,640.3 1236.8,608.8" fill="#a8a8a8" />
<polygon points="1169.9,608.8 1236.8,608.8 1229.4,641.4 1173.3,639.1" fill="#d2d2d2" />
<polygon points="1173.3,615.7 1180.2,615.7 1181.4,639.1 1173.3,639.1" fill="#e6e6e6" />
<polygon points="1219.1,618 1228.3,618 1228.3,641.4 1220.3,641.4" fill="#e6e6e6" />
<polygon points="1191.7,618 1210,618 1207.7,643.7 1193.9,643.7" fill="#e2e2e2" />
<polygon points="1183.6,626 1190.5,626 1190.5,637.4 1183.6,636.3" fill="#bdbdbd" />
<polygon points="1211.1,626 1218,626 1218,638.6 1211.1,638.6" fill="#bdbdbd" />
<polygon points="1197.4,622.6 1200.8,618 1204.2,622.6 1204.2,631.7 1197.4,631.7" fill="#c2c2c2" />
<polygon points="1182.5,587.1 1230.5,585.9 1236.8,608.8 1172.2,608.8" fill="#b2b2b2" />
<polygon points="1182.5,587.1 1213.4,587.9 1206.5,608.8 1172.2,608.8" fill="#f6f6f6" />
<polygon points="1196.2,594 1201.9,594 1200.2,604.2 1197.9,604.2" fill="#ead9b8" />
<polyline points="1172.2,608.8 1236.8,608.8" fill="none" stroke="#bdbdbd" stroke-width="1" />
<polygon points="1190.5,571.1 1227.1,568.8 1228.3,587.7 1191.7,588.8" fill="#f26a22" />
<polygon points="1190.5,571.1 1227.1,568.8 1230.5,565.9 1195.1,567.6" fill="#ff8a4a" />
<polygon points="1227.1,568.8 1230.5,565.9 1231.7,584.2 1228.3,587.7" fill="#d8420f" />
<polygon points="1198.5,571.6 1203.1,571.4 1203.7,587.7 1199.1,587.9" fill="#d8420f" />
<rect x="1253.2" y="647.6" width="2" height="18.6" fill="#e6c6a4"/>
<rect x="1277.5" y="647.6" width="2" height="18.6" fill="#e6c6a4"/>
<polygon points="1292.6,595.4 1308.8,590.8 1313.5,614 1312.3,640.6 1290.3,650.5 1299,618.6" fill="#a8a8a8" />
<polygon points="1231.1,618.6 1299,618.6 1291.4,651.7 1234.6,649.3" fill="#d2d2d2" />
<polygon points="1234.6,625.6 1241.6,625.6 1242.7,649.3 1234.6,649.3" fill="#e6e6e6" />
<polygon points="1281,627.9 1290.3,627.9 1290.3,651.7 1282.2,651.7" fill="#e6e6e6" />
<polygon points="1253.2,627.9 1271.7,627.9 1269.4,654 1255.5,654" fill="#e2e2e2" />
<polygon points="1245,636 1252,636 1252,647.6 1245,646.4" fill="#bdbdbd" />
<polygon points="1272.9,636 1279.8,636 1279.8,648.8 1272.9,648.8" fill="#bdbdbd" />
<polygon points="1259,632.5 1262.4,627.9 1265.9,632.5 1265.9,641.8 1259,641.8" fill="#c2c2c2" />
<polygon points="1243.9,596.6 1292.6,595.4 1299,618.6 1233.4,618.6" fill="#b2b2b2" />
<polygon points="1243.9,596.6 1275.2,597.4 1268.2,618.6 1233.4,618.6" fill="#f6f6f6" />
<polygon points="1257.8,603.5 1263.6,603.5 1261.9,614 1259.5,614" fill="#ead9b8" />
<polyline points="1233.4,618.6 1299,618.6" fill="none" stroke="#bdbdbd" stroke-width="1" />
<polygon points="1252,580.3 1289.1,578 1290.3,597.1 1253.2,598.3" fill="#f26a22" />
<polygon points="1252,580.3 1289.1,578 1292.6,575.1 1256.6,576.8" fill="#ff8a4a" />
<polygon points="1289.1,578 1292.6,575.1 1293.8,593.7 1290.3,597.1" fill="#d8420f" />
<polygon points="1260.1,580.9 1264.8,580.6 1265.3,597.1 1260.7,597.4" fill="#d8420f" />
<!-- p_keycaps -->
<g clip-path="url(#kcClip)">
<polygon points="478,388 488,348 520,347 560,350 640,346 700,338 745,335 1000,361 1268,387 1489,405 1512,448 1265,483" fill="#a59f9c" />
<polygon points="726.3,378.7 772.8,375.7 782.9,337.4 732.3,339.7" fill="#b3aeac" />
<polygon points="698.1,336.7 732.3,339.7 782.9,337.4 748.7,334.4" fill="#c2bdbb" />
<polygon points="699.8,336.9 730.6,339.6 770,337.6 742.7,335.2" fill="#9f9a98" opacity="0.95"/>
<path d="M684.4,374.4 L726.3,378.7 Q725.3,357.5 732.3,339.7 L698.1,336.7 Q692.3,353.5 684.4,374.4 Z" fill="url(#kc4_0)" />
<path d="M726.3,378.7 Q725.3,357.5 732.3,339.7 L736.1,340.7 Z" fill="url(#kc4_0v)" />
<polygon points="769.5,383.2 815.9,380 826.4,341.1 776,343.6" fill="#cfc9c7" />
<polygon points="740.8,340.5 776,343.6 826.4,341.1 791.3,338" fill="#f6f2f0" />
<polygon points="742.6,340.7 774.2,343.4 813.5,341.3 785.4,338.9" fill="#cfc9c7" opacity="0.95"/>
<path d="M726.3,378.7 L769.5,383.2 Q768.6,361.6 776,343.6 L740.8,340.5 Q734.6,357.5 726.3,378.7 Z" fill="url(#kc4_1)" />
<path d="M769.5,383.2 Q768.6,361.6 776,343.6 L779.9,344.6 Z" fill="url(#kc4_1v)" />
<polygon points="814,387.8 860.2,384.4 871.3,344.9 821,347.6" fill="#cfc9c7" />
<polygon points="784.8,344.4 821,347.6 871.3,344.9 835.1,341.7" fill="#f6f2f0" />
<polygon points="786.6,344.6 819.2,347.4 858.4,345.2 829.4,342.6" fill="#bcb6b4" opacity="0.95"/>
<path d="M769.5,383.2 L814,387.8 Q813.1,365.9 821,347.6 L784.8,344.4 Q778.2,361.6 769.5,383.2 Z" fill="url(#kc4_2)" />
<path d="M814,387.8 Q813.1,365.9 821,347.6 L825,348.6 Z" fill="url(#kc4_2v)" />
<polygon points="859.8,392.6 905.9,389 917.5,348.8 867.3,351.7" fill="#cfc9c7" />
<polygon points="830,348.4 867.3,351.7 917.5,348.8 880.2,345.5" fill="#f6f2f0" />
<polygon points="831.9,348.6 865.5,351.6 904.5,349.1 874.7,346.5" fill="#cfc9c7" opacity="0.95"/>
<path d="M814,387.8 L859.8,392.6 Q859,370.3 867.3,351.7 L830,348.4 Q823.1,365.9 814,387.8 Z" fill="url(#kc4_3)" />
<path d="M859.8,392.6 Q859,370.3 867.3,351.7 L871.4,352.7 Z" fill="url(#kc4_3v)" />
<polygon points="907,397.5 953,393.7 965.1,352.8 915,356" fill="#cfc9c7" />
<polygon points="876.6,352.5 915,356 965.1,352.8 926.7,349.4" fill="#f6f2f0" />
<polygon points="878.5,352.7 913.1,355.8 952,353.2 921.3,350.4" fill="#cfc9c7" opacity="0.95"/>
<path d="M859.8,392.6 L907,397.5 Q906.2,374.9 915,356 L876.6,352.5 Q869.2,370.3 859.8,392.6 Z" fill="url(#kc4_4)" />
<path d="M907,397.5 Q906.2,374.9 915,356 L919.3,357 Z" fill="url(#kc4_4v)" />
<polygon points="955.5,402.5 1001.4,398.5 1014.1,357 964.2,360.4" fill="#b3aeac" />
<polygon points="924.6,356.8 964.2,360.4 1014.1,357 974.6,353.4" fill="#c2bdbb" />
<polygon points="926.6,357 962.2,360.2 1000.9,357.4 969.3,354.5" fill="#9f9a98" opacity="0.95"/>
<path d="M907,397.5 L955.5,402.5 Q954.9,379.5 964.2,360.4 L924.6,356.8 Q916.8,374.9 907,397.5 Z" fill="url(#kc4_5)" />
<path d="M955.5,402.5 Q954.9,379.5 964.2,360.4 L968.5,361.4 Z" fill="url(#kc4_5v)" />
<polygon points="1005.5,407.7 1051.2,403.5 1064.5,361.3 1014.7,364.9" fill="#b3aeac" />
<polygon points="974,361.2 1014.7,364.9 1064.5,361.3 1023.8,357.6" fill="#c2bdbb" />
<polygon points="976,361.3 1012.7,364.7 1051.3,361.7 1018.7,358.7" fill="#9f9a98" opacity="0.95"/>
<path d="M955.5,402.5 L1005.5,407.7 Q1005,384.3 1014.7,364.9 L974,361.2 Q965.7,379.5 955.5,402.5 Z" fill="url(#kc4_6)" />
<path d="M1005.5,407.7 Q1005,384.3 1014.7,364.9 L1019.2,365.9 Z" fill="url(#kc4_6v)" />
<polygon points="1057,413 1102.6,408.6 1116.5,365.7 1066.8,369.5" fill="#b3aeac" />
<polygon points="1024.9,365.7 1066.8,369.5 1116.5,365.7 1074.6,361.9" fill="#c2bdbb" />
<polygon points="1027,365.8 1064.7,369.3 1103.2,366.2 1069.6,363.1" fill="#9f9a98" opacity="0.95"/>
<path d="M1005.5,407.7 L1057,413 Q1056.5,389.3 1066.8,369.5 L1024.9,365.7 Q1016.1,384.3 1005.5,407.7 Z" fill="url(#kc4_7)" />
<path d="M1057,413 Q1056.5,389.3 1066.8,369.5 L1071.4,370.5 Z" fill="url(#kc4_7v)" />
<polygon points="1110,418.5 1155.4,413.9 1170,370.2 1120.4,374.3" fill="#b3aeac" />
<polygon points="1077.2,370.3 1120.4,374.3 1170,370.2 1126.8,366.3" fill="#c2bdbb" />
<polygon points="1079.4,370.5 1118.3,374.1 1156.6,370.7 1122.1,367.6" fill="#9f9a98" opacity="0.95"/>
<path d="M1057,413 L1110,418.5 Q1109.6,394.4 1120.4,374.3 L1077.2,370.3 Q1068,389.3 1057,413 Z" fill="url(#kc4_8)" />
<path d="M1110,418.5 Q1109.6,394.4 1120.4,374.3 L1125.2,375.3 Z" fill="url(#kc4_8v)" />
<polygon points="1164.5,424.1 1209.9,419.3 1225,374.9 1175.6,379.2" fill="#cfc9c7" />
<polygon points="1131.2,375.1 1175.6,379.2 1225,374.9 1180.6,370.8" fill="#f6f2f0" />
<polygon points="1133.4,375.3 1173.4,379 1211.6,375.4 1176,372.2" fill="#cfc9c7" opacity="0.95"/>
<path d="M1110,418.5 L1164.5,424.1 Q1164.3,399.6 1175.6,379.2 L1131.2,375.1 Q1121.5,394.4 1110,418.5 Z" fill="url(#kc4_9)" />
<path d="M1164.5,424.1 Q1164.3,399.6 1175.6,379.2 L1180.5,380.2 Z" fill="url(#kc4_9v)" />
<polygon points="1220.7,429.9 1265.9,424.9 1281.7,379.7 1232.5,384.2" fill="#cfc9c7" />
<polygon points="1186.7,380 1232.5,384.2 1281.7,379.7 1235.9,375.5" fill="#f6f2f0" />
<polygon points="1189,380.2 1230.2,384 1268.2,380.3 1231.6,376.9" fill="#cfc9c7" opacity="0.95"/>
<path d="M1164.5,424.1 L1220.7,429.9 Q1220.6,405 1232.5,384.2 L1186.7,380 Q1176.5,399.6 1164.5,424.1 Z" fill="url(#kc4_10)" />
<path d="M1220.7,429.9 Q1220.6,405 1232.5,384.2 L1237.5,385.2 Z" fill="url(#kc4_10v)" />
<polygon points="1278.6,435.9 1323.6,430.6 1340.1,384.7 1291,389.5" fill="#cfc9c7" />
<polygon points="1243.9,385 1291,389.5 1340.1,384.7 1293,380.3" fill="#f6f2f0" />
<polygon points="1246.2,385.3 1288.7,389.2 1326.5,385.3 1288.8,381.8" fill="#bcb6b4" opacity="0.95"/>
<path d="M1220.7,429.9 L1278.6,435.9 Q1278.6,410.6 1291,389.5 L1243.9,385 Q1233.2,405 1220.7,429.9 Z" fill="url(#kc4_11)" />
<path d="M1278.6,435.9 Q1278.6,410.6 1291,389.5 L1296.2,390.5 Z" fill="url(#kc4_11v)" />
<polygon points="1338.1,442.1 1383,436.6 1400.2,389.8 1351.3,394.8" fill="#cfc9c7" />
<polygon points="1302.8,390.3 1351.3,394.8 1400.2,389.8 1351.7,385.2" fill="#f6f2f0" />
<polygon points="1305.2,390.5 1348.9,394.6 1386.5,390.4 1347.7,386.8" fill="#cfc9c7" opacity="0.95"/>
<path d="M1278.6,435.9 L1338.1,442.1 Q1338.3,416.3 1351.3,394.8 L1302.8,390.3 Q1291.5,410.6 1278.6,435.9 Z" fill="url(#kc4_12)" />
<path d="M1338.1,442.1 Q1338.3,416.3 1351.3,394.8 L1356.6,395.8 Z" fill="url(#kc4_12v)" />
<polygon points="1399.5,448.5 1444.2,442.7 1462.1,395.1 1413.3,400.4" fill="#b3aeac" />
<polygon points="1363.4,395.6 1413.3,400.4 1462.1,395.1 1412.1,390.3" fill="#c2bdbb" />
<polygon points="1365.9,395.9 1410.8,400.1 1448.3,395.7 1408.4,392" fill="#9f9a98" opacity="0.95"/>
<path d="M1338.1,442.1 L1399.5,448.5 Q1399.7,422.2 1413.3,400.4 L1363.4,395.6 Q1351.6,416.3 1338.1,442.1 Z" fill="url(#kc4_13)" />
<path d="M1399.5,448.5 Q1399.7,422.2 1413.3,400.4 L1418.9,401.4 Z" fill="url(#kc4_13v)" />
<polygon points="1462.6,455 1507.2,449 1525.8,400.5 1477.2,406" fill="#b3aeac" />
<polygon points="1425.8,401.2 1477.2,406 1525.8,400.5 1474.4,395.6" fill="#c2bdbb" />
<polygon points="1428.4,401.4 1474.7,405.8 1512,401.2 1470.8,397.3" fill="#9f9a98" opacity="0.95"/>
<path d="M1399.5,448.5 L1462.6,455 Q1463,428.3 1477.2,406 L1425.8,401.2 Q1413.4,422.2 1399.5,448.5 Z" fill="url(#kc4_14)" />
<path d="M1462.6,455 Q1463,428.3 1477.2,406 L1482.9,407 Z" fill="url(#kc4_14v)" />
<polygon points="691.7,384.2 738.1,381.1 734.5,342.9 696.3,344.4" fill="#b3aeac" />
<polygon points="648.3,339.6 696.3,344.4 734.5,342.9 686.5,338.1" fill="#c2bdbb" />
<polygon points="650.7,339.9 693.9,344.2 723,342.8 684.6,339" fill="#9f9a98" opacity="0.95"/>
<path d="M632.8,377.8 L691.7,384.2 Q688.9,362.5 696.3,344.4 L648.3,339.6 Q642.7,356.6 632.8,377.8 Z" fill="url(#kc3_0)" />
<path d="M691.7,384.2 Q688.9,362.5 696.3,344.4 L701.6,345.4 Z" fill="url(#kc3_0v)" />
<polygon points="734.3,388.7 780.6,385.4 779.2,346.7 741.2,348.4" fill="#b3aeac" />
<polygon points="706.5,345.2 741.2,348.4 779.2,346.7 744.5,343.5" fill="#c2bdbb" />
<polygon points="708.2,345.4 739.4,348.2 768.8,346.8 741.1,344.2" fill="#9f9a98" opacity="0.95"/>
<path d="M691.7,384.2 L734.3,388.7 Q733.5,366.8 741.2,348.4 L706.5,345.2 Q700.1,362.5 691.7,384.2 Z" fill="url(#kc3_1)" />
<path d="M734.3,388.7 Q733.5,366.8 741.2,348.4 L745,349.4 Z" fill="url(#kc3_1v)" />
<polygon points="778.1,393.5 824.2,390 823.4,350.7 785.5,352.5" fill="#cfc9c7" />
<polygon points="749.8,349.2 785.5,352.5 823.4,350.7 787.8,347.3" fill="#f6f2f0" />
<polygon points="751.6,349.4 783.7,352.4 813,350.8 784.5,348.1" fill="#cfc9c7" opacity="0.95"/>
<path d="M734.3,388.7 L778.1,393.5 Q777.4,371.2 785.5,352.5 L749.8,349.2 Q743,366.8 734.3,388.7 Z" fill="url(#kc3_2)" />
<path d="M778.1,393.5 Q777.4,371.2 785.5,352.5 L789.4,353.5 Z" fill="url(#kc3_2v)" />
<polygon points="823.1,398.3 869.2,394.7 869,354.8 831.1,356.8" fill="#cfc9c7" />
<polygon points="794.4,353.3 831.1,356.8 869,354.8 832.2,351.3" fill="#f6f2f0" />
<polygon points="796.2,353.5 829.2,356.6 858.4,354.9 829.1,352.1" fill="#bcb6b4" opacity="0.95"/>
<path d="M778.1,393.5 L823.1,398.3 Q822.5,375.7 831.1,356.8 L794.4,353.3 Q787.1,371.2 778.1,393.5 Z" fill="url(#kc3_3)" />
<path d="M823.1,398.3 Q822.5,375.7 831.1,356.8 L835.1,357.8 Z" fill="url(#kc3_3v)" />
<polygon points="869.5,403.3 915.4,399.5 915.8,359 878,361.2" fill="#cfc9c7" />
<polygon points="840.2,357.6 878,361.2 915.8,359 878,355.4" fill="#f6f2f0" />
<polygon points="842.1,357.8 876.1,361 905.2,359.1 875,356.3" fill="#cfc9c7" opacity="0.95"/>
<path d="M823.1,398.3 L869.5,403.3 Q869,380.4 878,361.2 L840.2,357.6 Q832.6,375.7 823.1,398.3 Z" fill="url(#kc3_4)" />
<path d="M869.5,403.3 Q869,380.4 878,361.2 L882.2,362.2 Z" fill="url(#kc3_4v)" />
<polygon points="917.2,408.5 963,404.4 963.9,363.3 926.3,365.7" fill="#cfc9c7" />
<polygon points="887.4,362 926.3,365.7 963.9,363.3 925.1,359.6" fill="#f6f2f0" />
<polygon points="889.3,362.1 924.3,365.5 953.3,363.5 922.2,360.5" fill="#cfc9c7" opacity="0.95"/>
<path d="M869.5,403.3 L917.2,408.5 Q916.8,385.1 926.3,365.7 L887.4,362 Q879.3,380.4 869.5,403.3 Z" fill="url(#kc3_5)" />
<path d="M917.2,408.5 Q916.8,385.1 926.3,365.7 L930.5,366.7 Z" fill="url(#kc3_5v)" />
<polygon points="966.2,413.8 1011.9,409.5 1013.5,367.8 975.9,370.3" fill="#cfc9c7" />
<polygon points="935.9,366.5 975.9,370.3 1013.5,367.8 973.5,364" fill="#f6f2f0" />
<polygon points="937.9,366.6 973.9,370.1 1002.8,368 970.8,364.9" fill="#bcb6b4" opacity="0.95"/>
<path d="M917.2,408.5 L966.2,413.8 Q965.9,390.1 975.9,370.3 L935.9,366.5 Q927.4,385.1 917.2,408.5 Z" fill="url(#kc3_6)" />
<path d="M966.2,413.8 Q965.9,390.1 975.9,370.3 L980.3,371.3 Z" fill="url(#kc3_6v)" />
<polygon points="1016.7,419.2 1062.3,414.8 1064.5,372.4 1027,375" fill="#cfc9c7" />
<polygon points="985.9,371.1 1027,375 1064.5,372.4 1023.3,368.4" fill="#f6f2f0" />
<polygon points="987.9,371.3 1024.9,374.8 1053.7,372.6 1020.8,369.4" fill="#cfc9c7" opacity="0.95"/>
<path d="M966.2,413.8 L1016.7,419.2 Q1016.5,395.1 1027,375 L985.9,371.1 Q976.9,390.1 966.2,413.8 Z" fill="url(#kc3_7)" />
<path d="M1016.7,419.2 Q1016.5,395.1 1027,375 L1031.5,376 Z" fill="url(#kc3_7v)" />
<polygon points="1068.6,424.8 1114.1,420.2 1116.9,377.1 1079.5,379.9" fill="#cfc9c7" />
<polygon points="1037.2,375.8 1079.5,379.9 1116.9,377.1 1074.6,373" fill="#f6f2f0" />
<polygon points="1039.3,376 1077.4,379.7 1106.1,377.4 1072.2,374.1" fill="#cfc9c7" opacity="0.95"/>
<path d="M1016.7,419.2 L1068.6,424.8 Q1068.6,400.4 1079.5,379.9 L1037.2,375.8 Q1027.8,395.1 1016.7,419.2 Z" fill="url(#kc3_8)" />
<path d="M1068.6,424.8 Q1068.6,400.4 1079.5,379.9 L1084.2,380.9 Z" fill="url(#kc3_8v)" />
<polygon points="1122.1,430.6 1167.4,425.7 1170.9,382 1133.6,385" fill="#cfc9c7" />
<polygon points="1090.1,380.7 1133.6,385 1170.9,382 1127.4,377.7" fill="#f6f2f0" />
<polygon points="1092.3,381 1131.4,384.8 1160,382.2 1125.1,378.8" fill="#bcb6b4" opacity="0.95"/>
<path d="M1068.6,424.8 L1122.1,430.6 Q1122.1,405.7 1133.6,385 L1090.1,380.7 Q1080.2,400.4 1068.6,424.8 Z" fill="url(#kc3_9)" />
<path d="M1122.1,430.6 Q1122.1,405.7 1133.6,385 L1138.4,386 Z" fill="url(#kc3_9v)" />
<polygon points="1177,436.5 1222.2,431.4 1226.4,387 1189.2,390.2" fill="#cfc9c7" />
<polygon points="1144.5,385.8 1189.2,390.2 1226.4,387 1181.6,382.6" fill="#f6f2f0" />
<polygon points="1146.7,386 1187,389.9 1215.4,387.3 1179.6,383.8" fill="#cfc9c7" opacity="0.95"/>
<path d="M1122.1,430.6 L1177,436.5 Q1177.2,411.2 1189.2,390.2 L1144.5,385.8 Q1134,405.7 1122.1,430.6 Z" fill="url(#kc3_10)" />
<path d="M1177,436.5 Q1177.2,411.2 1189.2,390.2 L1194.2,391.2 Z" fill="url(#kc3_10v)" />
<polygon points="1233.6,442.6 1278.6,437.3 1283.5,392.1 1246.5,395.5" fill="#cfc9c7" />
<polygon points="1200.4,391 1246.5,395.5 1283.5,392.1 1237.4,387.6" fill="#f6f2f0" />
<polygon points="1202.7,391.2 1244.2,395.3 1272.4,392.4 1235.6,388.8" fill="#cfc9c7" opacity="0.95"/>
<path d="M1177,436.5 L1233.6,442.6 Q1233.9,416.9 1246.5,395.5 L1200.4,391 Q1189.5,411.2 1177,436.5 Z" fill="url(#kc3_11)" />
<path d="M1233.6,442.6 Q1233.9,416.9 1246.5,395.5 L1251.6,396.5 Z" fill="url(#kc3_11v)" />
<polygon points="1291.8,448.9 1336.7,443.3 1342.3,397.4 1305.4,401" fill="#cfc9c7" />
<polygon points="1257.9,396.3 1305.4,401 1342.3,397.4 1294.9,392.7" fill="#f6f2f0" />
<polygon points="1260.3,396.5 1303,400.7 1331.1,397.8 1293.2,394" fill="#bcb6b4" opacity="0.95"/>
<path d="M1233.6,442.6 L1291.8,448.9 Q1292.2,422.8 1305.4,401 L1257.9,396.3 Q1246.5,416.9 1233.6,442.6 Z" fill="url(#kc3_12)" />
<path d="M1291.8,448.9 Q1292.2,422.8 1305.4,401 L1310.6,402 Z" fill="url(#kc3_12v)" />
<polygon points="1351.6,455.4 1396.4,449.6 1402.7,402.9 1365.9,406.6" fill="#b3aeac" />
<polygon points="1317.2,401.8 1365.9,406.6 1402.7,402.9 1354,398" fill="#c2bdbb" />
<polygon points="1319.6,402 1363.5,406.4 1391.5,403.2 1352.5,399.4" fill="#9f9a98" opacity="0.95"/>
<path d="M1291.8,448.9 L1351.6,455.4 Q1352.1,428.8 1365.9,406.6 L1317.2,401.8 Q1305.1,422.8 1291.8,448.9 Z" fill="url(#kc3_13)" />
<path d="M1351.6,455.4 Q1352.1,428.8 1365.9,406.6 L1371.3,407.6 Z" fill="url(#kc3_13v)" />
<polygon points="1413.2,462 1457.8,456 1464.9,408.5 1428.3,412.4" fill="#b3aeac" />
<polygon points="1378.1,407.4 1428.3,412.4 1464.9,408.5 1414.8,403.5" fill="#c2bdbb" />
<polygon points="1380.6,407.7 1425.7,412.2 1453.6,408.9 1413.4,404.9" fill="#9f9a98" opacity="0.95"/>
<path d="M1351.6,455.4 L1413.2,462 Q1413.8,435 1428.3,412.4 L1378.1,407.4 Q1365.5,428.8 1351.6,455.4 Z" fill="url(#kc3_14)" />
<path d="M1413.2,462 Q1413.8,435 1428.3,412.4 L1433.8,413.4 Z" fill="url(#kc3_14v)" />
<polygon points="635.4,387.3 681.9,384.2 678.8,345.6 640.6,347.1" fill="#b3aeac" />
<polygon points="596.4,342.6 640.6,347.1 678.8,345.6 634.6,341" fill="#c2bdbb" />
<polygon points="598.6,342.8 638.4,346.9 667.6,345.5 632.2,341.9" fill="#9f9a98" opacity="0.95"/>
<path d="M581.2,381.2 L635.4,387.3 Q633.2,365.4 640.6,347.1 L596.4,342.6 Q590.6,359.7 581.2,381.2 Z" fill="url(#kc2_0)" />
<path d="M635.4,387.3 Q633.2,365.4 640.6,347.1 L645.5,348.1 Z" fill="url(#kc2_0v)" />
<polygon points="678.3,392.1 724.6,388.8 723.3,349.6 685.2,351.3" fill="#cfc9c7" />
<polygon points="650.3,347.9 685.2,351.3 723.3,349.6 688.4,346.2" fill="#f6f2f0" />
<polygon points="652,348.1 683.5,351.2 712.9,349.7 684.9,346.9" fill="#bcb6b4" opacity="0.95"/>
<path d="M635.4,387.3 L678.3,392.1 Q677.5,369.9 685.2,351.3 L650.3,347.9 Q643.8,365.4 635.4,387.3 Z" fill="url(#kc2_1)" />
<path d="M678.3,392.1 Q677.5,369.9 685.2,351.3 L689.1,352.3 Z" fill="url(#kc2_1v)" />
<polygon points="722.5,397.1 768.7,393.6 767.9,353.8 729.9,355.7" fill="#cfc9c7" />
<polygon points="694,352.1 729.9,355.7 767.9,353.8 731.9,350.3" fill="#f6f2f0" />
<polygon points="695.8,352.3 728.1,355.5 757.4,353.9 728.7,351.1" fill="#cfc9c7" opacity="0.95"/>
<path d="M678.3,392.1 L722.5,397.1 Q721.8,374.5 729.9,355.7 L694,352.1 Q687.1,369.9 678.3,392.1 Z" fill="url(#kc2_2)" />
<path d="M722.5,397.1 Q721.8,374.5 729.9,355.7 L733.9,356.7 Z" fill="url(#kc2_2v)" />
<polygon points="767.9,402.1 814,398.5 813.8,358.1 775.9,360.1" fill="#cfc9c7" />
<polygon points="738.9,356.5 775.9,360.1 813.8,358.1 776.8,354.5" fill="#f6f2f0" />
<polygon points="740.7,356.7 774.1,360 803.3,358.3 773.7,355.3" fill="#cfc9c7" opacity="0.95"/>
<path d="M722.5,397.1 L767.9,402.1 Q767.3,379.3 775.9,360.1 L738.9,356.5 Q731.6,374.5 722.5,397.1 Z" fill="url(#kc2_3)" />
<path d="M767.9,402.1 Q767.3,379.3 775.9,360.1 L780,361.1 Z" fill="url(#kc2_3v)" />
<polygon points="814.7,407.4 860.6,403.6 861,362.6 823.2,364.7" fill="#cfc9c7" />
<polygon points="785.1,360.9 823.2,364.7 861,362.6 822.9,358.8" fill="#f6f2f0" />
<polygon points="787,361.1 821.3,364.6 850.4,362.7 820,359.7" fill="#bcb6b4" opacity="0.95"/>
<path d="M767.9,402.1 L814.7,407.4 Q814.2,384.2 823.2,364.7 L785.1,360.9 Q777.4,379.3 767.9,402.1 Z" fill="url(#kc2_4)" />
<path d="M814.7,407.4 Q814.2,384.2 823.2,364.7 L827.5,365.7 Z" fill="url(#kc2_4v)" />
<polygon points="862.8,412.8 908.6,408.8 909.6,367.2 871.9,369.5" fill="#cfc9c7" />
<polygon points="832.7,365.5 871.9,369.5 909.6,367.2 870.4,363.2" fill="#f6f2f0" />
<polygon points="834.7,365.7 870,369.3 899,367.3 867.6,364.2" fill="#cfc9c7" opacity="0.95"/>
<path d="M814.7,407.4 L862.8,412.8 Q862.4,389.2 871.9,369.5 L832.7,365.5 Q824.6,384.2 814.7,407.4 Z" fill="url(#kc2_5)" />
<path d="M862.8,412.8 Q862.4,389.2 871.9,369.5 L876.3,370.5 Z" fill="url(#kc2_5v)" />
<polygon points="912.3,418.3 958,414.1 959.6,371.9 922.1,374.4" fill="#cfc9c7" />
<polygon points="881.7,370.3 922.1,374.4 959.6,371.9 919.3,367.8" fill="#f6f2f0" />
<polygon points="883.7,370.5 920,374.2 948.9,372.1 916.6,368.8" fill="#cfc9c7" opacity="0.95"/>
<path d="M862.8,412.8 L912.3,418.3 Q912,394.4 922.1,374.4 L881.7,370.3 Q873.1,389.2 862.8,412.8 Z" fill="url(#kc2_6)" />
<path d="M912.3,418.3 Q912,394.4 922.1,374.4 L926.5,375.4 Z" fill="url(#kc2_6v)" />
<polygon points="963.2,424.1 1008.8,419.6 1011.1,376.7 973.6,379.4" fill="#cfc9c7" />
<polygon points="932.1,375.2 973.6,379.4 1011.1,376.7 969.6,372.5" fill="#f6f2f0" />
<polygon points="934.2,375.4 971.5,379.2 1000.3,376.9 967.1,373.6" fill="#bcb6b4" opacity="0.95"/>
<path d="M912.3,418.3 L963.2,424.1 Q963,399.7 973.6,379.4 L932.1,375.2 Q923,394.4 912.3,418.3 Z" fill="url(#kc2_7)" />
<path d="M963.2,424.1 Q963,399.7 973.6,379.4 L978.2,380.4 Z" fill="url(#kc2_7v)" />
<polygon points="1015.7,429.9 1061.1,425.3 1064.1,381.7 1026.7,384.5" fill="#cfc9c7" />
<polygon points="984,380.2 1026.7,384.5 1064.1,381.7 1021.3,377.4" fill="#f6f2f0" />
<polygon points="986.1,380.4 1024.5,384.3 1053.2,381.9 1019,378.5" fill="#cfc9c7" opacity="0.95"/>
<path d="M963.2,424.1 L1015.7,429.9 Q1015.6,405.2 1026.7,384.5 L984,380.2 Q974.4,399.7 963.2,424.1 Z" fill="url(#kc2_8)" />
<path d="M1015.7,429.9 Q1015.6,405.2 1026.7,384.5 L1031.4,385.5 Z" fill="url(#kc2_8v)" />
<polygon points="1069.6,436 1115,431.1 1118.6,386.9 1081.3,389.9" fill="#cfc9c7" />
<polygon points="1037.3,385.3 1081.3,389.9 1118.6,386.9 1074.6,382.3" fill="#f6f2f0" />
<polygon points="1039.5,385.6 1079.1,389.6 1107.6,387.1 1072.4,383.5" fill="#cfc9c7" opacity="0.95"/>
<path d="M1015.7,429.9 L1069.6,436 Q1069.7,410.8 1081.3,389.9 L1037.3,385.3 Q1027.3,405.2 1015.7,429.9 Z" fill="url(#kc2_9)" />
<path d="M1069.6,436 Q1069.7,410.8 1081.3,389.9 L1086.1,390.9 Z" fill="url(#kc2_9v)" />
<polygon points="1125.1,442.2 1170.3,437.1 1174.6,392.1 1137.5,395.3" fill="#cfc9c7" />
<polygon points="1092.2,390.7 1137.5,395.3 1174.6,392.1 1129.4,387.5" fill="#f6f2f0" />
<polygon points="1094.5,390.9 1135.2,395.1 1163.6,392.4 1127.4,388.7" fill="#bcb6b4" opacity="0.95"/>
<path d="M1069.6,436 L1125.1,442.2 Q1125.3,416.6 1137.5,395.3 L1092.2,390.7 Q1081.7,410.8 1069.6,436 Z" fill="url(#kc2_10)" />
<path d="M1125.1,442.2 Q1125.3,416.6 1137.5,395.3 L1142.5,396.3 Z" fill="url(#kc2_10v)" />
<polygon points="1182.3,448.6 1227.3,443.3 1232.4,397.6 1195.3,400.9" fill="#cfc9c7" />
<polygon points="1148.7,396.1 1195.3,400.9 1232.4,397.6 1185.8,392.8" fill="#f6f2f0" />
<polygon points="1151.1,396.4 1193,400.7 1221.2,397.9 1184,394" fill="#cfc9c7" opacity="0.95"/>
<path d="M1125.1,442.2 L1182.3,448.6 Q1182.5,422.6 1195.3,400.9 L1148.7,396.1 Q1137.7,416.6 1125.1,442.2 Z" fill="url(#kc2_11)" />
<path d="M1182.3,448.6 Q1182.5,422.6 1195.3,400.9 L1200.4,401.9 Z" fill="url(#kc2_11v)" />
<polygon points="1241,455.2 1286,449.7 1291.7,403.2 1254.8,406.7" fill="#cfc9c7" />
<polygon points="1206.9,401.7 1254.8,406.7 1291.7,403.2 1243.8,398.2" fill="#f6f2f0" />
<polygon points="1209.3,402 1252.4,406.5 1280.5,403.5 1242.2,399.5" fill="#cfc9c7" opacity="0.95"/>
<path d="M1182.3,448.6 L1241,455.2 Q1241.5,428.8 1254.8,406.7 L1206.9,401.7 Q1195.3,422.6 1182.3,448.6 Z" fill="url(#kc2_12)" />
<path d="M1241,455.2 Q1241.5,428.8 1254.8,406.7 L1260.1,407.7 Z" fill="url(#kc2_12v)" />
<polygon points="1301.5,462 1346.3,456.2 1352.8,408.9 1316,412.7" fill="#cfc9c7" />
<polygon points="1266.7,407.5 1316,412.7 1352.8,408.9 1303.5,403.8" fill="#f6f2f0" />
<polygon points="1269.2,407.8 1313.6,412.4 1341.5,409.3 1302.1,405.1" fill="#bcb6b4" opacity="0.95"/>
<path d="M1241,455.2 L1301.5,462 Q1302.1,435.1 1316,412.7 L1266.7,407.5 Q1254.6,428.8 1241,455.2 Z" fill="url(#kc2_13)" />
<path d="M1301.5,462 Q1302.1,435.1 1316,412.7 L1321.5,413.7 Z" fill="url(#kc2_13v)" />
<polygon points="1363.8,469 1408.4,463 1415.7,414.9 1379,418.8" fill="#cfc9c7" />
<polygon points="1328.3,413.5 1379,418.8 1415.7,414.9 1365,409.5" fill="#f6f2f0" />
<polygon points="1330.8,413.8 1376.5,418.6 1404.3,415.2 1363.7,411" fill="#cfc9c7" opacity="0.95"/>
<path d="M1301.5,462 L1363.8,469 Q1364.5,441.6 1379,418.8 L1328.3,413.5 Q1315.6,435.1 1301.5,462 Z" fill="url(#kc2_14)" />
<path d="M1363.8,469 Q1364.5,441.6 1379,418.8 L1384.6,419.8 Z" fill="url(#kc2_14v)" />
<polygon points="593.1,392 639.5,388.9 635.8,349.7 597.6,351.2" fill="#b3aeac" />
<polygon points="545.8,345.5 597.6,351.2 635.8,349.7 584,344" fill="#c2bdbb" />
<polygon points="548.4,345.8 595,350.9 624,349.5 582.6,345" fill="#9f9a98" opacity="0.95"/>
<path d="M529.6,384.6 L593.1,392 Q589.9,369.8 597.6,351.2 L545.8,345.5 Q540,362.9 529.6,384.6 Z" fill="url(#kc1_0)" />
<path d="M593.1,392 Q589.9,369.8 597.6,351.2 L603.3,352.2 Z" fill="url(#kc1_0v)" />
<polygon points="635.7,397 682,393.6 681,353.8 642.9,355.6" fill="#b3aeac" />
<polygon points="608.2,352 642.9,355.6 681,353.8 646.2,350.3" fill="#c2bdbb" />
<polygon points="609.9,352.2 641.2,355.4 670.6,353.9 642.8,351" fill="#9f9a98" opacity="0.95"/>
<path d="M593.1,392 L635.7,397 Q635,374.4 642.9,355.6 L608.2,352 Q601.6,369.8 593.1,392 Z" fill="url(#kc1_1)" />
<path d="M635.7,397 Q635,374.4 642.9,355.6 L646.8,356.6 Z" fill="url(#kc1_1v)" />
<polygon points="679.5,402.1 725.7,398.6 725.3,358.2 687.3,360.1" fill="#cfc9c7" />
<polygon points="651.6,356.4 687.3,360.1 725.3,358.2 689.5,354.5" fill="#f6f2f0" />
<polygon points="653.4,356.6 685.5,359.9 714.8,358.3 686.2,355.3" fill="#bcb6b4" opacity="0.95"/>
<path d="M635.7,397 L679.5,402.1 Q679,379.2 687.3,360.1 L651.6,356.4 Q644.6,374.4 635.7,397 Z" fill="url(#kc1_2)" />
<path d="M679.5,402.1 Q679,379.2 687.3,360.1 L691.3,361.1 Z" fill="url(#kc1_2v)" />
<polygon points="724.6,407.3 770.7,403.6 770.8,362.7 733,364.7" fill="#cfc9c7" />
<polygon points="696.2,360.9 733,364.7 770.8,362.7 734.1,358.8" fill="#f6f2f0" />
<polygon points="698,361.1 731.1,364.5 760.3,362.8 730.9,359.7" fill="#cfc9c7" opacity="0.95"/>
<path d="M679.5,402.1 L724.6,407.3 Q724.2,384.1 733,364.7 L696.2,360.9 Q688.8,379.2 679.5,402.1 Z" fill="url(#kc1_3)" />
<path d="M724.6,407.3 Q724.2,384.1 733,364.7 L737,365.7 Z" fill="url(#kc1_3v)" />
<polygon points="771,412.7 817,408.9 817.7,367.3 779.9,369.5" fill="#cfc9c7" />
<polygon points="742.1,365.5 779.9,369.5 817.7,367.3 779.9,363.3" fill="#f6f2f0" />
<polygon points="744,365.7 778,369.3 807.1,367.4 776.9,364.2" fill="#cfc9c7" opacity="0.95"/>
<path d="M724.6,407.3 L771,412.7 Q770.7,389.1 779.9,369.5 L742.1,365.5 Q734.2,384.1 724.6,407.3 Z" fill="url(#kc1_4)" />
<path d="M771,412.7 Q770.7,389.1 779.9,369.5 L784.1,370.5 Z" fill="url(#kc1_4v)" />
<polygon points="818.7,418.3 864.6,414.2 865.9,372 828.2,374.3" fill="#cfc9c7" />
<polygon points="789.3,370.3 828.2,374.3 865.9,372 827,367.9" fill="#f6f2f0" />
<polygon points="791.3,370.5 826.3,374.1 855.2,372.2 824.1,368.9" fill="#bcb6b4" opacity="0.95"/>
<path d="M771,412.7 L818.7,418.3 Q818.5,394.3 828.2,374.3 L789.3,370.3 Q781,389.1 771,412.7 Z" fill="url(#kc1_5)" />
<path d="M818.7,418.3 Q818.5,394.3 828.2,374.3 L832.5,375.3 Z" fill="url(#kc1_5v)" />
<polygon points="867.8,424 913.5,419.7 915.5,376.9 877.9,379.4" fill="#cfc9c7" />
<polygon points="837.9,375.1 877.9,379.4 915.5,376.9 875.5,372.7" fill="#f6f2f0" />
<polygon points="839.9,375.4 875.9,379.2 904.7,377 872.7,373.7" fill="#cfc9c7" opacity="0.95"/>
<path d="M818.7,418.3 L867.8,424 Q867.6,399.7 877.9,379.4 L837.9,375.1 Q829.1,394.3 818.7,418.3 Z" fill="url(#kc1_6)" />
<path d="M867.8,424 Q867.6,399.7 877.9,379.4 L882.3,380.4 Z" fill="url(#kc1_6v)" />
<polygon points="918.3,429.9 963.9,425.4 966.5,381.9 929,384.6" fill="#cfc9c7" />
<polygon points="887.8,380.2 929,384.6 966.5,381.9 925.3,377.5" fill="#f6f2f0" />
<polygon points="889.9,380.4 926.9,384.3 955.7,382.1 922.8,378.6" fill="#cfc9c7" opacity="0.95"/>
<path d="M867.8,424 L918.3,429.9 Q918.2,405.2 929,384.6 L887.8,380.2 Q878.6,399.7 867.8,424 Z" fill="url(#kc1_7)" />
<path d="M918.3,429.9 Q918.2,405.2 929,384.6 L933.5,385.6 Z" fill="url(#kc1_7v)" />
<polygon points="970.2,435.9 1015.6,431.2 1018.9,387.1 981.5,389.9" fill="#cfc9c7" />
<polygon points="939.2,385.4 981.5,389.9 1018.9,387.1 976.6,382.5" fill="#f6f2f0" />
<polygon points="941.3,385.6 979.4,389.7 1008,387.3 974.2,383.6" fill="#bcb6b4" opacity="0.95"/>
<path d="M918.3,429.9 L970.2,435.9 Q970.3,410.8 981.5,389.9 L939.2,385.4 Q929.5,405.2 918.3,429.9 Z" fill="url(#kc1_8)" />
<path d="M970.2,435.9 Q970.3,410.8 981.5,389.9 L986.2,390.9 Z" fill="url(#kc1_8v)" />
<polygon points="1023.6,442.1 1068.9,437.3 1072.9,392.4 1035.6,395.4" fill="#cfc9c7" />
<polygon points="992.1,390.7 1035.6,395.4 1072.9,392.4 1029.3,387.7" fill="#f6f2f0" />
<polygon points="994.2,390.9 1033.4,395.1 1061.9,392.6 1027.1,388.8" fill="#cfc9c7" opacity="0.95"/>
<path d="M970.2,435.9 L1023.6,442.1 Q1023.8,416.6 1035.6,395.4 L992.1,390.7 Q981.8,410.8 970.2,435.9 Z" fill="url(#kc1_9)" />
<path d="M1023.6,442.1 Q1023.8,416.6 1035.6,395.4 L1040.4,396.4 Z" fill="url(#kc1_9v)" />
<polygon points="1078.5,448.5 1123.7,443.4 1128.4,397.8 1091.2,401" fill="#cfc9c7" />
<polygon points="1046.4,396.2 1091.2,401 1128.4,397.8 1083.6,393" fill="#f6f2f0" />
<polygon points="1048.7,396.4 1089,400.8 1117.3,398.1 1081.5,394.2" fill="#cfc9c7" opacity="0.95"/>
<path d="M1023.6,442.1 L1078.5,448.5 Q1078.8,422.6 1091.2,401 L1046.4,396.2 Q1035.7,416.6 1023.6,442.1 Z" fill="url(#kc1_10)" />
<path d="M1078.5,448.5 Q1078.8,422.6 1091.2,401 L1096.1,402 Z" fill="url(#kc1_10v)" />
<polygon points="1135,455.1 1180.1,449.8 1185.4,403.4 1148.4,406.8" fill="#cfc9c7" />
<polygon points="1102.3,401.8 1148.4,406.8 1185.4,403.4 1139.4,398.4" fill="#f6f2f0" />
<polygon points="1104.6,402.1 1146.1,406.6 1174.3,403.7 1137.5,399.7" fill="#bcb6b4" opacity="0.95"/>
<path d="M1078.5,448.5 L1135,455.1 Q1135.5,428.8 1148.4,406.8 L1102.3,401.8 Q1091.1,422.6 1078.5,448.5 Z" fill="url(#kc1_11)" />
<path d="M1135,455.1 Q1135.5,428.8 1148.4,406.8 L1153.5,407.8 Z" fill="url(#kc1_11v)" />
<polygon points="1193.1,461.9 1238,456.3 1244.2,409.2 1207.2,412.8" fill="#cfc9c7" />
<polygon points="1159.9,407.6 1207.2,412.8 1244.2,409.2 1196.8,404" fill="#f6f2f0" />
<polygon points="1162.2,407.9 1204.9,412.5 1233,409.5 1195.1,405.4" fill="#cfc9c7" opacity="0.95"/>
<path d="M1135,455.1 L1193.1,461.9 Q1193.7,435.1 1207.2,412.8 L1159.9,407.6 Q1148.1,428.8 1135,455.1 Z" fill="url(#kc1_12)" />
<path d="M1193.1,461.9 Q1193.7,435.1 1207.2,412.8 L1212.5,413.8 Z" fill="url(#kc1_12v)" />
<polygon points="1252.9,468.8 1297.7,463 1304.5,415.1 1267.7,418.9" fill="#b3aeac" />
<polygon points="1219,413.6 1267.7,418.9 1304.5,415.1 1255.8,409.8" fill="#c2bdbb" />
<polygon points="1221.5,413.8 1265.3,418.6 1293.3,415.5 1254.3,411.2" fill="#9f9a98" opacity="0.95"/>
<path d="M1193.1,461.9 L1252.9,468.8 Q1253.6,441.6 1267.7,418.9 L1219,413.6 Q1206.7,435.1 1193.1,461.9 Z" fill="url(#kc1_13)" />
<path d="M1252.9,468.8 Q1253.6,441.6 1267.7,418.9 L1273.1,419.9 Z" fill="url(#kc1_13v)" />
<polygon points="1314.4,476 1359,470 1366.7,421.2 1330,425.2" fill="#b3aeac" />
<polygon points="1279.9,419.7 1330,425.2 1366.7,421.2 1316.6,415.7" fill="#c2bdbb" />
<polygon points="1282.4,420 1327.5,424.9 1355.3,421.6 1315.2,417.2" fill="#9f9a98" opacity="0.95"/>
<path d="M1252.9,468.8 L1314.4,476 Q1315.2,448.3 1330,425.2 L1279.9,419.7 Q1267,441.6 1252.9,468.8 Z" fill="url(#kc1_14)" />
<path d="M1314.4,476 Q1315.2,448.3 1330,425.2 L1335.5,426.2 Z" fill="url(#kc1_14v)" />
<polygon points="515,392.5 561.4,389.4 560,350 521.9,351.5" fill="#b3aeac" />
<polygon points="491.7,348.4 521.9,351.5 560,350 529.9,346.9" fill="#c2bdbb" />
<polygon points="493.2,348.6 520.4,351.4 550,350.1 525.9,347.6" fill="#9f9a98" opacity="0.95"/>
<path d="M478,388 L515,392.5 Q514.6,370.2 521.9,351.5 L491.7,348.4 Q485.6,366 478,388 Z" fill="url(#kc0_0)" />
<path d="M515,392.5 Q514.6,370.2 521.9,351.5 L525.2,352.5 Z" fill="url(#kc0_0v)" />
<polygon points="597,402.4 643.3,399.2 638.7,358.7 600.6,360.3" fill="#b3aeac" />
<polygon points="533.8,352.3 600.6,360.3 638.7,358.7 571.9,350.7" fill="#c2bdbb" />
<polygon points="537.1,352.7 597.3,359.9 625.8,358.4 572.3,352" fill="#9f9a98" opacity="0.95"/>
<path d="M515,392.5 L597,402.4 Q592.1,379.4 600.6,360.3 L533.8,352.3 Q527.7,370.2 515,392.5 Z" fill="url(#kc0_1)" />
<path d="M597,402.4 Q592.1,379.4 600.6,360.3 L608,361.3 Z" fill="url(#kc0_1v)" />
<polygon points="639,407.4 685.1,403.9 685.2,362.9 647.3,364.8" fill="#cfc9c7" />
<polygon points="613,361.1 647.3,364.8 685.2,362.9 651,359.2" fill="#f6f2f0" />
<polygon points="614.7,361.3 645.5,364.6 674.9,363 647.5,360" fill="#cfc9c7" opacity="0.95"/>
<path d="M597,402.4 L639,407.4 Q638.7,384.2 647.3,364.8 L613,361.1 Q605.8,379.4 597,402.4 Z" fill="url(#kc0_2)" />
<path d="M639,407.4 Q638.7,384.2 647.3,364.8 L651,365.8 Z" fill="url(#kc0_2v)" />
<polygon points="683,412.7 729,409 729.6,367.4 691.7,369.5" fill="#cfc9c7" />
<polygon points="655.9,365.6 691.7,369.5 729.6,367.4 693.7,363.5" fill="#f6f2f0" />
<polygon points="657.6,365.8 689.9,369.3 719.1,367.5 690.4,364.4" fill="#bcb6b4" opacity="0.95"/>
<path d="M639,407.4 L683,412.7 Q682.8,389.2 691.7,369.5 L655.9,365.6 Q648.2,384.2 639,407.4 Z" fill="url(#kc0_3)" />
<path d="M683,412.7 Q682.8,389.2 691.7,369.5 L695.7,370.5 Z" fill="url(#kc0_3v)" />
<polygon points="727,418.1 772.9,414.2 774.2,372 736.4,374.2" fill="#cfc9c7" />
<polygon points="700.5,370.3 736.4,374.2 774.2,372 738.3,368.1" fill="#f6f2f0" />
<polygon points="702.3,370.5 734.6,374 763.7,372.1 735,369" fill="#cfc9c7" opacity="0.95"/>
<path d="M683,412.7 L727,418.1 Q727,394.1 736.4,374.2 L700.5,370.3 Q692.4,389.2 683,412.7 Z" fill="url(#kc0_4)" />
<path d="M727,418.1 Q727,394.1 736.4,374.2 L740.4,375.2 Z" fill="url(#kc0_4v)" />
<polygon points="774,423.7 819.8,419.6 821.5,376.8 783.8,379.2" fill="#cfc9c7" />
<polygon points="745.5,375 783.8,379.2 821.5,376.8 783.2,372.6" fill="#f6f2f0" />
<polygon points="747.4,375.2 781.9,379 810.9,377 780.2,373.6" fill="#cfc9c7" opacity="0.95"/>
<path d="M727,418.1 L774,423.7 Q773.9,399.5 783.8,379.2 L745.5,375 Q737,394.1 727,418.1 Z" fill="url(#kc0_5)" />
<path d="M774,423.7 Q773.9,399.5 783.8,379.2 L788,380.2 Z" fill="url(#kc0_5v)" />
<polygon points="821,429.4 866.7,425.1 869.1,381.7 831.5,384.2" fill="#cfc9c7" />
<polygon points="793.2,380 831.5,384.2 869.1,381.7 830.8,377.5" fill="#f6f2f0" />
<polygon points="795.1,380.2 829.6,384 858.5,381.9 827.9,378.5" fill="#bcb6b4" opacity="0.95"/>
<path d="M774,423.7 L821,429.4 Q821.2,404.8 831.5,384.2 L793.2,380 Q784.2,399.5 774,423.7 Z" fill="url(#kc0_6)" />
<path d="M821,429.4 Q821.2,404.8 831.5,384.2 L835.8,385.2 Z" fill="url(#kc0_6v)" />
<polygon points="872,435.6 917.6,431.1 920.4,387 882.9,389.7" fill="#b3aeac" />
<polygon points="841.3,385 882.9,389.7 920.4,387 878.8,382.3" fill="#c2bdbb" />
<polygon points="843.4,385.2 880.8,389.4 909.6,387.1 876.3,383.4" fill="#9f9a98" opacity="0.95"/>
<path d="M821,429.4 L872,435.6 Q872,410.5 882.9,389.7 L841.3,385 Q831.9,404.8 821,429.4 Z" fill="url(#kc0_7)" />
<path d="M872,435.6 Q872,410.5 882.9,389.7 L887.5,390.7 Z" fill="url(#kc0_7v)" />
<polygon points="923,441.7 968.4,437 972.1,392.2 934.7,395.1" fill="#b3aeac" />
<polygon points="893.1,390.5 934.7,395.1 972.1,392.2 930.5,387.6" fill="#c2bdbb" />
<polygon points="895.2,390.7 932.6,394.9 961.3,392.4 928,388.7" fill="#9f9a98" opacity="0.95"/>
<path d="M872,435.6 L923,441.7 Q923.3,416.3 934.7,395.1 L893.1,390.5 Q883.2,410.5 872,435.6 Z" fill="url(#kc0_8)" />
<path d="M923,441.7 Q923.3,416.3 934.7,395.1 L939.3,396.1 Z" fill="url(#kc0_8v)" />
<polygon points="976,448.1 1021.3,443.2 1025.6,397.7 988.3,400.8" fill="#b3aeac" />
<polygon points="945.1,395.9 988.3,400.8 1025.6,397.7 982.3,392.9" fill="#c2bdbb" />
<polygon points="947.2,396.1 986.1,400.5 1014.6,397.9 980.1,394.1" fill="#9f9a98" opacity="0.95"/>
<path d="M923,441.7 L976,448.1 Q976.3,422.3 988.3,400.8 L945.1,395.9 Q934.7,416.3 923,441.7 Z" fill="url(#kc0_9)" />
<path d="M976,448.1 Q976.3,422.3 988.3,400.8 L993.1,401.8 Z" fill="url(#kc0_9v)" />
<polygon points="1031,454.8 1076.2,449.6 1081.1,403.4 1043.9,406.6" fill="#cfc9c7" />
<polygon points="999.1,401.6 1043.9,406.6 1081.1,403.4 1036.2,398.4" fill="#f6f2f0" />
<polygon points="1001.3,401.8 1041.7,406.4 1070.1,403.7 1034.2,399.6" fill="#cfc9c7" opacity="0.95"/>
<path d="M976,448.1 L1031,454.8 Q1031.4,428.5 1043.9,406.6 L999.1,401.6 Q988.2,422.3 976,448.1 Z" fill="url(#kc0_10)" />
<path d="M1031,454.8 Q1031.4,428.5 1043.9,406.6 L1048.9,407.6 Z" fill="url(#kc0_10v)" />
<polygon points="1088,461.6 1133,456.3 1138.6,409.3 1101.6,412.7" fill="#cfc9c7" />
<polygon points="1055.1,407.4 1101.6,412.7 1138.6,409.3 1092.2,404" fill="#f6f2f0" />
<polygon points="1057.5,407.7 1099.3,412.4 1127.5,409.6 1090.3,405.3" fill="#cfc9c7" opacity="0.95"/>
<path d="M1031,454.8 L1088,461.6 Q1088.5,434.9 1101.6,412.7 L1055.1,407.4 Q1043.7,428.5 1031,454.8 Z" fill="url(#kc0_11)" />
<path d="M1088,461.6 Q1088.5,434.9 1101.6,412.7 L1106.7,413.7 Z" fill="url(#kc0_11v)" />
<polygon points="1147,468.8 1191.9,463.2 1198.2,415.4 1161.3,419" fill="#cfc9c7" />
<polygon points="1113.2,413.5 1161.3,419 1198.2,415.4 1150.1,409.9" fill="#f6f2f0" />
<polygon points="1115.6,413.8 1158.9,418.7 1187,415.7 1148.5,411.3" fill="#bcb6b4" opacity="0.95"/>
<path d="M1088,461.6 L1147,468.8 Q1147.6,441.6 1161.3,419 L1113.2,413.5 Q1101.2,434.9 1088,461.6 Z" fill="url(#kc0_12)" />
<path d="M1147,468.8 Q1147.6,441.6 1161.3,419 L1166.6,420 Z" fill="url(#kc0_12v)" />
<polygon points="1209,476.2 1253.8,470.4 1260.7,421.8 1223.9,425.6" fill="#cfc9c7" />
<polygon points="1173.4,419.8 1223.9,425.6 1260.7,421.8 1210.2,416" fill="#f6f2f0" />
<polygon points="1175.9,420.1 1221.4,425.3 1249.3,422.1 1208.9,417.5" fill="#cfc9c7" opacity="0.95"/>
<path d="M1147,468.8 L1209,476.2 Q1209.6,448.6 1223.9,425.6 L1173.4,419.8 Q1160.9,441.6 1147,468.8 Z" fill="url(#kc0_13)" />
<path d="M1209,476.2 Q1209.6,448.6 1223.9,425.6 L1229.5,426.6 Z" fill="url(#kc0_13v)" />
<polygon points="1265,483 1309.6,476.9 1318.1,427.6 1281.4,431.6" fill="#cfc9c7" />
<polygon points="1235.7,426.4 1281.4,431.6 1318.1,427.6 1272.4,422.4" fill="#f6f2f0" />
<polygon points="1238,426.7 1279.1,431.3 1307.1,428 1270.6,423.9" fill="#cfc9c7" opacity="0.95"/>
<path d="M1209,476.2 L1265,483 Q1266.5,454.9 1281.4,431.6 L1235.7,426.4 Q1222.6,448.6 1209,476.2 Z" fill="url(#kc0_14)" />
<path d="M1265,483 Q1266.5,454.9 1281.4,431.6 L1286.4,432.6 Z" fill="url(#kc0_14v)" />
<polygon points="1262,388 1489,405 1462,409 1340,430 1236,426" fill="url(#kcTopR)" />
<polyline points="1300,391 1262,420" fill="none" stroke="#e9e5e2" stroke-width="1.4" opacity="0.8"/>
<polyline points="1368,396 1322,428" fill="none" stroke="#e9e5e2" stroke-width="1.4" opacity="0.8"/>
<polyline points="1432,401 1392,421" fill="none" stroke="#e9e5e2" stroke-width="1.4" opacity="0.8"/>
<polyline points="1262,405 1470,416" fill="none" stroke="#e9e5e2" stroke-width="1.4" opacity="0.8"/>
<path d="M1462.6,455 L1512,448 Q1506.2,422.2 1489,405 L1457.6,410 Q1461.1,434.8 1462.6,455 Z" fill="url(#kcs4)" />
<path d="M1413.2,462 L1462.6,455 Q1459.5,428.8 1450.3,411.2 L1419,415 Q1417.6,440.9 1413.2,462 Z" fill="url(#kcs3)" />
<path d="M1363.8,469 L1413.2,462 Q1412.8,435.3 1411.7,417.5 L1380.3,420 Q1374.1,446.9 1363.8,469 Z" fill="url(#kcs2)" />
<path d="M1314.4,476 L1363.8,469 Q1366.1,441.9 1373,423.8 L1341.7,425 Q1330.6,453.1 1314.4,476 Z" fill="url(#kcs1)" />
<path d="M1265,483 L1314.4,476 Q1319.4,448.4 1334.4,430 L1303,430 Q1287.2,459.1 1265,483 Z" fill="url(#kcs0)" />
</g>
<!-- p_small -->
<polygon points="549,1384 612,1419 612,1427 549,1392" fill="#e2dcdb" />
<polygon points="664,1398 612,1419 612,1427 670,1406" fill="#f1eceb" />
<path d="M601,1363 L664,1398 L612,1419 L549,1384 Z" fill="url(#tpa)" stroke="#ddd6d5" stroke-width="1.5" stroke-linejoin="round"/>
<polygon points="657.7,1394.5 664,1398 612,1419 605.7,1415.5" fill="#efe9e8" />
<path d="M555.3,1387.5 L578.7,1378 Q593.7,1377.4 590,1384.3 L566.6,1393.8" fill="none" stroke="#ece6e5" stroke-width="4" stroke-linecap="round"/>
<path d="M590.6,1407.1 L614,1397.6 Q629,1397 625.3,1404 L601.9,1413.4" fill="none" stroke="#ece6e5" stroke-width="4" stroke-linecap="round"/>
<line x1="544.6" y1="1388.2" x2="564.8" y2="1399.4" stroke="#efeae9" stroke-width="13" stroke-linecap="round"/>
<line x1="553.7" y1="1385.9" x2="547.7" y2="1397.1" stroke="#cfc8c7" stroke-width="1.2"/>
<line x1="559.7" y1="1389.3" x2="553.7" y2="1400.5" stroke="#cfc8c7" stroke-width="1.2"/>
<line x1="587.5" y1="1412" x2="611.4" y2="1425.3" stroke="#efeae9" stroke-width="13" stroke-linecap="round"/>
<line x1="597.6" y1="1410.3" x2="591.6" y2="1421.5" stroke="#cfc8c7" stroke-width="1.2"/>
<line x1="604.8" y1="1414.3" x2="598.8" y2="1425.5" stroke="#cfc8c7" stroke-width="1.2"/>
<rect x="604.1" y="1387.2" width="3.2" height="1.5" fill="#a8a09f"/>
<rect x="612.7" y="1388.5" width="3.2" height="1.5" fill="#a8a09f"/>
<rect x="614.1" y="1395.2" width="3.2" height="1.5" fill="#a8a09f"/>
<rect x="600.3" y="1396.5" width="3.2" height="1.5" fill="#a8a09f"/>
<polygon points="1119.5,1662.5 1201,1701 1201,1710 1119.5,1671.5" fill="#e2dcdb" />
<polygon points="1259.5,1673.5 1201,1701 1201,1710 1265.5,1682.5" fill="#f1eceb" />
<path d="M1178,1635 L1259.5,1673.5 L1201,1701 L1119.5,1662.5 Z" fill="url(#tpb)" stroke="#ddd6d5" stroke-width="1.5" stroke-linejoin="round"/>
<polygon points="1251.3,1669.7 1259.5,1673.5 1201,1701 1192.8,1697.2" fill="#efe9e8" />
<path d="M1127.7,1666.3 L1154,1654 Q1171.8,1652.5 1168.6,1660.9 L1142.3,1673.3" fill="none" stroke="#ece6e5" stroke-width="4" stroke-linecap="round"/>
<path d="M1173.3,1687.9 L1199.6,1675.5 Q1217.5,1674 1214.3,1682.5 L1188,1694.8" fill="none" stroke="#ece6e5" stroke-width="4" stroke-linecap="round"/>
<line x1="1114.4" y1="1667.4" x2="1140.4" y2="1679.8" stroke="#efeae9" stroke-width="14" stroke-linecap="round"/>
<line x1="1125.2" y1="1664.8" x2="1119.2" y2="1677.4" stroke="#cfc8c7" stroke-width="1.2"/>
<line x1="1133" y1="1668.5" x2="1127" y2="1681.1" stroke="#cfc8c7" stroke-width="1.2"/>
<line x1="1169.8" y1="1693.6" x2="1200.8" y2="1708.2" stroke="#efeae9" stroke-width="14" stroke-linecap="round"/>
<line x1="1182.1" y1="1691.7" x2="1176.1" y2="1704.3" stroke="#cfc8c7" stroke-width="1.2"/>
<line x1="1191.4" y1="1696.1" x2="1185.4" y2="1708.7" stroke="#cfc8c7" stroke-width="1.2"/>
<rect x="1185.9" y="1663.5" width="3.2" height="1.5" fill="#a8a09f"/>
<rect x="1196.5" y="1664.7" width="3.2" height="1.5" fill="#a8a09f"/>
<rect x="1199.3" y="1672.6" width="3.2" height="1.5" fill="#a8a09f"/>
<rect x="1183" y="1674.9" width="3.2" height="1.5" fill="#a8a09f"/>
<polygon points="1087,1715 1117.7,1701.5 1146,1715 1114,1728" fill="url(#rcT)" />
<polygon points="1114,1728 1146,1715 1146,1734 1114,1749" fill="url(#rcS)" />
<polygon points="1064,1723 1087,1715 1114,1728 1105,1741" fill="#ff7d3c" />
<polygon points="1105,1741 1114,1728 1114,1751 1105,1762" fill="#d94c12" />
<polygon points="1064,1723 1105,1741 1105,1762 1063,1744" fill="url(#rcO)" />
<polyline points="286,288.5 519,288.5 628,388" fill="none" stroke="#e4572e" stroke-width="2.2" stroke-linejoin="round" stroke-linecap="round"/>
<polyline points="286,425 519,425 628,524" fill="none" stroke="#e4572e" stroke-width="2.2" stroke-linejoin="round" stroke-linecap="round"/>
<polyline points="286,578.5 518,578.5 628,677" fill="none" stroke="#e4572e" stroke-width="2.2" stroke-linejoin="round" stroke-linecap="round"/>
<polyline points="286,744 563,744 752,858" fill="none" stroke="#e4572e" stroke-width="2.2" stroke-linejoin="round" stroke-linecap="round"/>
<polyline points="327,868.5 580,868" fill="none" stroke="#e4572e" stroke-width="2.2" stroke-linejoin="round" stroke-linecap="round"/>
<polyline points="357,1019 524,1019 580,987" fill="none" stroke="#e4572e" stroke-width="2.2" stroke-linejoin="round" stroke-linecap="round"/>
<polyline points="360,1145 527,1145 580,1087" fill="none" stroke="#e4572e" stroke-width="2.2" stroke-linejoin="round" stroke-linecap="round"/>
<polyline points="364,1255 528,1255 663,1230" fill="none" stroke="#e4572e" stroke-width="2.2" stroke-linejoin="round" stroke-linecap="round"/>
<polyline points="359,1474.5 676,1474.5 728,1417" fill="none" stroke="#e4572e" stroke-width="2.2" stroke-linejoin="round" stroke-linecap="round"/>
<polyline points="938,1661.5 1166,1661.5" fill="none" stroke="#e4572e" stroke-width="2.2" stroke-linejoin="round" stroke-linecap="round"/>
<polyline points="806,1792 1016,1792 1062,1740" fill="none" stroke="#e4572e" stroke-width="2.2" stroke-linejoin="round" stroke-linecap="round"/>
<g font-family="'Liberation Sans', sans-serif" font-size="33.5" fill="#f6f6f6">
<text x="106" y="297" textLength="127" lengthAdjust="spacingAndGlyphs">Keycaps</text>
<text x="106" y="436" textLength="62" lengthAdjust="spacingAndGlyphs">Axis</text>
<text x="106" y="584" textLength="157" lengthAdjust="spacingAndGlyphs">Top Cover</text>
<text x="106" y="759" textLength="100" lengthAdjust="spacingAndGlyphs">Switch</text>
<text x="105" y="888" textLength="169" lengthAdjust="spacingAndGlyphs">Positioning</text>
<text x="105" y="927" textLength="76" lengthAdjust="spacingAndGlyphs">Plate</text>
<text x="105" y="1027" textLength="220" lengthAdjust="spacingAndGlyphs">EVA Sandwich</text>
<text x="105" y="1067.5" textLength="104" lengthAdjust="spacingAndGlyphs">Cotton</text>
<text x="105" y="1150.5" textLength="62" lengthAdjust="spacingAndGlyphs">PCB</text>
<text x="105" y="1191" textLength="200" lengthAdjust="spacingAndGlyphs">Motherboard</text>
<text x="105" y="1263" textLength="145" lengthAdjust="spacingAndGlyphs">2000mAh</text>
<text x="105" y="1302.5" textLength="111" lengthAdjust="spacingAndGlyphs">Battery</text>
<text x="105" y="1488.5" textLength="212" lengthAdjust="spacingAndGlyphs">Bottom Cover</text>
<text x="643" y="1673" textLength="282" lengthAdjust="spacingAndGlyphs">Dual-Stage Tripod</text>
<text x="657" y="1799.5" textLength="129" lengthAdjust="spacingAndGlyphs">Receiver</text>
</g>
</svg>
</body></html>
